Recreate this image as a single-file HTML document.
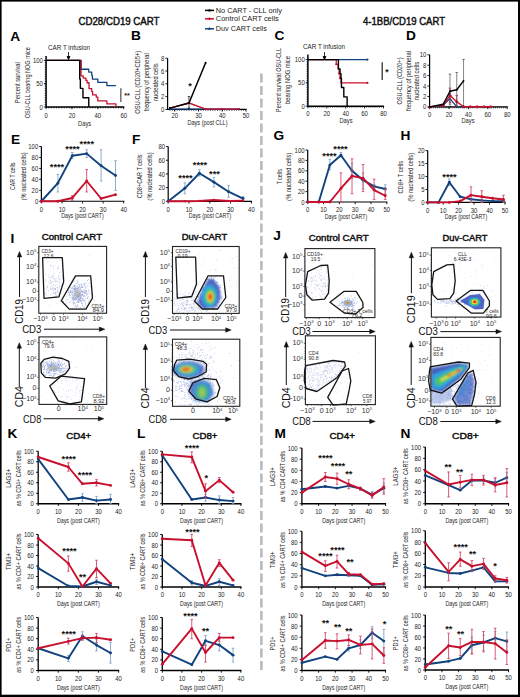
<!DOCTYPE html>
<html><head><meta charset="utf-8"><style>html,body{margin:0;padding:0;background:#fff;width:520px;height:697px;overflow:hidden}svg{display:block}</style></head>
<body><svg width="520" height="697" viewBox="0 0 520 697" font-family='"Liberation Sans", sans-serif'>
<rect width="520" height="697" fill="#fff"/>
<text x="119" y="25.4" font-size="10" text-anchor="middle" font-weight="normal" fill="#111" textLength="81" lengthAdjust="spacingAndGlyphs" stroke="#111" stroke-width="0.45">CD28/CD19 CART</text>
<text x="404" y="25.4" font-size="10" text-anchor="middle" font-weight="normal" fill="#111" textLength="82" lengthAdjust="spacingAndGlyphs" stroke="#111" stroke-width="0.45">4-1BB/CD19 CART</text>
<line x1="205.00" y1="10.40" x2="214.00" y2="10.40" stroke="#000" stroke-width="1.5"/>
<circle cx="209.5" cy="10.4" r="1.2" fill="#000"/>
<line x1="205.00" y1="18.80" x2="214.00" y2="18.80" stroke="#c8102e" stroke-width="1.5"/>
<circle cx="209.5" cy="18.8" r="1.2" fill="#c8102e"/>
<line x1="205.00" y1="28.80" x2="214.00" y2="28.80" stroke="#12427e" stroke-width="1.5"/>
<circle cx="209.5" cy="28.8" r="1.2" fill="#12427e"/>
<text x="215.8" y="13.0" font-size="8.0" text-anchor="start" font-weight="normal" fill="#222" textLength="66" lengthAdjust="spacingAndGlyphs">No CART - CLL only</text>
<text x="215.8" y="21.4" font-size="8.0" text-anchor="start" font-weight="normal" fill="#222" textLength="63" lengthAdjust="spacingAndGlyphs">Control CART cells</text>
<text x="215.8" y="31.4" font-size="8.0" text-anchor="start" font-weight="normal" fill="#222" textLength="51" lengthAdjust="spacingAndGlyphs">Duv CART cells</text>
<line x1="261.40" y1="73.50" x2="261.40" y2="671.00" stroke="#b9b9c1" stroke-width="2.6" stroke-dasharray="9,3.5"/>
<text x="10.2" y="40.8" font-size="13.7" text-anchor="start" font-weight="bold" fill="#000">A</text>
<text x="131" y="40.0" font-size="13.7" text-anchor="start" font-weight="bold" fill="#000">B</text>
<text x="274.6" y="40.0" font-size="13.7" text-anchor="start" font-weight="bold" fill="#000">C</text>
<text x="406" y="40.0" font-size="13.7" text-anchor="start" font-weight="bold" fill="#000">D</text>
<text x="11" y="143.75" font-size="13.7" text-anchor="start" font-weight="bold" fill="#000">E</text>
<text x="132" y="143.75" font-size="13.7" text-anchor="start" font-weight="bold" fill="#000">F</text>
<text x="273.6" y="139.5" font-size="13.7" text-anchor="start" font-weight="bold" fill="#000">G</text>
<text x="400.6" y="139.8" font-size="13.7" text-anchor="start" font-weight="bold" fill="#000">H</text>
<text x="10.6" y="243.2" font-size="13.7" text-anchor="start" font-weight="bold" fill="#000">I</text>
<text x="273.3" y="239.6" font-size="13.7" text-anchor="start" font-weight="bold" fill="#000">J</text>
<text x="7.5" y="438" font-size="13.7" text-anchor="start" font-weight="bold" fill="#000">K</text>
<text x="137" y="438" font-size="13.7" text-anchor="start" font-weight="bold" fill="#000">L</text>
<text x="274.5" y="438" font-size="13.7" text-anchor="start" font-weight="bold" fill="#000">M</text>
<text x="400.5" y="438" font-size="13.7" text-anchor="start" font-weight="bold" fill="#000">N</text>
<line x1="46.10" y1="107.00" x2="124.28" y2="107.00" stroke="#000" stroke-width="1.5"/>
<line x1="46.10" y1="107.60" x2="46.10" y2="55.90" stroke="#000" stroke-width="1.5"/>
<line x1="46.10" y1="107.00" x2="46.10" y2="109.20" stroke="#000" stroke-width="0.9"/>
<line x1="71.96" y1="107.00" x2="71.96" y2="109.20" stroke="#000" stroke-width="0.9"/>
<line x1="97.82" y1="107.00" x2="97.82" y2="109.20" stroke="#000" stroke-width="0.9"/>
<line x1="123.68" y1="107.00" x2="123.68" y2="109.20" stroke="#000" stroke-width="0.9"/>
<line x1="43.90" y1="107.00" x2="46.10" y2="107.00" stroke="#000" stroke-width="0.9"/>
<line x1="43.90" y1="83.70" x2="46.10" y2="83.70" stroke="#000" stroke-width="0.9"/>
<line x1="43.90" y1="60.40" x2="46.10" y2="60.40" stroke="#000" stroke-width="0.9"/>
<line x1="48.69" y1="107.00" x2="48.69" y2="108.40" stroke="#000" stroke-width="0.7"/>
<line x1="51.27" y1="107.00" x2="51.27" y2="108.40" stroke="#000" stroke-width="0.7"/>
<line x1="53.86" y1="107.00" x2="53.86" y2="108.40" stroke="#000" stroke-width="0.7"/>
<line x1="56.44" y1="107.00" x2="56.44" y2="108.40" stroke="#000" stroke-width="0.7"/>
<line x1="59.03" y1="107.00" x2="59.03" y2="108.40" stroke="#000" stroke-width="0.7"/>
<line x1="61.62" y1="107.00" x2="61.62" y2="108.40" stroke="#000" stroke-width="0.7"/>
<line x1="64.20" y1="107.00" x2="64.20" y2="108.40" stroke="#000" stroke-width="0.7"/>
<line x1="66.79" y1="107.00" x2="66.79" y2="108.40" stroke="#000" stroke-width="0.7"/>
<line x1="69.37" y1="107.00" x2="69.37" y2="108.40" stroke="#000" stroke-width="0.7"/>
<line x1="71.96" y1="107.00" x2="71.96" y2="108.40" stroke="#000" stroke-width="0.7"/>
<line x1="74.55" y1="107.00" x2="74.55" y2="108.40" stroke="#000" stroke-width="0.7"/>
<line x1="77.13" y1="107.00" x2="77.13" y2="108.40" stroke="#000" stroke-width="0.7"/>
<line x1="79.72" y1="107.00" x2="79.72" y2="108.40" stroke="#000" stroke-width="0.7"/>
<line x1="82.30" y1="107.00" x2="82.30" y2="108.40" stroke="#000" stroke-width="0.7"/>
<line x1="84.89" y1="107.00" x2="84.89" y2="108.40" stroke="#000" stroke-width="0.7"/>
<line x1="87.48" y1="107.00" x2="87.48" y2="108.40" stroke="#000" stroke-width="0.7"/>
<line x1="90.06" y1="107.00" x2="90.06" y2="108.40" stroke="#000" stroke-width="0.7"/>
<line x1="92.65" y1="107.00" x2="92.65" y2="108.40" stroke="#000" stroke-width="0.7"/>
<line x1="95.23" y1="107.00" x2="95.23" y2="108.40" stroke="#000" stroke-width="0.7"/>
<line x1="97.82" y1="107.00" x2="97.82" y2="108.40" stroke="#000" stroke-width="0.7"/>
<line x1="100.41" y1="107.00" x2="100.41" y2="108.40" stroke="#000" stroke-width="0.7"/>
<line x1="102.99" y1="107.00" x2="102.99" y2="108.40" stroke="#000" stroke-width="0.7"/>
<line x1="105.58" y1="107.00" x2="105.58" y2="108.40" stroke="#000" stroke-width="0.7"/>
<line x1="108.16" y1="107.00" x2="108.16" y2="108.40" stroke="#000" stroke-width="0.7"/>
<line x1="110.75" y1="107.00" x2="110.75" y2="108.40" stroke="#000" stroke-width="0.7"/>
<line x1="113.34" y1="107.00" x2="113.34" y2="108.40" stroke="#000" stroke-width="0.7"/>
<line x1="115.92" y1="107.00" x2="115.92" y2="108.40" stroke="#000" stroke-width="0.7"/>
<line x1="118.51" y1="107.00" x2="118.51" y2="108.40" stroke="#000" stroke-width="0.7"/>
<line x1="121.09" y1="107.00" x2="121.09" y2="108.40" stroke="#000" stroke-width="0.7"/>
<line x1="44.70" y1="104.67" x2="46.10" y2="104.67" stroke="#000" stroke-width="0.7"/>
<line x1="44.70" y1="102.34" x2="46.10" y2="102.34" stroke="#000" stroke-width="0.7"/>
<line x1="44.70" y1="100.01" x2="46.10" y2="100.01" stroke="#000" stroke-width="0.7"/>
<line x1="44.70" y1="97.68" x2="46.10" y2="97.68" stroke="#000" stroke-width="0.7"/>
<line x1="44.70" y1="95.35" x2="46.10" y2="95.35" stroke="#000" stroke-width="0.7"/>
<line x1="44.70" y1="93.02" x2="46.10" y2="93.02" stroke="#000" stroke-width="0.7"/>
<line x1="44.70" y1="90.69" x2="46.10" y2="90.69" stroke="#000" stroke-width="0.7"/>
<line x1="44.70" y1="88.36" x2="46.10" y2="88.36" stroke="#000" stroke-width="0.7"/>
<line x1="44.70" y1="86.03" x2="46.10" y2="86.03" stroke="#000" stroke-width="0.7"/>
<line x1="44.70" y1="83.70" x2="46.10" y2="83.70" stroke="#000" stroke-width="0.7"/>
<line x1="44.70" y1="81.37" x2="46.10" y2="81.37" stroke="#000" stroke-width="0.7"/>
<line x1="44.70" y1="79.04" x2="46.10" y2="79.04" stroke="#000" stroke-width="0.7"/>
<line x1="44.70" y1="76.71" x2="46.10" y2="76.71" stroke="#000" stroke-width="0.7"/>
<line x1="44.70" y1="74.38" x2="46.10" y2="74.38" stroke="#000" stroke-width="0.7"/>
<line x1="44.70" y1="72.05" x2="46.10" y2="72.05" stroke="#000" stroke-width="0.7"/>
<line x1="44.70" y1="69.72" x2="46.10" y2="69.72" stroke="#000" stroke-width="0.7"/>
<line x1="44.70" y1="67.39" x2="46.10" y2="67.39" stroke="#000" stroke-width="0.7"/>
<line x1="44.70" y1="65.06" x2="46.10" y2="65.06" stroke="#000" stroke-width="0.7"/>
<line x1="44.70" y1="62.73" x2="46.10" y2="62.73" stroke="#000" stroke-width="0.7"/>
<text x="46.10" y="117.80" font-size="7.1" text-anchor="middle" font-weight="normal" fill="#1e1e1e" textLength="3.3" lengthAdjust="spacingAndGlyphs">0</text>
<text x="71.96" y="117.80" font-size="7.1" text-anchor="middle" font-weight="normal" fill="#1e1e1e" textLength="6.6" lengthAdjust="spacingAndGlyphs">20</text>
<text x="97.82" y="117.80" font-size="7.1" text-anchor="middle" font-weight="normal" fill="#1e1e1e" textLength="6.6" lengthAdjust="spacingAndGlyphs">40</text>
<text x="123.68" y="117.80" font-size="7.1" text-anchor="middle" font-weight="normal" fill="#1e1e1e" textLength="6.6" lengthAdjust="spacingAndGlyphs">60</text>
<text x="42.90" y="109.56" font-size="7.1" text-anchor="end" font-weight="normal" fill="#1e1e1e" textLength="3.3" lengthAdjust="spacingAndGlyphs">0</text>
<text x="42.90" y="86.26" font-size="7.1" text-anchor="end" font-weight="normal" fill="#1e1e1e" textLength="6.6" lengthAdjust="spacingAndGlyphs">50</text>
<text x="42.90" y="62.96" font-size="7.1" text-anchor="end" font-weight="normal" fill="#1e1e1e" textLength="9.9" lengthAdjust="spacingAndGlyphs">100</text>
<text x="84.6" y="126" font-size="7.8" text-anchor="middle" font-weight="normal" fill="#1e1e1e" textLength="13" lengthAdjust="spacingAndGlyphs">Days</text>
<text x="17.80" y="82.70" font-size="8.0" text-anchor="middle" font-weight="normal" fill="#1e1e1e" textLength="41" lengthAdjust="spacingAndGlyphs" transform="rotate(-90 17.80 82.70)" dominant-baseline="central">Percent survival</text>
<text x="27.60" y="82.70" font-size="8.0" text-anchor="middle" font-weight="normal" fill="#1e1e1e" textLength="71" lengthAdjust="spacingAndGlyphs" transform="rotate(-90 27.60 82.70)" dominant-baseline="central">OSU-CLL bearing NOG mice</text>
<text x="69" y="49.6" font-size="6.6" text-anchor="middle" font-weight="normal" fill="#222" textLength="42" lengthAdjust="spacingAndGlyphs">CAR T infusion</text>
<line x1="68.50" y1="52.00" x2="68.50" y2="59.00" stroke="#000" stroke-width="0.8"/>
<polygon points="67.00,56.50 68.50,59.50 70.00,56.50" stroke="#000" stroke-width="0.8" fill="#000" stroke-linejoin="round"/>
<polyline points="46.10,60.40 81.01,60.40 81.01,69.25 88.77,69.25 88.77,72.05 91.74,72.05 91.74,75.31 92.39,75.31 92.39,79.04 97.82,79.04 97.82,82.30 106.87,82.30 106.87,85.56 115.92,85.56" stroke="#12427e" stroke-width="1.3" fill="none" stroke-linejoin="round"/>
<polyline points="46.10,60.40 81.01,60.40 81.01,75.78 83.21,75.78 83.21,78.11 85.92,78.11 85.92,80.44 87.09,80.44 87.09,82.77 89.03,82.77 89.03,88.59 91.74,88.59 91.74,91.62 92.65,91.62 92.65,94.88 96.27,94.88 96.27,97.21 97.82,97.21 97.82,100.94 106.87,100.94 106.87,103.92 115.92,103.92 115.92,107.00" stroke="#c8102e" stroke-width="1.3" fill="none" stroke-linejoin="round"/>
<polyline points="46.10,60.40 79.72,60.40 79.72,79.04 80.36,79.04 80.36,88.36 82.95,88.36 82.95,97.68 88.77,97.68 88.77,107.00" stroke="#000" stroke-width="1.4" fill="none" stroke-linejoin="round"/>
<line x1="120.80" y1="88.30" x2="120.80" y2="102.10" stroke="#777" stroke-width="1.6"/>
<text x="127" y="97.5" font-size="7" text-anchor="middle" font-weight="bold" fill="#222">**</text>
<line x1="167.60" y1="109.40" x2="246.60" y2="109.40" stroke="#000" stroke-width="1.2"/>
<line x1="167.60" y1="110.00" x2="167.60" y2="58.20" stroke="#000" stroke-width="1.2"/>
<line x1="174.73" y1="109.40" x2="174.73" y2="111.60" stroke="#000" stroke-width="0.9"/>
<line x1="198.50" y1="109.40" x2="198.50" y2="111.60" stroke="#000" stroke-width="0.9"/>
<line x1="222.27" y1="109.40" x2="222.27" y2="111.60" stroke="#000" stroke-width="0.9"/>
<line x1="246.04" y1="109.40" x2="246.04" y2="111.60" stroke="#000" stroke-width="0.9"/>
<line x1="165.40" y1="109.40" x2="167.60" y2="109.40" stroke="#000" stroke-width="0.9"/>
<line x1="165.40" y1="96.60" x2="167.60" y2="96.60" stroke="#000" stroke-width="0.9"/>
<line x1="165.40" y1="83.80" x2="167.60" y2="83.80" stroke="#000" stroke-width="0.9"/>
<line x1="165.40" y1="71.00" x2="167.60" y2="71.00" stroke="#000" stroke-width="0.9"/>
<line x1="165.40" y1="58.20" x2="167.60" y2="58.20" stroke="#000" stroke-width="0.9"/>
<line x1="169.98" y1="109.40" x2="169.98" y2="110.80" stroke="#000" stroke-width="0.7"/>
<line x1="172.35" y1="109.40" x2="172.35" y2="110.80" stroke="#000" stroke-width="0.7"/>
<line x1="174.73" y1="109.40" x2="174.73" y2="110.80" stroke="#000" stroke-width="0.7"/>
<line x1="177.11" y1="109.40" x2="177.11" y2="110.80" stroke="#000" stroke-width="0.7"/>
<line x1="179.48" y1="109.40" x2="179.48" y2="110.80" stroke="#000" stroke-width="0.7"/>
<line x1="181.86" y1="109.40" x2="181.86" y2="110.80" stroke="#000" stroke-width="0.7"/>
<line x1="184.24" y1="109.40" x2="184.24" y2="110.80" stroke="#000" stroke-width="0.7"/>
<line x1="186.62" y1="109.40" x2="186.62" y2="110.80" stroke="#000" stroke-width="0.7"/>
<line x1="188.99" y1="109.40" x2="188.99" y2="110.80" stroke="#000" stroke-width="0.7"/>
<line x1="191.37" y1="109.40" x2="191.37" y2="110.80" stroke="#000" stroke-width="0.7"/>
<line x1="193.75" y1="109.40" x2="193.75" y2="110.80" stroke="#000" stroke-width="0.7"/>
<line x1="196.12" y1="109.40" x2="196.12" y2="110.80" stroke="#000" stroke-width="0.7"/>
<line x1="198.50" y1="109.40" x2="198.50" y2="110.80" stroke="#000" stroke-width="0.7"/>
<line x1="200.88" y1="109.40" x2="200.88" y2="110.80" stroke="#000" stroke-width="0.7"/>
<line x1="203.25" y1="109.40" x2="203.25" y2="110.80" stroke="#000" stroke-width="0.7"/>
<line x1="205.63" y1="109.40" x2="205.63" y2="110.80" stroke="#000" stroke-width="0.7"/>
<line x1="208.01" y1="109.40" x2="208.01" y2="110.80" stroke="#000" stroke-width="0.7"/>
<line x1="210.39" y1="109.40" x2="210.39" y2="110.80" stroke="#000" stroke-width="0.7"/>
<line x1="212.76" y1="109.40" x2="212.76" y2="110.80" stroke="#000" stroke-width="0.7"/>
<line x1="215.14" y1="109.40" x2="215.14" y2="110.80" stroke="#000" stroke-width="0.7"/>
<line x1="217.52" y1="109.40" x2="217.52" y2="110.80" stroke="#000" stroke-width="0.7"/>
<line x1="219.89" y1="109.40" x2="219.89" y2="110.80" stroke="#000" stroke-width="0.7"/>
<line x1="222.27" y1="109.40" x2="222.27" y2="110.80" stroke="#000" stroke-width="0.7"/>
<line x1="224.65" y1="109.40" x2="224.65" y2="110.80" stroke="#000" stroke-width="0.7"/>
<line x1="227.02" y1="109.40" x2="227.02" y2="110.80" stroke="#000" stroke-width="0.7"/>
<line x1="229.40" y1="109.40" x2="229.40" y2="110.80" stroke="#000" stroke-width="0.7"/>
<line x1="231.78" y1="109.40" x2="231.78" y2="110.80" stroke="#000" stroke-width="0.7"/>
<line x1="234.16" y1="109.40" x2="234.16" y2="110.80" stroke="#000" stroke-width="0.7"/>
<line x1="236.53" y1="109.40" x2="236.53" y2="110.80" stroke="#000" stroke-width="0.7"/>
<line x1="238.91" y1="109.40" x2="238.91" y2="110.80" stroke="#000" stroke-width="0.7"/>
<line x1="241.29" y1="109.40" x2="241.29" y2="110.80" stroke="#000" stroke-width="0.7"/>
<line x1="243.66" y1="109.40" x2="243.66" y2="110.80" stroke="#000" stroke-width="0.7"/>
<text x="174.73" y="118.00" font-size="7.1" text-anchor="middle" font-weight="normal" fill="#1e1e1e" textLength="6.6" lengthAdjust="spacingAndGlyphs">20</text>
<text x="198.50" y="118.00" font-size="7.1" text-anchor="middle" font-weight="normal" fill="#1e1e1e" textLength="6.6" lengthAdjust="spacingAndGlyphs">30</text>
<text x="222.27" y="118.00" font-size="7.1" text-anchor="middle" font-weight="normal" fill="#1e1e1e" textLength="6.6" lengthAdjust="spacingAndGlyphs">40</text>
<text x="246.04" y="118.00" font-size="7.1" text-anchor="middle" font-weight="normal" fill="#1e1e1e" textLength="6.6" lengthAdjust="spacingAndGlyphs">50</text>
<text x="164.40" y="111.96" font-size="7.1" text-anchor="end" font-weight="normal" fill="#1e1e1e" textLength="3.3" lengthAdjust="spacingAndGlyphs">0</text>
<text x="164.40" y="99.16" font-size="7.1" text-anchor="end" font-weight="normal" fill="#1e1e1e" textLength="3.3" lengthAdjust="spacingAndGlyphs">2</text>
<text x="164.40" y="86.36" font-size="7.1" text-anchor="end" font-weight="normal" fill="#1e1e1e" textLength="3.3" lengthAdjust="spacingAndGlyphs">4</text>
<text x="164.40" y="73.56" font-size="7.1" text-anchor="end" font-weight="normal" fill="#1e1e1e" textLength="3.3" lengthAdjust="spacingAndGlyphs">6</text>
<text x="164.40" y="60.76" font-size="7.1" text-anchor="end" font-weight="normal" fill="#1e1e1e" textLength="3.3" lengthAdjust="spacingAndGlyphs">8</text>
<text x="207.5" y="124.5" font-size="7.8" text-anchor="middle" font-weight="normal" fill="#1e1e1e" textLength="40" lengthAdjust="spacingAndGlyphs">Days (post CLL)</text>
<text x="137.50" y="82.30" font-size="8.0" text-anchor="middle" font-weight="normal" fill="#1e1e1e" textLength="63" lengthAdjust="spacingAndGlyphs" transform="rotate(-90 137.50 82.30)" dominant-baseline="central">OSU-CLL (CD20+CD5+)</text>
<text x="146.40" y="82.30" font-size="8.0" text-anchor="middle" font-weight="normal" fill="#1e1e1e" textLength="58" lengthAdjust="spacingAndGlyphs" transform="rotate(-90 146.40 82.30)" dominant-baseline="central">frequency of peripheral</text>
<text x="155.30" y="82.30" font-size="8.0" text-anchor="middle" font-weight="normal" fill="#1e1e1e" textLength="37.7" lengthAdjust="spacingAndGlyphs" transform="rotate(-90 155.30 82.30)" dominant-baseline="central">nucleated cells</text>
<polyline points="169.98,109.08 188.99,109.08 205.63,109.08 222.27,109.08 238.91,109.08" stroke="#12427e" stroke-width="1.4" fill="none" stroke-linejoin="round"/>
<circle cx="169.98" cy="109.08" r="1.0" fill="#12427e"/>
<circle cx="188.99" cy="109.08" r="1.0" fill="#12427e"/>
<circle cx="205.63" cy="109.08" r="1.0" fill="#12427e"/>
<circle cx="222.27" cy="109.08" r="1.0" fill="#12427e"/>
<circle cx="238.91" cy="109.08" r="1.0" fill="#12427e"/>
<polyline points="169.98,108.12 188.99,103.00 205.63,109.08 222.27,109.08 238.91,109.08" stroke="#c8102e" stroke-width="1.4" fill="none" stroke-linejoin="round"/>
<circle cx="169.98" cy="108.12" r="1.0" fill="#c8102e"/>
<circle cx="188.99" cy="103.00" r="1.0" fill="#c8102e"/>
<circle cx="205.63" cy="109.08" r="1.0" fill="#c8102e"/>
<circle cx="222.27" cy="109.08" r="1.0" fill="#c8102e"/>
<circle cx="238.91" cy="109.08" r="1.0" fill="#c8102e"/>
<line x1="188.99" y1="108.12" x2="188.99" y2="96.60" stroke="#000" stroke-width="0.7"/>
<line x1="187.69" y1="108.12" x2="190.29" y2="108.12" stroke="#000" stroke-width="0.7"/>
<line x1="187.69" y1="96.60" x2="190.29" y2="96.60" stroke="#000" stroke-width="0.7"/>
<polyline points="169.98,108.12 188.99,103.00 205.63,62.68" stroke="#000" stroke-width="1.5" fill="none" stroke-linejoin="round"/>
<circle cx="169.98" cy="108.12" r="1.0" fill="#000"/>
<circle cx="188.99" cy="103.00" r="1.0" fill="#000"/>
<circle cx="205.63" cy="62.68" r="1.0" fill="#000"/>
<text x="190.00" y="88.50" font-size="9.0" text-anchor="middle" font-weight="bold" fill="#111" textLength="3.60" lengthAdjust="spacingAndGlyphs">*</text>
<line x1="307.90" y1="106.20" x2="384.10" y2="106.20" stroke="#000" stroke-width="1.5"/>
<line x1="307.90" y1="106.80" x2="307.90" y2="54.60" stroke="#000" stroke-width="1.5"/>
<line x1="307.90" y1="106.20" x2="307.90" y2="108.40" stroke="#000" stroke-width="0.9"/>
<line x1="326.80" y1="106.20" x2="326.80" y2="108.40" stroke="#000" stroke-width="0.9"/>
<line x1="345.70" y1="106.20" x2="345.70" y2="108.40" stroke="#000" stroke-width="0.9"/>
<line x1="364.60" y1="106.20" x2="364.60" y2="108.40" stroke="#000" stroke-width="0.9"/>
<line x1="383.50" y1="106.20" x2="383.50" y2="108.40" stroke="#000" stroke-width="0.9"/>
<line x1="305.70" y1="106.20" x2="307.90" y2="106.20" stroke="#000" stroke-width="0.9"/>
<line x1="305.70" y1="82.90" x2="307.90" y2="82.90" stroke="#000" stroke-width="0.9"/>
<line x1="305.70" y1="59.60" x2="307.90" y2="59.60" stroke="#000" stroke-width="0.9"/>
<line x1="309.79" y1="106.20" x2="309.79" y2="107.60" stroke="#000" stroke-width="0.7"/>
<line x1="311.68" y1="106.20" x2="311.68" y2="107.60" stroke="#000" stroke-width="0.7"/>
<line x1="313.57" y1="106.20" x2="313.57" y2="107.60" stroke="#000" stroke-width="0.7"/>
<line x1="315.46" y1="106.20" x2="315.46" y2="107.60" stroke="#000" stroke-width="0.7"/>
<line x1="317.35" y1="106.20" x2="317.35" y2="107.60" stroke="#000" stroke-width="0.7"/>
<line x1="319.24" y1="106.20" x2="319.24" y2="107.60" stroke="#000" stroke-width="0.7"/>
<line x1="321.13" y1="106.20" x2="321.13" y2="107.60" stroke="#000" stroke-width="0.7"/>
<line x1="323.02" y1="106.20" x2="323.02" y2="107.60" stroke="#000" stroke-width="0.7"/>
<line x1="324.91" y1="106.20" x2="324.91" y2="107.60" stroke="#000" stroke-width="0.7"/>
<line x1="326.80" y1="106.20" x2="326.80" y2="107.60" stroke="#000" stroke-width="0.7"/>
<line x1="328.69" y1="106.20" x2="328.69" y2="107.60" stroke="#000" stroke-width="0.7"/>
<line x1="330.58" y1="106.20" x2="330.58" y2="107.60" stroke="#000" stroke-width="0.7"/>
<line x1="332.47" y1="106.20" x2="332.47" y2="107.60" stroke="#000" stroke-width="0.7"/>
<line x1="334.36" y1="106.20" x2="334.36" y2="107.60" stroke="#000" stroke-width="0.7"/>
<line x1="336.25" y1="106.20" x2="336.25" y2="107.60" stroke="#000" stroke-width="0.7"/>
<line x1="338.14" y1="106.20" x2="338.14" y2="107.60" stroke="#000" stroke-width="0.7"/>
<line x1="340.03" y1="106.20" x2="340.03" y2="107.60" stroke="#000" stroke-width="0.7"/>
<line x1="341.92" y1="106.20" x2="341.92" y2="107.60" stroke="#000" stroke-width="0.7"/>
<line x1="343.81" y1="106.20" x2="343.81" y2="107.60" stroke="#000" stroke-width="0.7"/>
<line x1="345.70" y1="106.20" x2="345.70" y2="107.60" stroke="#000" stroke-width="0.7"/>
<line x1="347.59" y1="106.20" x2="347.59" y2="107.60" stroke="#000" stroke-width="0.7"/>
<line x1="349.48" y1="106.20" x2="349.48" y2="107.60" stroke="#000" stroke-width="0.7"/>
<line x1="351.37" y1="106.20" x2="351.37" y2="107.60" stroke="#000" stroke-width="0.7"/>
<line x1="353.26" y1="106.20" x2="353.26" y2="107.60" stroke="#000" stroke-width="0.7"/>
<line x1="355.15" y1="106.20" x2="355.15" y2="107.60" stroke="#000" stroke-width="0.7"/>
<line x1="357.04" y1="106.20" x2="357.04" y2="107.60" stroke="#000" stroke-width="0.7"/>
<line x1="358.93" y1="106.20" x2="358.93" y2="107.60" stroke="#000" stroke-width="0.7"/>
<line x1="360.82" y1="106.20" x2="360.82" y2="107.60" stroke="#000" stroke-width="0.7"/>
<line x1="362.71" y1="106.20" x2="362.71" y2="107.60" stroke="#000" stroke-width="0.7"/>
<line x1="364.60" y1="106.20" x2="364.60" y2="107.60" stroke="#000" stroke-width="0.7"/>
<line x1="366.49" y1="106.20" x2="366.49" y2="107.60" stroke="#000" stroke-width="0.7"/>
<line x1="368.38" y1="106.20" x2="368.38" y2="107.60" stroke="#000" stroke-width="0.7"/>
<line x1="370.27" y1="106.20" x2="370.27" y2="107.60" stroke="#000" stroke-width="0.7"/>
<line x1="372.16" y1="106.20" x2="372.16" y2="107.60" stroke="#000" stroke-width="0.7"/>
<line x1="374.05" y1="106.20" x2="374.05" y2="107.60" stroke="#000" stroke-width="0.7"/>
<line x1="375.94" y1="106.20" x2="375.94" y2="107.60" stroke="#000" stroke-width="0.7"/>
<line x1="377.83" y1="106.20" x2="377.83" y2="107.60" stroke="#000" stroke-width="0.7"/>
<line x1="379.72" y1="106.20" x2="379.72" y2="107.60" stroke="#000" stroke-width="0.7"/>
<line x1="381.61" y1="106.20" x2="381.61" y2="107.60" stroke="#000" stroke-width="0.7"/>
<line x1="306.50" y1="103.87" x2="307.90" y2="103.87" stroke="#000" stroke-width="0.7"/>
<line x1="306.50" y1="101.54" x2="307.90" y2="101.54" stroke="#000" stroke-width="0.7"/>
<line x1="306.50" y1="99.21" x2="307.90" y2="99.21" stroke="#000" stroke-width="0.7"/>
<line x1="306.50" y1="96.88" x2="307.90" y2="96.88" stroke="#000" stroke-width="0.7"/>
<line x1="306.50" y1="94.55" x2="307.90" y2="94.55" stroke="#000" stroke-width="0.7"/>
<line x1="306.50" y1="92.22" x2="307.90" y2="92.22" stroke="#000" stroke-width="0.7"/>
<line x1="306.50" y1="89.89" x2="307.90" y2="89.89" stroke="#000" stroke-width="0.7"/>
<line x1="306.50" y1="87.56" x2="307.90" y2="87.56" stroke="#000" stroke-width="0.7"/>
<line x1="306.50" y1="85.23" x2="307.90" y2="85.23" stroke="#000" stroke-width="0.7"/>
<line x1="306.50" y1="82.90" x2="307.90" y2="82.90" stroke="#000" stroke-width="0.7"/>
<line x1="306.50" y1="80.57" x2="307.90" y2="80.57" stroke="#000" stroke-width="0.7"/>
<line x1="306.50" y1="78.24" x2="307.90" y2="78.24" stroke="#000" stroke-width="0.7"/>
<line x1="306.50" y1="75.91" x2="307.90" y2="75.91" stroke="#000" stroke-width="0.7"/>
<line x1="306.50" y1="73.58" x2="307.90" y2="73.58" stroke="#000" stroke-width="0.7"/>
<line x1="306.50" y1="71.25" x2="307.90" y2="71.25" stroke="#000" stroke-width="0.7"/>
<line x1="306.50" y1="68.92" x2="307.90" y2="68.92" stroke="#000" stroke-width="0.7"/>
<line x1="306.50" y1="66.59" x2="307.90" y2="66.59" stroke="#000" stroke-width="0.7"/>
<line x1="306.50" y1="64.26" x2="307.90" y2="64.26" stroke="#000" stroke-width="0.7"/>
<line x1="306.50" y1="61.93" x2="307.90" y2="61.93" stroke="#000" stroke-width="0.7"/>
<text x="307.90" y="116.20" font-size="7.1" text-anchor="middle" font-weight="normal" fill="#1e1e1e" textLength="3.3" lengthAdjust="spacingAndGlyphs">0</text>
<text x="326.80" y="116.20" font-size="7.1" text-anchor="middle" font-weight="normal" fill="#1e1e1e" textLength="6.6" lengthAdjust="spacingAndGlyphs">20</text>
<text x="345.70" y="116.20" font-size="7.1" text-anchor="middle" font-weight="normal" fill="#1e1e1e" textLength="6.6" lengthAdjust="spacingAndGlyphs">40</text>
<text x="364.60" y="116.20" font-size="7.1" text-anchor="middle" font-weight="normal" fill="#1e1e1e" textLength="6.6" lengthAdjust="spacingAndGlyphs">60</text>
<text x="383.50" y="116.20" font-size="7.1" text-anchor="middle" font-weight="normal" fill="#1e1e1e" textLength="6.6" lengthAdjust="spacingAndGlyphs">80</text>
<text x="304.70" y="108.76" font-size="7.1" text-anchor="end" font-weight="normal" fill="#1e1e1e" textLength="3.3" lengthAdjust="spacingAndGlyphs">0</text>
<text x="304.70" y="85.46" font-size="7.1" text-anchor="end" font-weight="normal" fill="#1e1e1e" textLength="6.6" lengthAdjust="spacingAndGlyphs">50</text>
<text x="304.70" y="62.16" font-size="7.1" text-anchor="end" font-weight="normal" fill="#1e1e1e" textLength="9.9" lengthAdjust="spacingAndGlyphs">100</text>
<text x="346" y="123" font-size="7.8" text-anchor="middle" font-weight="normal" fill="#1e1e1e" textLength="13" lengthAdjust="spacingAndGlyphs">Days</text>
<text x="278.40" y="80.00" font-size="8.0" text-anchor="middle" font-weight="normal" fill="#1e1e1e" textLength="64" lengthAdjust="spacingAndGlyphs" transform="rotate(-90 278.40 80.00)" dominant-baseline="central">Percent survival OSU-CLL</text>
<text x="287.60" y="80.00" font-size="8.0" text-anchor="middle" font-weight="normal" fill="#1e1e1e" textLength="48" lengthAdjust="spacingAndGlyphs" transform="rotate(-90 287.60 80.00)" dominant-baseline="central">bearing NOG mice</text>
<text x="324" y="49.4" font-size="6.6" text-anchor="middle" font-weight="normal" fill="#222" textLength="42" lengthAdjust="spacingAndGlyphs">CAR T infusion</text>
<line x1="324.50" y1="52.00" x2="324.50" y2="59.00" stroke="#000" stroke-width="0.8"/>
<polygon points="323.00,56.50 324.50,59.50 326.00,56.50" stroke="#000" stroke-width="0.8" fill="#000" stroke-linejoin="round"/>
<polyline points="307.90,59.60 367.43,59.60" stroke="#12427e" stroke-width="1.2" fill="none" stroke-linejoin="round"/>
<circle cx="367.43" cy="59.60" r="1.1" fill="#12427e"/>
<polyline points="307.90,59.60 336.25,59.60 336.25,64.26 338.14,64.26 338.14,68.92 339.08,68.92 339.08,73.58 340.03,73.58 340.03,78.24 340.97,78.24 340.97,82.90 367.43,82.90" stroke="#c8102e" stroke-width="1.2" fill="none" stroke-linejoin="round"/>
<circle cx="336.25" cy="64.26" r="1.1" fill="#c8102e"/>
<circle cx="339.08" cy="73.58" r="1.1" fill="#c8102e"/>
<circle cx="340.03" cy="78.24" r="1.1" fill="#c8102e"/>
<circle cx="367.43" cy="82.90" r="1.1" fill="#c8102e"/>
<polyline points="307.90,59.60 338.42,59.60 338.42,68.92 340.03,68.92 340.03,73.58 340.97,73.58 340.97,78.24 341.45,78.24 341.45,87.56 343.81,87.56 343.81,96.88 347.12,96.88 347.12,106.20" stroke="#000" stroke-width="1.4" fill="none" stroke-linejoin="round"/>
<line x1="382.20" y1="62.30" x2="382.20" y2="80.00" stroke="#222" stroke-width="1.2"/>
<text x="387" y="74.8" font-size="8.6" text-anchor="middle" font-weight="bold" fill="#111">*</text>
<line x1="429.60" y1="106.90" x2="507.80" y2="106.90" stroke="#000" stroke-width="1.2"/>
<line x1="429.60" y1="107.50" x2="429.60" y2="54.80" stroke="#000" stroke-width="1.2"/>
<line x1="429.60" y1="106.90" x2="429.60" y2="109.10" stroke="#000" stroke-width="0.9"/>
<line x1="449.00" y1="106.90" x2="449.00" y2="109.10" stroke="#000" stroke-width="0.9"/>
<line x1="468.40" y1="106.90" x2="468.40" y2="109.10" stroke="#000" stroke-width="0.9"/>
<line x1="487.80" y1="106.90" x2="487.80" y2="109.10" stroke="#000" stroke-width="0.9"/>
<line x1="507.20" y1="106.90" x2="507.20" y2="109.10" stroke="#000" stroke-width="0.9"/>
<line x1="427.40" y1="106.90" x2="429.60" y2="106.90" stroke="#000" stroke-width="0.9"/>
<line x1="427.40" y1="96.48" x2="429.60" y2="96.48" stroke="#000" stroke-width="0.9"/>
<line x1="427.40" y1="86.06" x2="429.60" y2="86.06" stroke="#000" stroke-width="0.9"/>
<line x1="427.40" y1="75.64" x2="429.60" y2="75.64" stroke="#000" stroke-width="0.9"/>
<line x1="427.40" y1="65.22" x2="429.60" y2="65.22" stroke="#000" stroke-width="0.9"/>
<line x1="427.40" y1="54.80" x2="429.60" y2="54.80" stroke="#000" stroke-width="0.9"/>
<line x1="431.54" y1="106.90" x2="431.54" y2="108.30" stroke="#000" stroke-width="0.7"/>
<line x1="433.48" y1="106.90" x2="433.48" y2="108.30" stroke="#000" stroke-width="0.7"/>
<line x1="435.42" y1="106.90" x2="435.42" y2="108.30" stroke="#000" stroke-width="0.7"/>
<line x1="437.36" y1="106.90" x2="437.36" y2="108.30" stroke="#000" stroke-width="0.7"/>
<line x1="439.30" y1="106.90" x2="439.30" y2="108.30" stroke="#000" stroke-width="0.7"/>
<line x1="441.24" y1="106.90" x2="441.24" y2="108.30" stroke="#000" stroke-width="0.7"/>
<line x1="443.18" y1="106.90" x2="443.18" y2="108.30" stroke="#000" stroke-width="0.7"/>
<line x1="445.12" y1="106.90" x2="445.12" y2="108.30" stroke="#000" stroke-width="0.7"/>
<line x1="447.06" y1="106.90" x2="447.06" y2="108.30" stroke="#000" stroke-width="0.7"/>
<line x1="449.00" y1="106.90" x2="449.00" y2="108.30" stroke="#000" stroke-width="0.7"/>
<line x1="450.94" y1="106.90" x2="450.94" y2="108.30" stroke="#000" stroke-width="0.7"/>
<line x1="452.88" y1="106.90" x2="452.88" y2="108.30" stroke="#000" stroke-width="0.7"/>
<line x1="454.82" y1="106.90" x2="454.82" y2="108.30" stroke="#000" stroke-width="0.7"/>
<line x1="456.76" y1="106.90" x2="456.76" y2="108.30" stroke="#000" stroke-width="0.7"/>
<line x1="458.70" y1="106.90" x2="458.70" y2="108.30" stroke="#000" stroke-width="0.7"/>
<line x1="460.64" y1="106.90" x2="460.64" y2="108.30" stroke="#000" stroke-width="0.7"/>
<line x1="462.58" y1="106.90" x2="462.58" y2="108.30" stroke="#000" stroke-width="0.7"/>
<line x1="464.52" y1="106.90" x2="464.52" y2="108.30" stroke="#000" stroke-width="0.7"/>
<line x1="466.46" y1="106.90" x2="466.46" y2="108.30" stroke="#000" stroke-width="0.7"/>
<line x1="468.40" y1="106.90" x2="468.40" y2="108.30" stroke="#000" stroke-width="0.7"/>
<line x1="470.34" y1="106.90" x2="470.34" y2="108.30" stroke="#000" stroke-width="0.7"/>
<line x1="472.28" y1="106.90" x2="472.28" y2="108.30" stroke="#000" stroke-width="0.7"/>
<line x1="474.22" y1="106.90" x2="474.22" y2="108.30" stroke="#000" stroke-width="0.7"/>
<line x1="476.16" y1="106.90" x2="476.16" y2="108.30" stroke="#000" stroke-width="0.7"/>
<line x1="478.10" y1="106.90" x2="478.10" y2="108.30" stroke="#000" stroke-width="0.7"/>
<line x1="480.04" y1="106.90" x2="480.04" y2="108.30" stroke="#000" stroke-width="0.7"/>
<line x1="481.98" y1="106.90" x2="481.98" y2="108.30" stroke="#000" stroke-width="0.7"/>
<line x1="483.92" y1="106.90" x2="483.92" y2="108.30" stroke="#000" stroke-width="0.7"/>
<line x1="485.86" y1="106.90" x2="485.86" y2="108.30" stroke="#000" stroke-width="0.7"/>
<line x1="487.80" y1="106.90" x2="487.80" y2="108.30" stroke="#000" stroke-width="0.7"/>
<line x1="489.74" y1="106.90" x2="489.74" y2="108.30" stroke="#000" stroke-width="0.7"/>
<line x1="491.68" y1="106.90" x2="491.68" y2="108.30" stroke="#000" stroke-width="0.7"/>
<line x1="493.62" y1="106.90" x2="493.62" y2="108.30" stroke="#000" stroke-width="0.7"/>
<line x1="495.56" y1="106.90" x2="495.56" y2="108.30" stroke="#000" stroke-width="0.7"/>
<line x1="497.50" y1="106.90" x2="497.50" y2="108.30" stroke="#000" stroke-width="0.7"/>
<line x1="499.44" y1="106.90" x2="499.44" y2="108.30" stroke="#000" stroke-width="0.7"/>
<line x1="501.38" y1="106.90" x2="501.38" y2="108.30" stroke="#000" stroke-width="0.7"/>
<line x1="503.32" y1="106.90" x2="503.32" y2="108.30" stroke="#000" stroke-width="0.7"/>
<line x1="505.26" y1="106.90" x2="505.26" y2="108.30" stroke="#000" stroke-width="0.7"/>
<text x="429.60" y="117.30" font-size="7.1" text-anchor="middle" font-weight="normal" fill="#1e1e1e" textLength="3.3" lengthAdjust="spacingAndGlyphs">0</text>
<text x="449.00" y="117.30" font-size="7.1" text-anchor="middle" font-weight="normal" fill="#1e1e1e" textLength="6.6" lengthAdjust="spacingAndGlyphs">20</text>
<text x="468.40" y="117.30" font-size="7.1" text-anchor="middle" font-weight="normal" fill="#1e1e1e" textLength="6.6" lengthAdjust="spacingAndGlyphs">40</text>
<text x="487.80" y="117.30" font-size="7.1" text-anchor="middle" font-weight="normal" fill="#1e1e1e" textLength="6.6" lengthAdjust="spacingAndGlyphs">60</text>
<text x="507.20" y="117.30" font-size="7.1" text-anchor="middle" font-weight="normal" fill="#1e1e1e" textLength="6.6" lengthAdjust="spacingAndGlyphs">80</text>
<text x="426.40" y="109.46" font-size="7.1" text-anchor="end" font-weight="normal" fill="#1e1e1e" textLength="3.3" lengthAdjust="spacingAndGlyphs">0</text>
<text x="426.40" y="99.04" font-size="7.1" text-anchor="end" font-weight="normal" fill="#1e1e1e" textLength="3.3" lengthAdjust="spacingAndGlyphs">2</text>
<text x="426.40" y="88.62" font-size="7.1" text-anchor="end" font-weight="normal" fill="#1e1e1e" textLength="3.3" lengthAdjust="spacingAndGlyphs">4</text>
<text x="426.40" y="78.20" font-size="7.1" text-anchor="end" font-weight="normal" fill="#1e1e1e" textLength="3.3" lengthAdjust="spacingAndGlyphs">6</text>
<text x="426.40" y="67.78" font-size="7.1" text-anchor="end" font-weight="normal" fill="#1e1e1e" textLength="3.3" lengthAdjust="spacingAndGlyphs">8</text>
<text x="426.40" y="57.36" font-size="7.1" text-anchor="end" font-weight="normal" fill="#1e1e1e" textLength="6.6" lengthAdjust="spacingAndGlyphs">10</text>
<text x="468" y="122.5" font-size="7.8" text-anchor="middle" font-weight="normal" fill="#1e1e1e" textLength="13" lengthAdjust="spacingAndGlyphs">Days</text>
<text x="399.80" y="81.00" font-size="8.0" text-anchor="middle" font-weight="normal" fill="#1e1e1e" textLength="47" lengthAdjust="spacingAndGlyphs" transform="rotate(-90 399.80 81.00)" dominant-baseline="central">OSU-CLL (CD20+)</text>
<text x="408.00" y="81.00" font-size="8.0" text-anchor="middle" font-weight="normal" fill="#1e1e1e" textLength="60" lengthAdjust="spacingAndGlyphs" transform="rotate(-90 408.00 81.00)" dominant-baseline="central">frequency of peripheral</text>
<text x="416.20" y="81.00" font-size="8.0" text-anchor="middle" font-weight="normal" fill="#1e1e1e" textLength="38.5" lengthAdjust="spacingAndGlyphs" transform="rotate(-90 416.20 81.00)" dominant-baseline="central">nucleated cells</text>
<line x1="449.97" y1="104.30" x2="449.97" y2="93.35" stroke="#7fa6cc" stroke-width="0.9"/>
<line x1="448.67" y1="104.30" x2="451.27" y2="104.30" stroke="#7fa6cc" stroke-width="0.9"/>
<line x1="448.67" y1="93.35" x2="451.27" y2="93.35" stroke="#7fa6cc" stroke-width="0.9"/>
<polyline points="429.60,106.90 443.18,105.34 449.97,98.56 456.76,106.90 463.55,106.90" stroke="#12427e" stroke-width="1.3" fill="none" stroke-linejoin="round"/>
<circle cx="429.60" cy="106.90" r="0.9" fill="#12427e"/>
<circle cx="443.18" cy="105.34" r="0.9" fill="#12427e"/>
<circle cx="449.97" cy="98.56" r="0.9" fill="#12427e"/>
<circle cx="456.76" cy="106.90" r="0.9" fill="#12427e"/>
<circle cx="463.55" cy="106.90" r="0.9" fill="#12427e"/>
<line x1="449.97" y1="102.73" x2="449.97" y2="88.14" stroke="#d5486a" stroke-width="0.9"/>
<line x1="448.67" y1="102.73" x2="451.27" y2="102.73" stroke="#d5486a" stroke-width="0.9"/>
<line x1="448.67" y1="88.14" x2="451.27" y2="88.14" stroke="#d5486a" stroke-width="0.9"/>
<line x1="456.76" y1="105.86" x2="456.76" y2="95.44" stroke="#d5486a" stroke-width="0.9"/>
<line x1="455.46" y1="105.86" x2="458.06" y2="105.86" stroke="#d5486a" stroke-width="0.9"/>
<line x1="455.46" y1="95.44" x2="458.06" y2="95.44" stroke="#d5486a" stroke-width="0.9"/>
<polyline points="429.60,106.90 443.18,105.34 449.97,95.44 456.76,101.69 463.55,106.64 470.34,106.64 477.13,106.64 483.92,106.64 490.71,106.64" stroke="#c8102e" stroke-width="1.3" fill="none" stroke-linejoin="round"/>
<circle cx="429.60" cy="106.90" r="1.5" fill="#c8102e"/>
<circle cx="443.18" cy="105.34" r="1.5" fill="#c8102e"/>
<circle cx="449.97" cy="95.44" r="1.5" fill="#c8102e"/>
<circle cx="456.76" cy="101.69" r="1.5" fill="#c8102e"/>
<circle cx="463.55" cy="106.64" r="1.5" fill="#c8102e"/>
<circle cx="470.34" cy="106.64" r="1.5" fill="#c8102e"/>
<circle cx="477.13" cy="106.64" r="1.5" fill="#c8102e"/>
<circle cx="483.92" cy="106.64" r="1.5" fill="#c8102e"/>
<circle cx="490.71" cy="106.64" r="1.5" fill="#c8102e"/>
<line x1="449.97" y1="106.90" x2="449.97" y2="74.08" stroke="#333" stroke-width="0.6"/>
<line x1="448.67" y1="106.90" x2="451.27" y2="106.90" stroke="#333" stroke-width="0.6"/>
<line x1="448.67" y1="74.08" x2="451.27" y2="74.08" stroke="#333" stroke-width="0.6"/>
<line x1="456.76" y1="106.90" x2="456.76" y2="72.51" stroke="#333" stroke-width="0.6"/>
<line x1="455.46" y1="106.90" x2="458.06" y2="106.90" stroke="#333" stroke-width="0.6"/>
<line x1="455.46" y1="72.51" x2="458.06" y2="72.51" stroke="#333" stroke-width="0.6"/>
<line x1="463.55" y1="106.90" x2="463.55" y2="59.49" stroke="#333" stroke-width="0.6"/>
<line x1="462.25" y1="106.90" x2="464.85" y2="106.90" stroke="#333" stroke-width="0.6"/>
<line x1="462.25" y1="59.49" x2="464.85" y2="59.49" stroke="#333" stroke-width="0.6"/>
<polyline points="429.60,106.90 443.18,104.30 449.97,91.27 456.76,89.71 463.55,80.85" stroke="#000" stroke-width="1.4" fill="none" stroke-linejoin="round"/>
<circle cx="429.60" cy="106.90" r="0.9" fill="#000"/>
<circle cx="443.18" cy="104.30" r="0.9" fill="#000"/>
<circle cx="449.97" cy="91.27" r="0.9" fill="#000"/>
<circle cx="456.76" cy="89.71" r="0.9" fill="#000"/>
<circle cx="463.55" cy="80.85" r="0.9" fill="#000"/>
<line x1="41.40" y1="201.25" x2="124.32" y2="201.25" stroke="#000" stroke-width="1.2"/>
<line x1="41.40" y1="201.85" x2="41.40" y2="146.50" stroke="#000" stroke-width="1.2"/>
<line x1="41.40" y1="201.25" x2="41.40" y2="203.45" stroke="#000" stroke-width="0.9"/>
<line x1="61.98" y1="201.25" x2="61.98" y2="203.45" stroke="#000" stroke-width="0.9"/>
<line x1="82.56" y1="201.25" x2="82.56" y2="203.45" stroke="#000" stroke-width="0.9"/>
<line x1="103.14" y1="201.25" x2="103.14" y2="203.45" stroke="#000" stroke-width="0.9"/>
<line x1="123.72" y1="201.25" x2="123.72" y2="203.45" stroke="#000" stroke-width="0.9"/>
<line x1="39.20" y1="201.25" x2="41.40" y2="201.25" stroke="#000" stroke-width="0.9"/>
<line x1="39.20" y1="190.30" x2="41.40" y2="190.30" stroke="#000" stroke-width="0.9"/>
<line x1="39.20" y1="179.35" x2="41.40" y2="179.35" stroke="#000" stroke-width="0.9"/>
<line x1="39.20" y1="168.40" x2="41.40" y2="168.40" stroke="#000" stroke-width="0.9"/>
<line x1="39.20" y1="157.45" x2="41.40" y2="157.45" stroke="#000" stroke-width="0.9"/>
<line x1="39.20" y1="146.50" x2="41.40" y2="146.50" stroke="#000" stroke-width="0.9"/>
<text x="41.40" y="211.65" font-size="7.1" text-anchor="middle" font-weight="normal" fill="#1e1e1e" textLength="3.3" lengthAdjust="spacingAndGlyphs">0</text>
<text x="61.98" y="211.65" font-size="7.1" text-anchor="middle" font-weight="normal" fill="#1e1e1e" textLength="6.6" lengthAdjust="spacingAndGlyphs">10</text>
<text x="82.56" y="211.65" font-size="7.1" text-anchor="middle" font-weight="normal" fill="#1e1e1e" textLength="6.6" lengthAdjust="spacingAndGlyphs">20</text>
<text x="103.14" y="211.65" font-size="7.1" text-anchor="middle" font-weight="normal" fill="#1e1e1e" textLength="6.6" lengthAdjust="spacingAndGlyphs">30</text>
<text x="123.72" y="211.65" font-size="7.1" text-anchor="middle" font-weight="normal" fill="#1e1e1e" textLength="6.6" lengthAdjust="spacingAndGlyphs">40</text>
<text x="38.20" y="203.81" font-size="7.1" text-anchor="end" font-weight="normal" fill="#1e1e1e" textLength="3.3" lengthAdjust="spacingAndGlyphs">0</text>
<text x="38.20" y="192.86" font-size="7.1" text-anchor="end" font-weight="normal" fill="#1e1e1e" textLength="6.6" lengthAdjust="spacingAndGlyphs">20</text>
<text x="38.20" y="181.91" font-size="7.1" text-anchor="end" font-weight="normal" fill="#1e1e1e" textLength="6.6" lengthAdjust="spacingAndGlyphs">40</text>
<text x="38.20" y="170.96" font-size="7.1" text-anchor="end" font-weight="normal" fill="#1e1e1e" textLength="6.6" lengthAdjust="spacingAndGlyphs">60</text>
<text x="38.20" y="160.01" font-size="7.1" text-anchor="end" font-weight="normal" fill="#1e1e1e" textLength="6.6" lengthAdjust="spacingAndGlyphs">80</text>
<text x="38.20" y="149.06" font-size="7.1" text-anchor="end" font-weight="normal" fill="#1e1e1e" textLength="9.9" lengthAdjust="spacingAndGlyphs">100</text>
<text x="82.5" y="218" font-size="7.8" text-anchor="middle" font-weight="normal" fill="#1e1e1e" textLength="42.5" lengthAdjust="spacingAndGlyphs">Days (post CART)</text>
<text x="13.00" y="176.30" font-size="8.0" text-anchor="middle" font-weight="normal" fill="#1e1e1e" textLength="27.6" lengthAdjust="spacingAndGlyphs" transform="rotate(-90 13.00 176.30)" dominant-baseline="central">CAR T cells</text>
<text x="23.10" y="176.30" font-size="8.0" text-anchor="middle" font-weight="normal" fill="#1e1e1e" textLength="48" lengthAdjust="spacingAndGlyphs" transform="rotate(-90 23.10 176.30)" dominant-baseline="central">(% nucleated cells)</text>
<line x1="57.86" y1="191.94" x2="57.86" y2="174.42" stroke="#7fa6cc" stroke-width="0.9"/>
<line x1="56.56" y1="191.94" x2="59.16" y2="191.94" stroke="#7fa6cc" stroke-width="0.9"/>
<line x1="56.56" y1="174.42" x2="59.16" y2="174.42" stroke="#7fa6cc" stroke-width="0.9"/>
<line x1="72.27" y1="158.55" x2="72.27" y2="152.52" stroke="#7fa6cc" stroke-width="0.9"/>
<line x1="70.97" y1="158.55" x2="73.57" y2="158.55" stroke="#7fa6cc" stroke-width="0.9"/>
<line x1="70.97" y1="152.52" x2="73.57" y2="152.52" stroke="#7fa6cc" stroke-width="0.9"/>
<line x1="86.68" y1="157.45" x2="86.68" y2="149.78" stroke="#7fa6cc" stroke-width="0.9"/>
<line x1="85.38" y1="157.45" x2="87.98" y2="157.45" stroke="#7fa6cc" stroke-width="0.9"/>
<line x1="85.38" y1="149.78" x2="87.98" y2="149.78" stroke="#7fa6cc" stroke-width="0.9"/>
<line x1="101.08" y1="180.99" x2="101.08" y2="149.78" stroke="#7fa6cc" stroke-width="0.9"/>
<line x1="99.78" y1="180.99" x2="102.38" y2="180.99" stroke="#7fa6cc" stroke-width="0.9"/>
<line x1="99.78" y1="149.78" x2="102.38" y2="149.78" stroke="#7fa6cc" stroke-width="0.9"/>
<line x1="115.49" y1="190.30" x2="115.49" y2="160.74" stroke="#7fa6cc" stroke-width="0.9"/>
<line x1="114.19" y1="190.30" x2="116.79" y2="190.30" stroke="#7fa6cc" stroke-width="0.9"/>
<line x1="114.19" y1="160.74" x2="116.79" y2="160.74" stroke="#7fa6cc" stroke-width="0.9"/>
<polyline points="41.40,201.25 57.86,183.18 72.27,155.81 86.68,153.62 101.08,165.66 115.49,175.52" stroke="#12427e" stroke-width="1.9" fill="none" stroke-linejoin="round"/>
<circle cx="41.40" cy="201.25" r="1.45" fill="#12427e"/>
<circle cx="57.86" cy="183.18" r="1.45" fill="#12427e"/>
<circle cx="72.27" cy="155.81" r="1.45" fill="#12427e"/>
<circle cx="86.68" cy="153.62" r="1.45" fill="#12427e"/>
<circle cx="101.08" cy="165.66" r="1.45" fill="#12427e"/>
<circle cx="115.49" cy="175.52" r="1.45" fill="#12427e"/>
<line x1="72.27" y1="200.16" x2="72.27" y2="195.78" stroke="#d5486a" stroke-width="0.9"/>
<line x1="70.97" y1="200.16" x2="73.57" y2="200.16" stroke="#d5486a" stroke-width="0.9"/>
<line x1="70.97" y1="195.78" x2="73.57" y2="195.78" stroke="#d5486a" stroke-width="0.9"/>
<line x1="86.68" y1="191.94" x2="86.68" y2="169.50" stroke="#d5486a" stroke-width="0.9"/>
<line x1="85.38" y1="191.94" x2="87.98" y2="191.94" stroke="#d5486a" stroke-width="0.9"/>
<line x1="85.38" y1="169.50" x2="87.98" y2="169.50" stroke="#d5486a" stroke-width="0.9"/>
<polyline points="41.40,201.25 57.86,201.25 72.27,197.97 86.68,180.99 101.08,198.51 115.49,194.68" stroke="#c8102e" stroke-width="1.9" fill="none" stroke-linejoin="round"/>
<circle cx="41.40" cy="201.25" r="1.45" fill="#c8102e"/>
<circle cx="57.86" cy="201.25" r="1.45" fill="#c8102e"/>
<circle cx="72.27" cy="197.97" r="1.45" fill="#c8102e"/>
<circle cx="86.68" cy="180.99" r="1.45" fill="#c8102e"/>
<circle cx="101.08" cy="198.51" r="1.45" fill="#c8102e"/>
<circle cx="115.49" cy="194.68" r="1.45" fill="#c8102e"/>
<text x="57.00" y="170.00" font-size="9.0" text-anchor="middle" font-weight="bold" fill="#111" textLength="14.40" lengthAdjust="spacingAndGlyphs">****</text>
<text x="72.50" y="152.00" font-size="9.0" text-anchor="middle" font-weight="bold" fill="#111" textLength="14.40" lengthAdjust="spacingAndGlyphs">****</text>
<text x="86.80" y="146.60" font-size="9.0" text-anchor="middle" font-weight="bold" fill="#111" textLength="14.40" lengthAdjust="spacingAndGlyphs">****</text>
<line x1="168.20" y1="201.30" x2="252.00" y2="201.30" stroke="#000" stroke-width="1.2"/>
<line x1="168.20" y1="201.90" x2="168.20" y2="146.58" stroke="#000" stroke-width="1.2"/>
<line x1="168.20" y1="201.30" x2="168.20" y2="203.50" stroke="#000" stroke-width="0.9"/>
<line x1="189.00" y1="201.30" x2="189.00" y2="203.50" stroke="#000" stroke-width="0.9"/>
<line x1="209.80" y1="201.30" x2="209.80" y2="203.50" stroke="#000" stroke-width="0.9"/>
<line x1="230.60" y1="201.30" x2="230.60" y2="203.50" stroke="#000" stroke-width="0.9"/>
<line x1="251.40" y1="201.30" x2="251.40" y2="203.50" stroke="#000" stroke-width="0.9"/>
<line x1="166.00" y1="201.30" x2="168.20" y2="201.30" stroke="#000" stroke-width="0.9"/>
<line x1="166.00" y1="187.62" x2="168.20" y2="187.62" stroke="#000" stroke-width="0.9"/>
<line x1="166.00" y1="173.94" x2="168.20" y2="173.94" stroke="#000" stroke-width="0.9"/>
<line x1="166.00" y1="160.26" x2="168.20" y2="160.26" stroke="#000" stroke-width="0.9"/>
<line x1="166.00" y1="146.58" x2="168.20" y2="146.58" stroke="#000" stroke-width="0.9"/>
<text x="168.20" y="211.70" font-size="7.1" text-anchor="middle" font-weight="normal" fill="#1e1e1e" textLength="3.3" lengthAdjust="spacingAndGlyphs">0</text>
<text x="189.00" y="211.70" font-size="7.1" text-anchor="middle" font-weight="normal" fill="#1e1e1e" textLength="6.6" lengthAdjust="spacingAndGlyphs">10</text>
<text x="209.80" y="211.70" font-size="7.1" text-anchor="middle" font-weight="normal" fill="#1e1e1e" textLength="6.6" lengthAdjust="spacingAndGlyphs">20</text>
<text x="230.60" y="211.70" font-size="7.1" text-anchor="middle" font-weight="normal" fill="#1e1e1e" textLength="6.6" lengthAdjust="spacingAndGlyphs">30</text>
<text x="251.40" y="211.70" font-size="7.1" text-anchor="middle" font-weight="normal" fill="#1e1e1e" textLength="6.6" lengthAdjust="spacingAndGlyphs">40</text>
<text x="165.00" y="203.86" font-size="7.1" text-anchor="end" font-weight="normal" fill="#1e1e1e" textLength="3.3" lengthAdjust="spacingAndGlyphs">0</text>
<text x="165.00" y="190.18" font-size="7.1" text-anchor="end" font-weight="normal" fill="#1e1e1e" textLength="6.6" lengthAdjust="spacingAndGlyphs">20</text>
<text x="165.00" y="176.50" font-size="7.1" text-anchor="end" font-weight="normal" fill="#1e1e1e" textLength="6.6" lengthAdjust="spacingAndGlyphs">40</text>
<text x="165.00" y="162.82" font-size="7.1" text-anchor="end" font-weight="normal" fill="#1e1e1e" textLength="6.6" lengthAdjust="spacingAndGlyphs">60</text>
<text x="165.00" y="149.14" font-size="7.1" text-anchor="end" font-weight="normal" fill="#1e1e1e" textLength="6.6" lengthAdjust="spacingAndGlyphs">80</text>
<text x="210" y="218" font-size="7.8" text-anchor="middle" font-weight="normal" fill="#1e1e1e" textLength="42.5" lengthAdjust="spacingAndGlyphs">Days (post CART)</text>
<text x="140.00" y="176.40" font-size="8.0" text-anchor="middle" font-weight="normal" fill="#1e1e1e" textLength="43.7" lengthAdjust="spacingAndGlyphs" transform="rotate(-90 140.00 176.40)" dominant-baseline="central">CD8+CAR T cells</text>
<text x="149.60" y="176.40" font-size="8.0" text-anchor="middle" font-weight="normal" fill="#1e1e1e" textLength="48" lengthAdjust="spacingAndGlyphs" transform="rotate(-90 149.60 176.40)" dominant-baseline="central">(% nucleated cells)</text>
<line x1="184.84" y1="193.78" x2="184.84" y2="182.83" stroke="#7fa6cc" stroke-width="0.9"/>
<line x1="183.54" y1="193.78" x2="186.14" y2="193.78" stroke="#7fa6cc" stroke-width="0.9"/>
<line x1="183.54" y1="182.83" x2="186.14" y2="182.83" stroke="#7fa6cc" stroke-width="0.9"/>
<line x1="199.40" y1="175.99" x2="199.40" y2="169.84" stroke="#7fa6cc" stroke-width="0.9"/>
<line x1="198.10" y1="175.99" x2="200.70" y2="175.99" stroke="#7fa6cc" stroke-width="0.9"/>
<line x1="198.10" y1="169.84" x2="200.70" y2="169.84" stroke="#7fa6cc" stroke-width="0.9"/>
<line x1="213.96" y1="186.94" x2="213.96" y2="177.36" stroke="#7fa6cc" stroke-width="0.9"/>
<line x1="212.66" y1="186.94" x2="215.26" y2="186.94" stroke="#7fa6cc" stroke-width="0.9"/>
<line x1="212.66" y1="177.36" x2="215.26" y2="177.36" stroke="#7fa6cc" stroke-width="0.9"/>
<line x1="228.52" y1="197.20" x2="228.52" y2="185.57" stroke="#7fa6cc" stroke-width="0.9"/>
<line x1="227.22" y1="197.20" x2="229.82" y2="197.20" stroke="#7fa6cc" stroke-width="0.9"/>
<line x1="227.22" y1="185.57" x2="229.82" y2="185.57" stroke="#7fa6cc" stroke-width="0.9"/>
<line x1="243.08" y1="200.62" x2="243.08" y2="196.51" stroke="#7fa6cc" stroke-width="0.9"/>
<line x1="241.78" y1="200.62" x2="244.38" y2="200.62" stroke="#7fa6cc" stroke-width="0.9"/>
<line x1="241.78" y1="196.51" x2="244.38" y2="196.51" stroke="#7fa6cc" stroke-width="0.9"/>
<polyline points="168.20,201.30 184.84,188.30 199.40,173.26 213.96,182.15 228.52,191.72 243.08,198.56" stroke="#12427e" stroke-width="1.9" fill="none" stroke-linejoin="round"/>
<circle cx="168.20" cy="201.30" r="1.45" fill="#12427e"/>
<circle cx="184.84" cy="188.30" r="1.45" fill="#12427e"/>
<circle cx="199.40" cy="173.26" r="1.45" fill="#12427e"/>
<circle cx="213.96" cy="182.15" r="1.45" fill="#12427e"/>
<circle cx="228.52" cy="191.72" r="1.45" fill="#12427e"/>
<circle cx="243.08" cy="198.56" r="1.45" fill="#12427e"/>
<polyline points="168.20,201.30 184.84,201.30 199.40,200.96 213.96,199.93 228.52,200.96 243.08,200.62" stroke="#c8102e" stroke-width="1.9" fill="none" stroke-linejoin="round"/>
<circle cx="168.20" cy="201.30" r="1.1" fill="#c8102e"/>
<circle cx="184.84" cy="201.30" r="1.1" fill="#c8102e"/>
<circle cx="199.40" cy="200.96" r="1.1" fill="#c8102e"/>
<circle cx="213.96" cy="199.93" r="1.1" fill="#c8102e"/>
<circle cx="228.52" cy="200.96" r="1.1" fill="#c8102e"/>
<circle cx="243.08" cy="200.62" r="1.1" fill="#c8102e"/>
<text x="185.50" y="180.75" font-size="9.0" text-anchor="middle" font-weight="bold" fill="#111" textLength="14.40" lengthAdjust="spacingAndGlyphs">****</text>
<text x="200.00" y="168.25" font-size="9.0" text-anchor="middle" font-weight="bold" fill="#111" textLength="14.40" lengthAdjust="spacingAndGlyphs">****</text>
<text x="214.50" y="177.25" font-size="9.0" text-anchor="middle" font-weight="bold" fill="#111" textLength="10.80" lengthAdjust="spacingAndGlyphs">***</text>
<line x1="307.70" y1="202.00" x2="387.40" y2="202.00" stroke="#000" stroke-width="1.2"/>
<line x1="307.70" y1="202.60" x2="307.70" y2="150.00" stroke="#000" stroke-width="1.2"/>
<line x1="307.70" y1="202.00" x2="307.70" y2="204.20" stroke="#000" stroke-width="0.9"/>
<line x1="323.52" y1="202.00" x2="323.52" y2="204.20" stroke="#000" stroke-width="0.9"/>
<line x1="339.34" y1="202.00" x2="339.34" y2="204.20" stroke="#000" stroke-width="0.9"/>
<line x1="355.16" y1="202.00" x2="355.16" y2="204.20" stroke="#000" stroke-width="0.9"/>
<line x1="370.98" y1="202.00" x2="370.98" y2="204.20" stroke="#000" stroke-width="0.9"/>
<line x1="386.80" y1="202.00" x2="386.80" y2="204.20" stroke="#000" stroke-width="0.9"/>
<line x1="305.50" y1="202.00" x2="307.70" y2="202.00" stroke="#000" stroke-width="0.9"/>
<line x1="305.50" y1="191.60" x2="307.70" y2="191.60" stroke="#000" stroke-width="0.9"/>
<line x1="305.50" y1="181.20" x2="307.70" y2="181.20" stroke="#000" stroke-width="0.9"/>
<line x1="305.50" y1="170.80" x2="307.70" y2="170.80" stroke="#000" stroke-width="0.9"/>
<line x1="305.50" y1="160.40" x2="307.70" y2="160.40" stroke="#000" stroke-width="0.9"/>
<line x1="305.50" y1="150.00" x2="307.70" y2="150.00" stroke="#000" stroke-width="0.9"/>
<text x="307.70" y="212.40" font-size="7.1" text-anchor="middle" font-weight="normal" fill="#1e1e1e" textLength="3.3" lengthAdjust="spacingAndGlyphs">0</text>
<text x="323.52" y="212.40" font-size="7.1" text-anchor="middle" font-weight="normal" fill="#1e1e1e" textLength="6.6" lengthAdjust="spacingAndGlyphs">10</text>
<text x="339.34" y="212.40" font-size="7.1" text-anchor="middle" font-weight="normal" fill="#1e1e1e" textLength="6.6" lengthAdjust="spacingAndGlyphs">20</text>
<text x="355.16" y="212.40" font-size="7.1" text-anchor="middle" font-weight="normal" fill="#1e1e1e" textLength="6.6" lengthAdjust="spacingAndGlyphs">30</text>
<text x="370.98" y="212.40" font-size="7.1" text-anchor="middle" font-weight="normal" fill="#1e1e1e" textLength="6.6" lengthAdjust="spacingAndGlyphs">40</text>
<text x="386.80" y="212.40" font-size="7.1" text-anchor="middle" font-weight="normal" fill="#1e1e1e" textLength="6.6" lengthAdjust="spacingAndGlyphs">50</text>
<text x="304.50" y="204.56" font-size="7.1" text-anchor="end" font-weight="normal" fill="#1e1e1e" textLength="3.3" lengthAdjust="spacingAndGlyphs">0</text>
<text x="304.50" y="194.16" font-size="7.1" text-anchor="end" font-weight="normal" fill="#1e1e1e" textLength="6.6" lengthAdjust="spacingAndGlyphs">20</text>
<text x="304.50" y="183.76" font-size="7.1" text-anchor="end" font-weight="normal" fill="#1e1e1e" textLength="6.6" lengthAdjust="spacingAndGlyphs">40</text>
<text x="304.50" y="173.36" font-size="7.1" text-anchor="end" font-weight="normal" fill="#1e1e1e" textLength="6.6" lengthAdjust="spacingAndGlyphs">60</text>
<text x="304.50" y="162.96" font-size="7.1" text-anchor="end" font-weight="normal" fill="#1e1e1e" textLength="6.6" lengthAdjust="spacingAndGlyphs">80</text>
<text x="304.50" y="152.56" font-size="7.1" text-anchor="end" font-weight="normal" fill="#1e1e1e" textLength="9.9" lengthAdjust="spacingAndGlyphs">100</text>
<text x="346" y="219" font-size="7.8" text-anchor="middle" font-weight="normal" fill="#1e1e1e" textLength="42.5" lengthAdjust="spacingAndGlyphs">Days (post CART)</text>
<text x="279.50" y="176.80" font-size="8.0" text-anchor="middle" font-weight="normal" fill="#1e1e1e" textLength="15.6" lengthAdjust="spacingAndGlyphs" transform="rotate(-90 279.50 176.80)" dominant-baseline="central">T cells</text>
<text x="288.60" y="176.80" font-size="8.0" text-anchor="middle" font-weight="normal" fill="#1e1e1e" textLength="48" lengthAdjust="spacingAndGlyphs" transform="rotate(-90 288.60 176.80)" dominant-baseline="central">(% nucleated cells)</text>
<line x1="329.85" y1="169.76" x2="329.85" y2="159.36" stroke="#7fa6cc" stroke-width="0.9"/>
<line x1="328.55" y1="169.76" x2="331.15" y2="169.76" stroke="#7fa6cc" stroke-width="0.9"/>
<line x1="328.55" y1="159.36" x2="331.15" y2="159.36" stroke="#7fa6cc" stroke-width="0.9"/>
<line x1="340.92" y1="157.28" x2="340.92" y2="152.60" stroke="#7fa6cc" stroke-width="0.9"/>
<line x1="339.62" y1="157.28" x2="342.22" y2="157.28" stroke="#7fa6cc" stroke-width="0.9"/>
<line x1="339.62" y1="152.60" x2="342.22" y2="152.60" stroke="#7fa6cc" stroke-width="0.9"/>
<line x1="352.00" y1="178.60" x2="352.00" y2="163.00" stroke="#7fa6cc" stroke-width="0.9"/>
<line x1="350.70" y1="178.60" x2="353.30" y2="178.60" stroke="#7fa6cc" stroke-width="0.9"/>
<line x1="350.70" y1="163.00" x2="353.30" y2="163.00" stroke="#7fa6cc" stroke-width="0.9"/>
<line x1="363.07" y1="189.00" x2="363.07" y2="172.88" stroke="#7fa6cc" stroke-width="0.9"/>
<line x1="361.77" y1="189.00" x2="364.37" y2="189.00" stroke="#7fa6cc" stroke-width="0.9"/>
<line x1="361.77" y1="172.88" x2="364.37" y2="172.88" stroke="#7fa6cc" stroke-width="0.9"/>
<line x1="374.14" y1="189.00" x2="374.14" y2="184.84" stroke="#7fa6cc" stroke-width="0.9"/>
<line x1="372.84" y1="189.00" x2="375.44" y2="189.00" stroke="#7fa6cc" stroke-width="0.9"/>
<line x1="372.84" y1="184.84" x2="375.44" y2="184.84" stroke="#7fa6cc" stroke-width="0.9"/>
<line x1="385.22" y1="194.20" x2="385.22" y2="184.84" stroke="#7fa6cc" stroke-width="0.9"/>
<line x1="383.92" y1="194.20" x2="386.52" y2="194.20" stroke="#7fa6cc" stroke-width="0.9"/>
<line x1="383.92" y1="184.84" x2="386.52" y2="184.84" stroke="#7fa6cc" stroke-width="0.9"/>
<polyline points="307.70,202.00 318.77,202.00 329.85,165.08 340.92,155.20 352.00,170.80 363.07,180.16 374.14,186.40 385.22,189.00" stroke="#12427e" stroke-width="1.9" fill="none" stroke-linejoin="round"/>
<circle cx="307.70" cy="202.00" r="1.45" fill="#12427e"/>
<circle cx="318.77" cy="202.00" r="1.45" fill="#12427e"/>
<circle cx="329.85" cy="165.08" r="1.45" fill="#12427e"/>
<circle cx="340.92" cy="155.20" r="1.45" fill="#12427e"/>
<circle cx="352.00" cy="170.80" r="1.45" fill="#12427e"/>
<circle cx="363.07" cy="180.16" r="1.45" fill="#12427e"/>
<circle cx="374.14" cy="186.40" r="1.45" fill="#12427e"/>
<circle cx="385.22" cy="189.00" r="1.45" fill="#12427e"/>
<line x1="340.92" y1="202.00" x2="340.92" y2="172.88" stroke="#d5486a" stroke-width="0.9"/>
<line x1="339.62" y1="202.00" x2="342.22" y2="202.00" stroke="#d5486a" stroke-width="0.9"/>
<line x1="339.62" y1="172.88" x2="342.22" y2="172.88" stroke="#d5486a" stroke-width="0.9"/>
<line x1="352.00" y1="193.68" x2="352.00" y2="158.84" stroke="#d5486a" stroke-width="0.9"/>
<line x1="350.70" y1="193.68" x2="353.30" y2="193.68" stroke="#d5486a" stroke-width="0.9"/>
<line x1="350.70" y1="158.84" x2="353.30" y2="158.84" stroke="#d5486a" stroke-width="0.9"/>
<line x1="363.07" y1="191.60" x2="363.07" y2="164.56" stroke="#d5486a" stroke-width="0.9"/>
<line x1="361.77" y1="191.60" x2="364.37" y2="191.60" stroke="#d5486a" stroke-width="0.9"/>
<line x1="361.77" y1="164.56" x2="364.37" y2="164.56" stroke="#d5486a" stroke-width="0.9"/>
<line x1="374.14" y1="199.40" x2="374.14" y2="179.12" stroke="#d5486a" stroke-width="0.9"/>
<line x1="372.84" y1="199.40" x2="375.44" y2="199.40" stroke="#d5486a" stroke-width="0.9"/>
<line x1="372.84" y1="179.12" x2="375.44" y2="179.12" stroke="#d5486a" stroke-width="0.9"/>
<line x1="385.22" y1="199.40" x2="385.22" y2="189.00" stroke="#d5486a" stroke-width="0.9"/>
<line x1="383.92" y1="199.40" x2="386.52" y2="199.40" stroke="#d5486a" stroke-width="0.9"/>
<line x1="383.92" y1="189.00" x2="386.52" y2="189.00" stroke="#d5486a" stroke-width="0.9"/>
<polyline points="307.70,202.00 318.77,202.00 329.85,202.00 340.92,188.48 352.00,176.00 363.07,178.08 374.14,190.04 385.22,195.76" stroke="#c8102e" stroke-width="1.9" fill="none" stroke-linejoin="round"/>
<circle cx="307.70" cy="202.00" r="1.45" fill="#c8102e"/>
<circle cx="318.77" cy="202.00" r="1.45" fill="#c8102e"/>
<circle cx="329.85" cy="202.00" r="1.45" fill="#c8102e"/>
<circle cx="340.92" cy="188.48" r="1.45" fill="#c8102e"/>
<circle cx="352.00" cy="176.00" r="1.45" fill="#c8102e"/>
<circle cx="363.07" cy="178.08" r="1.45" fill="#c8102e"/>
<circle cx="374.14" cy="190.04" r="1.45" fill="#c8102e"/>
<circle cx="385.22" cy="195.76" r="1.45" fill="#c8102e"/>
<text x="329.50" y="159.00" font-size="9.0" text-anchor="middle" font-weight="bold" fill="#111" textLength="14.40" lengthAdjust="spacingAndGlyphs">****</text>
<text x="340.50" y="152.00" font-size="9.0" text-anchor="middle" font-weight="bold" fill="#111" textLength="14.40" lengthAdjust="spacingAndGlyphs">****</text>
<line x1="427.70" y1="202.40" x2="505.60" y2="202.40" stroke="#000" stroke-width="1.2"/>
<line x1="427.70" y1="203.00" x2="427.70" y2="150.60" stroke="#000" stroke-width="1.2"/>
<line x1="427.70" y1="202.40" x2="427.70" y2="204.60" stroke="#000" stroke-width="0.9"/>
<line x1="443.16" y1="202.40" x2="443.16" y2="204.60" stroke="#000" stroke-width="0.9"/>
<line x1="458.62" y1="202.40" x2="458.62" y2="204.60" stroke="#000" stroke-width="0.9"/>
<line x1="474.08" y1="202.40" x2="474.08" y2="204.60" stroke="#000" stroke-width="0.9"/>
<line x1="489.54" y1="202.40" x2="489.54" y2="204.60" stroke="#000" stroke-width="0.9"/>
<line x1="505.00" y1="202.40" x2="505.00" y2="204.60" stroke="#000" stroke-width="0.9"/>
<line x1="425.50" y1="202.40" x2="427.70" y2="202.40" stroke="#000" stroke-width="0.9"/>
<line x1="425.50" y1="189.45" x2="427.70" y2="189.45" stroke="#000" stroke-width="0.9"/>
<line x1="425.50" y1="176.50" x2="427.70" y2="176.50" stroke="#000" stroke-width="0.9"/>
<line x1="425.50" y1="163.55" x2="427.70" y2="163.55" stroke="#000" stroke-width="0.9"/>
<line x1="425.50" y1="150.60" x2="427.70" y2="150.60" stroke="#000" stroke-width="0.9"/>
<text x="427.70" y="212.80" font-size="7.1" text-anchor="middle" font-weight="normal" fill="#1e1e1e" textLength="3.3" lengthAdjust="spacingAndGlyphs">0</text>
<text x="443.16" y="212.80" font-size="7.1" text-anchor="middle" font-weight="normal" fill="#1e1e1e" textLength="6.6" lengthAdjust="spacingAndGlyphs">10</text>
<text x="458.62" y="212.80" font-size="7.1" text-anchor="middle" font-weight="normal" fill="#1e1e1e" textLength="6.6" lengthAdjust="spacingAndGlyphs">20</text>
<text x="474.08" y="212.80" font-size="7.1" text-anchor="middle" font-weight="normal" fill="#1e1e1e" textLength="6.6" lengthAdjust="spacingAndGlyphs">30</text>
<text x="489.54" y="212.80" font-size="7.1" text-anchor="middle" font-weight="normal" fill="#1e1e1e" textLength="6.6" lengthAdjust="spacingAndGlyphs">40</text>
<text x="505.00" y="212.80" font-size="7.1" text-anchor="middle" font-weight="normal" fill="#1e1e1e" textLength="6.6" lengthAdjust="spacingAndGlyphs">50</text>
<text x="424.50" y="204.96" font-size="7.1" text-anchor="end" font-weight="normal" fill="#1e1e1e" textLength="3.3" lengthAdjust="spacingAndGlyphs">0</text>
<text x="424.50" y="192.01" font-size="7.1" text-anchor="end" font-weight="normal" fill="#1e1e1e" textLength="3.3" lengthAdjust="spacingAndGlyphs">5</text>
<text x="424.50" y="179.06" font-size="7.1" text-anchor="end" font-weight="normal" fill="#1e1e1e" textLength="6.6" lengthAdjust="spacingAndGlyphs">10</text>
<text x="424.50" y="166.11" font-size="7.1" text-anchor="end" font-weight="normal" fill="#1e1e1e" textLength="6.6" lengthAdjust="spacingAndGlyphs">15</text>
<text x="424.50" y="153.16" font-size="7.1" text-anchor="end" font-weight="normal" fill="#1e1e1e" textLength="6.6" lengthAdjust="spacingAndGlyphs">20</text>
<text x="466" y="219" font-size="7.8" text-anchor="middle" font-weight="normal" fill="#1e1e1e" textLength="42.5" lengthAdjust="spacingAndGlyphs">Days (post CART)</text>
<text x="401.00" y="177.20" font-size="8.0" text-anchor="middle" font-weight="normal" fill="#1e1e1e" textLength="32.7" lengthAdjust="spacingAndGlyphs" transform="rotate(-90 401.00 177.20)" dominant-baseline="central">CD8+ T cells</text>
<text x="410.60" y="177.20" font-size="8.0" text-anchor="middle" font-weight="normal" fill="#1e1e1e" textLength="48.7" lengthAdjust="spacingAndGlyphs" transform="rotate(-90 410.60 177.20)" dominant-baseline="central">(% nucleated cells)</text>
<line x1="449.34" y1="185.56" x2="449.34" y2="179.09" stroke="#7fa6cc" stroke-width="0.9"/>
<line x1="448.04" y1="185.56" x2="450.64" y2="185.56" stroke="#7fa6cc" stroke-width="0.9"/>
<line x1="448.04" y1="179.09" x2="450.64" y2="179.09" stroke="#7fa6cc" stroke-width="0.9"/>
<polyline points="427.70,202.40 438.52,202.40 449.34,182.20 460.17,196.70 470.99,199.29 481.81,200.33 492.63,201.11 503.45,201.11" stroke="#12427e" stroke-width="1.9" fill="none" stroke-linejoin="round"/>
<circle cx="427.70" cy="202.40" r="1.45" fill="#12427e"/>
<circle cx="438.52" cy="202.40" r="1.45" fill="#12427e"/>
<circle cx="449.34" cy="182.20" r="1.45" fill="#12427e"/>
<circle cx="460.17" cy="196.70" r="1.45" fill="#12427e"/>
<circle cx="470.99" cy="199.29" r="1.45" fill="#12427e"/>
<circle cx="481.81" cy="200.33" r="1.45" fill="#12427e"/>
<circle cx="492.63" cy="201.11" r="1.45" fill="#12427e"/>
<circle cx="503.45" cy="201.11" r="1.45" fill="#12427e"/>
<line x1="470.99" y1="202.40" x2="470.99" y2="186.86" stroke="#d5486a" stroke-width="0.9"/>
<line x1="469.69" y1="202.40" x2="472.29" y2="202.40" stroke="#d5486a" stroke-width="0.9"/>
<line x1="469.69" y1="186.86" x2="472.29" y2="186.86" stroke="#d5486a" stroke-width="0.9"/>
<line x1="481.81" y1="202.40" x2="481.81" y2="190.75" stroke="#d5486a" stroke-width="0.9"/>
<line x1="480.51" y1="202.40" x2="483.11" y2="202.40" stroke="#d5486a" stroke-width="0.9"/>
<line x1="480.51" y1="190.75" x2="483.11" y2="190.75" stroke="#d5486a" stroke-width="0.9"/>
<line x1="503.45" y1="202.40" x2="503.45" y2="195.15" stroke="#d5486a" stroke-width="0.9"/>
<line x1="502.15" y1="202.40" x2="504.75" y2="202.40" stroke="#d5486a" stroke-width="0.9"/>
<line x1="502.15" y1="195.15" x2="504.75" y2="195.15" stroke="#d5486a" stroke-width="0.9"/>
<polyline points="427.70,202.40 438.52,202.40 449.34,202.40 460.17,201.11 470.99,195.15 481.81,196.70 492.63,198.26 503.45,199.55" stroke="#c8102e" stroke-width="1.9" fill="none" stroke-linejoin="round"/>
<circle cx="427.70" cy="202.40" r="1.45" fill="#c8102e"/>
<circle cx="438.52" cy="202.40" r="1.45" fill="#c8102e"/>
<circle cx="449.34" cy="202.40" r="1.45" fill="#c8102e"/>
<circle cx="460.17" cy="201.11" r="1.45" fill="#c8102e"/>
<circle cx="470.99" cy="195.15" r="1.45" fill="#c8102e"/>
<circle cx="481.81" cy="196.70" r="1.45" fill="#c8102e"/>
<circle cx="492.63" cy="198.26" r="1.45" fill="#c8102e"/>
<circle cx="503.45" cy="199.55" r="1.45" fill="#c8102e"/>
<text x="449.50" y="179.50" font-size="9.0" text-anchor="middle" font-weight="bold" fill="#111" textLength="14.40" lengthAdjust="spacingAndGlyphs">****</text>
<text x="78.75" y="438.75" font-size="9.5" text-anchor="middle" font-weight="normal" fill="#111" textLength="25" lengthAdjust="spacingAndGlyphs" stroke="#111" stroke-width="0.45">CD4+</text>
<text x="205" y="438.75" font-size="9.5" text-anchor="middle" font-weight="normal" fill="#111" textLength="25" lengthAdjust="spacingAndGlyphs" stroke="#111" stroke-width="0.45">CD8+</text>
<text x="342.25" y="438.75" font-size="9.5" text-anchor="middle" font-weight="normal" fill="#111" textLength="25.5" lengthAdjust="spacingAndGlyphs" stroke="#111" stroke-width="0.45">CD4+</text>
<text x="465.4" y="438.75" font-size="9.5" text-anchor="middle" font-weight="normal" fill="#111" textLength="26.7" lengthAdjust="spacingAndGlyphs" stroke="#111" stroke-width="0.45">CD8+</text>
<line x1="38.20" y1="503.75" x2="119.20" y2="503.75" stroke="#000" stroke-width="1.3"/>
<line x1="38.20" y1="504.35" x2="38.20" y2="451.25" stroke="#000" stroke-width="1.3"/>
<line x1="38.20" y1="503.75" x2="38.20" y2="505.95" stroke="#000" stroke-width="0.9"/>
<line x1="58.30" y1="503.75" x2="58.30" y2="505.95" stroke="#000" stroke-width="0.9"/>
<line x1="78.40" y1="503.75" x2="78.40" y2="505.95" stroke="#000" stroke-width="0.9"/>
<line x1="98.50" y1="503.75" x2="98.50" y2="505.95" stroke="#000" stroke-width="0.9"/>
<line x1="118.60" y1="503.75" x2="118.60" y2="505.95" stroke="#000" stroke-width="0.9"/>
<line x1="36.00" y1="503.75" x2="38.20" y2="503.75" stroke="#000" stroke-width="0.9"/>
<line x1="36.00" y1="493.25" x2="38.20" y2="493.25" stroke="#000" stroke-width="0.9"/>
<line x1="36.00" y1="482.75" x2="38.20" y2="482.75" stroke="#000" stroke-width="0.9"/>
<line x1="36.00" y1="472.25" x2="38.20" y2="472.25" stroke="#000" stroke-width="0.9"/>
<line x1="36.00" y1="461.75" x2="38.20" y2="461.75" stroke="#000" stroke-width="0.9"/>
<line x1="36.00" y1="451.25" x2="38.20" y2="451.25" stroke="#000" stroke-width="0.9"/>
<text x="38.20" y="514.15" font-size="7.1" text-anchor="middle" font-weight="normal" fill="#1e1e1e" textLength="3.3" lengthAdjust="spacingAndGlyphs">0</text>
<text x="58.30" y="514.15" font-size="7.1" text-anchor="middle" font-weight="normal" fill="#1e1e1e" textLength="6.6" lengthAdjust="spacingAndGlyphs">10</text>
<text x="78.40" y="514.15" font-size="7.1" text-anchor="middle" font-weight="normal" fill="#1e1e1e" textLength="6.6" lengthAdjust="spacingAndGlyphs">20</text>
<text x="98.50" y="514.15" font-size="7.1" text-anchor="middle" font-weight="normal" fill="#1e1e1e" textLength="6.6" lengthAdjust="spacingAndGlyphs">30</text>
<text x="118.60" y="514.15" font-size="7.1" text-anchor="middle" font-weight="normal" fill="#1e1e1e" textLength="6.6" lengthAdjust="spacingAndGlyphs">40</text>
<text x="33.90" y="506.31" font-size="7.1" text-anchor="end" font-weight="normal" fill="#1e1e1e" textLength="3.3" lengthAdjust="spacingAndGlyphs">0</text>
<text x="33.90" y="495.81" font-size="7.1" text-anchor="end" font-weight="normal" fill="#1e1e1e" textLength="6.6" lengthAdjust="spacingAndGlyphs">20</text>
<text x="33.90" y="485.31" font-size="7.1" text-anchor="end" font-weight="normal" fill="#1e1e1e" textLength="6.6" lengthAdjust="spacingAndGlyphs">40</text>
<text x="33.90" y="474.81" font-size="7.1" text-anchor="end" font-weight="normal" fill="#1e1e1e" textLength="6.6" lengthAdjust="spacingAndGlyphs">60</text>
<text x="33.90" y="464.31" font-size="7.1" text-anchor="end" font-weight="normal" fill="#1e1e1e" textLength="6.6" lengthAdjust="spacingAndGlyphs">80</text>
<text x="33.90" y="453.81" font-size="7.1" text-anchor="end" font-weight="normal" fill="#1e1e1e" textLength="9.9" lengthAdjust="spacingAndGlyphs">100</text>
<text x="78.40" y="522.75" font-size="8.0" text-anchor="middle" font-weight="normal" fill="#1e1e1e" textLength="43" lengthAdjust="spacingAndGlyphs">Days (post CART)</text>
<text x="8.75" y="478.30" font-size="8.0" text-anchor="middle" font-weight="normal" fill="#1e1e1e" textLength="19" lengthAdjust="spacingAndGlyphs" transform="rotate(-90 8.75 478.30)" dominant-baseline="central">LAG3+</text>
<text x="18.85" y="478.30" font-size="8.0" text-anchor="middle" font-weight="normal" fill="#1e1e1e" textLength="56" lengthAdjust="spacingAndGlyphs" transform="rotate(-90 18.85 478.30)" dominant-baseline="central">as % CD4+ CART cells</text>
<line x1="82.42" y1="501.12" x2="82.42" y2="493.77" stroke="#7fa6cc" stroke-width="0.9"/>
<line x1="81.12" y1="501.12" x2="83.72" y2="501.12" stroke="#7fa6cc" stroke-width="0.9"/>
<line x1="81.12" y1="493.77" x2="83.72" y2="493.77" stroke="#7fa6cc" stroke-width="0.9"/>
<line x1="96.49" y1="503.75" x2="96.49" y2="496.40" stroke="#7fa6cc" stroke-width="0.9"/>
<line x1="95.19" y1="503.75" x2="97.79" y2="503.75" stroke="#7fa6cc" stroke-width="0.9"/>
<line x1="95.19" y1="496.40" x2="97.79" y2="496.40" stroke="#7fa6cc" stroke-width="0.9"/>
<line x1="110.56" y1="503.75" x2="110.56" y2="494.30" stroke="#7fa6cc" stroke-width="0.9"/>
<line x1="109.26" y1="503.75" x2="111.86" y2="503.75" stroke="#7fa6cc" stroke-width="0.9"/>
<line x1="109.26" y1="494.30" x2="111.86" y2="494.30" stroke="#7fa6cc" stroke-width="0.9"/>
<polyline points="38.20,459.12 68.35,499.55 82.42,497.45 96.49,500.60 110.56,499.55" stroke="#12427e" stroke-width="1.9" fill="none" stroke-linejoin="round"/>
<circle cx="38.20" cy="459.12" r="1.45" fill="#12427e"/>
<circle cx="68.35" cy="499.55" r="1.45" fill="#12427e"/>
<circle cx="82.42" cy="497.45" r="1.45" fill="#12427e"/>
<circle cx="96.49" cy="500.60" r="1.45" fill="#12427e"/>
<circle cx="110.56" cy="499.55" r="1.45" fill="#12427e"/>
<line x1="68.35" y1="471.20" x2="68.35" y2="462.80" stroke="#d5486a" stroke-width="0.9"/>
<line x1="67.05" y1="471.20" x2="69.65" y2="471.20" stroke="#d5486a" stroke-width="0.9"/>
<line x1="67.05" y1="462.80" x2="69.65" y2="462.80" stroke="#d5486a" stroke-width="0.9"/>
<line x1="96.49" y1="485.90" x2="96.49" y2="479.60" stroke="#d5486a" stroke-width="0.9"/>
<line x1="95.19" y1="485.90" x2="97.79" y2="485.90" stroke="#d5486a" stroke-width="0.9"/>
<line x1="95.19" y1="479.60" x2="97.79" y2="479.60" stroke="#d5486a" stroke-width="0.9"/>
<polyline points="38.20,457.02 68.35,467.00 82.42,483.80 96.49,482.75 110.56,485.38" stroke="#c8102e" stroke-width="1.9" fill="none" stroke-linejoin="round"/>
<circle cx="38.20" cy="457.02" r="1.45" fill="#c8102e"/>
<circle cx="68.35" cy="467.00" r="1.45" fill="#c8102e"/>
<circle cx="82.42" cy="483.80" r="1.45" fill="#c8102e"/>
<circle cx="96.49" cy="482.75" r="1.45" fill="#c8102e"/>
<circle cx="110.56" cy="485.38" r="1.45" fill="#c8102e"/>
<text x="68.75" y="461.50" font-size="9.0" text-anchor="middle" font-weight="bold" fill="#111" textLength="14.40" lengthAdjust="spacingAndGlyphs">****</text>
<text x="85.00" y="477.75" font-size="9.0" text-anchor="middle" font-weight="bold" fill="#111" textLength="14.40" lengthAdjust="spacingAndGlyphs">****</text>
<line x1="38.20" y1="587.00" x2="119.20" y2="587.00" stroke="#000" stroke-width="1.3"/>
<line x1="38.20" y1="587.60" x2="38.20" y2="534.50" stroke="#000" stroke-width="1.3"/>
<line x1="38.20" y1="587.00" x2="38.20" y2="589.20" stroke="#000" stroke-width="0.9"/>
<line x1="58.30" y1="587.00" x2="58.30" y2="589.20" stroke="#000" stroke-width="0.9"/>
<line x1="78.40" y1="587.00" x2="78.40" y2="589.20" stroke="#000" stroke-width="0.9"/>
<line x1="98.50" y1="587.00" x2="98.50" y2="589.20" stroke="#000" stroke-width="0.9"/>
<line x1="118.60" y1="587.00" x2="118.60" y2="589.20" stroke="#000" stroke-width="0.9"/>
<line x1="36.00" y1="587.00" x2="38.20" y2="587.00" stroke="#000" stroke-width="0.9"/>
<line x1="36.00" y1="576.50" x2="38.20" y2="576.50" stroke="#000" stroke-width="0.9"/>
<line x1="36.00" y1="566.00" x2="38.20" y2="566.00" stroke="#000" stroke-width="0.9"/>
<line x1="36.00" y1="555.50" x2="38.20" y2="555.50" stroke="#000" stroke-width="0.9"/>
<line x1="36.00" y1="545.00" x2="38.20" y2="545.00" stroke="#000" stroke-width="0.9"/>
<line x1="36.00" y1="534.50" x2="38.20" y2="534.50" stroke="#000" stroke-width="0.9"/>
<text x="38.20" y="597.40" font-size="7.1" text-anchor="middle" font-weight="normal" fill="#1e1e1e" textLength="3.3" lengthAdjust="spacingAndGlyphs">0</text>
<text x="58.30" y="597.40" font-size="7.1" text-anchor="middle" font-weight="normal" fill="#1e1e1e" textLength="6.6" lengthAdjust="spacingAndGlyphs">10</text>
<text x="78.40" y="597.40" font-size="7.1" text-anchor="middle" font-weight="normal" fill="#1e1e1e" textLength="6.6" lengthAdjust="spacingAndGlyphs">20</text>
<text x="98.50" y="597.40" font-size="7.1" text-anchor="middle" font-weight="normal" fill="#1e1e1e" textLength="6.6" lengthAdjust="spacingAndGlyphs">30</text>
<text x="118.60" y="597.40" font-size="7.1" text-anchor="middle" font-weight="normal" fill="#1e1e1e" textLength="6.6" lengthAdjust="spacingAndGlyphs">40</text>
<text x="33.90" y="589.56" font-size="7.1" text-anchor="end" font-weight="normal" fill="#1e1e1e" textLength="3.3" lengthAdjust="spacingAndGlyphs">0</text>
<text x="33.90" y="579.06" font-size="7.1" text-anchor="end" font-weight="normal" fill="#1e1e1e" textLength="6.6" lengthAdjust="spacingAndGlyphs">20</text>
<text x="33.90" y="568.56" font-size="7.1" text-anchor="end" font-weight="normal" fill="#1e1e1e" textLength="6.6" lengthAdjust="spacingAndGlyphs">40</text>
<text x="33.90" y="558.06" font-size="7.1" text-anchor="end" font-weight="normal" fill="#1e1e1e" textLength="6.6" lengthAdjust="spacingAndGlyphs">60</text>
<text x="33.90" y="547.56" font-size="7.1" text-anchor="end" font-weight="normal" fill="#1e1e1e" textLength="6.6" lengthAdjust="spacingAndGlyphs">80</text>
<text x="33.90" y="537.06" font-size="7.1" text-anchor="end" font-weight="normal" fill="#1e1e1e" textLength="9.9" lengthAdjust="spacingAndGlyphs">100</text>
<text x="78.40" y="606.00" font-size="8.0" text-anchor="middle" font-weight="normal" fill="#1e1e1e" textLength="43" lengthAdjust="spacingAndGlyphs">Days (post CART)</text>
<text x="8.75" y="561.55" font-size="8.0" text-anchor="middle" font-weight="normal" fill="#1e1e1e" textLength="17" lengthAdjust="spacingAndGlyphs" transform="rotate(-90 8.75 561.55)" dominant-baseline="central">TIM3+</text>
<text x="18.85" y="561.55" font-size="8.0" text-anchor="middle" font-weight="normal" fill="#1e1e1e" textLength="56" lengthAdjust="spacingAndGlyphs" transform="rotate(-90 18.85 561.55)" dominant-baseline="central">as % CD4+ CART cells</text>
<line x1="96.49" y1="584.38" x2="96.49" y2="579.12" stroke="#7fa6cc" stroke-width="0.9"/>
<line x1="95.19" y1="584.38" x2="97.79" y2="584.38" stroke="#7fa6cc" stroke-width="0.9"/>
<line x1="95.19" y1="579.12" x2="97.79" y2="579.12" stroke="#7fa6cc" stroke-width="0.9"/>
<polyline points="38.20,568.10 68.35,585.95 82.42,586.48 96.49,581.75 110.56,585.42" stroke="#12427e" stroke-width="1.9" fill="none" stroke-linejoin="round"/>
<circle cx="38.20" cy="568.10" r="1.45" fill="#12427e"/>
<circle cx="68.35" cy="585.95" r="1.45" fill="#12427e"/>
<circle cx="82.42" cy="586.48" r="1.45" fill="#12427e"/>
<circle cx="96.49" cy="581.75" r="1.45" fill="#12427e"/>
<circle cx="110.56" cy="585.42" r="1.45" fill="#12427e"/>
<line x1="68.35" y1="571.25" x2="68.35" y2="556.02" stroke="#d5486a" stroke-width="0.9"/>
<line x1="67.05" y1="571.25" x2="69.65" y2="571.25" stroke="#d5486a" stroke-width="0.9"/>
<line x1="67.05" y1="556.02" x2="69.65" y2="556.02" stroke="#d5486a" stroke-width="0.9"/>
<line x1="96.49" y1="577.55" x2="96.49" y2="560.23" stroke="#d5486a" stroke-width="0.9"/>
<line x1="95.19" y1="577.55" x2="97.79" y2="577.55" stroke="#d5486a" stroke-width="0.9"/>
<line x1="95.19" y1="560.23" x2="97.79" y2="560.23" stroke="#d5486a" stroke-width="0.9"/>
<polyline points="38.20,538.17 68.35,563.38 82.42,586.48 96.49,568.62 110.56,583.33" stroke="#c8102e" stroke-width="1.9" fill="none" stroke-linejoin="round"/>
<circle cx="38.20" cy="538.17" r="1.45" fill="#c8102e"/>
<circle cx="68.35" cy="563.38" r="1.45" fill="#c8102e"/>
<circle cx="82.42" cy="586.48" r="1.45" fill="#c8102e"/>
<circle cx="96.49" cy="568.62" r="1.45" fill="#c8102e"/>
<circle cx="110.56" cy="583.33" r="1.45" fill="#c8102e"/>
<text x="69.50" y="554.00" font-size="9.0" text-anchor="middle" font-weight="bold" fill="#111" textLength="14.40" lengthAdjust="spacingAndGlyphs">****</text>
<text x="82.50" y="579.50" font-size="9.0" text-anchor="middle" font-weight="bold" fill="#111" textLength="7.20" lengthAdjust="spacingAndGlyphs">**</text>
<line x1="38.20" y1="670.50" x2="119.20" y2="670.50" stroke="#000" stroke-width="1.3"/>
<line x1="38.20" y1="671.10" x2="38.20" y2="617.50" stroke="#000" stroke-width="1.3"/>
<line x1="38.20" y1="670.50" x2="38.20" y2="672.70" stroke="#000" stroke-width="0.9"/>
<line x1="58.30" y1="670.50" x2="58.30" y2="672.70" stroke="#000" stroke-width="0.9"/>
<line x1="78.40" y1="670.50" x2="78.40" y2="672.70" stroke="#000" stroke-width="0.9"/>
<line x1="98.50" y1="670.50" x2="98.50" y2="672.70" stroke="#000" stroke-width="0.9"/>
<line x1="118.60" y1="670.50" x2="118.60" y2="672.70" stroke="#000" stroke-width="0.9"/>
<line x1="36.00" y1="670.50" x2="38.20" y2="670.50" stroke="#000" stroke-width="0.9"/>
<line x1="36.00" y1="659.90" x2="38.20" y2="659.90" stroke="#000" stroke-width="0.9"/>
<line x1="36.00" y1="649.30" x2="38.20" y2="649.30" stroke="#000" stroke-width="0.9"/>
<line x1="36.00" y1="638.70" x2="38.20" y2="638.70" stroke="#000" stroke-width="0.9"/>
<line x1="36.00" y1="628.10" x2="38.20" y2="628.10" stroke="#000" stroke-width="0.9"/>
<line x1="36.00" y1="617.50" x2="38.20" y2="617.50" stroke="#000" stroke-width="0.9"/>
<text x="38.20" y="680.90" font-size="7.1" text-anchor="middle" font-weight="normal" fill="#1e1e1e" textLength="3.3" lengthAdjust="spacingAndGlyphs">0</text>
<text x="58.30" y="680.90" font-size="7.1" text-anchor="middle" font-weight="normal" fill="#1e1e1e" textLength="6.6" lengthAdjust="spacingAndGlyphs">10</text>
<text x="78.40" y="680.90" font-size="7.1" text-anchor="middle" font-weight="normal" fill="#1e1e1e" textLength="6.6" lengthAdjust="spacingAndGlyphs">20</text>
<text x="98.50" y="680.90" font-size="7.1" text-anchor="middle" font-weight="normal" fill="#1e1e1e" textLength="6.6" lengthAdjust="spacingAndGlyphs">30</text>
<text x="118.60" y="680.90" font-size="7.1" text-anchor="middle" font-weight="normal" fill="#1e1e1e" textLength="6.6" lengthAdjust="spacingAndGlyphs">40</text>
<text x="33.90" y="673.06" font-size="7.1" text-anchor="end" font-weight="normal" fill="#1e1e1e" textLength="3.3" lengthAdjust="spacingAndGlyphs">0</text>
<text x="33.90" y="662.46" font-size="7.1" text-anchor="end" font-weight="normal" fill="#1e1e1e" textLength="6.6" lengthAdjust="spacingAndGlyphs">20</text>
<text x="33.90" y="651.86" font-size="7.1" text-anchor="end" font-weight="normal" fill="#1e1e1e" textLength="6.6" lengthAdjust="spacingAndGlyphs">40</text>
<text x="33.90" y="641.26" font-size="7.1" text-anchor="end" font-weight="normal" fill="#1e1e1e" textLength="6.6" lengthAdjust="spacingAndGlyphs">60</text>
<text x="33.90" y="630.66" font-size="7.1" text-anchor="end" font-weight="normal" fill="#1e1e1e" textLength="6.6" lengthAdjust="spacingAndGlyphs">80</text>
<text x="33.90" y="620.06" font-size="7.1" text-anchor="end" font-weight="normal" fill="#1e1e1e" textLength="9.9" lengthAdjust="spacingAndGlyphs">100</text>
<text x="78.40" y="689.50" font-size="8.0" text-anchor="middle" font-weight="normal" fill="#1e1e1e" textLength="43" lengthAdjust="spacingAndGlyphs">Days (post CART)</text>
<text x="8.75" y="644.80" font-size="8.0" text-anchor="middle" font-weight="normal" fill="#1e1e1e" textLength="14" lengthAdjust="spacingAndGlyphs" transform="rotate(-90 8.75 644.80)" dominant-baseline="central">PD1+</text>
<text x="18.85" y="644.80" font-size="8.0" text-anchor="middle" font-weight="normal" fill="#1e1e1e" textLength="56" lengthAdjust="spacingAndGlyphs" transform="rotate(-90 18.85 644.80)" dominant-baseline="central">as % CD4+ CART cells</text>
<line x1="68.35" y1="661.49" x2="68.35" y2="655.66" stroke="#7fa6cc" stroke-width="0.9"/>
<line x1="67.05" y1="661.49" x2="69.65" y2="661.49" stroke="#7fa6cc" stroke-width="0.9"/>
<line x1="67.05" y1="655.66" x2="69.65" y2="655.66" stroke="#7fa6cc" stroke-width="0.9"/>
<line x1="82.42" y1="639.76" x2="82.42" y2="631.81" stroke="#7fa6cc" stroke-width="0.9"/>
<line x1="81.12" y1="639.76" x2="83.72" y2="639.76" stroke="#7fa6cc" stroke-width="0.9"/>
<line x1="81.12" y1="631.81" x2="83.72" y2="631.81" stroke="#7fa6cc" stroke-width="0.9"/>
<line x1="96.49" y1="650.89" x2="96.49" y2="639.76" stroke="#7fa6cc" stroke-width="0.9"/>
<line x1="95.19" y1="650.89" x2="97.79" y2="650.89" stroke="#7fa6cc" stroke-width="0.9"/>
<line x1="95.19" y1="639.76" x2="97.79" y2="639.76" stroke="#7fa6cc" stroke-width="0.9"/>
<line x1="110.56" y1="663.08" x2="110.56" y2="642.41" stroke="#7fa6cc" stroke-width="0.9"/>
<line x1="109.26" y1="663.08" x2="111.86" y2="663.08" stroke="#7fa6cc" stroke-width="0.9"/>
<line x1="109.26" y1="642.41" x2="111.86" y2="642.41" stroke="#7fa6cc" stroke-width="0.9"/>
<polyline points="38.20,648.24 68.35,658.31 82.42,636.05 96.49,645.06 110.56,653.01" stroke="#12427e" stroke-width="1.9" fill="none" stroke-linejoin="round"/>
<circle cx="38.20" cy="648.24" r="1.45" fill="#12427e"/>
<circle cx="68.35" cy="658.31" r="1.45" fill="#12427e"/>
<circle cx="82.42" cy="636.05" r="1.45" fill="#12427e"/>
<circle cx="96.49" cy="645.06" r="1.45" fill="#12427e"/>
<circle cx="110.56" cy="653.01" r="1.45" fill="#12427e"/>
<line x1="68.35" y1="644.00" x2="68.35" y2="638.17" stroke="#d5486a" stroke-width="0.9"/>
<line x1="67.05" y1="644.00" x2="69.65" y2="644.00" stroke="#d5486a" stroke-width="0.9"/>
<line x1="67.05" y1="638.17" x2="69.65" y2="638.17" stroke="#d5486a" stroke-width="0.9"/>
<line x1="82.42" y1="640.29" x2="82.42" y2="635.52" stroke="#d5486a" stroke-width="0.9"/>
<line x1="81.12" y1="640.29" x2="83.72" y2="640.29" stroke="#d5486a" stroke-width="0.9"/>
<line x1="81.12" y1="635.52" x2="83.72" y2="635.52" stroke="#d5486a" stroke-width="0.9"/>
<line x1="96.49" y1="642.41" x2="96.49" y2="633.40" stroke="#d5486a" stroke-width="0.9"/>
<line x1="95.19" y1="642.41" x2="97.79" y2="642.41" stroke="#d5486a" stroke-width="0.9"/>
<line x1="95.19" y1="633.40" x2="97.79" y2="633.40" stroke="#d5486a" stroke-width="0.9"/>
<polyline points="38.20,648.24 68.35,641.35 82.42,638.17 96.49,637.64 110.56,639.76" stroke="#c8102e" stroke-width="1.9" fill="none" stroke-linejoin="round"/>
<circle cx="38.20" cy="648.24" r="1.45" fill="#c8102e"/>
<circle cx="68.35" cy="641.35" r="1.45" fill="#c8102e"/>
<circle cx="82.42" cy="638.17" r="1.45" fill="#c8102e"/>
<circle cx="96.49" cy="637.64" r="1.45" fill="#c8102e"/>
<circle cx="110.56" cy="639.76" r="1.45" fill="#c8102e"/>
<text x="68.75" y="637.00" font-size="9.0" text-anchor="middle" font-weight="bold" fill="#111" textLength="14.40" lengthAdjust="spacingAndGlyphs">****</text>
<line x1="162.30" y1="503.75" x2="241.50" y2="503.75" stroke="#000" stroke-width="1.3"/>
<line x1="162.30" y1="504.35" x2="162.30" y2="451.25" stroke="#000" stroke-width="1.3"/>
<line x1="162.30" y1="503.75" x2="162.30" y2="505.95" stroke="#000" stroke-width="0.9"/>
<line x1="181.95" y1="503.75" x2="181.95" y2="505.95" stroke="#000" stroke-width="0.9"/>
<line x1="201.60" y1="503.75" x2="201.60" y2="505.95" stroke="#000" stroke-width="0.9"/>
<line x1="221.25" y1="503.75" x2="221.25" y2="505.95" stroke="#000" stroke-width="0.9"/>
<line x1="240.90" y1="503.75" x2="240.90" y2="505.95" stroke="#000" stroke-width="0.9"/>
<line x1="160.10" y1="503.75" x2="162.30" y2="503.75" stroke="#000" stroke-width="0.9"/>
<line x1="160.10" y1="493.25" x2="162.30" y2="493.25" stroke="#000" stroke-width="0.9"/>
<line x1="160.10" y1="482.75" x2="162.30" y2="482.75" stroke="#000" stroke-width="0.9"/>
<line x1="160.10" y1="472.25" x2="162.30" y2="472.25" stroke="#000" stroke-width="0.9"/>
<line x1="160.10" y1="461.75" x2="162.30" y2="461.75" stroke="#000" stroke-width="0.9"/>
<line x1="160.10" y1="451.25" x2="162.30" y2="451.25" stroke="#000" stroke-width="0.9"/>
<text x="162.30" y="514.15" font-size="7.1" text-anchor="middle" font-weight="normal" fill="#1e1e1e" textLength="3.3" lengthAdjust="spacingAndGlyphs">0</text>
<text x="181.95" y="514.15" font-size="7.1" text-anchor="middle" font-weight="normal" fill="#1e1e1e" textLength="6.6" lengthAdjust="spacingAndGlyphs">10</text>
<text x="201.60" y="514.15" font-size="7.1" text-anchor="middle" font-weight="normal" fill="#1e1e1e" textLength="6.6" lengthAdjust="spacingAndGlyphs">20</text>
<text x="221.25" y="514.15" font-size="7.1" text-anchor="middle" font-weight="normal" fill="#1e1e1e" textLength="6.6" lengthAdjust="spacingAndGlyphs">30</text>
<text x="240.90" y="514.15" font-size="7.1" text-anchor="middle" font-weight="normal" fill="#1e1e1e" textLength="6.6" lengthAdjust="spacingAndGlyphs">40</text>
<text x="158.00" y="506.31" font-size="7.1" text-anchor="end" font-weight="normal" fill="#1e1e1e" textLength="3.3" lengthAdjust="spacingAndGlyphs">0</text>
<text x="158.00" y="495.81" font-size="7.1" text-anchor="end" font-weight="normal" fill="#1e1e1e" textLength="6.6" lengthAdjust="spacingAndGlyphs">20</text>
<text x="158.00" y="485.31" font-size="7.1" text-anchor="end" font-weight="normal" fill="#1e1e1e" textLength="6.6" lengthAdjust="spacingAndGlyphs">40</text>
<text x="158.00" y="474.81" font-size="7.1" text-anchor="end" font-weight="normal" fill="#1e1e1e" textLength="6.6" lengthAdjust="spacingAndGlyphs">60</text>
<text x="158.00" y="464.31" font-size="7.1" text-anchor="end" font-weight="normal" fill="#1e1e1e" textLength="6.6" lengthAdjust="spacingAndGlyphs">80</text>
<text x="158.00" y="453.81" font-size="7.1" text-anchor="end" font-weight="normal" fill="#1e1e1e" textLength="9.9" lengthAdjust="spacingAndGlyphs">100</text>
<text x="201.60" y="522.75" font-size="8.0" text-anchor="middle" font-weight="normal" fill="#1e1e1e" textLength="43" lengthAdjust="spacingAndGlyphs">Days (post CART)</text>
<text x="132.85" y="478.30" font-size="8.0" text-anchor="middle" font-weight="normal" fill="#1e1e1e" textLength="19" lengthAdjust="spacingAndGlyphs" transform="rotate(-90 132.85 478.30)" dominant-baseline="central">LAG3+</text>
<text x="142.95" y="478.30" font-size="8.0" text-anchor="middle" font-weight="normal" fill="#1e1e1e" textLength="56" lengthAdjust="spacingAndGlyphs" transform="rotate(-90 142.95 478.30)" dominant-baseline="central">as % CD8+ CART cells</text>
<line x1="205.53" y1="501.12" x2="205.53" y2="494.30" stroke="#7fa6cc" stroke-width="0.9"/>
<line x1="204.23" y1="501.12" x2="206.83" y2="501.12" stroke="#7fa6cc" stroke-width="0.9"/>
<line x1="204.23" y1="494.30" x2="206.83" y2="494.30" stroke="#7fa6cc" stroke-width="0.9"/>
<line x1="219.29" y1="503.75" x2="219.29" y2="495.88" stroke="#7fa6cc" stroke-width="0.9"/>
<line x1="217.99" y1="503.75" x2="220.59" y2="503.75" stroke="#7fa6cc" stroke-width="0.9"/>
<line x1="217.99" y1="495.88" x2="220.59" y2="495.88" stroke="#7fa6cc" stroke-width="0.9"/>
<line x1="233.04" y1="503.75" x2="233.04" y2="497.45" stroke="#7fa6cc" stroke-width="0.9"/>
<line x1="231.74" y1="503.75" x2="234.34" y2="503.75" stroke="#7fa6cc" stroke-width="0.9"/>
<line x1="231.74" y1="497.45" x2="234.34" y2="497.45" stroke="#7fa6cc" stroke-width="0.9"/>
<polyline points="162.30,455.45 191.78,499.55 205.53,497.45 219.29,500.07 233.04,501.12" stroke="#12427e" stroke-width="1.9" fill="none" stroke-linejoin="round"/>
<circle cx="162.30" cy="455.45" r="1.45" fill="#12427e"/>
<circle cx="191.78" cy="499.55" r="1.45" fill="#12427e"/>
<circle cx="205.53" cy="497.45" r="1.45" fill="#12427e"/>
<circle cx="219.29" cy="500.07" r="1.45" fill="#12427e"/>
<circle cx="233.04" cy="501.12" r="1.45" fill="#12427e"/>
<line x1="191.78" y1="462.80" x2="191.78" y2="451.77" stroke="#d5486a" stroke-width="0.9"/>
<line x1="190.47" y1="462.80" x2="193.08" y2="462.80" stroke="#d5486a" stroke-width="0.9"/>
<line x1="190.47" y1="451.77" x2="193.08" y2="451.77" stroke="#d5486a" stroke-width="0.9"/>
<line x1="205.53" y1="498.50" x2="205.53" y2="483.80" stroke="#d5486a" stroke-width="0.9"/>
<line x1="204.23" y1="498.50" x2="206.83" y2="498.50" stroke="#d5486a" stroke-width="0.9"/>
<line x1="204.23" y1="483.80" x2="206.83" y2="483.80" stroke="#d5486a" stroke-width="0.9"/>
<line x1="219.29" y1="482.75" x2="219.29" y2="477.50" stroke="#d5486a" stroke-width="0.9"/>
<line x1="217.99" y1="482.75" x2="220.59" y2="482.75" stroke="#d5486a" stroke-width="0.9"/>
<line x1="217.99" y1="477.50" x2="220.59" y2="477.50" stroke="#d5486a" stroke-width="0.9"/>
<polyline points="162.30,454.40 191.78,457.02 205.53,491.15 219.29,480.12 233.04,492.20" stroke="#c8102e" stroke-width="1.9" fill="none" stroke-linejoin="round"/>
<circle cx="162.30" cy="454.40" r="1.45" fill="#c8102e"/>
<circle cx="191.78" cy="457.02" r="1.45" fill="#c8102e"/>
<circle cx="205.53" cy="491.15" r="1.45" fill="#c8102e"/>
<circle cx="219.29" cy="480.12" r="1.45" fill="#c8102e"/>
<circle cx="233.04" cy="492.20" r="1.45" fill="#c8102e"/>
<text x="192.00" y="451.00" font-size="9.0" text-anchor="middle" font-weight="bold" fill="#111" textLength="14.40" lengthAdjust="spacingAndGlyphs">****</text>
<text x="206.25" y="481.00" font-size="9.0" text-anchor="middle" font-weight="bold" fill="#111" textLength="3.60" lengthAdjust="spacingAndGlyphs">*</text>
<line x1="162.30" y1="587.00" x2="241.50" y2="587.00" stroke="#000" stroke-width="1.3"/>
<line x1="162.30" y1="587.60" x2="162.30" y2="534.50" stroke="#000" stroke-width="1.3"/>
<line x1="162.30" y1="587.00" x2="162.30" y2="589.20" stroke="#000" stroke-width="0.9"/>
<line x1="181.95" y1="587.00" x2="181.95" y2="589.20" stroke="#000" stroke-width="0.9"/>
<line x1="201.60" y1="587.00" x2="201.60" y2="589.20" stroke="#000" stroke-width="0.9"/>
<line x1="221.25" y1="587.00" x2="221.25" y2="589.20" stroke="#000" stroke-width="0.9"/>
<line x1="240.90" y1="587.00" x2="240.90" y2="589.20" stroke="#000" stroke-width="0.9"/>
<line x1="160.10" y1="587.00" x2="162.30" y2="587.00" stroke="#000" stroke-width="0.9"/>
<line x1="160.10" y1="576.50" x2="162.30" y2="576.50" stroke="#000" stroke-width="0.9"/>
<line x1="160.10" y1="566.00" x2="162.30" y2="566.00" stroke="#000" stroke-width="0.9"/>
<line x1="160.10" y1="555.50" x2="162.30" y2="555.50" stroke="#000" stroke-width="0.9"/>
<line x1="160.10" y1="545.00" x2="162.30" y2="545.00" stroke="#000" stroke-width="0.9"/>
<line x1="160.10" y1="534.50" x2="162.30" y2="534.50" stroke="#000" stroke-width="0.9"/>
<text x="162.30" y="597.40" font-size="7.1" text-anchor="middle" font-weight="normal" fill="#1e1e1e" textLength="3.3" lengthAdjust="spacingAndGlyphs">0</text>
<text x="181.95" y="597.40" font-size="7.1" text-anchor="middle" font-weight="normal" fill="#1e1e1e" textLength="6.6" lengthAdjust="spacingAndGlyphs">10</text>
<text x="201.60" y="597.40" font-size="7.1" text-anchor="middle" font-weight="normal" fill="#1e1e1e" textLength="6.6" lengthAdjust="spacingAndGlyphs">20</text>
<text x="221.25" y="597.40" font-size="7.1" text-anchor="middle" font-weight="normal" fill="#1e1e1e" textLength="6.6" lengthAdjust="spacingAndGlyphs">30</text>
<text x="240.90" y="597.40" font-size="7.1" text-anchor="middle" font-weight="normal" fill="#1e1e1e" textLength="6.6" lengthAdjust="spacingAndGlyphs">40</text>
<text x="158.00" y="589.56" font-size="7.1" text-anchor="end" font-weight="normal" fill="#1e1e1e" textLength="3.3" lengthAdjust="spacingAndGlyphs">0</text>
<text x="158.00" y="579.06" font-size="7.1" text-anchor="end" font-weight="normal" fill="#1e1e1e" textLength="6.6" lengthAdjust="spacingAndGlyphs">20</text>
<text x="158.00" y="568.56" font-size="7.1" text-anchor="end" font-weight="normal" fill="#1e1e1e" textLength="6.6" lengthAdjust="spacingAndGlyphs">40</text>
<text x="158.00" y="558.06" font-size="7.1" text-anchor="end" font-weight="normal" fill="#1e1e1e" textLength="6.6" lengthAdjust="spacingAndGlyphs">60</text>
<text x="158.00" y="547.56" font-size="7.1" text-anchor="end" font-weight="normal" fill="#1e1e1e" textLength="6.6" lengthAdjust="spacingAndGlyphs">80</text>
<text x="158.00" y="537.06" font-size="7.1" text-anchor="end" font-weight="normal" fill="#1e1e1e" textLength="9.9" lengthAdjust="spacingAndGlyphs">100</text>
<text x="201.60" y="606.00" font-size="8.0" text-anchor="middle" font-weight="normal" fill="#1e1e1e" textLength="43" lengthAdjust="spacingAndGlyphs">Days (post CART)</text>
<text x="132.85" y="561.55" font-size="8.0" text-anchor="middle" font-weight="normal" fill="#1e1e1e" textLength="17" lengthAdjust="spacingAndGlyphs" transform="rotate(-90 132.85 561.55)" dominant-baseline="central">TIM3+</text>
<text x="142.95" y="561.55" font-size="8.0" text-anchor="middle" font-weight="normal" fill="#1e1e1e" textLength="56" lengthAdjust="spacingAndGlyphs" transform="rotate(-90 142.95 561.55)" dominant-baseline="central">as % CD8+ CART cells</text>
<line x1="191.78" y1="584.90" x2="191.78" y2="580.70" stroke="#7fa6cc" stroke-width="0.9"/>
<line x1="190.47" y1="584.90" x2="193.08" y2="584.90" stroke="#7fa6cc" stroke-width="0.9"/>
<line x1="190.47" y1="580.70" x2="193.08" y2="580.70" stroke="#7fa6cc" stroke-width="0.9"/>
<line x1="219.29" y1="585.42" x2="219.29" y2="578.60" stroke="#7fa6cc" stroke-width="0.9"/>
<line x1="217.99" y1="585.42" x2="220.59" y2="585.42" stroke="#7fa6cc" stroke-width="0.9"/>
<line x1="217.99" y1="578.60" x2="220.59" y2="578.60" stroke="#7fa6cc" stroke-width="0.9"/>
<polyline points="162.30,559.17 191.78,582.80 205.53,585.95 219.29,581.75 233.04,585.42" stroke="#12427e" stroke-width="1.9" fill="none" stroke-linejoin="round"/>
<circle cx="162.30" cy="559.17" r="1.45" fill="#12427e"/>
<circle cx="191.78" cy="582.80" r="1.45" fill="#12427e"/>
<circle cx="205.53" cy="585.95" r="1.45" fill="#12427e"/>
<circle cx="219.29" cy="581.75" r="1.45" fill="#12427e"/>
<circle cx="233.04" cy="585.42" r="1.45" fill="#12427e"/>
<line x1="191.78" y1="546.58" x2="191.78" y2="534.50" stroke="#d5486a" stroke-width="0.9"/>
<line x1="190.47" y1="546.58" x2="193.08" y2="546.58" stroke="#d5486a" stroke-width="0.9"/>
<line x1="190.47" y1="534.50" x2="193.08" y2="534.50" stroke="#d5486a" stroke-width="0.9"/>
<line x1="219.29" y1="566.52" x2="219.29" y2="559.70" stroke="#d5486a" stroke-width="0.9"/>
<line x1="217.99" y1="566.52" x2="220.59" y2="566.52" stroke="#d5486a" stroke-width="0.9"/>
<line x1="217.99" y1="559.70" x2="220.59" y2="559.70" stroke="#d5486a" stroke-width="0.9"/>
<polyline points="162.30,538.70 191.78,540.27 205.53,585.42 219.29,562.85 233.04,580.17" stroke="#c8102e" stroke-width="1.9" fill="none" stroke-linejoin="round"/>
<circle cx="162.30" cy="538.70" r="1.45" fill="#c8102e"/>
<circle cx="191.78" cy="540.27" r="1.45" fill="#c8102e"/>
<circle cx="205.53" cy="585.42" r="1.45" fill="#c8102e"/>
<circle cx="219.29" cy="562.85" r="1.45" fill="#c8102e"/>
<circle cx="233.04" cy="580.17" r="1.45" fill="#c8102e"/>
<text x="192.50" y="534.75" font-size="9.0" text-anchor="middle" font-weight="bold" fill="#111" textLength="14.40" lengthAdjust="spacingAndGlyphs">****</text>
<line x1="162.30" y1="670.50" x2="241.50" y2="670.50" stroke="#000" stroke-width="1.3"/>
<line x1="162.30" y1="671.10" x2="162.30" y2="617.50" stroke="#000" stroke-width="1.3"/>
<line x1="162.30" y1="670.50" x2="162.30" y2="672.70" stroke="#000" stroke-width="0.9"/>
<line x1="181.95" y1="670.50" x2="181.95" y2="672.70" stroke="#000" stroke-width="0.9"/>
<line x1="201.60" y1="670.50" x2="201.60" y2="672.70" stroke="#000" stroke-width="0.9"/>
<line x1="221.25" y1="670.50" x2="221.25" y2="672.70" stroke="#000" stroke-width="0.9"/>
<line x1="240.90" y1="670.50" x2="240.90" y2="672.70" stroke="#000" stroke-width="0.9"/>
<line x1="160.10" y1="670.50" x2="162.30" y2="670.50" stroke="#000" stroke-width="0.9"/>
<line x1="160.10" y1="659.90" x2="162.30" y2="659.90" stroke="#000" stroke-width="0.9"/>
<line x1="160.10" y1="649.30" x2="162.30" y2="649.30" stroke="#000" stroke-width="0.9"/>
<line x1="160.10" y1="638.70" x2="162.30" y2="638.70" stroke="#000" stroke-width="0.9"/>
<line x1="160.10" y1="628.10" x2="162.30" y2="628.10" stroke="#000" stroke-width="0.9"/>
<line x1="160.10" y1="617.50" x2="162.30" y2="617.50" stroke="#000" stroke-width="0.9"/>
<text x="162.30" y="680.90" font-size="7.1" text-anchor="middle" font-weight="normal" fill="#1e1e1e" textLength="3.3" lengthAdjust="spacingAndGlyphs">0</text>
<text x="181.95" y="680.90" font-size="7.1" text-anchor="middle" font-weight="normal" fill="#1e1e1e" textLength="6.6" lengthAdjust="spacingAndGlyphs">10</text>
<text x="201.60" y="680.90" font-size="7.1" text-anchor="middle" font-weight="normal" fill="#1e1e1e" textLength="6.6" lengthAdjust="spacingAndGlyphs">20</text>
<text x="221.25" y="680.90" font-size="7.1" text-anchor="middle" font-weight="normal" fill="#1e1e1e" textLength="6.6" lengthAdjust="spacingAndGlyphs">30</text>
<text x="240.90" y="680.90" font-size="7.1" text-anchor="middle" font-weight="normal" fill="#1e1e1e" textLength="6.6" lengthAdjust="spacingAndGlyphs">40</text>
<text x="158.00" y="673.06" font-size="7.1" text-anchor="end" font-weight="normal" fill="#1e1e1e" textLength="3.3" lengthAdjust="spacingAndGlyphs">0</text>
<text x="158.00" y="662.46" font-size="7.1" text-anchor="end" font-weight="normal" fill="#1e1e1e" textLength="6.6" lengthAdjust="spacingAndGlyphs">20</text>
<text x="158.00" y="651.86" font-size="7.1" text-anchor="end" font-weight="normal" fill="#1e1e1e" textLength="6.6" lengthAdjust="spacingAndGlyphs">40</text>
<text x="158.00" y="641.26" font-size="7.1" text-anchor="end" font-weight="normal" fill="#1e1e1e" textLength="6.6" lengthAdjust="spacingAndGlyphs">60</text>
<text x="158.00" y="630.66" font-size="7.1" text-anchor="end" font-weight="normal" fill="#1e1e1e" textLength="6.6" lengthAdjust="spacingAndGlyphs">80</text>
<text x="158.00" y="620.06" font-size="7.1" text-anchor="end" font-weight="normal" fill="#1e1e1e" textLength="9.9" lengthAdjust="spacingAndGlyphs">100</text>
<text x="201.60" y="689.50" font-size="8.0" text-anchor="middle" font-weight="normal" fill="#1e1e1e" textLength="43" lengthAdjust="spacingAndGlyphs">Days (post CART)</text>
<text x="132.85" y="644.80" font-size="8.0" text-anchor="middle" font-weight="normal" fill="#1e1e1e" textLength="14" lengthAdjust="spacingAndGlyphs" transform="rotate(-90 132.85 644.80)" dominant-baseline="central">PD1+</text>
<text x="142.95" y="644.80" font-size="8.0" text-anchor="middle" font-weight="normal" fill="#1e1e1e" textLength="56" lengthAdjust="spacingAndGlyphs" transform="rotate(-90 142.95 644.80)" dominant-baseline="central">as % CD8+ CART cells</text>
<line x1="205.53" y1="645.59" x2="205.53" y2="635.52" stroke="#7fa6cc" stroke-width="0.9"/>
<line x1="204.23" y1="645.59" x2="206.83" y2="645.59" stroke="#7fa6cc" stroke-width="0.9"/>
<line x1="204.23" y1="635.52" x2="206.83" y2="635.52" stroke="#7fa6cc" stroke-width="0.9"/>
<line x1="219.29" y1="650.89" x2="219.29" y2="639.76" stroke="#7fa6cc" stroke-width="0.9"/>
<line x1="217.99" y1="650.89" x2="220.59" y2="650.89" stroke="#7fa6cc" stroke-width="0.9"/>
<line x1="217.99" y1="639.76" x2="220.59" y2="639.76" stroke="#7fa6cc" stroke-width="0.9"/>
<line x1="233.04" y1="662.02" x2="233.04" y2="648.24" stroke="#7fa6cc" stroke-width="0.9"/>
<line x1="231.74" y1="662.02" x2="234.34" y2="662.02" stroke="#7fa6cc" stroke-width="0.9"/>
<line x1="231.74" y1="648.24" x2="234.34" y2="648.24" stroke="#7fa6cc" stroke-width="0.9"/>
<polyline points="162.30,651.42 191.78,664.67 205.53,640.82 219.29,645.06 233.04,655.13" stroke="#12427e" stroke-width="1.9" fill="none" stroke-linejoin="round"/>
<circle cx="162.30" cy="651.42" r="1.45" fill="#12427e"/>
<circle cx="191.78" cy="664.67" r="1.45" fill="#12427e"/>
<circle cx="205.53" cy="640.82" r="1.45" fill="#12427e"/>
<circle cx="219.29" cy="645.06" r="1.45" fill="#12427e"/>
<circle cx="233.04" cy="655.13" r="1.45" fill="#12427e"/>
<line x1="191.78" y1="638.70" x2="191.78" y2="619.62" stroke="#d5486a" stroke-width="0.9"/>
<line x1="190.47" y1="638.70" x2="193.08" y2="638.70" stroke="#d5486a" stroke-width="0.9"/>
<line x1="190.47" y1="619.62" x2="193.08" y2="619.62" stroke="#d5486a" stroke-width="0.9"/>
<line x1="205.53" y1="662.02" x2="205.53" y2="645.06" stroke="#d5486a" stroke-width="0.9"/>
<line x1="204.23" y1="662.02" x2="206.83" y2="662.02" stroke="#d5486a" stroke-width="0.9"/>
<line x1="204.23" y1="645.06" x2="206.83" y2="645.06" stroke="#d5486a" stroke-width="0.9"/>
<line x1="219.29" y1="641.35" x2="219.29" y2="633.40" stroke="#d5486a" stroke-width="0.9"/>
<line x1="217.99" y1="641.35" x2="220.59" y2="641.35" stroke="#d5486a" stroke-width="0.9"/>
<line x1="217.99" y1="633.40" x2="220.59" y2="633.40" stroke="#d5486a" stroke-width="0.9"/>
<polyline points="162.30,664.14 191.78,628.63 205.53,652.48 219.29,637.64 233.04,637.64" stroke="#c8102e" stroke-width="1.9" fill="none" stroke-linejoin="round"/>
<circle cx="162.30" cy="664.14" r="1.45" fill="#c8102e"/>
<circle cx="191.78" cy="628.63" r="1.45" fill="#c8102e"/>
<circle cx="205.53" cy="652.48" r="1.45" fill="#c8102e"/>
<circle cx="219.29" cy="637.64" r="1.45" fill="#c8102e"/>
<circle cx="233.04" cy="637.64" r="1.45" fill="#c8102e"/>
<text x="190.50" y="619.00" font-size="9.0" text-anchor="middle" font-weight="bold" fill="#111" textLength="14.40" lengthAdjust="spacingAndGlyphs">****</text>
<text x="205.50" y="634.00" font-size="9.0" text-anchor="middle" font-weight="bold" fill="#111" textLength="7.20" lengthAdjust="spacingAndGlyphs">**</text>
<line x1="301.90" y1="503.75" x2="386.10" y2="503.75" stroke="#000" stroke-width="1.3"/>
<line x1="301.90" y1="504.35" x2="301.90" y2="448.00" stroke="#000" stroke-width="1.3"/>
<line x1="301.90" y1="503.75" x2="301.90" y2="505.95" stroke="#000" stroke-width="0.9"/>
<line x1="318.62" y1="503.75" x2="318.62" y2="505.95" stroke="#000" stroke-width="0.9"/>
<line x1="335.34" y1="503.75" x2="335.34" y2="505.95" stroke="#000" stroke-width="0.9"/>
<line x1="352.06" y1="503.75" x2="352.06" y2="505.95" stroke="#000" stroke-width="0.9"/>
<line x1="368.78" y1="503.75" x2="368.78" y2="505.95" stroke="#000" stroke-width="0.9"/>
<line x1="385.50" y1="503.75" x2="385.50" y2="505.95" stroke="#000" stroke-width="0.9"/>
<line x1="299.70" y1="503.75" x2="301.90" y2="503.75" stroke="#000" stroke-width="0.9"/>
<line x1="299.70" y1="492.60" x2="301.90" y2="492.60" stroke="#000" stroke-width="0.9"/>
<line x1="299.70" y1="481.45" x2="301.90" y2="481.45" stroke="#000" stroke-width="0.9"/>
<line x1="299.70" y1="470.30" x2="301.90" y2="470.30" stroke="#000" stroke-width="0.9"/>
<line x1="299.70" y1="459.15" x2="301.90" y2="459.15" stroke="#000" stroke-width="0.9"/>
<line x1="299.70" y1="448.00" x2="301.90" y2="448.00" stroke="#000" stroke-width="0.9"/>
<text x="301.90" y="514.15" font-size="7.1" text-anchor="middle" font-weight="normal" fill="#1e1e1e" textLength="3.3" lengthAdjust="spacingAndGlyphs">0</text>
<text x="318.62" y="514.15" font-size="7.1" text-anchor="middle" font-weight="normal" fill="#1e1e1e" textLength="6.6" lengthAdjust="spacingAndGlyphs">10</text>
<text x="335.34" y="514.15" font-size="7.1" text-anchor="middle" font-weight="normal" fill="#1e1e1e" textLength="6.6" lengthAdjust="spacingAndGlyphs">20</text>
<text x="352.06" y="514.15" font-size="7.1" text-anchor="middle" font-weight="normal" fill="#1e1e1e" textLength="6.6" lengthAdjust="spacingAndGlyphs">30</text>
<text x="368.78" y="514.15" font-size="7.1" text-anchor="middle" font-weight="normal" fill="#1e1e1e" textLength="6.6" lengthAdjust="spacingAndGlyphs">40</text>
<text x="385.50" y="514.15" font-size="7.1" text-anchor="middle" font-weight="normal" fill="#1e1e1e" textLength="6.6" lengthAdjust="spacingAndGlyphs">50</text>
<text x="297.60" y="506.31" font-size="7.1" text-anchor="end" font-weight="normal" fill="#1e1e1e" textLength="3.3" lengthAdjust="spacingAndGlyphs">0</text>
<text x="297.60" y="495.16" font-size="7.1" text-anchor="end" font-weight="normal" fill="#1e1e1e" textLength="6.6" lengthAdjust="spacingAndGlyphs">20</text>
<text x="297.60" y="484.01" font-size="7.1" text-anchor="end" font-weight="normal" fill="#1e1e1e" textLength="6.6" lengthAdjust="spacingAndGlyphs">40</text>
<text x="297.60" y="472.86" font-size="7.1" text-anchor="end" font-weight="normal" fill="#1e1e1e" textLength="6.6" lengthAdjust="spacingAndGlyphs">60</text>
<text x="297.60" y="461.71" font-size="7.1" text-anchor="end" font-weight="normal" fill="#1e1e1e" textLength="6.6" lengthAdjust="spacingAndGlyphs">80</text>
<text x="297.60" y="450.56" font-size="7.1" text-anchor="end" font-weight="normal" fill="#1e1e1e" textLength="9.9" lengthAdjust="spacingAndGlyphs">100</text>
<text x="343.70" y="522.75" font-size="8.0" text-anchor="middle" font-weight="normal" fill="#1e1e1e" textLength="43" lengthAdjust="spacingAndGlyphs">Days (post CART)</text>
<text x="272.45" y="476.68" font-size="8.0" text-anchor="middle" font-weight="normal" fill="#1e1e1e" textLength="19" lengthAdjust="spacingAndGlyphs" transform="rotate(-90 272.45 476.68)" dominant-baseline="central">LAG3+</text>
<text x="282.55" y="476.68" font-size="8.0" text-anchor="middle" font-weight="normal" fill="#1e1e1e" textLength="51" lengthAdjust="spacingAndGlyphs" transform="rotate(-90 282.55 476.68)" dominant-baseline="central">as % CD4 CART cells</text>
<line x1="372.12" y1="497.06" x2="372.12" y2="491.49" stroke="#7fa6cc" stroke-width="0.9"/>
<line x1="370.82" y1="497.06" x2="373.42" y2="497.06" stroke="#7fa6cc" stroke-width="0.9"/>
<line x1="370.82" y1="491.49" x2="373.42" y2="491.49" stroke="#7fa6cc" stroke-width="0.9"/>
<line x1="383.83" y1="492.60" x2="383.83" y2="483.12" stroke="#7fa6cc" stroke-width="0.9"/>
<line x1="382.53" y1="492.60" x2="385.13" y2="492.60" stroke="#7fa6cc" stroke-width="0.9"/>
<line x1="382.53" y1="483.12" x2="385.13" y2="483.12" stroke="#7fa6cc" stroke-width="0.9"/>
<polyline points="301.90,489.25 325.31,486.47 337.01,488.14 348.72,485.91 360.42,488.70 372.12,494.83 383.83,488.14" stroke="#12427e" stroke-width="1.9" fill="none" stroke-linejoin="round"/>
<circle cx="301.90" cy="489.25" r="1.45" fill="#12427e"/>
<circle cx="325.31" cy="486.47" r="1.45" fill="#12427e"/>
<circle cx="337.01" cy="488.14" r="1.45" fill="#12427e"/>
<circle cx="348.72" cy="485.91" r="1.45" fill="#12427e"/>
<circle cx="360.42" cy="488.70" r="1.45" fill="#12427e"/>
<circle cx="372.12" cy="494.83" r="1.45" fill="#12427e"/>
<circle cx="383.83" cy="488.14" r="1.45" fill="#12427e"/>
<line x1="325.31" y1="481.45" x2="325.31" y2="472.53" stroke="#d5486a" stroke-width="0.9"/>
<line x1="324.01" y1="481.45" x2="326.61" y2="481.45" stroke="#d5486a" stroke-width="0.9"/>
<line x1="324.01" y1="472.53" x2="326.61" y2="472.53" stroke="#d5486a" stroke-width="0.9"/>
<line x1="337.01" y1="484.24" x2="337.01" y2="473.09" stroke="#d5486a" stroke-width="0.9"/>
<line x1="335.71" y1="484.24" x2="338.31" y2="484.24" stroke="#d5486a" stroke-width="0.9"/>
<line x1="335.71" y1="473.09" x2="338.31" y2="473.09" stroke="#d5486a" stroke-width="0.9"/>
<line x1="348.72" y1="488.70" x2="348.72" y2="479.78" stroke="#d5486a" stroke-width="0.9"/>
<line x1="347.42" y1="488.70" x2="350.02" y2="488.70" stroke="#d5486a" stroke-width="0.9"/>
<line x1="347.42" y1="479.78" x2="350.02" y2="479.78" stroke="#d5486a" stroke-width="0.9"/>
<line x1="360.42" y1="490.37" x2="360.42" y2="487.02" stroke="#d5486a" stroke-width="0.9"/>
<line x1="359.12" y1="490.37" x2="361.72" y2="490.37" stroke="#d5486a" stroke-width="0.9"/>
<line x1="359.12" y1="487.02" x2="361.72" y2="487.02" stroke="#d5486a" stroke-width="0.9"/>
<line x1="372.12" y1="498.18" x2="372.12" y2="492.60" stroke="#d5486a" stroke-width="0.9"/>
<line x1="370.82" y1="498.18" x2="373.42" y2="498.18" stroke="#d5486a" stroke-width="0.9"/>
<line x1="370.82" y1="492.60" x2="373.42" y2="492.60" stroke="#d5486a" stroke-width="0.9"/>
<line x1="383.83" y1="494.27" x2="383.83" y2="478.66" stroke="#d5486a" stroke-width="0.9"/>
<line x1="382.53" y1="494.27" x2="385.13" y2="494.27" stroke="#d5486a" stroke-width="0.9"/>
<line x1="382.53" y1="478.66" x2="385.13" y2="478.66" stroke="#d5486a" stroke-width="0.9"/>
<polyline points="301.90,492.60 325.31,476.99 337.01,478.66 348.72,484.24 360.42,488.70 372.12,495.39 383.83,487.02" stroke="#c8102e" stroke-width="1.9" fill="none" stroke-linejoin="round"/>
<circle cx="301.90" cy="492.60" r="1.45" fill="#c8102e"/>
<circle cx="325.31" cy="476.99" r="1.45" fill="#c8102e"/>
<circle cx="337.01" cy="478.66" r="1.45" fill="#c8102e"/>
<circle cx="348.72" cy="484.24" r="1.45" fill="#c8102e"/>
<circle cx="360.42" cy="488.70" r="1.45" fill="#c8102e"/>
<circle cx="372.12" cy="495.39" r="1.45" fill="#c8102e"/>
<circle cx="383.83" cy="487.02" r="1.45" fill="#c8102e"/>
<text x="325.50" y="461.00" font-size="9.0" text-anchor="middle" font-weight="bold" fill="#111" textLength="14.40" lengthAdjust="spacingAndGlyphs">****</text>
<text x="338.00" y="469.00" font-size="9.0" text-anchor="middle" font-weight="bold" fill="#111" textLength="14.40" lengthAdjust="spacingAndGlyphs">****</text>
<text x="348.75" y="477.00" font-size="9.0" text-anchor="middle" font-weight="bold" fill="#111" textLength="7.20" lengthAdjust="spacingAndGlyphs">**</text>
<line x1="301.90" y1="587.00" x2="386.10" y2="587.00" stroke="#000" stroke-width="1.3"/>
<line x1="301.90" y1="587.60" x2="301.90" y2="531.25" stroke="#000" stroke-width="1.3"/>
<line x1="301.90" y1="587.00" x2="301.90" y2="589.20" stroke="#000" stroke-width="0.9"/>
<line x1="318.62" y1="587.00" x2="318.62" y2="589.20" stroke="#000" stroke-width="0.9"/>
<line x1="335.34" y1="587.00" x2="335.34" y2="589.20" stroke="#000" stroke-width="0.9"/>
<line x1="352.06" y1="587.00" x2="352.06" y2="589.20" stroke="#000" stroke-width="0.9"/>
<line x1="368.78" y1="587.00" x2="368.78" y2="589.20" stroke="#000" stroke-width="0.9"/>
<line x1="385.50" y1="587.00" x2="385.50" y2="589.20" stroke="#000" stroke-width="0.9"/>
<line x1="299.70" y1="587.00" x2="301.90" y2="587.00" stroke="#000" stroke-width="0.9"/>
<line x1="299.70" y1="575.85" x2="301.90" y2="575.85" stroke="#000" stroke-width="0.9"/>
<line x1="299.70" y1="564.70" x2="301.90" y2="564.70" stroke="#000" stroke-width="0.9"/>
<line x1="299.70" y1="553.55" x2="301.90" y2="553.55" stroke="#000" stroke-width="0.9"/>
<line x1="299.70" y1="542.40" x2="301.90" y2="542.40" stroke="#000" stroke-width="0.9"/>
<line x1="299.70" y1="531.25" x2="301.90" y2="531.25" stroke="#000" stroke-width="0.9"/>
<text x="301.90" y="597.40" font-size="7.1" text-anchor="middle" font-weight="normal" fill="#1e1e1e" textLength="3.3" lengthAdjust="spacingAndGlyphs">0</text>
<text x="318.62" y="597.40" font-size="7.1" text-anchor="middle" font-weight="normal" fill="#1e1e1e" textLength="6.6" lengthAdjust="spacingAndGlyphs">10</text>
<text x="335.34" y="597.40" font-size="7.1" text-anchor="middle" font-weight="normal" fill="#1e1e1e" textLength="6.6" lengthAdjust="spacingAndGlyphs">20</text>
<text x="352.06" y="597.40" font-size="7.1" text-anchor="middle" font-weight="normal" fill="#1e1e1e" textLength="6.6" lengthAdjust="spacingAndGlyphs">30</text>
<text x="368.78" y="597.40" font-size="7.1" text-anchor="middle" font-weight="normal" fill="#1e1e1e" textLength="6.6" lengthAdjust="spacingAndGlyphs">40</text>
<text x="385.50" y="597.40" font-size="7.1" text-anchor="middle" font-weight="normal" fill="#1e1e1e" textLength="6.6" lengthAdjust="spacingAndGlyphs">50</text>
<text x="297.60" y="589.56" font-size="7.1" text-anchor="end" font-weight="normal" fill="#1e1e1e" textLength="3.3" lengthAdjust="spacingAndGlyphs">0</text>
<text x="297.60" y="578.41" font-size="7.1" text-anchor="end" font-weight="normal" fill="#1e1e1e" textLength="6.6" lengthAdjust="spacingAndGlyphs">20</text>
<text x="297.60" y="567.26" font-size="7.1" text-anchor="end" font-weight="normal" fill="#1e1e1e" textLength="6.6" lengthAdjust="spacingAndGlyphs">40</text>
<text x="297.60" y="556.11" font-size="7.1" text-anchor="end" font-weight="normal" fill="#1e1e1e" textLength="6.6" lengthAdjust="spacingAndGlyphs">60</text>
<text x="297.60" y="544.96" font-size="7.1" text-anchor="end" font-weight="normal" fill="#1e1e1e" textLength="6.6" lengthAdjust="spacingAndGlyphs">80</text>
<text x="297.60" y="533.81" font-size="7.1" text-anchor="end" font-weight="normal" fill="#1e1e1e" textLength="9.9" lengthAdjust="spacingAndGlyphs">100</text>
<text x="343.70" y="606.00" font-size="8.0" text-anchor="middle" font-weight="normal" fill="#1e1e1e" textLength="43" lengthAdjust="spacingAndGlyphs">Days (post CART)</text>
<text x="272.45" y="559.92" font-size="8.0" text-anchor="middle" font-weight="normal" fill="#1e1e1e" textLength="17" lengthAdjust="spacingAndGlyphs" transform="rotate(-90 272.45 559.92)" dominant-baseline="central">TIM3+</text>
<text x="282.55" y="559.92" font-size="8.0" text-anchor="middle" font-weight="normal" fill="#1e1e1e" textLength="56" lengthAdjust="spacingAndGlyphs" transform="rotate(-90 282.55 559.92)" dominant-baseline="central">as % CD4+ CART cells</text>
<polyline points="301.90,568.04 325.31,575.85 337.01,574.74 348.72,575.29 360.42,575.85 372.12,584.77 383.83,584.21" stroke="#12427e" stroke-width="1.9" fill="none" stroke-linejoin="round"/>
<circle cx="301.90" cy="568.04" r="1.45" fill="#12427e"/>
<circle cx="325.31" cy="575.85" r="1.45" fill="#12427e"/>
<circle cx="337.01" cy="574.74" r="1.45" fill="#12427e"/>
<circle cx="348.72" cy="575.29" r="1.45" fill="#12427e"/>
<circle cx="360.42" cy="575.85" r="1.45" fill="#12427e"/>
<circle cx="372.12" cy="584.77" r="1.45" fill="#12427e"/>
<circle cx="383.83" cy="584.21" r="1.45" fill="#12427e"/>
<line x1="325.31" y1="571.39" x2="325.31" y2="560.80" stroke="#d5486a" stroke-width="0.9"/>
<line x1="324.01" y1="571.39" x2="326.61" y2="571.39" stroke="#d5486a" stroke-width="0.9"/>
<line x1="324.01" y1="560.80" x2="326.61" y2="560.80" stroke="#d5486a" stroke-width="0.9"/>
<line x1="337.01" y1="568.04" x2="337.01" y2="555.22" stroke="#d5486a" stroke-width="0.9"/>
<line x1="335.71" y1="568.04" x2="338.31" y2="568.04" stroke="#d5486a" stroke-width="0.9"/>
<line x1="335.71" y1="555.22" x2="338.31" y2="555.22" stroke="#d5486a" stroke-width="0.9"/>
<line x1="348.72" y1="575.29" x2="348.72" y2="572.50" stroke="#d5486a" stroke-width="0.9"/>
<line x1="347.42" y1="575.29" x2="350.02" y2="575.29" stroke="#d5486a" stroke-width="0.9"/>
<line x1="347.42" y1="572.50" x2="350.02" y2="572.50" stroke="#d5486a" stroke-width="0.9"/>
<polyline points="301.90,551.88 325.31,565.82 337.01,561.36 348.72,574.18 360.42,574.74 372.12,584.21 383.83,583.65" stroke="#c8102e" stroke-width="1.9" fill="none" stroke-linejoin="round"/>
<circle cx="301.90" cy="551.88" r="1.45" fill="#c8102e"/>
<circle cx="325.31" cy="565.82" r="1.45" fill="#c8102e"/>
<circle cx="337.01" cy="561.36" r="1.45" fill="#c8102e"/>
<circle cx="348.72" cy="574.18" r="1.45" fill="#c8102e"/>
<circle cx="360.42" cy="574.74" r="1.45" fill="#c8102e"/>
<circle cx="372.12" cy="584.21" r="1.45" fill="#c8102e"/>
<circle cx="383.83" cy="583.65" r="1.45" fill="#c8102e"/>
<text x="325.50" y="559.00" font-size="9.0" text-anchor="middle" font-weight="bold" fill="#111" textLength="14.40" lengthAdjust="spacingAndGlyphs">****</text>
<text x="337.50" y="552.75" font-size="9.0" text-anchor="middle" font-weight="bold" fill="#111" textLength="14.40" lengthAdjust="spacingAndGlyphs">****</text>
<text x="350.00" y="564.75" font-size="9.0" text-anchor="middle" font-weight="bold" fill="#111" textLength="7.20" lengthAdjust="spacingAndGlyphs">**</text>
<line x1="301.90" y1="670.50" x2="386.10" y2="670.50" stroke="#000" stroke-width="1.3"/>
<line x1="301.90" y1="671.10" x2="301.90" y2="615.00" stroke="#000" stroke-width="1.3"/>
<line x1="301.90" y1="670.50" x2="301.90" y2="672.70" stroke="#000" stroke-width="0.9"/>
<line x1="318.62" y1="670.50" x2="318.62" y2="672.70" stroke="#000" stroke-width="0.9"/>
<line x1="335.34" y1="670.50" x2="335.34" y2="672.70" stroke="#000" stroke-width="0.9"/>
<line x1="352.06" y1="670.50" x2="352.06" y2="672.70" stroke="#000" stroke-width="0.9"/>
<line x1="368.78" y1="670.50" x2="368.78" y2="672.70" stroke="#000" stroke-width="0.9"/>
<line x1="385.50" y1="670.50" x2="385.50" y2="672.70" stroke="#000" stroke-width="0.9"/>
<line x1="299.70" y1="670.50" x2="301.90" y2="670.50" stroke="#000" stroke-width="0.9"/>
<line x1="299.70" y1="659.40" x2="301.90" y2="659.40" stroke="#000" stroke-width="0.9"/>
<line x1="299.70" y1="648.30" x2="301.90" y2="648.30" stroke="#000" stroke-width="0.9"/>
<line x1="299.70" y1="637.20" x2="301.90" y2="637.20" stroke="#000" stroke-width="0.9"/>
<line x1="299.70" y1="626.10" x2="301.90" y2="626.10" stroke="#000" stroke-width="0.9"/>
<line x1="299.70" y1="615.00" x2="301.90" y2="615.00" stroke="#000" stroke-width="0.9"/>
<text x="301.90" y="680.90" font-size="7.1" text-anchor="middle" font-weight="normal" fill="#1e1e1e" textLength="3.3" lengthAdjust="spacingAndGlyphs">0</text>
<text x="318.62" y="680.90" font-size="7.1" text-anchor="middle" font-weight="normal" fill="#1e1e1e" textLength="6.6" lengthAdjust="spacingAndGlyphs">10</text>
<text x="335.34" y="680.90" font-size="7.1" text-anchor="middle" font-weight="normal" fill="#1e1e1e" textLength="6.6" lengthAdjust="spacingAndGlyphs">20</text>
<text x="352.06" y="680.90" font-size="7.1" text-anchor="middle" font-weight="normal" fill="#1e1e1e" textLength="6.6" lengthAdjust="spacingAndGlyphs">30</text>
<text x="368.78" y="680.90" font-size="7.1" text-anchor="middle" font-weight="normal" fill="#1e1e1e" textLength="6.6" lengthAdjust="spacingAndGlyphs">40</text>
<text x="385.50" y="680.90" font-size="7.1" text-anchor="middle" font-weight="normal" fill="#1e1e1e" textLength="6.6" lengthAdjust="spacingAndGlyphs">50</text>
<text x="297.60" y="673.06" font-size="7.1" text-anchor="end" font-weight="normal" fill="#1e1e1e" textLength="3.3" lengthAdjust="spacingAndGlyphs">0</text>
<text x="297.60" y="661.96" font-size="7.1" text-anchor="end" font-weight="normal" fill="#1e1e1e" textLength="6.6" lengthAdjust="spacingAndGlyphs">20</text>
<text x="297.60" y="650.86" font-size="7.1" text-anchor="end" font-weight="normal" fill="#1e1e1e" textLength="6.6" lengthAdjust="spacingAndGlyphs">40</text>
<text x="297.60" y="639.76" font-size="7.1" text-anchor="end" font-weight="normal" fill="#1e1e1e" textLength="6.6" lengthAdjust="spacingAndGlyphs">60</text>
<text x="297.60" y="628.66" font-size="7.1" text-anchor="end" font-weight="normal" fill="#1e1e1e" textLength="6.6" lengthAdjust="spacingAndGlyphs">80</text>
<text x="297.60" y="617.56" font-size="7.1" text-anchor="end" font-weight="normal" fill="#1e1e1e" textLength="9.9" lengthAdjust="spacingAndGlyphs">100</text>
<text x="343.70" y="689.50" font-size="8.0" text-anchor="middle" font-weight="normal" fill="#1e1e1e" textLength="43" lengthAdjust="spacingAndGlyphs">Days (post CART)</text>
<text x="272.45" y="643.55" font-size="8.0" text-anchor="middle" font-weight="normal" fill="#1e1e1e" textLength="14" lengthAdjust="spacingAndGlyphs" transform="rotate(-90 272.45 643.55)" dominant-baseline="central">PD1+</text>
<text x="282.55" y="643.55" font-size="8.0" text-anchor="middle" font-weight="normal" fill="#1e1e1e" textLength="56" lengthAdjust="spacingAndGlyphs" transform="rotate(-90 282.55 643.55)" dominant-baseline="central">as % CD4+ CART cells</text>
<line x1="348.72" y1="651.08" x2="348.72" y2="645.52" stroke="#7fa6cc" stroke-width="0.9"/>
<line x1="347.42" y1="651.08" x2="350.02" y2="651.08" stroke="#7fa6cc" stroke-width="0.9"/>
<line x1="347.42" y1="645.52" x2="350.02" y2="645.52" stroke="#7fa6cc" stroke-width="0.9"/>
<line x1="360.42" y1="648.30" x2="360.42" y2="639.98" stroke="#7fa6cc" stroke-width="0.9"/>
<line x1="359.12" y1="648.30" x2="361.72" y2="648.30" stroke="#7fa6cc" stroke-width="0.9"/>
<line x1="359.12" y1="639.98" x2="361.72" y2="639.98" stroke="#7fa6cc" stroke-width="0.9"/>
<line x1="372.12" y1="638.87" x2="372.12" y2="626.65" stroke="#7fa6cc" stroke-width="0.9"/>
<line x1="370.82" y1="638.87" x2="373.42" y2="638.87" stroke="#7fa6cc" stroke-width="0.9"/>
<line x1="370.82" y1="626.65" x2="373.42" y2="626.65" stroke="#7fa6cc" stroke-width="0.9"/>
<line x1="383.83" y1="652.74" x2="383.83" y2="629.43" stroke="#7fa6cc" stroke-width="0.9"/>
<line x1="382.53" y1="652.74" x2="385.13" y2="652.74" stroke="#7fa6cc" stroke-width="0.9"/>
<line x1="382.53" y1="629.43" x2="385.13" y2="629.43" stroke="#7fa6cc" stroke-width="0.9"/>
<polyline points="301.90,662.73 325.31,656.62 337.01,659.40 348.72,648.30 360.42,644.97 372.12,632.76 383.83,641.09" stroke="#12427e" stroke-width="1.9" fill="none" stroke-linejoin="round"/>
<circle cx="301.90" cy="662.73" r="1.45" fill="#12427e"/>
<circle cx="325.31" cy="656.62" r="1.45" fill="#12427e"/>
<circle cx="337.01" cy="659.40" r="1.45" fill="#12427e"/>
<circle cx="348.72" cy="648.30" r="1.45" fill="#12427e"/>
<circle cx="360.42" cy="644.97" r="1.45" fill="#12427e"/>
<circle cx="372.12" cy="632.76" r="1.45" fill="#12427e"/>
<circle cx="383.83" cy="641.09" r="1.45" fill="#12427e"/>
<line x1="325.31" y1="648.30" x2="325.31" y2="632.76" stroke="#d5486a" stroke-width="0.9"/>
<line x1="324.01" y1="648.30" x2="326.61" y2="648.30" stroke="#d5486a" stroke-width="0.9"/>
<line x1="324.01" y1="632.76" x2="326.61" y2="632.76" stroke="#d5486a" stroke-width="0.9"/>
<line x1="337.01" y1="648.86" x2="337.01" y2="633.87" stroke="#d5486a" stroke-width="0.9"/>
<line x1="335.71" y1="648.86" x2="338.31" y2="648.86" stroke="#d5486a" stroke-width="0.9"/>
<line x1="335.71" y1="633.87" x2="338.31" y2="633.87" stroke="#d5486a" stroke-width="0.9"/>
<line x1="348.72" y1="645.52" x2="348.72" y2="634.98" stroke="#d5486a" stroke-width="0.9"/>
<line x1="347.42" y1="645.52" x2="350.02" y2="645.52" stroke="#d5486a" stroke-width="0.9"/>
<line x1="347.42" y1="634.98" x2="350.02" y2="634.98" stroke="#d5486a" stroke-width="0.9"/>
<line x1="360.42" y1="653.85" x2="360.42" y2="636.09" stroke="#d5486a" stroke-width="0.9"/>
<line x1="359.12" y1="653.85" x2="361.72" y2="653.85" stroke="#d5486a" stroke-width="0.9"/>
<line x1="359.12" y1="636.09" x2="361.72" y2="636.09" stroke="#d5486a" stroke-width="0.9"/>
<line x1="372.12" y1="658.85" x2="372.12" y2="628.88" stroke="#d5486a" stroke-width="0.9"/>
<line x1="370.82" y1="658.85" x2="373.42" y2="658.85" stroke="#d5486a" stroke-width="0.9"/>
<line x1="370.82" y1="628.88" x2="373.42" y2="628.88" stroke="#d5486a" stroke-width="0.9"/>
<line x1="383.83" y1="663.28" x2="383.83" y2="647.75" stroke="#d5486a" stroke-width="0.9"/>
<line x1="382.53" y1="663.28" x2="385.13" y2="663.28" stroke="#d5486a" stroke-width="0.9"/>
<line x1="382.53" y1="647.75" x2="385.13" y2="647.75" stroke="#d5486a" stroke-width="0.9"/>
<polyline points="301.90,659.96 325.31,640.53 337.01,641.09 348.72,639.98 360.42,644.97 372.12,643.86 383.83,655.51" stroke="#c8102e" stroke-width="1.9" fill="none" stroke-linejoin="round"/>
<circle cx="301.90" cy="659.96" r="1.45" fill="#c8102e"/>
<circle cx="325.31" cy="640.53" r="1.45" fill="#c8102e"/>
<circle cx="337.01" cy="641.09" r="1.45" fill="#c8102e"/>
<circle cx="348.72" cy="639.98" r="1.45" fill="#c8102e"/>
<circle cx="360.42" cy="644.97" r="1.45" fill="#c8102e"/>
<circle cx="372.12" cy="643.86" r="1.45" fill="#c8102e"/>
<circle cx="383.83" cy="655.51" r="1.45" fill="#c8102e"/>
<text x="325.50" y="626.00" font-size="9.0" text-anchor="middle" font-weight="bold" fill="#111" textLength="7.20" lengthAdjust="spacingAndGlyphs">**</text>
<text x="337.50" y="629.75" font-size="9.0" text-anchor="middle" font-weight="bold" fill="#111" textLength="7.20" lengthAdjust="spacingAndGlyphs">**</text>
<text x="348.75" y="634.00" font-size="9.0" text-anchor="middle" font-weight="bold" fill="#111" textLength="7.20" lengthAdjust="spacingAndGlyphs">**</text>
<text x="384.50" y="627.25" font-size="9.0" text-anchor="middle" font-weight="bold" fill="#111" textLength="3.60" lengthAdjust="spacingAndGlyphs">*</text>
<line x1="425.30" y1="503.75" x2="509.10" y2="503.75" stroke="#000" stroke-width="1.3"/>
<line x1="425.30" y1="504.35" x2="425.30" y2="447.00" stroke="#000" stroke-width="1.3"/>
<line x1="425.30" y1="503.75" x2="425.30" y2="505.95" stroke="#000" stroke-width="0.9"/>
<line x1="441.94" y1="503.75" x2="441.94" y2="505.95" stroke="#000" stroke-width="0.9"/>
<line x1="458.58" y1="503.75" x2="458.58" y2="505.95" stroke="#000" stroke-width="0.9"/>
<line x1="475.22" y1="503.75" x2="475.22" y2="505.95" stroke="#000" stroke-width="0.9"/>
<line x1="491.86" y1="503.75" x2="491.86" y2="505.95" stroke="#000" stroke-width="0.9"/>
<line x1="508.50" y1="503.75" x2="508.50" y2="505.95" stroke="#000" stroke-width="0.9"/>
<line x1="423.10" y1="503.75" x2="425.30" y2="503.75" stroke="#000" stroke-width="0.9"/>
<line x1="423.10" y1="492.40" x2="425.30" y2="492.40" stroke="#000" stroke-width="0.9"/>
<line x1="423.10" y1="481.05" x2="425.30" y2="481.05" stroke="#000" stroke-width="0.9"/>
<line x1="423.10" y1="469.70" x2="425.30" y2="469.70" stroke="#000" stroke-width="0.9"/>
<line x1="423.10" y1="458.35" x2="425.30" y2="458.35" stroke="#000" stroke-width="0.9"/>
<line x1="423.10" y1="447.00" x2="425.30" y2="447.00" stroke="#000" stroke-width="0.9"/>
<text x="425.30" y="514.15" font-size="7.1" text-anchor="middle" font-weight="normal" fill="#1e1e1e" textLength="3.3" lengthAdjust="spacingAndGlyphs">0</text>
<text x="441.94" y="514.15" font-size="7.1" text-anchor="middle" font-weight="normal" fill="#1e1e1e" textLength="6.6" lengthAdjust="spacingAndGlyphs">10</text>
<text x="458.58" y="514.15" font-size="7.1" text-anchor="middle" font-weight="normal" fill="#1e1e1e" textLength="6.6" lengthAdjust="spacingAndGlyphs">20</text>
<text x="475.22" y="514.15" font-size="7.1" text-anchor="middle" font-weight="normal" fill="#1e1e1e" textLength="6.6" lengthAdjust="spacingAndGlyphs">30</text>
<text x="491.86" y="514.15" font-size="7.1" text-anchor="middle" font-weight="normal" fill="#1e1e1e" textLength="6.6" lengthAdjust="spacingAndGlyphs">40</text>
<text x="508.50" y="514.15" font-size="7.1" text-anchor="middle" font-weight="normal" fill="#1e1e1e" textLength="6.6" lengthAdjust="spacingAndGlyphs">50</text>
<text x="421.00" y="506.31" font-size="7.1" text-anchor="end" font-weight="normal" fill="#1e1e1e" textLength="3.3" lengthAdjust="spacingAndGlyphs">0</text>
<text x="421.00" y="494.96" font-size="7.1" text-anchor="end" font-weight="normal" fill="#1e1e1e" textLength="6.6" lengthAdjust="spacingAndGlyphs">20</text>
<text x="421.00" y="483.61" font-size="7.1" text-anchor="end" font-weight="normal" fill="#1e1e1e" textLength="6.6" lengthAdjust="spacingAndGlyphs">40</text>
<text x="421.00" y="472.26" font-size="7.1" text-anchor="end" font-weight="normal" fill="#1e1e1e" textLength="6.6" lengthAdjust="spacingAndGlyphs">60</text>
<text x="421.00" y="460.91" font-size="7.1" text-anchor="end" font-weight="normal" fill="#1e1e1e" textLength="6.6" lengthAdjust="spacingAndGlyphs">80</text>
<text x="421.00" y="449.56" font-size="7.1" text-anchor="end" font-weight="normal" fill="#1e1e1e" textLength="9.9" lengthAdjust="spacingAndGlyphs">100</text>
<text x="466.90" y="522.75" font-size="8.0" text-anchor="middle" font-weight="normal" fill="#1e1e1e" textLength="43" lengthAdjust="spacingAndGlyphs">Days (post CART)</text>
<text x="395.85" y="476.18" font-size="8.0" text-anchor="middle" font-weight="normal" fill="#1e1e1e" textLength="19" lengthAdjust="spacingAndGlyphs" transform="rotate(-90 395.85 476.18)" dominant-baseline="central">LAG3+</text>
<text x="405.95" y="476.18" font-size="8.0" text-anchor="middle" font-weight="normal" fill="#1e1e1e" textLength="56" lengthAdjust="spacingAndGlyphs" transform="rotate(-90 405.95 476.18)" dominant-baseline="central">as % CD8+ CART cells</text>
<line x1="483.54" y1="483.32" x2="483.54" y2="477.08" stroke="#7fa6cc" stroke-width="0.9"/>
<line x1="482.24" y1="483.32" x2="484.84" y2="483.32" stroke="#7fa6cc" stroke-width="0.9"/>
<line x1="482.24" y1="477.08" x2="484.84" y2="477.08" stroke="#7fa6cc" stroke-width="0.9"/>
<line x1="495.19" y1="486.73" x2="495.19" y2="478.78" stroke="#7fa6cc" stroke-width="0.9"/>
<line x1="493.89" y1="486.73" x2="496.49" y2="486.73" stroke="#7fa6cc" stroke-width="0.9"/>
<line x1="493.89" y1="478.78" x2="496.49" y2="478.78" stroke="#7fa6cc" stroke-width="0.9"/>
<line x1="506.84" y1="482.19" x2="506.84" y2="472.54" stroke="#7fa6cc" stroke-width="0.9"/>
<line x1="505.54" y1="482.19" x2="508.14" y2="482.19" stroke="#7fa6cc" stroke-width="0.9"/>
<line x1="505.54" y1="472.54" x2="508.14" y2="472.54" stroke="#7fa6cc" stroke-width="0.9"/>
<polyline points="425.30,475.38 448.60,485.02 460.24,490.13 471.89,480.48 483.54,480.48 495.19,482.75 506.84,477.64" stroke="#12427e" stroke-width="1.9" fill="none" stroke-linejoin="round"/>
<circle cx="425.30" cy="475.38" r="1.45" fill="#12427e"/>
<circle cx="448.60" cy="485.02" r="1.45" fill="#12427e"/>
<circle cx="460.24" cy="490.13" r="1.45" fill="#12427e"/>
<circle cx="471.89" cy="480.48" r="1.45" fill="#12427e"/>
<circle cx="483.54" cy="480.48" r="1.45" fill="#12427e"/>
<circle cx="495.19" cy="482.75" r="1.45" fill="#12427e"/>
<circle cx="506.84" cy="477.64" r="1.45" fill="#12427e"/>
<line x1="448.60" y1="496.94" x2="448.60" y2="471.97" stroke="#d5486a" stroke-width="0.9"/>
<line x1="447.30" y1="496.94" x2="449.90" y2="496.94" stroke="#d5486a" stroke-width="0.9"/>
<line x1="447.30" y1="471.97" x2="449.90" y2="471.97" stroke="#d5486a" stroke-width="0.9"/>
<line x1="460.24" y1="487.86" x2="460.24" y2="475.38" stroke="#d5486a" stroke-width="0.9"/>
<line x1="458.94" y1="487.86" x2="461.54" y2="487.86" stroke="#d5486a" stroke-width="0.9"/>
<line x1="458.94" y1="475.38" x2="461.54" y2="475.38" stroke="#d5486a" stroke-width="0.9"/>
<line x1="471.89" y1="485.59" x2="471.89" y2="474.24" stroke="#d5486a" stroke-width="0.9"/>
<line x1="470.59" y1="485.59" x2="473.19" y2="485.59" stroke="#d5486a" stroke-width="0.9"/>
<line x1="470.59" y1="474.24" x2="473.19" y2="474.24" stroke="#d5486a" stroke-width="0.9"/>
<line x1="483.54" y1="485.02" x2="483.54" y2="475.38" stroke="#d5486a" stroke-width="0.9"/>
<line x1="482.24" y1="485.02" x2="484.84" y2="485.02" stroke="#d5486a" stroke-width="0.9"/>
<line x1="482.24" y1="475.38" x2="484.84" y2="475.38" stroke="#d5486a" stroke-width="0.9"/>
<line x1="495.19" y1="491.83" x2="495.19" y2="477.64" stroke="#d5486a" stroke-width="0.9"/>
<line x1="493.89" y1="491.83" x2="496.49" y2="491.83" stroke="#d5486a" stroke-width="0.9"/>
<line x1="493.89" y1="477.64" x2="496.49" y2="477.64" stroke="#d5486a" stroke-width="0.9"/>
<line x1="506.84" y1="496.94" x2="506.84" y2="468.56" stroke="#d5486a" stroke-width="0.9"/>
<line x1="505.54" y1="496.94" x2="508.14" y2="496.94" stroke="#d5486a" stroke-width="0.9"/>
<line x1="505.54" y1="468.56" x2="508.14" y2="468.56" stroke="#d5486a" stroke-width="0.9"/>
<polyline points="425.30,470.83 448.60,484.45 460.24,482.19 471.89,479.92 483.54,479.92 495.19,485.02 506.84,482.75" stroke="#c8102e" stroke-width="1.9" fill="none" stroke-linejoin="round"/>
<circle cx="425.30" cy="470.83" r="1.45" fill="#c8102e"/>
<circle cx="448.60" cy="484.45" r="1.45" fill="#c8102e"/>
<circle cx="460.24" cy="482.19" r="1.45" fill="#c8102e"/>
<circle cx="471.89" cy="479.92" r="1.45" fill="#c8102e"/>
<circle cx="483.54" cy="479.92" r="1.45" fill="#c8102e"/>
<circle cx="495.19" cy="485.02" r="1.45" fill="#c8102e"/>
<circle cx="506.84" cy="482.75" r="1.45" fill="#c8102e"/>
<text x="448.00" y="469.75" font-size="9.0" text-anchor="middle" font-weight="bold" fill="#111" textLength="7.20" lengthAdjust="spacingAndGlyphs">**</text>
<text x="459.50" y="475.25" font-size="9.0" text-anchor="middle" font-weight="bold" fill="#111" textLength="7.20" lengthAdjust="spacingAndGlyphs">**</text>
<line x1="425.30" y1="587.00" x2="509.10" y2="587.00" stroke="#000" stroke-width="1.3"/>
<line x1="425.30" y1="587.60" x2="425.30" y2="530.75" stroke="#000" stroke-width="1.3"/>
<line x1="425.30" y1="587.00" x2="425.30" y2="589.20" stroke="#000" stroke-width="0.9"/>
<line x1="441.94" y1="587.00" x2="441.94" y2="589.20" stroke="#000" stroke-width="0.9"/>
<line x1="458.58" y1="587.00" x2="458.58" y2="589.20" stroke="#000" stroke-width="0.9"/>
<line x1="475.22" y1="587.00" x2="475.22" y2="589.20" stroke="#000" stroke-width="0.9"/>
<line x1="491.86" y1="587.00" x2="491.86" y2="589.20" stroke="#000" stroke-width="0.9"/>
<line x1="508.50" y1="587.00" x2="508.50" y2="589.20" stroke="#000" stroke-width="0.9"/>
<line x1="423.10" y1="587.00" x2="425.30" y2="587.00" stroke="#000" stroke-width="0.9"/>
<line x1="423.10" y1="575.75" x2="425.30" y2="575.75" stroke="#000" stroke-width="0.9"/>
<line x1="423.10" y1="564.50" x2="425.30" y2="564.50" stroke="#000" stroke-width="0.9"/>
<line x1="423.10" y1="553.25" x2="425.30" y2="553.25" stroke="#000" stroke-width="0.9"/>
<line x1="423.10" y1="542.00" x2="425.30" y2="542.00" stroke="#000" stroke-width="0.9"/>
<line x1="423.10" y1="530.75" x2="425.30" y2="530.75" stroke="#000" stroke-width="0.9"/>
<text x="425.30" y="597.40" font-size="7.1" text-anchor="middle" font-weight="normal" fill="#1e1e1e" textLength="3.3" lengthAdjust="spacingAndGlyphs">0</text>
<text x="441.94" y="597.40" font-size="7.1" text-anchor="middle" font-weight="normal" fill="#1e1e1e" textLength="6.6" lengthAdjust="spacingAndGlyphs">10</text>
<text x="458.58" y="597.40" font-size="7.1" text-anchor="middle" font-weight="normal" fill="#1e1e1e" textLength="6.6" lengthAdjust="spacingAndGlyphs">20</text>
<text x="475.22" y="597.40" font-size="7.1" text-anchor="middle" font-weight="normal" fill="#1e1e1e" textLength="6.6" lengthAdjust="spacingAndGlyphs">30</text>
<text x="491.86" y="597.40" font-size="7.1" text-anchor="middle" font-weight="normal" fill="#1e1e1e" textLength="6.6" lengthAdjust="spacingAndGlyphs">40</text>
<text x="508.50" y="597.40" font-size="7.1" text-anchor="middle" font-weight="normal" fill="#1e1e1e" textLength="6.6" lengthAdjust="spacingAndGlyphs">50</text>
<text x="421.00" y="589.56" font-size="7.1" text-anchor="end" font-weight="normal" fill="#1e1e1e" textLength="3.3" lengthAdjust="spacingAndGlyphs">0</text>
<text x="421.00" y="578.31" font-size="7.1" text-anchor="end" font-weight="normal" fill="#1e1e1e" textLength="6.6" lengthAdjust="spacingAndGlyphs">20</text>
<text x="421.00" y="567.06" font-size="7.1" text-anchor="end" font-weight="normal" fill="#1e1e1e" textLength="6.6" lengthAdjust="spacingAndGlyphs">40</text>
<text x="421.00" y="555.81" font-size="7.1" text-anchor="end" font-weight="normal" fill="#1e1e1e" textLength="6.6" lengthAdjust="spacingAndGlyphs">60</text>
<text x="421.00" y="544.56" font-size="7.1" text-anchor="end" font-weight="normal" fill="#1e1e1e" textLength="6.6" lengthAdjust="spacingAndGlyphs">80</text>
<text x="421.00" y="533.31" font-size="7.1" text-anchor="end" font-weight="normal" fill="#1e1e1e" textLength="9.9" lengthAdjust="spacingAndGlyphs">100</text>
<text x="466.90" y="606.00" font-size="8.0" text-anchor="middle" font-weight="normal" fill="#1e1e1e" textLength="43" lengthAdjust="spacingAndGlyphs">Days (post CART)</text>
<text x="395.85" y="559.67" font-size="8.0" text-anchor="middle" font-weight="normal" fill="#1e1e1e" textLength="17" lengthAdjust="spacingAndGlyphs" transform="rotate(-90 395.85 559.67)" dominant-baseline="central">TIM3+</text>
<text x="405.95" y="559.67" font-size="8.0" text-anchor="middle" font-weight="normal" fill="#1e1e1e" textLength="56" lengthAdjust="spacingAndGlyphs" transform="rotate(-90 405.95 559.67)" dominant-baseline="central">as % CD8+ CART cells</text>
<polyline points="425.30,567.31 448.60,572.94 460.24,573.50 471.89,570.69 483.54,567.31 495.19,581.38 506.84,581.38" stroke="#12427e" stroke-width="1.9" fill="none" stroke-linejoin="round"/>
<circle cx="425.30" cy="567.31" r="1.45" fill="#12427e"/>
<circle cx="448.60" cy="572.94" r="1.45" fill="#12427e"/>
<circle cx="460.24" cy="573.50" r="1.45" fill="#12427e"/>
<circle cx="471.89" cy="570.69" r="1.45" fill="#12427e"/>
<circle cx="483.54" cy="567.31" r="1.45" fill="#12427e"/>
<circle cx="495.19" cy="581.38" r="1.45" fill="#12427e"/>
<circle cx="506.84" cy="581.38" r="1.45" fill="#12427e"/>
<line x1="448.60" y1="580.81" x2="448.60" y2="562.81" stroke="#d5486a" stroke-width="0.9"/>
<line x1="447.30" y1="580.81" x2="449.90" y2="580.81" stroke="#d5486a" stroke-width="0.9"/>
<line x1="447.30" y1="562.81" x2="449.90" y2="562.81" stroke="#d5486a" stroke-width="0.9"/>
<line x1="460.24" y1="566.19" x2="460.24" y2="552.12" stroke="#d5486a" stroke-width="0.9"/>
<line x1="458.94" y1="566.19" x2="461.54" y2="566.19" stroke="#d5486a" stroke-width="0.9"/>
<line x1="458.94" y1="552.12" x2="461.54" y2="552.12" stroke="#d5486a" stroke-width="0.9"/>
<line x1="471.89" y1="571.25" x2="471.89" y2="560.56" stroke="#d5486a" stroke-width="0.9"/>
<line x1="470.59" y1="571.25" x2="473.19" y2="571.25" stroke="#d5486a" stroke-width="0.9"/>
<line x1="470.59" y1="560.56" x2="473.19" y2="560.56" stroke="#d5486a" stroke-width="0.9"/>
<line x1="483.54" y1="569.56" x2="483.54" y2="558.31" stroke="#d5486a" stroke-width="0.9"/>
<line x1="482.24" y1="569.56" x2="484.84" y2="569.56" stroke="#d5486a" stroke-width="0.9"/>
<line x1="482.24" y1="558.31" x2="484.84" y2="558.31" stroke="#d5486a" stroke-width="0.9"/>
<line x1="495.19" y1="581.38" x2="495.19" y2="575.75" stroke="#d5486a" stroke-width="0.9"/>
<line x1="493.89" y1="581.38" x2="496.49" y2="581.38" stroke="#d5486a" stroke-width="0.9"/>
<line x1="493.89" y1="575.75" x2="496.49" y2="575.75" stroke="#d5486a" stroke-width="0.9"/>
<line x1="506.84" y1="583.06" x2="506.84" y2="577.44" stroke="#d5486a" stroke-width="0.9"/>
<line x1="505.54" y1="583.06" x2="508.14" y2="583.06" stroke="#d5486a" stroke-width="0.9"/>
<line x1="505.54" y1="577.44" x2="508.14" y2="577.44" stroke="#d5486a" stroke-width="0.9"/>
<polyline points="425.30,543.12 448.60,571.81 460.24,559.44 471.89,566.19 483.54,563.94 495.19,578.56 506.84,580.25" stroke="#c8102e" stroke-width="1.9" fill="none" stroke-linejoin="round"/>
<circle cx="425.30" cy="543.12" r="1.45" fill="#c8102e"/>
<circle cx="448.60" cy="571.81" r="1.45" fill="#c8102e"/>
<circle cx="460.24" cy="559.44" r="1.45" fill="#c8102e"/>
<circle cx="471.89" cy="566.19" r="1.45" fill="#c8102e"/>
<circle cx="483.54" cy="563.94" r="1.45" fill="#c8102e"/>
<circle cx="495.19" cy="578.56" r="1.45" fill="#c8102e"/>
<circle cx="506.84" cy="580.25" r="1.45" fill="#c8102e"/>
<text x="460.75" y="549.75" font-size="9.0" text-anchor="middle" font-weight="bold" fill="#111" textLength="14.40" lengthAdjust="spacingAndGlyphs">****</text>
<text x="472.50" y="556.50" font-size="9.0" text-anchor="middle" font-weight="bold" fill="#111" textLength="7.20" lengthAdjust="spacingAndGlyphs">**</text>
<text x="495.00" y="569.00" font-size="9.0" text-anchor="middle" font-weight="bold" fill="#111" textLength="3.60" lengthAdjust="spacingAndGlyphs">*</text>
<line x1="425.30" y1="670.00" x2="509.10" y2="670.00" stroke="#000" stroke-width="1.3"/>
<line x1="425.30" y1="670.60" x2="425.30" y2="615.00" stroke="#000" stroke-width="1.3"/>
<line x1="425.30" y1="670.00" x2="425.30" y2="672.20" stroke="#000" stroke-width="0.9"/>
<line x1="441.94" y1="670.00" x2="441.94" y2="672.20" stroke="#000" stroke-width="0.9"/>
<line x1="458.58" y1="670.00" x2="458.58" y2="672.20" stroke="#000" stroke-width="0.9"/>
<line x1="475.22" y1="670.00" x2="475.22" y2="672.20" stroke="#000" stroke-width="0.9"/>
<line x1="491.86" y1="670.00" x2="491.86" y2="672.20" stroke="#000" stroke-width="0.9"/>
<line x1="508.50" y1="670.00" x2="508.50" y2="672.20" stroke="#000" stroke-width="0.9"/>
<line x1="423.10" y1="670.00" x2="425.30" y2="670.00" stroke="#000" stroke-width="0.9"/>
<line x1="423.10" y1="659.00" x2="425.30" y2="659.00" stroke="#000" stroke-width="0.9"/>
<line x1="423.10" y1="648.00" x2="425.30" y2="648.00" stroke="#000" stroke-width="0.9"/>
<line x1="423.10" y1="637.00" x2="425.30" y2="637.00" stroke="#000" stroke-width="0.9"/>
<line x1="423.10" y1="626.00" x2="425.30" y2="626.00" stroke="#000" stroke-width="0.9"/>
<line x1="423.10" y1="615.00" x2="425.30" y2="615.00" stroke="#000" stroke-width="0.9"/>
<text x="425.30" y="680.40" font-size="7.1" text-anchor="middle" font-weight="normal" fill="#1e1e1e" textLength="3.3" lengthAdjust="spacingAndGlyphs">0</text>
<text x="441.94" y="680.40" font-size="7.1" text-anchor="middle" font-weight="normal" fill="#1e1e1e" textLength="6.6" lengthAdjust="spacingAndGlyphs">10</text>
<text x="458.58" y="680.40" font-size="7.1" text-anchor="middle" font-weight="normal" fill="#1e1e1e" textLength="6.6" lengthAdjust="spacingAndGlyphs">20</text>
<text x="475.22" y="680.40" font-size="7.1" text-anchor="middle" font-weight="normal" fill="#1e1e1e" textLength="6.6" lengthAdjust="spacingAndGlyphs">30</text>
<text x="491.86" y="680.40" font-size="7.1" text-anchor="middle" font-weight="normal" fill="#1e1e1e" textLength="6.6" lengthAdjust="spacingAndGlyphs">40</text>
<text x="508.50" y="680.40" font-size="7.1" text-anchor="middle" font-weight="normal" fill="#1e1e1e" textLength="6.6" lengthAdjust="spacingAndGlyphs">50</text>
<text x="421.00" y="672.56" font-size="7.1" text-anchor="end" font-weight="normal" fill="#1e1e1e" textLength="3.3" lengthAdjust="spacingAndGlyphs">0</text>
<text x="421.00" y="661.56" font-size="7.1" text-anchor="end" font-weight="normal" fill="#1e1e1e" textLength="6.6" lengthAdjust="spacingAndGlyphs">20</text>
<text x="421.00" y="650.56" font-size="7.1" text-anchor="end" font-weight="normal" fill="#1e1e1e" textLength="6.6" lengthAdjust="spacingAndGlyphs">40</text>
<text x="421.00" y="639.56" font-size="7.1" text-anchor="end" font-weight="normal" fill="#1e1e1e" textLength="6.6" lengthAdjust="spacingAndGlyphs">60</text>
<text x="421.00" y="628.56" font-size="7.1" text-anchor="end" font-weight="normal" fill="#1e1e1e" textLength="6.6" lengthAdjust="spacingAndGlyphs">80</text>
<text x="421.00" y="617.56" font-size="7.1" text-anchor="end" font-weight="normal" fill="#1e1e1e" textLength="9.9" lengthAdjust="spacingAndGlyphs">100</text>
<text x="466.90" y="689.00" font-size="8.0" text-anchor="middle" font-weight="normal" fill="#1e1e1e" textLength="43" lengthAdjust="spacingAndGlyphs">Days (post CART)</text>
<text x="395.85" y="643.30" font-size="8.0" text-anchor="middle" font-weight="normal" fill="#1e1e1e" textLength="14" lengthAdjust="spacingAndGlyphs" transform="rotate(-90 395.85 643.30)" dominant-baseline="central">PD1+</text>
<text x="405.95" y="643.30" font-size="8.0" text-anchor="middle" font-weight="normal" fill="#1e1e1e" textLength="56" lengthAdjust="spacingAndGlyphs" transform="rotate(-90 405.95 643.30)" dominant-baseline="central">as % CD8+ CART cells</text>
<line x1="471.89" y1="653.50" x2="471.89" y2="637.00" stroke="#7fa6cc" stroke-width="0.9"/>
<line x1="470.59" y1="653.50" x2="473.19" y2="653.50" stroke="#7fa6cc" stroke-width="0.9"/>
<line x1="470.59" y1="637.00" x2="473.19" y2="637.00" stroke="#7fa6cc" stroke-width="0.9"/>
<line x1="483.54" y1="650.20" x2="483.54" y2="635.35" stroke="#7fa6cc" stroke-width="0.9"/>
<line x1="482.24" y1="650.20" x2="484.84" y2="650.20" stroke="#7fa6cc" stroke-width="0.9"/>
<line x1="482.24" y1="635.35" x2="484.84" y2="635.35" stroke="#7fa6cc" stroke-width="0.9"/>
<line x1="495.19" y1="644.70" x2="495.19" y2="631.50" stroke="#7fa6cc" stroke-width="0.9"/>
<line x1="493.89" y1="644.70" x2="496.49" y2="644.70" stroke="#7fa6cc" stroke-width="0.9"/>
<line x1="493.89" y1="631.50" x2="496.49" y2="631.50" stroke="#7fa6cc" stroke-width="0.9"/>
<line x1="506.84" y1="650.75" x2="506.84" y2="632.05" stroke="#7fa6cc" stroke-width="0.9"/>
<line x1="505.54" y1="650.75" x2="508.14" y2="650.75" stroke="#7fa6cc" stroke-width="0.9"/>
<line x1="505.54" y1="632.05" x2="508.14" y2="632.05" stroke="#7fa6cc" stroke-width="0.9"/>
<polyline points="425.30,664.50 448.60,661.20 460.24,658.45 471.89,645.25 483.54,642.50 495.19,638.10 506.84,641.40" stroke="#12427e" stroke-width="1.9" fill="none" stroke-linejoin="round"/>
<circle cx="425.30" cy="664.50" r="1.45" fill="#12427e"/>
<circle cx="448.60" cy="661.20" r="1.45" fill="#12427e"/>
<circle cx="460.24" cy="658.45" r="1.45" fill="#12427e"/>
<circle cx="471.89" cy="645.25" r="1.45" fill="#12427e"/>
<circle cx="483.54" cy="642.50" r="1.45" fill="#12427e"/>
<circle cx="495.19" cy="638.10" r="1.45" fill="#12427e"/>
<circle cx="506.84" cy="641.40" r="1.45" fill="#12427e"/>
<line x1="448.60" y1="658.45" x2="448.60" y2="633.15" stroke="#d5486a" stroke-width="0.9"/>
<line x1="447.30" y1="658.45" x2="449.90" y2="658.45" stroke="#d5486a" stroke-width="0.9"/>
<line x1="447.30" y1="633.15" x2="449.90" y2="633.15" stroke="#d5486a" stroke-width="0.9"/>
<line x1="460.24" y1="655.70" x2="460.24" y2="638.65" stroke="#d5486a" stroke-width="0.9"/>
<line x1="458.94" y1="655.70" x2="461.54" y2="655.70" stroke="#d5486a" stroke-width="0.9"/>
<line x1="458.94" y1="638.65" x2="461.54" y2="638.65" stroke="#d5486a" stroke-width="0.9"/>
<line x1="471.89" y1="654.05" x2="471.89" y2="629.30" stroke="#d5486a" stroke-width="0.9"/>
<line x1="470.59" y1="654.05" x2="473.19" y2="654.05" stroke="#d5486a" stroke-width="0.9"/>
<line x1="470.59" y1="629.30" x2="473.19" y2="629.30" stroke="#d5486a" stroke-width="0.9"/>
<line x1="483.54" y1="651.85" x2="483.54" y2="631.50" stroke="#d5486a" stroke-width="0.9"/>
<line x1="482.24" y1="651.85" x2="484.84" y2="651.85" stroke="#d5486a" stroke-width="0.9"/>
<line x1="482.24" y1="631.50" x2="484.84" y2="631.50" stroke="#d5486a" stroke-width="0.9"/>
<line x1="495.19" y1="659.00" x2="495.19" y2="628.20" stroke="#d5486a" stroke-width="0.9"/>
<line x1="493.89" y1="659.00" x2="496.49" y2="659.00" stroke="#d5486a" stroke-width="0.9"/>
<line x1="493.89" y1="628.20" x2="496.49" y2="628.20" stroke="#d5486a" stroke-width="0.9"/>
<line x1="506.84" y1="664.50" x2="506.84" y2="639.75" stroke="#d5486a" stroke-width="0.9"/>
<line x1="505.54" y1="664.50" x2="508.14" y2="664.50" stroke="#d5486a" stroke-width="0.9"/>
<line x1="505.54" y1="639.75" x2="508.14" y2="639.75" stroke="#d5486a" stroke-width="0.9"/>
<polyline points="425.30,667.25 448.60,645.80 460.24,647.45 471.89,641.95 483.54,641.95 495.19,643.60 506.84,652.40" stroke="#c8102e" stroke-width="1.9" fill="none" stroke-linejoin="round"/>
<circle cx="425.30" cy="667.25" r="1.45" fill="#c8102e"/>
<circle cx="448.60" cy="645.80" r="1.45" fill="#c8102e"/>
<circle cx="460.24" cy="647.45" r="1.45" fill="#c8102e"/>
<circle cx="471.89" cy="641.95" r="1.45" fill="#c8102e"/>
<circle cx="483.54" cy="641.95" r="1.45" fill="#c8102e"/>
<circle cx="495.19" cy="643.60" r="1.45" fill="#c8102e"/>
<circle cx="506.84" cy="652.40" r="1.45" fill="#c8102e"/>
<text x="448.75" y="632.00" font-size="9.0" text-anchor="middle" font-weight="bold" fill="#111" textLength="7.20" lengthAdjust="spacingAndGlyphs">**</text>
<text x="460.50" y="636.50" font-size="9.0" text-anchor="middle" font-weight="bold" fill="#111" textLength="7.20" lengthAdjust="spacingAndGlyphs">**</text>
<defs><filter id="bl1_0" x="-50%" y="-50%" width="200%" height="200%"><feGaussianBlur stdDeviation="1.0"/></filter><filter id="bl1_5" x="-50%" y="-50%" width="200%" height="200%"><feGaussianBlur stdDeviation="1.5"/></filter><filter id="bl2_0" x="-50%" y="-50%" width="200%" height="200%"><feGaussianBlur stdDeviation="2.0"/></filter><filter id="bl0_7" x="-50%" y="-50%" width="200%" height="200%"><feGaussianBlur stdDeviation="0.7"/></filter></defs>
<text x="71.9" y="240.3" font-size="9.6" text-anchor="middle" font-weight="normal" fill="#111" textLength="60.5" lengthAdjust="spacingAndGlyphs" stroke="#111" stroke-width="0.45">Control CART</text>
<text x="204.5" y="240.3" font-size="9.6" text-anchor="middle" font-weight="normal" fill="#111" textLength="45.5" lengthAdjust="spacingAndGlyphs" stroke="#111" stroke-width="0.45">Duv-CART</text>
<text x="338.75" y="241.0" font-size="9.6" text-anchor="middle" font-weight="normal" fill="#111" textLength="60" lengthAdjust="spacingAndGlyphs" stroke="#111" stroke-width="0.45">Control CART</text>
<text x="465" y="241.0" font-size="9.6" text-anchor="middle" font-weight="normal" fill="#111" textLength="45" lengthAdjust="spacingAndGlyphs" stroke="#111" stroke-width="0.45">Duv-CART</text>
<path fill="#7d8fd0" fill-opacity="0.7" d="M47.9 290.4h0.76v0.76h-0.76zM59.0 282.4h0.76v0.76h-0.76zM47.4 286.4h0.76v0.76h-0.76zM56.4 296.9h0.76v0.76h-0.76zM47.9 275.4h0.76v0.76h-0.76zM57.5 291.3h0.76v0.76h-0.76zM53.5 284.5h0.76v0.76h-0.76zM50.1 276.8h0.76v0.76h-0.76zM54.5 288.3h0.76v0.76h-0.76zM52.3 286.4h0.76v0.76h-0.76zM55.4 293.2h0.76v0.76h-0.76zM59.5 288.9h0.76v0.76h-0.76zM45.1 293.3h0.76v0.76h-0.76zM46.9 285.5h0.76v0.76h-0.76zM46.6 287.0h0.76v0.76h-0.76zM50.1 288.9h0.76v0.76h-0.76zM58.2 275.1h0.76v0.76h-0.76zM52.6 293.0h0.76v0.76h-0.76zM53.5 290.3h0.76v0.76h-0.76zM54.5 277.9h0.76v0.76h-0.76zM56.8 279.7h0.76v0.76h-0.76zM63.4 282.5h0.76v0.76h-0.76zM57.4 287.0h0.76v0.76h-0.76zM58.8 281.6h0.76v0.76h-0.76zM59.0 285.9h0.76v0.76h-0.76zM54.7 280.0h0.76v0.76h-0.76zM57.8 291.2h0.76v0.76h-0.76zM62.2 283.6h0.76v0.76h-0.76zM56.8 291.6h0.76v0.76h-0.76zM55.4 288.9h0.76v0.76h-0.76zM54.9 281.6h0.76v0.76h-0.76zM48.9 283.4h0.76v0.76h-0.76zM58.9 296.5h0.76v0.76h-0.76zM57.9 293.3h0.76v0.76h-0.76zM54.9 293.9h0.76v0.76h-0.76zM62.9 284.1h0.76v0.76h-0.76zM55.2 295.7h0.76v0.76h-0.76zM58.4 276.8h0.76v0.76h-0.76zM54.9 293.8h0.76v0.76h-0.76zM54.6 279.0h0.76v0.76h-0.76zM53.4 290.4h0.76v0.76h-0.76zM59.6 293.4h0.76v0.76h-0.76zM50.2 294.1h0.76v0.76h-0.76zM59.6 284.4h0.76v0.76h-0.76zM45.0 278.8h0.76v0.76h-0.76zM55.2 291.8h0.76v0.76h-0.76zM61.7 278.0h0.76v0.76h-0.76zM54.0 292.8h0.76v0.76h-0.76zM53.2 265.7h0.76v0.76h-0.76zM59.0 278.7h0.76v0.76h-0.76zM51.9 289.0h0.76v0.76h-0.76zM50.6 282.7h0.76v0.76h-0.76zM57.3 289.7h0.76v0.76h-0.76zM44.9 280.6h0.76v0.76h-0.76zM50.9 282.2h0.76v0.76h-0.76zM56.9 284.0h0.76v0.76h-0.76zM57.9 287.7h0.76v0.76h-0.76zM52.3 288.1h0.76v0.76h-0.76zM56.1 294.7h0.76v0.76h-0.76zM51.6 284.9h0.76v0.76h-0.76zM61.3 285.4h0.76v0.76h-0.76zM51.6 275.9h0.76v0.76h-0.76zM54.8 288.9h0.76v0.76h-0.76zM50.1 265.0h0.76v0.76h-0.76zM61.0 288.7h0.76v0.76h-0.76zM46.0 288.6h0.76v0.76h-0.76zM59.6 292.2h0.76v0.76h-0.76zM53.1 267.7h0.76v0.76h-0.76zM53.4 273.0h0.76v0.76h-0.76zM57.0 267.8h0.76v0.76h-0.76zM62.2 276.4h0.76v0.76h-0.76zM46.3 294.9h0.76v0.76h-0.76zM58.3 278.1h0.76v0.76h-0.76zM50.5 280.8h0.76v0.76h-0.76zM48.1 280.9h0.76v0.76h-0.76zM53.3 278.2h0.76v0.76h-0.76zM53.4 275.2h0.76v0.76h-0.76zM45.1 293.3h0.76v0.76h-0.76zM60.7 289.3h0.76v0.76h-0.76zM50.4 287.8h0.76v0.76h-0.76zM52.1 277.0h0.76v0.76h-0.76zM45.5 273.7h0.76v0.76h-0.76zM54.0 288.4h0.76v0.76h-0.76zM54.9 292.2h0.76v0.76h-0.76zM60.1 279.6h0.76v0.76h-0.76zM44.2 293.8h0.76v0.76h-0.76zM55.7 296.1h0.76v0.76h-0.76zM57.8 268.3h0.76v0.76h-0.76zM57.6 280.9h0.76v0.76h-0.76zM50.2 283.1h0.76v0.76h-0.76zM57.8 295.0h0.76v0.76h-0.76zM59.1 272.1h0.76v0.76h-0.76zM51.0 265.6h0.76v0.76h-0.76zM53.5 292.4h0.76v0.76h-0.76zM50.2 289.2h0.76v0.76h-0.76zM55.2 296.1h0.76v0.76h-0.76zM49.9 279.5h0.76v0.76h-0.76zM59.5 285.9h0.76v0.76h-0.76zM55.1 288.0h0.76v0.76h-0.76zM55.0 285.1h0.76v0.76h-0.76zM52.3 275.7h0.76v0.76h-0.76zM56.7 287.6h0.76v0.76h-0.76zM52.9 287.6h0.76v0.76h-0.76zM55.8 281.2h0.76v0.76h-0.76zM55.0 289.2h0.76v0.76h-0.76zM50.3 279.9h0.76v0.76h-0.76zM49.0 277.4h0.76v0.76h-0.76zM58.4 265.8h0.76v0.76h-0.76zM52.7 281.5h0.76v0.76h-0.76zM50.9 287.9h0.76v0.76h-0.76z"/>
<path fill="#7d8fd0" fill-opacity="0.8" d="M69.6 295.5h0.76v0.76h-0.76zM76.0 290.9h0.76v0.76h-0.76zM82.8 294.4h0.76v0.76h-0.76zM76.0 305.7h0.76v0.76h-0.76zM74.8 285.8h0.76v0.76h-0.76zM69.9 290.6h0.76v0.76h-0.76zM81.1 299.5h0.76v0.76h-0.76zM83.8 306.0h0.76v0.76h-0.76zM87.0 298.3h0.76v0.76h-0.76zM85.0 298.5h0.76v0.76h-0.76zM74.6 299.7h0.76v0.76h-0.76zM78.1 292.9h0.76v0.76h-0.76zM88.8 299.4h0.76v0.76h-0.76zM75.1 293.8h0.76v0.76h-0.76zM90.8 292.7h0.76v0.76h-0.76zM81.9 298.4h0.76v0.76h-0.76zM80.6 298.2h0.76v0.76h-0.76zM75.1 291.3h0.76v0.76h-0.76zM76.9 292.0h0.76v0.76h-0.76zM82.3 304.5h0.76v0.76h-0.76zM72.9 298.0h0.76v0.76h-0.76zM72.3 289.8h0.76v0.76h-0.76zM76.5 295.1h0.76v0.76h-0.76zM75.4 277.2h0.76v0.76h-0.76zM85.5 292.6h0.76v0.76h-0.76zM74.3 298.8h0.76v0.76h-0.76zM74.5 285.0h0.76v0.76h-0.76zM80.5 297.1h0.76v0.76h-0.76zM73.2 299.9h0.76v0.76h-0.76zM79.9 286.9h0.76v0.76h-0.76zM87.6 296.1h0.76v0.76h-0.76zM71.5 297.3h0.76v0.76h-0.76zM78.5 300.8h0.76v0.76h-0.76zM70.3 301.2h0.76v0.76h-0.76zM83.1 298.9h0.76v0.76h-0.76zM81.2 303.0h0.76v0.76h-0.76zM81.8 295.2h0.76v0.76h-0.76zM73.1 301.7h0.76v0.76h-0.76zM83.3 296.3h0.76v0.76h-0.76zM78.6 299.1h0.76v0.76h-0.76zM83.7 306.8h0.76v0.76h-0.76zM75.2 297.2h0.76v0.76h-0.76zM77.4 279.7h0.76v0.76h-0.76zM81.8 294.2h0.76v0.76h-0.76zM78.2 288.1h0.76v0.76h-0.76zM77.5 294.9h0.76v0.76h-0.76zM84.9 296.2h0.76v0.76h-0.76zM76.3 294.0h0.76v0.76h-0.76zM73.2 304.3h0.76v0.76h-0.76zM81.4 285.9h0.76v0.76h-0.76zM78.4 301.9h0.76v0.76h-0.76zM69.9 295.3h0.76v0.76h-0.76zM80.1 291.6h0.76v0.76h-0.76zM74.6 306.8h0.76v0.76h-0.76zM69.1 293.0h0.76v0.76h-0.76zM76.4 289.7h0.76v0.76h-0.76zM76.6 298.9h0.76v0.76h-0.76zM74.1 284.9h0.76v0.76h-0.76zM85.3 304.0h0.76v0.76h-0.76zM73.9 296.3h0.76v0.76h-0.76zM63.4 301.2h0.76v0.76h-0.76zM70.3 290.7h0.76v0.76h-0.76zM89.8 286.0h0.76v0.76h-0.76zM77.9 287.3h0.76v0.76h-0.76zM79.3 285.7h0.76v0.76h-0.76zM74.5 299.1h0.76v0.76h-0.76zM76.9 285.7h0.76v0.76h-0.76zM86.1 295.1h0.76v0.76h-0.76zM85.6 287.4h0.76v0.76h-0.76zM87.2 285.4h0.76v0.76h-0.76zM68.0 291.5h0.76v0.76h-0.76zM75.7 296.0h0.76v0.76h-0.76zM74.6 298.5h0.76v0.76h-0.76zM85.2 290.0h0.76v0.76h-0.76zM70.1 291.7h0.76v0.76h-0.76zM82.3 299.7h0.76v0.76h-0.76zM75.8 287.8h0.76v0.76h-0.76zM77.6 300.6h0.76v0.76h-0.76zM73.8 302.8h0.76v0.76h-0.76zM79.0 296.2h0.76v0.76h-0.76zM74.3 303.3h0.76v0.76h-0.76zM78.0 284.5h0.76v0.76h-0.76zM82.3 291.5h0.76v0.76h-0.76zM83.8 295.4h0.76v0.76h-0.76zM74.3 295.4h0.76v0.76h-0.76zM75.0 288.8h0.76v0.76h-0.76zM77.9 299.8h0.76v0.76h-0.76zM78.1 293.7h0.76v0.76h-0.76zM74.7 298.1h0.76v0.76h-0.76zM79.3 300.6h0.76v0.76h-0.76zM79.8 308.3h0.76v0.76h-0.76zM69.0 293.9h0.76v0.76h-0.76zM80.7 300.2h0.76v0.76h-0.76zM77.5 301.2h0.76v0.76h-0.76zM83.9 284.3h0.76v0.76h-0.76zM78.5 302.0h0.76v0.76h-0.76zM77.9 287.5h0.76v0.76h-0.76zM73.7 285.5h0.76v0.76h-0.76zM84.4 292.6h0.76v0.76h-0.76zM75.3 288.5h0.76v0.76h-0.76zM77.0 288.3h0.76v0.76h-0.76zM72.3 294.0h0.76v0.76h-0.76zM76.5 297.3h0.76v0.76h-0.76zM78.5 302.1h0.76v0.76h-0.76zM77.5 296.0h0.76v0.76h-0.76zM79.0 289.0h0.76v0.76h-0.76zM84.3 290.6h0.76v0.76h-0.76zM68.9 302.5h0.76v0.76h-0.76zM81.4 290.6h0.76v0.76h-0.76zM83.0 300.6h0.76v0.76h-0.76zM81.6 286.6h0.76v0.76h-0.76zM78.7 287.5h0.76v0.76h-0.76zM74.3 290.6h0.76v0.76h-0.76zM73.0 297.5h0.76v0.76h-0.76zM73.3 298.4h0.76v0.76h-0.76zM78.7 290.3h0.76v0.76h-0.76zM78.7 298.8h0.76v0.76h-0.76zM84.1 292.6h0.76v0.76h-0.76zM87.4 298.0h0.76v0.76h-0.76zM84.6 285.4h0.76v0.76h-0.76zM71.8 302.2h0.76v0.76h-0.76zM76.5 297.3h0.76v0.76h-0.76zM84.4 284.8h0.76v0.76h-0.76zM80.2 307.0h0.76v0.76h-0.76zM82.2 294.9h0.76v0.76h-0.76zM80.9 294.3h0.76v0.76h-0.76zM82.0 302.8h0.76v0.76h-0.76zM76.5 298.0h0.76v0.76h-0.76zM79.4 299.1h0.76v0.76h-0.76zM82.4 287.2h0.76v0.76h-0.76zM84.2 299.9h0.76v0.76h-0.76zM71.7 292.4h0.76v0.76h-0.76zM69.6 292.4h0.76v0.76h-0.76zM79.5 286.7h0.76v0.76h-0.76zM73.4 288.5h0.76v0.76h-0.76zM73.9 289.2h0.76v0.76h-0.76zM71.8 298.0h0.76v0.76h-0.76zM76.5 288.9h0.76v0.76h-0.76zM83.2 290.6h0.76v0.76h-0.76zM82.7 286.2h0.76v0.76h-0.76zM85.5 291.3h0.76v0.76h-0.76zM72.5 296.9h0.76v0.76h-0.76zM70.3 287.2h0.76v0.76h-0.76zM79.0 291.1h0.76v0.76h-0.76zM79.9 295.2h0.76v0.76h-0.76zM79.1 295.1h0.76v0.76h-0.76zM81.7 294.3h0.76v0.76h-0.76zM83.8 300.5h0.76v0.76h-0.76zM86.3 291.4h0.76v0.76h-0.76zM78.7 293.5h0.76v0.76h-0.76zM79.2 308.7h0.76v0.76h-0.76zM73.8 294.7h0.76v0.76h-0.76zM77.7 287.2h0.76v0.76h-0.76zM72.9 292.5h0.76v0.76h-0.76zM77.6 296.8h0.76v0.76h-0.76zM86.8 293.1h0.76v0.76h-0.76zM82.3 291.5h0.76v0.76h-0.76zM73.8 308.1h0.76v0.76h-0.76zM70.9 288.3h0.76v0.76h-0.76zM81.4 294.4h0.76v0.76h-0.76zM68.6 295.2h0.76v0.76h-0.76zM81.7 284.3h0.76v0.76h-0.76zM74.6 299.4h0.76v0.76h-0.76zM88.3 279.1h0.76v0.76h-0.76zM73.9 294.4h0.76v0.76h-0.76zM72.7 288.3h0.76v0.76h-0.76zM74.9 297.6h0.76v0.76h-0.76zM71.8 299.9h0.76v0.76h-0.76zM82.3 299.8h0.76v0.76h-0.76zM86.2 290.8h0.76v0.76h-0.76zM77.4 300.8h0.76v0.76h-0.76zM84.7 300.4h0.76v0.76h-0.76zM75.2 291.0h0.76v0.76h-0.76zM70.4 291.4h0.76v0.76h-0.76zM72.8 291.0h0.76v0.76h-0.76zM75.6 299.7h0.76v0.76h-0.76zM82.4 293.9h0.76v0.76h-0.76zM71.4 293.9h0.76v0.76h-0.76zM80.1 299.8h0.76v0.76h-0.76zM78.9 299.5h0.76v0.76h-0.76zM74.1 298.5h0.76v0.76h-0.76zM81.8 291.9h0.76v0.76h-0.76zM73.5 302.3h0.76v0.76h-0.76zM72.2 298.7h0.76v0.76h-0.76zM76.2 292.0h0.76v0.76h-0.76zM76.3 291.4h0.76v0.76h-0.76zM77.5 305.8h0.76v0.76h-0.76zM85.7 293.4h0.76v0.76h-0.76zM80.3 300.2h0.76v0.76h-0.76zM75.4 306.2h0.76v0.76h-0.76zM77.9 298.3h0.76v0.76h-0.76zM72.4 286.9h0.76v0.76h-0.76zM72.2 290.0h0.76v0.76h-0.76zM83.4 292.2h0.76v0.76h-0.76zM82.6 291.5h0.76v0.76h-0.76zM72.4 295.3h0.76v0.76h-0.76zM75.5 283.4h0.76v0.76h-0.76zM78.0 301.9h0.76v0.76h-0.76zM76.5 286.4h0.76v0.76h-0.76zM73.5 286.3h0.76v0.76h-0.76zM76.4 288.1h0.76v0.76h-0.76zM77.1 295.4h0.76v0.76h-0.76zM85.0 286.7h0.76v0.76h-0.76zM66.4 304.8h0.76v0.76h-0.76zM80.1 291.9h0.76v0.76h-0.76zM80.5 288.2h0.76v0.76h-0.76zM75.8 298.6h0.76v0.76h-0.76zM76.0 295.1h0.76v0.76h-0.76zM80.1 295.0h0.76v0.76h-0.76zM76.4 297.6h0.76v0.76h-0.76zM85.0 302.5h0.76v0.76h-0.76zM72.9 299.2h0.76v0.76h-0.76zM79.9 297.7h0.76v0.76h-0.76zM85.2 283.0h0.76v0.76h-0.76zM83.6 290.7h0.76v0.76h-0.76zM75.1 297.1h0.76v0.76h-0.76zM85.4 288.1h0.76v0.76h-0.76zM68.3 290.3h0.76v0.76h-0.76zM77.0 302.0h0.76v0.76h-0.76zM79.7 292.3h0.76v0.76h-0.76zM74.9 291.2h0.76v0.76h-0.76zM83.0 283.4h0.76v0.76h-0.76zM73.9 288.5h0.76v0.76h-0.76zM83.9 295.0h0.76v0.76h-0.76zM74.0 299.1h0.76v0.76h-0.76zM88.4 300.9h0.76v0.76h-0.76zM70.5 292.8h0.76v0.76h-0.76zM83.9 282.4h0.76v0.76h-0.76zM70.9 291.5h0.76v0.76h-0.76zM80.5 288.9h0.76v0.76h-0.76zM78.5 293.2h0.76v0.76h-0.76zM79.4 286.4h0.76v0.76h-0.76zM78.6 300.5h0.76v0.76h-0.76zM80.3 283.7h0.76v0.76h-0.76zM68.1 292.3h0.76v0.76h-0.76zM72.6 282.2h0.76v0.76h-0.76zM74.4 289.0h0.76v0.76h-0.76zM77.0 296.6h0.76v0.76h-0.76zM78.7 295.3h0.76v0.76h-0.76zM80.5 293.5h0.76v0.76h-0.76zM75.1 291.9h0.76v0.76h-0.76zM84.1 292.3h0.76v0.76h-0.76zM82.1 304.9h0.76v0.76h-0.76zM87.2 280.2h0.76v0.76h-0.76zM78.4 300.5h0.76v0.76h-0.76zM75.1 289.5h0.76v0.76h-0.76zM69.8 289.7h0.76v0.76h-0.76zM77.6 281.9h0.76v0.76h-0.76zM77.5 288.7h0.76v0.76h-0.76zM77.7 287.1h0.76v0.76h-0.76zM78.0 295.2h0.76v0.76h-0.76zM73.8 289.7h0.76v0.76h-0.76zM82.8 298.2h0.76v0.76h-0.76zM73.3 296.9h0.76v0.76h-0.76zM71.2 290.7h0.76v0.76h-0.76zM81.3 290.9h0.76v0.76h-0.76zM80.8 289.9h0.76v0.76h-0.76zM79.2 293.1h0.76v0.76h-0.76zM72.2 307.7h0.76v0.76h-0.76zM73.0 285.4h0.76v0.76h-0.76zM78.3 297.2h0.76v0.76h-0.76zM79.5 293.4h0.76v0.76h-0.76zM80.1 300.2h0.76v0.76h-0.76zM81.0 285.1h0.76v0.76h-0.76zM87.1 293.9h0.76v0.76h-0.76zM66.3 299.5h0.76v0.76h-0.76zM76.8 295.9h0.76v0.76h-0.76zM88.5 290.6h0.76v0.76h-0.76zM74.1 287.7h0.76v0.76h-0.76zM78.6 298.4h0.76v0.76h-0.76zM79.7 295.2h0.76v0.76h-0.76zM65.9 295.8h0.76v0.76h-0.76zM83.5 290.8h0.76v0.76h-0.76zM74.6 287.5h0.76v0.76h-0.76zM78.9 284.0h0.76v0.76h-0.76zM88.1 292.8h0.76v0.76h-0.76zM74.3 286.2h0.76v0.76h-0.76zM80.5 300.4h0.76v0.76h-0.76zM74.5 295.2h0.76v0.76h-0.76zM79.2 300.4h0.76v0.76h-0.76zM81.0 302.1h0.76v0.76h-0.76zM74.8 286.8h0.76v0.76h-0.76zM72.5 296.6h0.76v0.76h-0.76zM84.3 289.1h0.76v0.76h-0.76zM75.7 291.1h0.76v0.76h-0.76zM74.3 293.0h0.76v0.76h-0.76zM74.2 301.7h0.76v0.76h-0.76zM79.4 298.2h0.76v0.76h-0.76zM76.7 286.6h0.76v0.76h-0.76zM80.0 291.6h0.76v0.76h-0.76zM88.5 302.1h0.76v0.76h-0.76zM70.9 287.7h0.76v0.76h-0.76zM74.6 292.7h0.76v0.76h-0.76zM83.9 292.9h0.76v0.76h-0.76zM80.1 292.0h0.76v0.76h-0.76zM76.4 302.1h0.76v0.76h-0.76zM77.7 306.9h0.76v0.76h-0.76zM77.3 296.6h0.76v0.76h-0.76zM79.8 298.4h0.76v0.76h-0.76zM88.2 289.7h0.76v0.76h-0.76zM74.7 288.0h0.76v0.76h-0.76zM87.5 297.2h0.76v0.76h-0.76zM80.1 297.1h0.76v0.76h-0.76zM67.4 299.1h0.76v0.76h-0.76zM78.3 296.1h0.76v0.76h-0.76zM78.1 293.5h0.76v0.76h-0.76zM77.2 290.4h0.76v0.76h-0.76zM76.4 298.2h0.76v0.76h-0.76zM66.0 299.5h0.76v0.76h-0.76zM81.2 287.2h0.76v0.76h-0.76zM80.4 296.1h0.76v0.76h-0.76zM74.8 305.1h0.76v0.76h-0.76zM78.6 293.3h0.76v0.76h-0.76zM70.4 308.2h0.76v0.76h-0.76zM78.8 296.2h0.76v0.76h-0.76zM76.4 307.6h0.76v0.76h-0.76zM76.8 304.4h0.76v0.76h-0.76zM83.4 300.5h0.76v0.76h-0.76zM81.1 301.6h0.76v0.76h-0.76zM77.0 280.7h0.76v0.76h-0.76zM62.8 301.4h0.76v0.76h-0.76zM66.3 302.8h0.76v0.76h-0.76zM81.0 297.2h0.76v0.76h-0.76zM73.7 281.2h0.76v0.76h-0.76zM77.1 305.1h0.76v0.76h-0.76zM77.0 294.1h0.76v0.76h-0.76zM78.1 294.4h0.76v0.76h-0.76zM79.2 309.0h0.76v0.76h-0.76zM72.8 282.3h0.76v0.76h-0.76zM82.3 290.7h0.76v0.76h-0.76zM74.8 285.1h0.76v0.76h-0.76zM76.6 291.3h0.76v0.76h-0.76zM80.0 291.6h0.76v0.76h-0.76zM69.6 297.3h0.76v0.76h-0.76zM77.2 281.8h0.76v0.76h-0.76zM75.7 299.1h0.76v0.76h-0.76zM77.3 292.0h0.76v0.76h-0.76zM80.9 290.0h0.76v0.76h-0.76zM73.8 297.5h0.76v0.76h-0.76zM76.7 290.1h0.76v0.76h-0.76zM78.8 295.8h0.76v0.76h-0.76zM82.7 300.7h0.76v0.76h-0.76zM78.1 294.0h0.76v0.76h-0.76zM72.5 295.4h0.76v0.76h-0.76zM75.6 299.5h0.76v0.76h-0.76zM82.0 298.3h0.76v0.76h-0.76zM77.3 296.3h0.76v0.76h-0.76zM85.9 305.2h0.76v0.76h-0.76zM81.0 284.2h0.76v0.76h-0.76zM77.9 297.1h0.76v0.76h-0.76zM85.8 293.0h0.76v0.76h-0.76zM77.0 290.4h0.76v0.76h-0.76zM79.3 286.2h0.76v0.76h-0.76zM80.7 296.3h0.76v0.76h-0.76zM85.0 292.2h0.76v0.76h-0.76zM79.4 295.4h0.76v0.76h-0.76zM77.5 287.9h0.76v0.76h-0.76zM74.5 294.5h0.76v0.76h-0.76zM80.3 300.9h0.76v0.76h-0.76zM74.3 295.8h0.76v0.76h-0.76zM81.0 299.7h0.76v0.76h-0.76zM79.0 295.5h0.76v0.76h-0.76zM75.7 294.3h0.76v0.76h-0.76zM76.6 282.9h0.76v0.76h-0.76zM80.4 299.9h0.76v0.76h-0.76zM75.7 295.3h0.76v0.76h-0.76zM78.5 292.6h0.76v0.76h-0.76zM85.7 293.0h0.76v0.76h-0.76zM79.4 293.8h0.76v0.76h-0.76zM88.6 283.6h0.76v0.76h-0.76zM78.8 285.6h0.76v0.76h-0.76zM73.7 288.0h0.76v0.76h-0.76zM81.9 287.2h0.76v0.76h-0.76zM72.1 292.1h0.76v0.76h-0.76zM72.4 287.8h0.76v0.76h-0.76zM86.3 289.9h0.76v0.76h-0.76zM73.3 303.1h0.76v0.76h-0.76zM78.1 301.4h0.76v0.76h-0.76zM68.8 292.3h0.76v0.76h-0.76zM80.3 295.6h0.76v0.76h-0.76z"/>
<g filter="url(#bl1_5)" transform="rotate(0 77.5 294)"><ellipse cx="77.50" cy="294.00" rx="4.00" ry="5.00" fill="#98a8c8" fill-opacity="0.5"/><ellipse cx="77.50" cy="294.00" rx="2.00" ry="2.50" fill="#c8b050" fill-opacity="0.5"/></g>
<path fill="#7d8fd0" fill-opacity="0.4" d="M56.4 292.2h0.76v0.76h-0.76zM85.2 303.1h0.76v0.76h-0.76zM51.4 261.8h0.76v0.76h-0.76zM48.8 261.4h0.76v0.76h-0.76zM88.6 255.1h0.76v0.76h-0.76zM74.8 260.7h0.76v0.76h-0.76zM58.8 275.2h0.76v0.76h-0.76zM95.6 287.0h0.76v0.76h-0.76zM39.8 264.8h0.76v0.76h-0.76zM48.7 304.6h0.76v0.76h-0.76zM93.7 300.2h0.76v0.76h-0.76zM94.8 296.1h0.76v0.76h-0.76zM103.2 299.4h0.76v0.76h-0.76zM56.2 303.2h0.76v0.76h-0.76zM71.8 296.8h0.76v0.76h-0.76zM77.0 275.1h0.76v0.76h-0.76zM63.5 275.1h0.76v0.76h-0.76zM60.1 254.2h0.76v0.76h-0.76zM94.4 299.7h0.76v0.76h-0.76zM105.6 292.6h0.76v0.76h-0.76zM76.4 296.4h0.76v0.76h-0.76zM47.9 291.6h0.76v0.76h-0.76zM68.9 258.2h0.76v0.76h-0.76zM52.5 281.3h0.76v0.76h-0.76zM56.0 277.1h0.76v0.76h-0.76z"/>
<rect x="38.8" y="246.4" width="67.8" height="66.79999999999998" fill="none" stroke="#222" stroke-width="1.1"/>
<line x1="37.20" y1="252.70" x2="38.80" y2="252.70" stroke="#333" stroke-width="0.8"/>
<text x="36.30" y="254.70" font-size="7.1" text-anchor="end" font-weight="normal" fill="#333">10<tspan font-size="4.3" dy="-2.4">5</tspan></text>
<line x1="37.20" y1="266.70" x2="38.80" y2="266.70" stroke="#333" stroke-width="0.8"/>
<text x="36.30" y="268.70" font-size="7.1" text-anchor="end" font-weight="normal" fill="#333">10<tspan font-size="4.3" dy="-2.4">4</tspan></text>
<line x1="37.20" y1="282.10" x2="38.80" y2="282.10" stroke="#333" stroke-width="0.8"/>
<text x="36.30" y="284.10" font-size="7.1" text-anchor="end" font-weight="normal" fill="#333">10<tspan font-size="4.3" dy="-2.4">3</tspan></text>
<line x1="37.20" y1="291.30" x2="38.80" y2="291.30" stroke="#333" stroke-width="0.8"/>
<text x="36.30" y="293.30" font-size="7.1" text-anchor="end" font-weight="normal" fill="#333">0</text>
<line x1="37.20" y1="300.40" x2="38.80" y2="300.40" stroke="#333" stroke-width="0.8"/>
<text x="36.30" y="302.40" font-size="7.1" text-anchor="end" font-weight="normal" fill="#333">−10<tspan font-size="4.3" dy="-2.4">3</tspan></text>
<line x1="40.40" y1="313.20" x2="40.40" y2="314.80" stroke="#333" stroke-width="0.8"/>
<text x="40.40" y="321.40" font-size="7.1" text-anchor="middle" font-weight="normal" fill="#333">−10<tspan font-size="4.3" dy="-2.4">3</tspan></text>
<line x1="53.80" y1="313.20" x2="53.80" y2="314.80" stroke="#333" stroke-width="0.8"/>
<text x="53.80" y="321.40" font-size="7.1" text-anchor="middle" font-weight="normal" fill="#333">0</text>
<line x1="63.50" y1="313.20" x2="63.50" y2="314.80" stroke="#333" stroke-width="0.8"/>
<text x="63.50" y="321.40" font-size="7.1" text-anchor="middle" font-weight="normal" fill="#333">10<tspan font-size="4.3" dy="-2.4">3</tspan></text>
<line x1="82.30" y1="313.20" x2="82.30" y2="314.80" stroke="#333" stroke-width="0.8"/>
<text x="82.30" y="321.40" font-size="7.1" text-anchor="middle" font-weight="normal" fill="#333">10<tspan font-size="4.3" dy="-2.4">4</tspan></text>
<line x1="97.70" y1="313.20" x2="97.70" y2="314.80" stroke="#333" stroke-width="0.8"/>
<text x="97.70" y="321.40" font-size="7.1" text-anchor="middle" font-weight="normal" fill="#333">10<tspan font-size="4.3" dy="-2.4">5</tspan></text>
<line x1="37.80" y1="256.90" x2="38.80" y2="256.90" stroke="#555" stroke-width="0.6"/>
<line x1="37.80" y1="259.70" x2="38.80" y2="259.70" stroke="#555" stroke-width="0.6"/>
<line x1="37.80" y1="261.80" x2="38.80" y2="261.80" stroke="#555" stroke-width="0.6"/>
<line x1="37.80" y1="263.62" x2="38.80" y2="263.62" stroke="#555" stroke-width="0.6"/>
<line x1="37.80" y1="265.30" x2="38.80" y2="265.30" stroke="#555" stroke-width="0.6"/>
<line x1="37.80" y1="271.32" x2="38.80" y2="271.32" stroke="#555" stroke-width="0.6"/>
<line x1="37.80" y1="274.40" x2="38.80" y2="274.40" stroke="#555" stroke-width="0.6"/>
<line x1="37.80" y1="276.71" x2="38.80" y2="276.71" stroke="#555" stroke-width="0.6"/>
<line x1="37.80" y1="278.71" x2="38.80" y2="278.71" stroke="#555" stroke-width="0.6"/>
<line x1="37.80" y1="280.56" x2="38.80" y2="280.56" stroke="#555" stroke-width="0.6"/>
<line x1="44.42" y1="313.20" x2="44.42" y2="314.20" stroke="#555" stroke-width="0.6"/>
<line x1="47.10" y1="313.20" x2="47.10" y2="314.20" stroke="#555" stroke-width="0.6"/>
<line x1="49.11" y1="313.20" x2="49.11" y2="314.20" stroke="#555" stroke-width="0.6"/>
<line x1="50.85" y1="313.20" x2="50.85" y2="314.20" stroke="#555" stroke-width="0.6"/>
<line x1="52.46" y1="313.20" x2="52.46" y2="314.20" stroke="#555" stroke-width="0.6"/>
<line x1="69.14" y1="313.20" x2="69.14" y2="314.20" stroke="#555" stroke-width="0.6"/>
<line x1="72.90" y1="313.20" x2="72.90" y2="314.20" stroke="#555" stroke-width="0.6"/>
<line x1="75.72" y1="313.20" x2="75.72" y2="314.20" stroke="#555" stroke-width="0.6"/>
<line x1="78.16" y1="313.20" x2="78.16" y2="314.20" stroke="#555" stroke-width="0.6"/>
<line x1="80.42" y1="313.20" x2="80.42" y2="314.20" stroke="#555" stroke-width="0.6"/>
<line x1="86.92" y1="313.20" x2="86.92" y2="314.20" stroke="#555" stroke-width="0.6"/>
<line x1="90.00" y1="313.20" x2="90.00" y2="314.20" stroke="#555" stroke-width="0.6"/>
<line x1="92.31" y1="313.20" x2="92.31" y2="314.20" stroke="#555" stroke-width="0.6"/>
<line x1="94.31" y1="313.20" x2="94.31" y2="314.20" stroke="#555" stroke-width="0.6"/>
<line x1="96.16" y1="313.20" x2="96.16" y2="314.20" stroke="#555" stroke-width="0.6"/>
<polygon points="42.60,257.60 62.30,257.60 63.70,281.40 58.90,296.90 44.00,298.30" stroke="#151515" stroke-width="1.3" fill="none" stroke-linejoin="round"/>
<polygon points="75.50,275.90 90.70,275.90 92.50,298.00 85.90,309.10 69.20,309.10 61.30,300.80" stroke="#151515" stroke-width="1.3" fill="none" stroke-linejoin="round"/>
<text x="41.50" y="253.20" font-size="6.2" text-anchor="start" font-weight="normal" fill="#2a2a2a" textLength="12" lengthAdjust="spacingAndGlyphs">CD3+</text>
<text x="43.60" y="257.60" font-size="6.2" text-anchor="start" font-weight="normal" fill="#2a2a2a" textLength="10" lengthAdjust="spacingAndGlyphs">12.6</text>
<text x="91.40" y="308.00" font-size="6.2" text-anchor="start" font-weight="normal" fill="#2a2a2a" textLength="13" lengthAdjust="spacingAndGlyphs">CD3+</text>
<text x="92.80" y="312.20" font-size="6.2" text-anchor="start" font-weight="normal" fill="#2a2a2a" textLength="11" lengthAdjust="spacingAndGlyphs">84.9</text>
<text x="0" y="0" font-size="10.5" text-anchor="start" fill="#111" textLength="24.6" lengthAdjust="spacingAndGlyphs" transform="translate(23.28 323.80) rotate(-90)">CD19</text>
<line x1="19.50" y1="297.00" x2="19.50" y2="256.00" stroke="#111" stroke-width="1.0"/>
<polygon points="17.30,257.00 19.50,251.50 21.70,257.00" stroke="#111" stroke-width="0.5" fill="#111" stroke-linejoin="round"/>
<text x="22.20" y="332.98" font-size="10.5" text-anchor="start" font-weight="normal" fill="#111" textLength="19.2" lengthAdjust="spacingAndGlyphs">CD3</text>
<line x1="44.00" y1="329.20" x2="100.30" y2="329.20" stroke="#111" stroke-width="1.0"/>
<polygon points="99.30,327.00 104.80,329.20 99.30,331.40" stroke="#111" stroke-width="0.5" fill="#111" stroke-linejoin="round"/>
<path fill="#7d8fd0" fill-opacity="0.55" d="M182.4 299.0h0.76v0.76h-0.76zM194.3 297.2h0.76v0.76h-0.76zM182.7 304.8h0.76v0.76h-0.76zM199.6 305.1h0.76v0.76h-0.76zM186.7 303.6h0.76v0.76h-0.76zM192.0 300.1h0.76v0.76h-0.76zM190.3 307.0h0.76v0.76h-0.76zM206.4 304.8h0.76v0.76h-0.76zM199.8 298.2h0.76v0.76h-0.76zM198.7 306.3h0.76v0.76h-0.76zM185.0 305.1h0.76v0.76h-0.76zM199.2 303.0h0.76v0.76h-0.76zM177.9 307.6h0.76v0.76h-0.76zM183.7 311.7h0.76v0.76h-0.76zM191.1 306.8h0.76v0.76h-0.76zM194.9 301.2h0.76v0.76h-0.76zM191.3 300.3h0.76v0.76h-0.76zM190.5 293.1h0.76v0.76h-0.76zM175.9 299.5h0.76v0.76h-0.76zM198.2 310.5h0.76v0.76h-0.76zM193.1 300.8h0.76v0.76h-0.76zM182.0 308.6h0.76v0.76h-0.76zM180.6 307.1h0.76v0.76h-0.76zM199.9 304.8h0.76v0.76h-0.76zM194.4 305.5h0.76v0.76h-0.76zM178.4 305.2h0.76v0.76h-0.76zM174.2 301.4h0.76v0.76h-0.76zM176.9 301.6h0.76v0.76h-0.76zM192.6 308.9h0.76v0.76h-0.76zM182.3 312.8h0.76v0.76h-0.76zM188.4 308.1h0.76v0.76h-0.76zM206.8 310.1h0.76v0.76h-0.76zM191.6 298.3h0.76v0.76h-0.76zM183.9 295.4h0.76v0.76h-0.76zM203.0 302.8h0.76v0.76h-0.76zM198.6 299.6h0.76v0.76h-0.76zM184.7 308.7h0.76v0.76h-0.76zM194.2 302.1h0.76v0.76h-0.76zM206.4 310.3h0.76v0.76h-0.76zM191.7 297.0h0.76v0.76h-0.76zM191.7 303.0h0.76v0.76h-0.76zM189.6 310.8h0.76v0.76h-0.76zM184.6 307.1h0.76v0.76h-0.76zM198.2 307.7h0.76v0.76h-0.76zM189.7 297.0h0.76v0.76h-0.76zM174.1 303.2h0.76v0.76h-0.76zM196.8 305.9h0.76v0.76h-0.76zM199.4 294.4h0.76v0.76h-0.76zM200.0 298.6h0.76v0.76h-0.76zM178.2 309.1h0.76v0.76h-0.76zM195.0 300.1h0.76v0.76h-0.76zM182.1 303.8h0.76v0.76h-0.76zM190.2 304.0h0.76v0.76h-0.76zM203.3 306.4h0.76v0.76h-0.76zM177.9 294.3h0.76v0.76h-0.76zM183.3 302.3h0.76v0.76h-0.76zM194.4 302.9h0.76v0.76h-0.76zM193.7 306.7h0.76v0.76h-0.76zM200.7 306.2h0.76v0.76h-0.76zM187.1 302.0h0.76v0.76h-0.76zM181.4 303.5h0.76v0.76h-0.76zM183.0 305.2h0.76v0.76h-0.76zM193.2 308.9h0.76v0.76h-0.76zM178.7 312.6h0.76v0.76h-0.76zM187.1 304.3h0.76v0.76h-0.76zM185.0 291.2h0.76v0.76h-0.76zM192.7 292.8h0.76v0.76h-0.76zM201.2 305.4h0.76v0.76h-0.76zM205.7 309.6h0.76v0.76h-0.76zM188.9 306.9h0.76v0.76h-0.76zM183.4 308.9h0.76v0.76h-0.76zM196.8 301.6h0.76v0.76h-0.76zM177.4 304.8h0.76v0.76h-0.76zM194.3 304.0h0.76v0.76h-0.76zM180.4 300.0h0.76v0.76h-0.76zM177.3 303.6h0.76v0.76h-0.76zM206.9 310.0h0.76v0.76h-0.76zM199.3 304.0h0.76v0.76h-0.76zM193.1 306.7h0.76v0.76h-0.76zM206.4 310.7h0.76v0.76h-0.76zM190.7 297.4h0.76v0.76h-0.76zM188.6 304.0h0.76v0.76h-0.76zM183.4 299.0h0.76v0.76h-0.76zM180.1 304.2h0.76v0.76h-0.76zM184.2 307.9h0.76v0.76h-0.76zM200.2 307.3h0.76v0.76h-0.76zM196.6 294.8h0.76v0.76h-0.76zM182.9 306.4h0.76v0.76h-0.76zM181.3 310.3h0.76v0.76h-0.76zM172.6 291.8h0.76v0.76h-0.76zM199.8 309.1h0.76v0.76h-0.76zM174.1 305.6h0.76v0.76h-0.76zM203.4 297.3h0.76v0.76h-0.76zM178.2 296.6h0.76v0.76h-0.76zM180.3 292.9h0.76v0.76h-0.76zM185.2 294.9h0.76v0.76h-0.76zM179.6 311.3h0.76v0.76h-0.76zM191.1 304.9h0.76v0.76h-0.76zM186.7 310.6h0.76v0.76h-0.76zM185.7 307.5h0.76v0.76h-0.76zM186.2 304.1h0.76v0.76h-0.76zM189.5 297.2h0.76v0.76h-0.76zM188.1 300.4h0.76v0.76h-0.76zM186.8 300.1h0.76v0.76h-0.76zM198.4 303.1h0.76v0.76h-0.76zM188.3 311.7h0.76v0.76h-0.76zM200.4 302.1h0.76v0.76h-0.76zM177.2 308.7h0.76v0.76h-0.76zM188.8 309.3h0.76v0.76h-0.76zM184.0 308.7h0.76v0.76h-0.76zM207.8 307.7h0.76v0.76h-0.76zM204.3 300.6h0.76v0.76h-0.76zM201.7 306.0h0.76v0.76h-0.76zM203.3 307.3h0.76v0.76h-0.76zM187.7 300.1h0.76v0.76h-0.76zM202.5 305.4h0.76v0.76h-0.76zM197.1 308.4h0.76v0.76h-0.76zM186.3 307.7h0.76v0.76h-0.76zM194.8 292.4h0.76v0.76h-0.76zM186.9 304.6h0.76v0.76h-0.76zM193.9 311.6h0.76v0.76h-0.76zM183.2 303.4h0.76v0.76h-0.76zM196.2 292.2h0.76v0.76h-0.76zM203.1 306.0h0.76v0.76h-0.76zM208.8 312.3h0.76v0.76h-0.76zM189.7 293.2h0.76v0.76h-0.76zM191.3 307.3h0.76v0.76h-0.76zM195.4 296.2h0.76v0.76h-0.76zM181.8 299.6h0.76v0.76h-0.76zM192.8 299.0h0.76v0.76h-0.76zM188.8 311.5h0.76v0.76h-0.76zM193.0 303.3h0.76v0.76h-0.76zM200.9 308.5h0.76v0.76h-0.76zM187.2 300.9h0.76v0.76h-0.76zM189.6 307.4h0.76v0.76h-0.76zM201.4 306.9h0.76v0.76h-0.76zM183.9 295.8h0.76v0.76h-0.76zM192.6 307.8h0.76v0.76h-0.76zM201.3 301.3h0.76v0.76h-0.76zM177.1 310.8h0.76v0.76h-0.76zM188.3 296.5h0.76v0.76h-0.76zM206.5 311.2h0.76v0.76h-0.76zM190.6 307.0h0.76v0.76h-0.76zM182.6 311.9h0.76v0.76h-0.76zM185.7 301.9h0.76v0.76h-0.76zM187.1 297.1h0.76v0.76h-0.76zM197.6 290.7h0.76v0.76h-0.76zM187.0 300.6h0.76v0.76h-0.76zM193.7 290.1h0.76v0.76h-0.76zM199.8 303.7h0.76v0.76h-0.76zM190.4 304.0h0.76v0.76h-0.76zM181.8 312.7h0.76v0.76h-0.76zM176.9 297.7h0.76v0.76h-0.76zM186.4 301.7h0.76v0.76h-0.76zM201.2 301.3h0.76v0.76h-0.76zM195.0 301.8h0.76v0.76h-0.76zM202.7 304.9h0.76v0.76h-0.76zM192.6 293.7h0.76v0.76h-0.76zM197.0 300.5h0.76v0.76h-0.76zM198.8 308.5h0.76v0.76h-0.76zM195.4 312.9h0.76v0.76h-0.76zM193.8 298.9h0.76v0.76h-0.76zM191.6 306.2h0.76v0.76h-0.76zM178.3 309.3h0.76v0.76h-0.76zM204.6 306.7h0.76v0.76h-0.76zM191.2 308.2h0.76v0.76h-0.76zM200.9 301.3h0.76v0.76h-0.76zM199.5 299.8h0.76v0.76h-0.76zM195.3 308.6h0.76v0.76h-0.76zM177.3 309.6h0.76v0.76h-0.76zM192.2 293.4h0.76v0.76h-0.76zM185.5 300.7h0.76v0.76h-0.76zM181.2 307.9h0.76v0.76h-0.76zM182.2 305.4h0.76v0.76h-0.76zM179.2 303.2h0.76v0.76h-0.76zM208.1 307.9h0.76v0.76h-0.76zM174.6 298.5h0.76v0.76h-0.76zM188.6 293.7h0.76v0.76h-0.76zM199.7 304.7h0.76v0.76h-0.76zM189.3 305.4h0.76v0.76h-0.76zM183.2 297.1h0.76v0.76h-0.76zM192.4 309.7h0.76v0.76h-0.76zM188.2 292.3h0.76v0.76h-0.76zM186.7 305.3h0.76v0.76h-0.76zM178.9 305.0h0.76v0.76h-0.76zM179.2 311.3h0.76v0.76h-0.76zM177.5 298.8h0.76v0.76h-0.76zM201.1 296.3h0.76v0.76h-0.76zM184.6 308.8h0.76v0.76h-0.76zM193.5 292.8h0.76v0.76h-0.76zM196.0 303.0h0.76v0.76h-0.76zM197.6 307.8h0.76v0.76h-0.76zM186.2 302.1h0.76v0.76h-0.76zM193.8 300.2h0.76v0.76h-0.76zM186.5 299.7h0.76v0.76h-0.76zM191.4 309.7h0.76v0.76h-0.76zM174.2 305.2h0.76v0.76h-0.76zM185.6 308.4h0.76v0.76h-0.76zM192.2 306.9h0.76v0.76h-0.76zM186.6 298.2h0.76v0.76h-0.76zM188.8 303.8h0.76v0.76h-0.76zM187.9 295.7h0.76v0.76h-0.76zM178.9 307.9h0.76v0.76h-0.76zM199.4 303.4h0.76v0.76h-0.76zM180.7 297.5h0.76v0.76h-0.76zM183.9 309.8h0.76v0.76h-0.76zM190.4 295.1h0.76v0.76h-0.76zM178.4 307.2h0.76v0.76h-0.76zM204.2 306.3h0.76v0.76h-0.76zM183.2 306.4h0.76v0.76h-0.76zM178.7 300.2h0.76v0.76h-0.76zM199.9 309.2h0.76v0.76h-0.76zM185.9 310.5h0.76v0.76h-0.76zM190.7 307.1h0.76v0.76h-0.76zM192.2 308.7h0.76v0.76h-0.76zM176.2 295.5h0.76v0.76h-0.76zM190.9 308.4h0.76v0.76h-0.76zM185.2 304.3h0.76v0.76h-0.76zM176.0 311.6h0.76v0.76h-0.76zM185.9 304.3h0.76v0.76h-0.76zM195.6 307.7h0.76v0.76h-0.76zM173.6 299.0h0.76v0.76h-0.76zM175.4 303.7h0.76v0.76h-0.76zM198.5 305.3h0.76v0.76h-0.76zM201.5 306.8h0.76v0.76h-0.76zM203.3 297.4h0.76v0.76h-0.76zM184.4 302.9h0.76v0.76h-0.76zM193.6 303.7h0.76v0.76h-0.76zM206.9 302.3h0.76v0.76h-0.76zM187.7 296.5h0.76v0.76h-0.76zM194.7 310.5h0.76v0.76h-0.76zM182.5 296.2h0.76v0.76h-0.76zM197.8 306.9h0.76v0.76h-0.76zM197.5 308.3h0.76v0.76h-0.76zM194.5 293.7h0.76v0.76h-0.76zM195.1 309.8h0.76v0.76h-0.76zM201.2 311.7h0.76v0.76h-0.76zM183.2 306.8h0.76v0.76h-0.76zM176.3 309.9h0.76v0.76h-0.76zM182.1 299.3h0.76v0.76h-0.76zM181.1 302.7h0.76v0.76h-0.76zM193.7 312.7h0.76v0.76h-0.76zM187.0 310.9h0.76v0.76h-0.76zM184.0 307.1h0.76v0.76h-0.76zM196.8 306.0h0.76v0.76h-0.76zM196.1 300.3h0.76v0.76h-0.76zM186.4 300.6h0.76v0.76h-0.76zM183.6 298.8h0.76v0.76h-0.76zM189.0 296.4h0.76v0.76h-0.76zM184.3 309.0h0.76v0.76h-0.76zM174.3 297.6h0.76v0.76h-0.76zM185.9 297.5h0.76v0.76h-0.76zM193.2 301.8h0.76v0.76h-0.76zM182.6 294.1h0.76v0.76h-0.76zM195.4 301.4h0.76v0.76h-0.76zM198.9 304.9h0.76v0.76h-0.76zM195.0 311.1h0.76v0.76h-0.76zM184.4 301.0h0.76v0.76h-0.76zM177.5 297.5h0.76v0.76h-0.76zM195.0 291.2h0.76v0.76h-0.76z"/>
<path fill="#7d8fd0" fill-opacity="0.4" d="M236.4 255.9h0.76v0.76h-0.76zM174.1 313.3h0.76v0.76h-0.76zM184.8 254.6h0.76v0.76h-0.76zM215.9 269.6h0.76v0.76h-0.76zM231.8 262.0h0.76v0.76h-0.76zM236.5 267.9h0.76v0.76h-0.76zM212.6 308.9h0.76v0.76h-0.76zM218.2 308.3h0.76v0.76h-0.76zM219.7 249.7h0.76v0.76h-0.76zM231.3 285.9h0.76v0.76h-0.76zM193.2 259.2h0.76v0.76h-0.76zM229.2 285.5h0.76v0.76h-0.76zM235.1 298.3h0.76v0.76h-0.76zM236.6 284.4h0.76v0.76h-0.76zM219.1 287.5h0.76v0.76h-0.76zM189.7 310.5h0.76v0.76h-0.76zM193.3 298.8h0.76v0.76h-0.76zM236.2 290.0h0.76v0.76h-0.76zM182.0 301.7h0.76v0.76h-0.76zM217.0 258.9h0.76v0.76h-0.76zM175.8 282.1h0.76v0.76h-0.76zM174.7 308.4h0.76v0.76h-0.76zM206.3 281.1h0.76v0.76h-0.76zM199.8 290.7h0.76v0.76h-0.76zM233.6 267.1h0.76v0.76h-0.76zM197.4 285.5h0.76v0.76h-0.76zM192.3 286.3h0.76v0.76h-0.76zM208.7 275.5h0.76v0.76h-0.76zM217.4 281.8h0.76v0.76h-0.76zM178.4 313.2h0.76v0.76h-0.76zM196.2 275.4h0.76v0.76h-0.76zM199.4 308.7h0.76v0.76h-0.76zM236.0 280.8h0.76v0.76h-0.76zM199.2 253.0h0.76v0.76h-0.76zM232.2 258.0h0.76v0.76h-0.76zM209.0 269.9h0.76v0.76h-0.76zM194.4 270.4h0.76v0.76h-0.76zM185.3 249.0h0.76v0.76h-0.76zM208.2 299.7h0.76v0.76h-0.76zM215.7 260.0h0.76v0.76h-0.76zM218.8 250.0h0.76v0.76h-0.76zM199.9 301.9h0.76v0.76h-0.76zM233.9 277.3h0.76v0.76h-0.76zM229.0 279.9h0.76v0.76h-0.76zM207.4 285.6h0.76v0.76h-0.76zM238.6 296.3h0.76v0.76h-0.76zM204.1 295.2h0.76v0.76h-0.76zM215.4 270.2h0.76v0.76h-0.76zM224.8 301.3h0.76v0.76h-0.76zM213.1 309.6h0.76v0.76h-0.76zM173.7 280.0h0.76v0.76h-0.76zM214.8 269.3h0.76v0.76h-0.76zM183.9 292.8h0.76v0.76h-0.76zM201.5 264.5h0.76v0.76h-0.76zM175.3 311.2h0.76v0.76h-0.76zM196.0 254.4h0.76v0.76h-0.76zM186.9 263.6h0.76v0.76h-0.76zM230.3 258.6h0.76v0.76h-0.76zM190.9 253.0h0.76v0.76h-0.76zM203.8 260.4h0.76v0.76h-0.76z"/>
<path fill="#3d5cc0" fill-opacity="0.7" d="M224.2 284.0h0.76v0.76h-0.76zM211.3 291.6h0.76v0.76h-0.76zM202.8 288.8h0.76v0.76h-0.76zM205.4 293.1h0.76v0.76h-0.76zM211.7 303.1h0.76v0.76h-0.76zM210.4 303.8h0.76v0.76h-0.76zM211.9 294.6h0.76v0.76h-0.76zM207.2 284.9h0.76v0.76h-0.76zM207.5 296.4h0.76v0.76h-0.76zM210.9 282.3h0.76v0.76h-0.76zM215.5 292.4h0.76v0.76h-0.76zM209.4 285.4h0.76v0.76h-0.76zM207.8 297.5h0.76v0.76h-0.76zM198.0 296.3h0.76v0.76h-0.76zM202.6 288.7h0.76v0.76h-0.76zM206.2 289.6h0.76v0.76h-0.76zM211.7 301.2h0.76v0.76h-0.76zM210.9 288.6h0.76v0.76h-0.76zM211.4 296.7h0.76v0.76h-0.76zM214.5 295.8h0.76v0.76h-0.76zM205.7 301.6h0.76v0.76h-0.76zM207.6 301.5h0.76v0.76h-0.76zM210.5 282.8h0.76v0.76h-0.76zM208.8 298.3h0.76v0.76h-0.76zM211.3 280.2h0.76v0.76h-0.76zM211.4 288.2h0.76v0.76h-0.76zM215.8 297.2h0.76v0.76h-0.76zM221.6 296.4h0.76v0.76h-0.76zM209.0 285.7h0.76v0.76h-0.76zM215.7 292.6h0.76v0.76h-0.76zM210.0 297.4h0.76v0.76h-0.76zM204.5 295.3h0.76v0.76h-0.76zM209.7 298.1h0.76v0.76h-0.76zM204.8 293.0h0.76v0.76h-0.76zM208.9 303.4h0.76v0.76h-0.76zM215.2 288.3h0.76v0.76h-0.76zM214.8 276.4h0.76v0.76h-0.76zM206.2 285.4h0.76v0.76h-0.76zM205.7 288.9h0.76v0.76h-0.76zM207.0 302.9h0.76v0.76h-0.76zM210.2 282.6h0.76v0.76h-0.76zM216.7 302.0h0.76v0.76h-0.76zM204.6 304.0h0.76v0.76h-0.76zM211.7 288.2h0.76v0.76h-0.76zM211.7 292.9h0.76v0.76h-0.76zM200.9 289.7h0.76v0.76h-0.76zM209.8 305.5h0.76v0.76h-0.76zM201.5 295.8h0.76v0.76h-0.76zM208.9 293.2h0.76v0.76h-0.76zM200.2 305.0h0.76v0.76h-0.76zM217.8 308.1h0.76v0.76h-0.76zM212.0 307.0h0.76v0.76h-0.76zM212.5 302.7h0.76v0.76h-0.76zM206.4 295.7h0.76v0.76h-0.76zM206.5 284.2h0.76v0.76h-0.76zM205.7 283.6h0.76v0.76h-0.76zM201.0 290.2h0.76v0.76h-0.76zM221.3 303.5h0.76v0.76h-0.76zM214.4 286.0h0.76v0.76h-0.76zM210.8 280.7h0.76v0.76h-0.76zM204.4 289.4h0.76v0.76h-0.76zM206.2 301.6h0.76v0.76h-0.76zM205.2 301.5h0.76v0.76h-0.76zM197.7 302.0h0.76v0.76h-0.76zM200.2 295.6h0.76v0.76h-0.76zM208.8 301.3h0.76v0.76h-0.76zM213.2 297.3h0.76v0.76h-0.76zM205.6 293.9h0.76v0.76h-0.76zM205.5 295.1h0.76v0.76h-0.76zM202.1 290.1h0.76v0.76h-0.76zM212.4 288.6h0.76v0.76h-0.76zM212.1 288.5h0.76v0.76h-0.76zM218.9 292.6h0.76v0.76h-0.76zM221.2 298.3h0.76v0.76h-0.76zM207.9 302.4h0.76v0.76h-0.76zM217.1 307.7h0.76v0.76h-0.76zM218.7 301.9h0.76v0.76h-0.76zM200.6 302.3h0.76v0.76h-0.76zM208.2 297.5h0.76v0.76h-0.76zM217.8 287.3h0.76v0.76h-0.76zM212.8 291.0h0.76v0.76h-0.76zM218.6 295.5h0.76v0.76h-0.76zM216.3 305.2h0.76v0.76h-0.76zM198.2 296.7h0.76v0.76h-0.76zM213.1 283.0h0.76v0.76h-0.76zM203.8 289.7h0.76v0.76h-0.76zM211.1 297.0h0.76v0.76h-0.76zM212.0 289.2h0.76v0.76h-0.76zM203.5 297.5h0.76v0.76h-0.76zM202.7 286.4h0.76v0.76h-0.76zM213.7 286.5h0.76v0.76h-0.76zM202.4 304.0h0.76v0.76h-0.76zM213.7 300.4h0.76v0.76h-0.76zM211.0 277.2h0.76v0.76h-0.76zM215.8 296.2h0.76v0.76h-0.76zM207.1 279.0h0.76v0.76h-0.76zM204.3 292.6h0.76v0.76h-0.76zM207.0 295.7h0.76v0.76h-0.76zM206.0 302.7h0.76v0.76h-0.76zM213.1 283.2h0.76v0.76h-0.76zM204.5 297.5h0.76v0.76h-0.76zM204.8 306.3h0.76v0.76h-0.76zM204.9 295.9h0.76v0.76h-0.76zM213.0 283.4h0.76v0.76h-0.76zM217.5 291.7h0.76v0.76h-0.76zM203.7 287.4h0.76v0.76h-0.76zM219.2 292.4h0.76v0.76h-0.76zM206.7 295.4h0.76v0.76h-0.76zM212.7 286.4h0.76v0.76h-0.76zM207.2 296.1h0.76v0.76h-0.76zM215.8 295.9h0.76v0.76h-0.76zM220.4 291.7h0.76v0.76h-0.76zM206.3 281.1h0.76v0.76h-0.76zM208.4 299.4h0.76v0.76h-0.76zM207.0 292.0h0.76v0.76h-0.76zM201.8 288.3h0.76v0.76h-0.76zM205.6 292.8h0.76v0.76h-0.76zM216.2 298.2h0.76v0.76h-0.76zM215.1 304.2h0.76v0.76h-0.76zM205.4 305.7h0.76v0.76h-0.76zM209.0 281.7h0.76v0.76h-0.76zM204.4 292.8h0.76v0.76h-0.76zM208.3 301.3h0.76v0.76h-0.76zM200.2 294.5h0.76v0.76h-0.76zM210.5 286.7h0.76v0.76h-0.76zM210.4 293.6h0.76v0.76h-0.76zM211.3 282.7h0.76v0.76h-0.76zM212.3 291.0h0.76v0.76h-0.76zM207.3 290.2h0.76v0.76h-0.76zM219.1 304.8h0.76v0.76h-0.76zM211.5 295.8h0.76v0.76h-0.76zM212.1 280.2h0.76v0.76h-0.76zM218.5 290.6h0.76v0.76h-0.76zM203.4 293.5h0.76v0.76h-0.76zM212.7 307.9h0.76v0.76h-0.76zM208.7 290.6h0.76v0.76h-0.76zM210.9 288.9h0.76v0.76h-0.76zM209.5 297.1h0.76v0.76h-0.76zM207.0 289.7h0.76v0.76h-0.76zM209.1 294.0h0.76v0.76h-0.76zM213.3 279.9h0.76v0.76h-0.76zM212.0 281.8h0.76v0.76h-0.76zM217.0 306.3h0.76v0.76h-0.76zM203.4 303.5h0.76v0.76h-0.76zM197.2 303.0h0.76v0.76h-0.76zM214.4 297.9h0.76v0.76h-0.76zM204.4 283.1h0.76v0.76h-0.76zM211.4 288.7h0.76v0.76h-0.76zM213.2 278.9h0.76v0.76h-0.76zM211.4 297.9h0.76v0.76h-0.76zM203.4 287.8h0.76v0.76h-0.76zM200.4 292.4h0.76v0.76h-0.76zM213.2 277.7h0.76v0.76h-0.76zM208.0 306.1h0.76v0.76h-0.76zM213.9 281.2h0.76v0.76h-0.76zM223.8 288.0h0.76v0.76h-0.76zM214.8 301.7h0.76v0.76h-0.76zM206.0 298.8h0.76v0.76h-0.76zM209.4 289.9h0.76v0.76h-0.76zM209.1 302.6h0.76v0.76h-0.76zM214.8 287.4h0.76v0.76h-0.76zM213.8 303.6h0.76v0.76h-0.76zM209.0 296.5h0.76v0.76h-0.76zM210.9 279.5h0.76v0.76h-0.76zM214.2 303.5h0.76v0.76h-0.76zM206.8 295.0h0.76v0.76h-0.76zM213.9 290.9h0.76v0.76h-0.76zM208.4 284.0h0.76v0.76h-0.76zM210.2 286.0h0.76v0.76h-0.76zM215.2 299.2h0.76v0.76h-0.76zM200.5 301.6h0.76v0.76h-0.76zM200.9 304.3h0.76v0.76h-0.76zM210.4 293.3h0.76v0.76h-0.76zM216.6 281.9h0.76v0.76h-0.76zM207.8 290.0h0.76v0.76h-0.76zM207.7 278.6h0.76v0.76h-0.76zM218.4 289.8h0.76v0.76h-0.76zM212.5 291.7h0.76v0.76h-0.76zM206.4 304.6h0.76v0.76h-0.76zM199.7 302.6h0.76v0.76h-0.76zM203.3 288.6h0.76v0.76h-0.76zM206.9 298.4h0.76v0.76h-0.76zM215.3 294.6h0.76v0.76h-0.76zM208.1 297.5h0.76v0.76h-0.76zM202.5 294.8h0.76v0.76h-0.76zM219.9 287.0h0.76v0.76h-0.76zM208.5 298.4h0.76v0.76h-0.76zM205.1 289.9h0.76v0.76h-0.76zM216.3 293.1h0.76v0.76h-0.76zM213.0 289.6h0.76v0.76h-0.76zM217.2 301.0h0.76v0.76h-0.76zM207.1 287.5h0.76v0.76h-0.76zM212.9 293.5h0.76v0.76h-0.76zM207.6 279.2h0.76v0.76h-0.76zM208.3 285.9h0.76v0.76h-0.76zM210.3 291.6h0.76v0.76h-0.76zM204.7 299.5h0.76v0.76h-0.76zM209.9 289.7h0.76v0.76h-0.76zM212.2 295.7h0.76v0.76h-0.76zM214.6 300.4h0.76v0.76h-0.76zM213.4 287.7h0.76v0.76h-0.76zM217.4 302.0h0.76v0.76h-0.76zM204.5 304.2h0.76v0.76h-0.76zM208.9 284.1h0.76v0.76h-0.76zM208.0 281.6h0.76v0.76h-0.76zM216.1 281.8h0.76v0.76h-0.76zM218.4 285.3h0.76v0.76h-0.76zM207.3 304.4h0.76v0.76h-0.76zM210.7 278.4h0.76v0.76h-0.76zM212.9 284.0h0.76v0.76h-0.76zM207.7 291.9h0.76v0.76h-0.76zM197.8 296.0h0.76v0.76h-0.76zM220.6 285.0h0.76v0.76h-0.76zM204.3 296.4h0.76v0.76h-0.76zM216.7 285.3h0.76v0.76h-0.76zM209.7 296.3h0.76v0.76h-0.76zM215.6 285.8h0.76v0.76h-0.76zM210.9 287.5h0.76v0.76h-0.76zM204.7 293.2h0.76v0.76h-0.76zM203.3 287.8h0.76v0.76h-0.76z"/>
<g filter="url(#bl1_0)"><polygon points="208.5,278.5 214.0,279.5 219.5,287.0 221.0,298.0 216.0,307.5 203.0,309.0 197.5,302.0 203.0,288.0" fill="#3553bd" fill-opacity="0.85"/><ellipse cx="209.5" cy="296" rx="7.5" ry="11" fill="#2fa8e0" fill-opacity="1" transform="rotate(0 209.5 296)"/><ellipse cx="210" cy="296.5" rx="5.2" ry="8" fill="#48c46a" fill-opacity="1" transform="rotate(0 210 296.5)"/><ellipse cx="210.2" cy="296.8" rx="3.4" ry="5.5" fill="#e6e23a" fill-opacity="1" transform="rotate(0 210.2 296.8)"/><ellipse cx="210.2" cy="296.8" rx="2.4" ry="4" fill="#f3922a" fill-opacity="1" transform="rotate(0 210.2 296.8)"/><ellipse cx="210.2" cy="296.9" rx="1.5" ry="2.8" fill="#ec2c1c" fill-opacity="1" transform="rotate(0 210.2 296.9)"/></g>
<rect x="172.5" y="246.5" width="66.69999999999999" height="66.89999999999998" fill="none" stroke="#222" stroke-width="1.1"/>
<line x1="170.90" y1="252.70" x2="172.50" y2="252.70" stroke="#333" stroke-width="0.8"/>
<text x="170.00" y="254.70" font-size="7.1" text-anchor="end" font-weight="normal" fill="#333">10<tspan font-size="4.3" dy="-2.4">5</tspan></text>
<line x1="170.90" y1="266.70" x2="172.50" y2="266.70" stroke="#333" stroke-width="0.8"/>
<text x="170.00" y="268.70" font-size="7.1" text-anchor="end" font-weight="normal" fill="#333">10<tspan font-size="4.3" dy="-2.4">4</tspan></text>
<line x1="170.90" y1="282.10" x2="172.50" y2="282.10" stroke="#333" stroke-width="0.8"/>
<text x="170.00" y="284.10" font-size="7.1" text-anchor="end" font-weight="normal" fill="#333">10<tspan font-size="4.3" dy="-2.4">3</tspan></text>
<line x1="170.90" y1="291.30" x2="172.50" y2="291.30" stroke="#333" stroke-width="0.8"/>
<text x="170.00" y="293.30" font-size="7.1" text-anchor="end" font-weight="normal" fill="#333">0</text>
<line x1="170.90" y1="300.40" x2="172.50" y2="300.40" stroke="#333" stroke-width="0.8"/>
<text x="170.00" y="302.40" font-size="7.1" text-anchor="end" font-weight="normal" fill="#333">−10<tspan font-size="4.3" dy="-2.4">3</tspan></text>
<line x1="174.20" y1="313.40" x2="174.20" y2="315.00" stroke="#333" stroke-width="0.8"/>
<text x="174.20" y="321.40" font-size="7.1" text-anchor="middle" font-weight="normal" fill="#333">−10<tspan font-size="4.3" dy="-2.4">3</tspan></text>
<line x1="187.60" y1="313.40" x2="187.60" y2="315.00" stroke="#333" stroke-width="0.8"/>
<text x="187.60" y="321.40" font-size="7.1" text-anchor="middle" font-weight="normal" fill="#333">0</text>
<line x1="197.30" y1="313.40" x2="197.30" y2="315.00" stroke="#333" stroke-width="0.8"/>
<text x="197.30" y="321.40" font-size="7.1" text-anchor="middle" font-weight="normal" fill="#333">10<tspan font-size="4.3" dy="-2.4">3</tspan></text>
<line x1="216.10" y1="313.40" x2="216.10" y2="315.00" stroke="#333" stroke-width="0.8"/>
<text x="216.10" y="321.40" font-size="7.1" text-anchor="middle" font-weight="normal" fill="#333">10<tspan font-size="4.3" dy="-2.4">4</tspan></text>
<line x1="231.50" y1="313.40" x2="231.50" y2="315.00" stroke="#333" stroke-width="0.8"/>
<text x="231.50" y="321.40" font-size="7.1" text-anchor="middle" font-weight="normal" fill="#333">10<tspan font-size="4.3" dy="-2.4">5</tspan></text>
<line x1="171.50" y1="256.90" x2="172.50" y2="256.90" stroke="#555" stroke-width="0.6"/>
<line x1="171.50" y1="259.70" x2="172.50" y2="259.70" stroke="#555" stroke-width="0.6"/>
<line x1="171.50" y1="261.80" x2="172.50" y2="261.80" stroke="#555" stroke-width="0.6"/>
<line x1="171.50" y1="263.62" x2="172.50" y2="263.62" stroke="#555" stroke-width="0.6"/>
<line x1="171.50" y1="265.30" x2="172.50" y2="265.30" stroke="#555" stroke-width="0.6"/>
<line x1="171.50" y1="271.32" x2="172.50" y2="271.32" stroke="#555" stroke-width="0.6"/>
<line x1="171.50" y1="274.40" x2="172.50" y2="274.40" stroke="#555" stroke-width="0.6"/>
<line x1="171.50" y1="276.71" x2="172.50" y2="276.71" stroke="#555" stroke-width="0.6"/>
<line x1="171.50" y1="278.71" x2="172.50" y2="278.71" stroke="#555" stroke-width="0.6"/>
<line x1="171.50" y1="280.56" x2="172.50" y2="280.56" stroke="#555" stroke-width="0.6"/>
<line x1="178.22" y1="313.40" x2="178.22" y2="314.40" stroke="#555" stroke-width="0.6"/>
<line x1="180.90" y1="313.40" x2="180.90" y2="314.40" stroke="#555" stroke-width="0.6"/>
<line x1="182.91" y1="313.40" x2="182.91" y2="314.40" stroke="#555" stroke-width="0.6"/>
<line x1="184.65" y1="313.40" x2="184.65" y2="314.40" stroke="#555" stroke-width="0.6"/>
<line x1="186.26" y1="313.40" x2="186.26" y2="314.40" stroke="#555" stroke-width="0.6"/>
<line x1="202.94" y1="313.40" x2="202.94" y2="314.40" stroke="#555" stroke-width="0.6"/>
<line x1="206.70" y1="313.40" x2="206.70" y2="314.40" stroke="#555" stroke-width="0.6"/>
<line x1="209.52" y1="313.40" x2="209.52" y2="314.40" stroke="#555" stroke-width="0.6"/>
<line x1="211.96" y1="313.40" x2="211.96" y2="314.40" stroke="#555" stroke-width="0.6"/>
<line x1="214.22" y1="313.40" x2="214.22" y2="314.40" stroke="#555" stroke-width="0.6"/>
<line x1="220.72" y1="313.40" x2="220.72" y2="314.40" stroke="#555" stroke-width="0.6"/>
<line x1="223.80" y1="313.40" x2="223.80" y2="314.40" stroke="#555" stroke-width="0.6"/>
<line x1="226.11" y1="313.40" x2="226.11" y2="314.40" stroke="#555" stroke-width="0.6"/>
<line x1="228.11" y1="313.40" x2="228.11" y2="314.40" stroke="#555" stroke-width="0.6"/>
<line x1="229.96" y1="313.40" x2="229.96" y2="314.40" stroke="#555" stroke-width="0.6"/>
<polygon points="175.80,257.10 195.60,257.10 196.50,284.00 191.70,296.50 177.30,298.10" stroke="#151515" stroke-width="1.3" fill="none" stroke-linejoin="round"/>
<polygon points="208.10,275.80 223.50,275.80 225.80,297.50 217.70,309.00 202.30,309.00 194.60,301.30" stroke="#151515" stroke-width="1.3" fill="none" stroke-linejoin="round"/>
<text x="175.50" y="253.20" font-size="6.2" text-anchor="start" font-weight="normal" fill="#2a2a2a" textLength="15" lengthAdjust="spacingAndGlyphs">CD19+</text>
<text x="177.50" y="257.60" font-size="6.2" text-anchor="start" font-weight="normal" fill="#2a2a2a" textLength="10" lengthAdjust="spacingAndGlyphs">0.19</text>
<text x="224.50" y="308.00" font-size="6.2" text-anchor="start" font-weight="normal" fill="#2a2a2a" textLength="13" lengthAdjust="spacingAndGlyphs">CD3+</text>
<text x="226.00" y="312.20" font-size="6.2" text-anchor="start" font-weight="normal" fill="#2a2a2a" textLength="11" lengthAdjust="spacingAndGlyphs">97.9</text>
<text x="0" y="0" font-size="10.5" text-anchor="start" fill="#111" textLength="24.6" lengthAdjust="spacingAndGlyphs" transform="translate(149.18 323.80) rotate(-90)">CD19</text>
<line x1="145.40" y1="297.00" x2="145.40" y2="256.00" stroke="#111" stroke-width="1.0"/>
<polygon points="143.20,257.00 145.40,251.50 147.60,257.00" stroke="#111" stroke-width="0.5" fill="#111" stroke-linejoin="round"/>
<text x="148.50" y="333.78" font-size="10.5" text-anchor="start" font-weight="normal" fill="#111" textLength="18.7" lengthAdjust="spacingAndGlyphs">CD3</text>
<line x1="170.00" y1="330.00" x2="226.70" y2="330.00" stroke="#111" stroke-width="1.0"/>
<polygon points="225.70,327.80 231.20,330.00 225.70,332.20" stroke="#111" stroke-width="0.5" fill="#111" stroke-linejoin="round"/>
<path fill="#7d8fd0" fill-opacity="0.8" d="M57.2 367.1h0.76v0.76h-0.76zM46.3 370.6h0.76v0.76h-0.76zM56.0 368.4h0.76v0.76h-0.76zM55.2 373.4h0.76v0.76h-0.76zM60.4 372.0h0.76v0.76h-0.76zM52.2 365.2h0.76v0.76h-0.76zM47.1 366.1h0.76v0.76h-0.76zM55.1 367.4h0.76v0.76h-0.76zM60.1 365.6h0.76v0.76h-0.76zM55.9 370.2h0.76v0.76h-0.76zM43.3 374.1h0.76v0.76h-0.76zM55.1 369.6h0.76v0.76h-0.76zM47.0 364.6h0.76v0.76h-0.76zM65.9 364.9h0.76v0.76h-0.76zM51.3 369.0h0.76v0.76h-0.76zM64.4 368.2h0.76v0.76h-0.76zM60.4 362.9h0.76v0.76h-0.76zM56.3 373.6h0.76v0.76h-0.76zM53.5 364.5h0.76v0.76h-0.76zM51.1 364.9h0.76v0.76h-0.76zM59.7 367.9h0.76v0.76h-0.76zM50.7 370.3h0.76v0.76h-0.76zM46.5 361.2h0.76v0.76h-0.76zM65.5 366.7h0.76v0.76h-0.76zM52.6 369.2h0.76v0.76h-0.76zM48.2 363.7h0.76v0.76h-0.76zM52.7 365.5h0.76v0.76h-0.76zM59.2 375.0h0.76v0.76h-0.76zM45.9 363.5h0.76v0.76h-0.76zM59.4 369.2h0.76v0.76h-0.76zM61.9 364.1h0.76v0.76h-0.76zM58.3 366.9h0.76v0.76h-0.76zM42.8 368.9h0.76v0.76h-0.76zM43.2 369.3h0.76v0.76h-0.76zM51.0 366.3h0.76v0.76h-0.76zM57.1 368.7h0.76v0.76h-0.76zM48.8 372.2h0.76v0.76h-0.76zM58.5 363.6h0.76v0.76h-0.76zM42.5 367.1h0.76v0.76h-0.76zM52.9 370.6h0.76v0.76h-0.76zM47.0 363.5h0.76v0.76h-0.76zM57.1 367.4h0.76v0.76h-0.76zM60.8 371.7h0.76v0.76h-0.76zM54.5 364.1h0.76v0.76h-0.76zM53.4 367.5h0.76v0.76h-0.76zM50.3 369.2h0.76v0.76h-0.76zM54.9 368.0h0.76v0.76h-0.76zM63.2 372.4h0.76v0.76h-0.76zM62.5 368.6h0.76v0.76h-0.76zM55.1 369.4h0.76v0.76h-0.76zM56.4 364.1h0.76v0.76h-0.76zM56.9 370.8h0.76v0.76h-0.76zM51.3 362.6h0.76v0.76h-0.76zM58.2 364.0h0.76v0.76h-0.76zM43.8 366.1h0.76v0.76h-0.76zM44.0 368.4h0.76v0.76h-0.76zM50.6 367.4h0.76v0.76h-0.76zM62.1 371.7h0.76v0.76h-0.76zM53.5 357.9h0.76v0.76h-0.76zM50.9 362.3h0.76v0.76h-0.76zM60.4 373.4h0.76v0.76h-0.76zM59.0 369.7h0.76v0.76h-0.76zM58.0 369.9h0.76v0.76h-0.76zM51.6 370.7h0.76v0.76h-0.76zM52.0 362.4h0.76v0.76h-0.76zM54.5 373.6h0.76v0.76h-0.76zM52.9 359.9h0.76v0.76h-0.76zM62.8 368.1h0.76v0.76h-0.76zM58.0 365.2h0.76v0.76h-0.76zM57.5 373.7h0.76v0.76h-0.76zM49.7 369.9h0.76v0.76h-0.76zM56.6 363.6h0.76v0.76h-0.76zM55.4 369.5h0.76v0.76h-0.76zM48.3 371.8h0.76v0.76h-0.76zM46.4 371.8h0.76v0.76h-0.76zM58.5 368.2h0.76v0.76h-0.76zM48.7 363.9h0.76v0.76h-0.76zM53.3 369.4h0.76v0.76h-0.76zM61.3 367.9h0.76v0.76h-0.76zM51.8 371.1h0.76v0.76h-0.76zM54.1 367.0h0.76v0.76h-0.76zM46.0 371.4h0.76v0.76h-0.76zM49.5 375.0h0.76v0.76h-0.76zM48.2 365.2h0.76v0.76h-0.76zM54.8 364.3h0.76v0.76h-0.76zM44.1 362.5h0.76v0.76h-0.76zM48.5 366.2h0.76v0.76h-0.76zM61.0 369.8h0.76v0.76h-0.76zM56.4 370.4h0.76v0.76h-0.76zM50.4 362.9h0.76v0.76h-0.76zM57.5 364.5h0.76v0.76h-0.76zM46.6 370.7h0.76v0.76h-0.76zM49.7 366.1h0.76v0.76h-0.76zM43.8 370.8h0.76v0.76h-0.76zM54.5 372.9h0.76v0.76h-0.76zM51.7 363.9h0.76v0.76h-0.76zM65.5 366.3h0.76v0.76h-0.76zM58.5 368.1h0.76v0.76h-0.76zM55.3 367.9h0.76v0.76h-0.76zM53.2 368.1h0.76v0.76h-0.76zM47.2 369.6h0.76v0.76h-0.76zM50.7 367.8h0.76v0.76h-0.76zM65.6 368.0h0.76v0.76h-0.76zM47.1 368.6h0.76v0.76h-0.76zM44.2 367.8h0.76v0.76h-0.76zM63.9 362.8h0.76v0.76h-0.76zM53.2 363.6h0.76v0.76h-0.76zM55.4 368.4h0.76v0.76h-0.76zM55.4 366.0h0.76v0.76h-0.76zM41.1 363.5h0.76v0.76h-0.76zM51.2 370.4h0.76v0.76h-0.76zM49.0 360.4h0.76v0.76h-0.76zM64.2 368.5h0.76v0.76h-0.76zM47.7 368.2h0.76v0.76h-0.76zM58.3 361.3h0.76v0.76h-0.76zM63.0 363.7h0.76v0.76h-0.76zM59.8 364.8h0.76v0.76h-0.76zM43.3 364.7h0.76v0.76h-0.76zM50.6 367.6h0.76v0.76h-0.76zM42.7 363.1h0.76v0.76h-0.76zM56.3 365.6h0.76v0.76h-0.76zM50.6 368.9h0.76v0.76h-0.76zM45.1 375.1h0.76v0.76h-0.76zM49.0 368.6h0.76v0.76h-0.76zM53.0 371.1h0.76v0.76h-0.76zM51.1 364.0h0.76v0.76h-0.76zM55.8 369.5h0.76v0.76h-0.76zM53.1 375.3h0.76v0.76h-0.76zM59.3 372.6h0.76v0.76h-0.76zM62.9 371.2h0.76v0.76h-0.76zM52.9 373.6h0.76v0.76h-0.76zM51.6 367.6h0.76v0.76h-0.76zM63.7 370.8h0.76v0.76h-0.76zM46.8 365.9h0.76v0.76h-0.76zM48.0 371.7h0.76v0.76h-0.76zM51.7 367.2h0.76v0.76h-0.76zM49.5 365.0h0.76v0.76h-0.76zM58.7 363.1h0.76v0.76h-0.76zM54.5 365.1h0.76v0.76h-0.76zM51.6 362.0h0.76v0.76h-0.76zM62.0 360.6h0.76v0.76h-0.76zM45.7 365.4h0.76v0.76h-0.76zM54.5 364.0h0.76v0.76h-0.76zM43.0 365.1h0.76v0.76h-0.76zM47.3 364.3h0.76v0.76h-0.76zM53.9 368.5h0.76v0.76h-0.76zM51.2 365.6h0.76v0.76h-0.76zM61.2 366.2h0.76v0.76h-0.76zM42.3 365.5h0.76v0.76h-0.76zM56.5 365.5h0.76v0.76h-0.76zM50.1 367.7h0.76v0.76h-0.76zM50.6 367.5h0.76v0.76h-0.76zM58.4 364.5h0.76v0.76h-0.76zM43.4 372.2h0.76v0.76h-0.76zM56.6 363.9h0.76v0.76h-0.76zM44.4 367.0h0.76v0.76h-0.76zM55.3 368.9h0.76v0.76h-0.76zM56.4 365.2h0.76v0.76h-0.76zM51.2 361.0h0.76v0.76h-0.76zM49.0 365.1h0.76v0.76h-0.76zM61.2 361.8h0.76v0.76h-0.76zM66.5 370.5h0.76v0.76h-0.76zM50.5 364.6h0.76v0.76h-0.76zM55.4 368.5h0.76v0.76h-0.76zM58.7 360.2h0.76v0.76h-0.76zM51.6 369.0h0.76v0.76h-0.76zM60.0 368.7h0.76v0.76h-0.76zM53.4 368.2h0.76v0.76h-0.76zM50.4 373.7h0.76v0.76h-0.76zM60.1 368.5h0.76v0.76h-0.76zM50.2 366.8h0.76v0.76h-0.76zM56.5 367.3h0.76v0.76h-0.76zM60.6 362.5h0.76v0.76h-0.76zM58.7 365.0h0.76v0.76h-0.76zM54.0 374.7h0.76v0.76h-0.76zM42.4 361.7h0.76v0.76h-0.76zM49.8 370.0h0.76v0.76h-0.76zM51.3 359.3h0.76v0.76h-0.76zM56.6 369.6h0.76v0.76h-0.76zM62.3 367.4h0.76v0.76h-0.76zM61.5 364.7h0.76v0.76h-0.76zM59.9 371.7h0.76v0.76h-0.76zM52.2 365.6h0.76v0.76h-0.76zM62.2 364.1h0.76v0.76h-0.76zM48.0 367.2h0.76v0.76h-0.76zM57.9 370.6h0.76v0.76h-0.76zM50.9 369.1h0.76v0.76h-0.76zM48.2 362.5h0.76v0.76h-0.76zM43.9 368.3h0.76v0.76h-0.76zM49.1 369.9h0.76v0.76h-0.76zM61.0 368.1h0.76v0.76h-0.76zM47.9 372.9h0.76v0.76h-0.76zM61.0 365.7h0.76v0.76h-0.76zM61.7 369.5h0.76v0.76h-0.76zM45.6 364.0h0.76v0.76h-0.76zM55.2 362.8h0.76v0.76h-0.76zM43.4 365.0h0.76v0.76h-0.76zM58.7 367.5h0.76v0.76h-0.76zM59.0 365.9h0.76v0.76h-0.76zM59.2 366.5h0.76v0.76h-0.76zM50.3 367.7h0.76v0.76h-0.76zM48.8 364.7h0.76v0.76h-0.76zM60.6 371.0h0.76v0.76h-0.76zM49.8 365.2h0.76v0.76h-0.76zM50.9 362.0h0.76v0.76h-0.76zM65.2 371.9h0.76v0.76h-0.76zM48.1 369.5h0.76v0.76h-0.76zM47.4 365.6h0.76v0.76h-0.76zM61.0 365.8h0.76v0.76h-0.76zM49.1 361.1h0.76v0.76h-0.76zM57.6 366.0h0.76v0.76h-0.76zM45.5 374.9h0.76v0.76h-0.76zM49.1 364.7h0.76v0.76h-0.76zM56.4 365.7h0.76v0.76h-0.76zM53.9 368.4h0.76v0.76h-0.76zM50.4 363.1h0.76v0.76h-0.76zM51.7 370.9h0.76v0.76h-0.76zM53.8 373.0h0.76v0.76h-0.76zM54.4 363.3h0.76v0.76h-0.76zM55.3 366.2h0.76v0.76h-0.76zM50.6 366.1h0.76v0.76h-0.76zM60.1 370.3h0.76v0.76h-0.76zM56.2 367.8h0.76v0.76h-0.76zM58.2 369.8h0.76v0.76h-0.76zM56.6 364.3h0.76v0.76h-0.76zM62.0 371.5h0.76v0.76h-0.76zM57.7 367.7h0.76v0.76h-0.76zM40.9 365.1h0.76v0.76h-0.76zM55.2 371.2h0.76v0.76h-0.76zM52.2 364.5h0.76v0.76h-0.76zM42.0 366.0h0.76v0.76h-0.76zM58.0 361.6h0.76v0.76h-0.76zM50.1 365.2h0.76v0.76h-0.76zM54.4 368.3h0.76v0.76h-0.76zM61.4 364.6h0.76v0.76h-0.76zM43.5 362.4h0.76v0.76h-0.76zM51.6 363.5h0.76v0.76h-0.76zM51.7 366.2h0.76v0.76h-0.76zM53.9 370.5h0.76v0.76h-0.76zM56.6 361.6h0.76v0.76h-0.76zM48.8 364.7h0.76v0.76h-0.76zM50.2 370.0h0.76v0.76h-0.76zM59.8 368.1h0.76v0.76h-0.76zM64.1 363.2h0.76v0.76h-0.76zM54.0 371.5h0.76v0.76h-0.76zM53.9 364.5h0.76v0.76h-0.76zM48.7 371.0h0.76v0.76h-0.76zM59.4 374.7h0.76v0.76h-0.76zM67.3 367.9h0.76v0.76h-0.76zM50.8 363.7h0.76v0.76h-0.76zM50.9 374.4h0.76v0.76h-0.76zM52.9 364.5h0.76v0.76h-0.76zM52.8 368.5h0.76v0.76h-0.76zM49.3 364.1h0.76v0.76h-0.76zM49.8 372.4h0.76v0.76h-0.76zM53.9 369.1h0.76v0.76h-0.76zM57.9 359.4h0.76v0.76h-0.76zM56.9 362.5h0.76v0.76h-0.76zM51.3 359.6h0.76v0.76h-0.76zM59.3 367.8h0.76v0.76h-0.76zM47.5 371.9h0.76v0.76h-0.76zM48.3 372.5h0.76v0.76h-0.76zM53.3 376.2h0.76v0.76h-0.76zM46.0 369.0h0.76v0.76h-0.76zM45.7 361.9h0.76v0.76h-0.76zM49.9 366.0h0.76v0.76h-0.76zM46.2 368.8h0.76v0.76h-0.76zM65.0 370.1h0.76v0.76h-0.76zM48.8 375.0h0.76v0.76h-0.76zM42.9 373.7h0.76v0.76h-0.76zM52.9 363.3h0.76v0.76h-0.76zM54.0 366.9h0.76v0.76h-0.76zM61.4 369.6h0.76v0.76h-0.76zM51.6 370.6h0.76v0.76h-0.76zM52.0 362.9h0.76v0.76h-0.76zM45.9 362.9h0.76v0.76h-0.76zM55.6 365.5h0.76v0.76h-0.76zM59.1 361.5h0.76v0.76h-0.76zM54.4 368.6h0.76v0.76h-0.76zM55.0 368.5h0.76v0.76h-0.76zM48.8 367.3h0.76v0.76h-0.76zM49.4 366.2h0.76v0.76h-0.76zM59.7 364.9h0.76v0.76h-0.76zM61.7 366.6h0.76v0.76h-0.76zM53.9 369.4h0.76v0.76h-0.76zM65.9 367.7h0.76v0.76h-0.76zM49.1 372.4h0.76v0.76h-0.76zM57.6 363.8h0.76v0.76h-0.76zM43.6 366.6h0.76v0.76h-0.76zM50.1 364.2h0.76v0.76h-0.76zM55.7 370.0h0.76v0.76h-0.76zM63.2 367.7h0.76v0.76h-0.76zM46.9 361.9h0.76v0.76h-0.76zM44.2 369.3h0.76v0.76h-0.76zM42.2 364.3h0.76v0.76h-0.76zM44.8 365.2h0.76v0.76h-0.76zM50.5 365.5h0.76v0.76h-0.76zM64.6 370.3h0.76v0.76h-0.76zM51.2 362.8h0.76v0.76h-0.76zM57.5 365.8h0.76v0.76h-0.76zM53.2 362.5h0.76v0.76h-0.76zM56.7 368.2h0.76v0.76h-0.76zM58.2 367.4h0.76v0.76h-0.76zM55.2 362.7h0.76v0.76h-0.76zM61.3 368.3h0.76v0.76h-0.76zM65.3 365.9h0.76v0.76h-0.76zM51.6 371.1h0.76v0.76h-0.76zM50.8 369.0h0.76v0.76h-0.76zM53.2 366.3h0.76v0.76h-0.76zM54.4 361.5h0.76v0.76h-0.76zM61.9 358.8h0.76v0.76h-0.76zM52.0 376.1h0.76v0.76h-0.76zM60.0 364.3h0.76v0.76h-0.76zM59.3 370.5h0.76v0.76h-0.76zM54.3 373.0h0.76v0.76h-0.76zM54.5 361.9h0.76v0.76h-0.76zM51.0 375.1h0.76v0.76h-0.76zM53.6 374.5h0.76v0.76h-0.76zM60.1 364.0h0.76v0.76h-0.76zM58.9 368.0h0.76v0.76h-0.76zM57.8 368.0h0.76v0.76h-0.76zM48.8 370.9h0.76v0.76h-0.76zM54.7 365.9h0.76v0.76h-0.76zM53.9 365.2h0.76v0.76h-0.76zM53.8 366.5h0.76v0.76h-0.76zM44.8 373.8h0.76v0.76h-0.76zM55.5 366.1h0.76v0.76h-0.76zM43.0 372.4h0.76v0.76h-0.76zM57.2 370.8h0.76v0.76h-0.76zM53.6 370.2h0.76v0.76h-0.76zM50.5 367.1h0.76v0.76h-0.76zM54.7 361.9h0.76v0.76h-0.76zM56.3 368.5h0.76v0.76h-0.76zM47.5 363.4h0.76v0.76h-0.76zM50.3 369.1h0.76v0.76h-0.76zM44.5 360.7h0.76v0.76h-0.76zM49.4 370.7h0.76v0.76h-0.76zM60.9 368.3h0.76v0.76h-0.76zM66.3 361.6h0.76v0.76h-0.76zM46.4 373.1h0.76v0.76h-0.76z"/>
<g filter="url(#bl1_2)" transform="rotate(0 53 368)"><ellipse cx="53.00" cy="368.00" rx="6.00" ry="3.00" fill="#98a8c8" fill-opacity="0.45"/><ellipse cx="53.00" cy="368.00" rx="3.00" ry="1.50" fill="#c8b050" fill-opacity="0.45"/></g>
<path fill="#7d8fd0" fill-opacity="0.5" d="M60.3 401.2h0.76v0.76h-0.76zM67.0 396.2h0.76v0.76h-0.76zM53.2 390.3h0.76v0.76h-0.76zM79.1 390.7h0.76v0.76h-0.76zM76.1 379.6h0.76v0.76h-0.76zM79.1 399.4h0.76v0.76h-0.76zM83.0 381.7h0.76v0.76h-0.76zM83.8 379.2h0.76v0.76h-0.76zM62.0 380.7h0.76v0.76h-0.76zM75.5 392.0h0.76v0.76h-0.76zM69.8 397.6h0.76v0.76h-0.76zM70.2 382.5h0.76v0.76h-0.76zM61.2 382.9h0.76v0.76h-0.76zM64.6 378.0h0.76v0.76h-0.76zM66.3 398.8h0.76v0.76h-0.76zM65.2 395.7h0.76v0.76h-0.76zM72.8 377.4h0.76v0.76h-0.76zM60.2 386.8h0.76v0.76h-0.76zM73.7 402.7h0.76v0.76h-0.76zM66.9 402.7h0.76v0.76h-0.76zM79.8 393.3h0.76v0.76h-0.76zM68.0 390.3h0.76v0.76h-0.76zM57.6 386.6h0.76v0.76h-0.76zM74.9 381.5h0.76v0.76h-0.76zM79.4 390.3h0.76v0.76h-0.76zM70.8 399.0h0.76v0.76h-0.76zM72.3 379.9h0.76v0.76h-0.76zM70.4 403.1h0.76v0.76h-0.76zM76.9 384.9h0.76v0.76h-0.76zM65.6 378.4h0.76v0.76h-0.76zM60.8 380.7h0.76v0.76h-0.76zM62.5 378.4h0.76v0.76h-0.76zM57.1 397.9h0.76v0.76h-0.76zM70.1 389.6h0.76v0.76h-0.76zM81.4 386.6h0.76v0.76h-0.76zM83.4 381.2h0.76v0.76h-0.76zM74.9 394.9h0.76v0.76h-0.76zM76.4 386.6h0.76v0.76h-0.76zM53.7 385.0h0.76v0.76h-0.76zM57.7 388.4h0.76v0.76h-0.76zM65.4 401.3h0.76v0.76h-0.76zM58.5 391.4h0.76v0.76h-0.76zM80.5 390.1h0.76v0.76h-0.76zM76.0 378.2h0.76v0.76h-0.76zM70.3 403.8h0.76v0.76h-0.76zM67.3 377.9h0.76v0.76h-0.76zM83.8 383.0h0.76v0.76h-0.76zM60.8 396.0h0.76v0.76h-0.76zM67.4 381.3h0.76v0.76h-0.76zM62.4 376.7h0.76v0.76h-0.76zM67.5 397.1h0.76v0.76h-0.76zM75.0 401.8h0.76v0.76h-0.76zM62.9 389.3h0.76v0.76h-0.76zM71.9 390.6h0.76v0.76h-0.76zM54.2 383.8h0.76v0.76h-0.76zM56.9 381.6h0.76v0.76h-0.76zM52.8 387.0h0.76v0.76h-0.76zM78.0 383.6h0.76v0.76h-0.76zM55.1 392.1h0.76v0.76h-0.76zM66.2 391.0h0.76v0.76h-0.76zM54.0 390.9h0.76v0.76h-0.76zM76.2 388.5h0.76v0.76h-0.76zM65.3 380.3h0.76v0.76h-0.76zM77.1 387.8h0.76v0.76h-0.76zM77.6 393.1h0.76v0.76h-0.76zM69.5 378.2h0.76v0.76h-0.76zM68.0 389.8h0.76v0.76h-0.76zM80.9 389.8h0.76v0.76h-0.76zM63.4 400.1h0.76v0.76h-0.76zM79.7 396.2h0.76v0.76h-0.76z"/>
<path fill="#7d8fd0" fill-opacity="0.35" d="M77.6 379.6h0.76v0.76h-0.76zM94.3 355.6h0.76v0.76h-0.76zM83.1 397.0h0.76v0.76h-0.76zM100.5 349.5h0.76v0.76h-0.76zM83.1 378.6h0.76v0.76h-0.76zM73.1 402.1h0.76v0.76h-0.76zM74.8 367.0h0.76v0.76h-0.76zM102.9 379.8h0.76v0.76h-0.76zM59.4 357.8h0.76v0.76h-0.76zM72.6 340.5h0.76v0.76h-0.76zM80.1 386.6h0.76v0.76h-0.76zM67.8 394.0h0.76v0.76h-0.76zM101.8 374.4h0.76v0.76h-0.76zM85.1 344.8h0.76v0.76h-0.76zM42.8 403.1h0.76v0.76h-0.76zM58.3 351.3h0.76v0.76h-0.76zM99.7 387.5h0.76v0.76h-0.76zM47.3 358.6h0.76v0.76h-0.76zM55.4 355.3h0.76v0.76h-0.76zM39.4 372.3h0.76v0.76h-0.76zM59.6 363.5h0.76v0.76h-0.76zM51.6 344.3h0.76v0.76h-0.76zM41.2 395.8h0.76v0.76h-0.76zM89.6 374.7h0.76v0.76h-0.76zM47.4 347.0h0.76v0.76h-0.76zM47.1 358.3h0.76v0.76h-0.76zM42.9 355.5h0.76v0.76h-0.76zM52.7 349.9h0.76v0.76h-0.76zM83.3 367.8h0.76v0.76h-0.76zM71.1 361.1h0.76v0.76h-0.76zM75.5 389.9h0.76v0.76h-0.76zM59.9 341.6h0.76v0.76h-0.76zM71.6 362.5h0.76v0.76h-0.76zM91.8 344.4h0.76v0.76h-0.76zM98.1 337.9h0.76v0.76h-0.76zM75.7 366.8h0.76v0.76h-0.76zM60.3 396.9h0.76v0.76h-0.76zM86.5 347.9h0.76v0.76h-0.76zM72.5 378.2h0.76v0.76h-0.76zM41.3 342.8h0.76v0.76h-0.76z"/>
<rect x="39" y="336.9" width="67.7" height="67.5" fill="none" stroke="#222" stroke-width="1.1"/>
<line x1="37.40" y1="342.70" x2="39.00" y2="342.70" stroke="#333" stroke-width="0.8"/>
<text x="36.50" y="344.70" font-size="7.1" text-anchor="end" font-weight="normal" fill="#333">10<tspan font-size="4.3" dy="-2.4">5</tspan></text>
<line x1="37.40" y1="359.40" x2="39.00" y2="359.40" stroke="#333" stroke-width="0.8"/>
<text x="36.50" y="361.40" font-size="7.1" text-anchor="end" font-weight="normal" fill="#333">10<tspan font-size="4.3" dy="-2.4">4</tspan></text>
<line x1="37.40" y1="377.30" x2="39.00" y2="377.30" stroke="#333" stroke-width="0.8"/>
<text x="36.50" y="379.30" font-size="7.1" text-anchor="end" font-weight="normal" fill="#333">10<tspan font-size="4.3" dy="-2.4">3</tspan></text>
<line x1="37.40" y1="388.30" x2="39.00" y2="388.30" stroke="#333" stroke-width="0.8"/>
<text x="36.50" y="390.30" font-size="7.1" text-anchor="end" font-weight="normal" fill="#333">0</text>
<line x1="37.40" y1="399.20" x2="39.00" y2="399.20" stroke="#333" stroke-width="0.8"/>
<text x="36.50" y="401.20" font-size="7.1" text-anchor="end" font-weight="normal" fill="#333">−10<tspan font-size="4.3" dy="-2.4">3</tspan></text>
<line x1="58.70" y1="404.40" x2="58.70" y2="406.00" stroke="#333" stroke-width="0.8"/>
<text x="58.70" y="411.40" font-size="7.1" text-anchor="middle" font-weight="normal" fill="#333">0</text>
<line x1="82.70" y1="404.40" x2="82.70" y2="406.00" stroke="#333" stroke-width="0.8"/>
<text x="82.70" y="411.40" font-size="7.1" text-anchor="middle" font-weight="normal" fill="#333">10<tspan font-size="4.3" dy="-2.4">4</tspan></text>
<line x1="99.00" y1="404.40" x2="99.00" y2="406.00" stroke="#333" stroke-width="0.8"/>
<text x="99.00" y="411.40" font-size="7.1" text-anchor="middle" font-weight="normal" fill="#333">10<tspan font-size="4.3" dy="-2.4">5</tspan></text>
<line x1="38.00" y1="347.71" x2="39.00" y2="347.71" stroke="#555" stroke-width="0.6"/>
<line x1="38.00" y1="351.05" x2="39.00" y2="351.05" stroke="#555" stroke-width="0.6"/>
<line x1="38.00" y1="353.56" x2="39.00" y2="353.56" stroke="#555" stroke-width="0.6"/>
<line x1="38.00" y1="355.73" x2="39.00" y2="355.73" stroke="#555" stroke-width="0.6"/>
<line x1="38.00" y1="357.73" x2="39.00" y2="357.73" stroke="#555" stroke-width="0.6"/>
<line x1="38.00" y1="364.77" x2="39.00" y2="364.77" stroke="#555" stroke-width="0.6"/>
<line x1="38.00" y1="368.35" x2="39.00" y2="368.35" stroke="#555" stroke-width="0.6"/>
<line x1="38.00" y1="371.04" x2="39.00" y2="371.04" stroke="#555" stroke-width="0.6"/>
<line x1="38.00" y1="373.36" x2="39.00" y2="373.36" stroke="#555" stroke-width="0.6"/>
<line x1="38.00" y1="375.51" x2="39.00" y2="375.51" stroke="#555" stroke-width="0.6"/>
<line x1="65.90" y1="404.40" x2="65.90" y2="405.40" stroke="#555" stroke-width="0.6"/>
<line x1="70.70" y1="404.40" x2="70.70" y2="405.40" stroke="#555" stroke-width="0.6"/>
<line x1="74.30" y1="404.40" x2="74.30" y2="405.40" stroke="#555" stroke-width="0.6"/>
<line x1="77.42" y1="404.40" x2="77.42" y2="405.40" stroke="#555" stroke-width="0.6"/>
<line x1="80.30" y1="404.40" x2="80.30" y2="405.40" stroke="#555" stroke-width="0.6"/>
<line x1="87.59" y1="404.40" x2="87.59" y2="405.40" stroke="#555" stroke-width="0.6"/>
<line x1="90.85" y1="404.40" x2="90.85" y2="405.40" stroke="#555" stroke-width="0.6"/>
<line x1="93.30" y1="404.40" x2="93.30" y2="405.40" stroke="#555" stroke-width="0.6"/>
<line x1="95.41" y1="404.40" x2="95.41" y2="405.40" stroke="#555" stroke-width="0.6"/>
<line x1="97.37" y1="404.40" x2="97.37" y2="405.40" stroke="#555" stroke-width="0.6"/>
<polygon points="40.80,363.30 44.20,359.40 52.90,357.10 62.50,358.50 68.80,361.30 69.60,368.10 65.40,373.80 55.80,378.10 45.20,377.30 41.30,372.90" stroke="#151515" stroke-width="1.3" fill="none" stroke-linejoin="round"/>
<polygon points="49.70,386.00 61.40,376.10 84.60,378.70 81.40,401.90 69.80,404.00 58.20,400.90" stroke="#151515" stroke-width="1.3" fill="none" stroke-linejoin="round"/>
<text x="42.00" y="343.60" font-size="6.2" text-anchor="start" font-weight="normal" fill="#2a2a2a" textLength="12" lengthAdjust="spacingAndGlyphs">CD4+</text>
<text x="44.00" y="348.00" font-size="6.2" text-anchor="start" font-weight="normal" fill="#2a2a2a" textLength="10" lengthAdjust="spacingAndGlyphs">79.6</text>
<text x="92.50" y="398.20" font-size="6.2" text-anchor="start" font-weight="normal" fill="#2a2a2a" textLength="12.5" lengthAdjust="spacingAndGlyphs">CD8+</text>
<text x="93.50" y="402.60" font-size="6.2" text-anchor="start" font-weight="normal" fill="#2a2a2a" textLength="11" lengthAdjust="spacingAndGlyphs">8.92</text>
<text x="0" y="0" font-size="10.5" text-anchor="start" fill="#111" textLength="21" lengthAdjust="spacingAndGlyphs" transform="translate(23.08 407.20) rotate(-90)">CD4</text>
<line x1="19.30" y1="387.00" x2="19.30" y2="347.20" stroke="#111" stroke-width="1.0"/>
<polygon points="17.10,348.20 19.30,342.70 21.50,348.20" stroke="#111" stroke-width="0.5" fill="#111" stroke-linejoin="round"/>
<text x="23.00" y="422.53" font-size="10.5" text-anchor="start" font-weight="normal" fill="#111" textLength="18.2" lengthAdjust="spacingAndGlyphs">CD8</text>
<line x1="43.50" y1="418.75" x2="99.30" y2="418.75" stroke="#111" stroke-width="1.0"/>
<polygon points="98.30,416.55 103.80,418.75 98.30,420.95" stroke="#111" stroke-width="0.5" fill="#111" stroke-linejoin="round"/>
<path fill="#7d8fd0" fill-opacity="0.5" d="M186.2 386.4h0.76v0.76h-0.76zM177.1 365.8h0.76v0.76h-0.76zM181.8 372.5h0.76v0.76h-0.76zM190.3 355.9h0.76v0.76h-0.76zM195.2 353.5h0.76v0.76h-0.76zM198.3 362.5h0.76v0.76h-0.76zM195.5 386.0h0.76v0.76h-0.76zM190.9 367.9h0.76v0.76h-0.76zM183.4 358.4h0.76v0.76h-0.76zM209.9 388.9h0.76v0.76h-0.76zM213.6 385.0h0.76v0.76h-0.76zM196.2 368.0h0.76v0.76h-0.76zM189.3 350.7h0.76v0.76h-0.76zM203.6 395.9h0.76v0.76h-0.76zM209.3 404.4h0.76v0.76h-0.76zM201.1 382.9h0.76v0.76h-0.76zM181.0 362.1h0.76v0.76h-0.76zM197.3 366.2h0.76v0.76h-0.76zM201.9 398.0h0.76v0.76h-0.76zM178.5 391.8h0.76v0.76h-0.76zM181.0 378.7h0.76v0.76h-0.76zM197.9 379.2h0.76v0.76h-0.76zM174.8 385.1h0.76v0.76h-0.76zM175.8 390.6h0.76v0.76h-0.76zM186.6 365.6h0.76v0.76h-0.76zM194.6 382.8h0.76v0.76h-0.76zM213.2 386.3h0.76v0.76h-0.76zM204.9 357.9h0.76v0.76h-0.76zM204.5 393.8h0.76v0.76h-0.76zM208.0 403.6h0.76v0.76h-0.76zM181.8 354.6h0.76v0.76h-0.76zM183.1 366.8h0.76v0.76h-0.76zM208.3 342.6h0.76v0.76h-0.76zM192.6 396.2h0.76v0.76h-0.76zM190.3 352.5h0.76v0.76h-0.76zM181.8 387.9h0.76v0.76h-0.76zM200.7 375.2h0.76v0.76h-0.76zM196.0 403.1h0.76v0.76h-0.76zM175.3 402.2h0.76v0.76h-0.76zM192.1 350.4h0.76v0.76h-0.76zM193.5 387.9h0.76v0.76h-0.76zM198.8 380.1h0.76v0.76h-0.76zM190.0 372.6h0.76v0.76h-0.76zM193.1 399.9h0.76v0.76h-0.76zM197.5 390.6h0.76v0.76h-0.76zM194.2 403.3h0.76v0.76h-0.76zM177.9 362.4h0.76v0.76h-0.76zM179.8 371.5h0.76v0.76h-0.76zM214.9 371.4h0.76v0.76h-0.76zM193.2 374.2h0.76v0.76h-0.76zM183.5 362.4h0.76v0.76h-0.76zM188.0 369.4h0.76v0.76h-0.76zM189.3 348.5h0.76v0.76h-0.76zM203.8 386.8h0.76v0.76h-0.76zM183.5 369.1h0.76v0.76h-0.76zM181.7 343.1h0.76v0.76h-0.76zM199.8 369.9h0.76v0.76h-0.76zM204.5 405.2h0.76v0.76h-0.76zM176.2 357.3h0.76v0.76h-0.76zM198.1 367.9h0.76v0.76h-0.76zM184.0 370.5h0.76v0.76h-0.76zM197.0 353.1h0.76v0.76h-0.76zM192.9 398.0h0.76v0.76h-0.76zM185.3 371.1h0.76v0.76h-0.76zM197.1 395.6h0.76v0.76h-0.76zM203.6 386.7h0.76v0.76h-0.76zM211.1 366.3h0.76v0.76h-0.76zM211.4 388.6h0.76v0.76h-0.76zM188.4 351.9h0.76v0.76h-0.76zM210.3 382.8h0.76v0.76h-0.76zM187.4 392.6h0.76v0.76h-0.76zM185.8 377.2h0.76v0.76h-0.76zM184.4 360.7h0.76v0.76h-0.76zM212.2 383.4h0.76v0.76h-0.76zM191.7 381.7h0.76v0.76h-0.76zM193.8 350.7h0.76v0.76h-0.76zM186.7 385.2h0.76v0.76h-0.76zM177.6 374.2h0.76v0.76h-0.76zM187.3 359.7h0.76v0.76h-0.76zM176.0 366.8h0.76v0.76h-0.76zM194.6 388.0h0.76v0.76h-0.76zM173.7 380.8h0.76v0.76h-0.76zM199.0 346.5h0.76v0.76h-0.76zM175.9 388.1h0.76v0.76h-0.76zM200.6 388.4h0.76v0.76h-0.76zM211.1 391.2h0.76v0.76h-0.76zM208.4 378.0h0.76v0.76h-0.76zM192.2 361.6h0.76v0.76h-0.76zM193.3 371.1h0.76v0.76h-0.76zM185.0 389.5h0.76v0.76h-0.76zM196.4 370.1h0.76v0.76h-0.76zM194.6 384.2h0.76v0.76h-0.76zM197.3 365.6h0.76v0.76h-0.76zM199.8 369.6h0.76v0.76h-0.76zM195.8 368.4h0.76v0.76h-0.76zM204.2 360.0h0.76v0.76h-0.76zM211.4 355.2h0.76v0.76h-0.76zM200.6 374.9h0.76v0.76h-0.76zM203.2 354.1h0.76v0.76h-0.76zM188.2 386.5h0.76v0.76h-0.76zM202.0 366.7h0.76v0.76h-0.76zM183.7 379.3h0.76v0.76h-0.76zM186.7 358.7h0.76v0.76h-0.76zM189.6 403.8h0.76v0.76h-0.76zM198.8 370.8h0.76v0.76h-0.76zM199.1 351.7h0.76v0.76h-0.76zM184.9 376.4h0.76v0.76h-0.76zM187.4 366.1h0.76v0.76h-0.76zM191.4 385.4h0.76v0.76h-0.76zM188.2 394.3h0.76v0.76h-0.76zM174.3 370.2h0.76v0.76h-0.76zM207.8 379.9h0.76v0.76h-0.76zM176.7 385.6h0.76v0.76h-0.76zM199.2 380.7h0.76v0.76h-0.76zM189.0 393.6h0.76v0.76h-0.76zM197.3 393.7h0.76v0.76h-0.76zM204.1 389.6h0.76v0.76h-0.76zM213.1 370.3h0.76v0.76h-0.76zM189.9 354.1h0.76v0.76h-0.76zM187.6 379.9h0.76v0.76h-0.76zM210.3 355.5h0.76v0.76h-0.76zM197.7 353.5h0.76v0.76h-0.76zM210.6 372.9h0.76v0.76h-0.76zM181.0 370.3h0.76v0.76h-0.76zM184.1 383.7h0.76v0.76h-0.76zM206.9 383.0h0.76v0.76h-0.76zM188.5 373.1h0.76v0.76h-0.76zM213.0 360.9h0.76v0.76h-0.76zM201.0 362.1h0.76v0.76h-0.76zM182.7 390.7h0.76v0.76h-0.76zM212.6 360.3h0.76v0.76h-0.76zM178.9 375.5h0.76v0.76h-0.76zM188.5 365.0h0.76v0.76h-0.76zM190.9 391.4h0.76v0.76h-0.76zM187.3 378.4h0.76v0.76h-0.76zM185.6 376.5h0.76v0.76h-0.76zM194.2 371.8h0.76v0.76h-0.76zM194.8 365.3h0.76v0.76h-0.76zM196.7 348.3h0.76v0.76h-0.76zM198.5 375.1h0.76v0.76h-0.76zM198.2 377.1h0.76v0.76h-0.76zM191.2 379.7h0.76v0.76h-0.76zM187.5 378.3h0.76v0.76h-0.76zM195.1 353.9h0.76v0.76h-0.76zM197.6 389.4h0.76v0.76h-0.76zM209.3 368.9h0.76v0.76h-0.76zM196.7 395.3h0.76v0.76h-0.76zM183.9 374.6h0.76v0.76h-0.76zM192.9 385.0h0.76v0.76h-0.76zM180.6 377.0h0.76v0.76h-0.76zM184.6 393.7h0.76v0.76h-0.76zM185.8 391.8h0.76v0.76h-0.76zM192.5 368.4h0.76v0.76h-0.76zM201.9 388.4h0.76v0.76h-0.76zM188.9 396.7h0.76v0.76h-0.76zM208.9 346.3h0.76v0.76h-0.76zM202.1 343.0h0.76v0.76h-0.76zM193.2 393.6h0.76v0.76h-0.76zM198.9 387.1h0.76v0.76h-0.76zM191.5 390.6h0.76v0.76h-0.76zM174.0 373.2h0.76v0.76h-0.76zM184.9 358.0h0.76v0.76h-0.76zM205.1 367.6h0.76v0.76h-0.76zM184.1 377.7h0.76v0.76h-0.76zM201.5 388.5h0.76v0.76h-0.76zM187.2 383.0h0.76v0.76h-0.76zM194.0 377.1h0.76v0.76h-0.76zM184.3 382.6h0.76v0.76h-0.76zM174.4 395.6h0.76v0.76h-0.76zM202.8 374.1h0.76v0.76h-0.76zM186.5 343.1h0.76v0.76h-0.76zM189.2 394.5h0.76v0.76h-0.76zM172.9 391.2h0.76v0.76h-0.76zM198.6 401.6h0.76v0.76h-0.76zM190.0 374.7h0.76v0.76h-0.76zM188.9 381.4h0.76v0.76h-0.76zM178.5 382.0h0.76v0.76h-0.76zM180.7 381.4h0.76v0.76h-0.76zM207.2 368.4h0.76v0.76h-0.76zM180.8 384.4h0.76v0.76h-0.76zM193.0 365.6h0.76v0.76h-0.76zM173.5 381.2h0.76v0.76h-0.76zM197.2 383.2h0.76v0.76h-0.76zM207.5 385.9h0.76v0.76h-0.76zM197.0 354.2h0.76v0.76h-0.76zM190.0 375.0h0.76v0.76h-0.76zM184.0 392.3h0.76v0.76h-0.76zM187.7 389.0h0.76v0.76h-0.76zM186.5 386.8h0.76v0.76h-0.76zM205.0 387.4h0.76v0.76h-0.76zM203.6 380.8h0.76v0.76h-0.76zM175.7 396.0h0.76v0.76h-0.76zM188.7 359.9h0.76v0.76h-0.76zM209.3 379.0h0.76v0.76h-0.76zM189.4 354.1h0.76v0.76h-0.76zM204.8 376.8h0.76v0.76h-0.76zM181.2 390.8h0.76v0.76h-0.76zM204.2 392.6h0.76v0.76h-0.76zM203.1 396.7h0.76v0.76h-0.76zM179.2 361.3h0.76v0.76h-0.76zM198.9 402.6h0.76v0.76h-0.76zM192.6 368.1h0.76v0.76h-0.76zM193.0 367.5h0.76v0.76h-0.76zM194.8 377.4h0.76v0.76h-0.76zM203.1 379.8h0.76v0.76h-0.76zM199.7 372.4h0.76v0.76h-0.76zM199.0 366.5h0.76v0.76h-0.76zM194.4 370.0h0.76v0.76h-0.76zM203.1 371.3h0.76v0.76h-0.76zM193.1 396.4h0.76v0.76h-0.76zM195.0 378.0h0.76v0.76h-0.76zM177.4 381.6h0.76v0.76h-0.76zM205.3 377.6h0.76v0.76h-0.76zM187.6 389.4h0.76v0.76h-0.76zM189.3 365.3h0.76v0.76h-0.76zM192.7 352.0h0.76v0.76h-0.76zM184.3 363.7h0.76v0.76h-0.76zM209.2 349.8h0.76v0.76h-0.76zM192.4 367.1h0.76v0.76h-0.76zM177.0 385.9h0.76v0.76h-0.76zM204.5 372.0h0.76v0.76h-0.76zM187.9 378.7h0.76v0.76h-0.76zM200.0 383.3h0.76v0.76h-0.76zM188.6 367.4h0.76v0.76h-0.76zM192.5 353.6h0.76v0.76h-0.76zM188.9 398.1h0.76v0.76h-0.76zM193.4 374.3h0.76v0.76h-0.76zM179.1 357.7h0.76v0.76h-0.76zM201.7 374.8h0.76v0.76h-0.76zM179.0 354.6h0.76v0.76h-0.76zM185.8 405.8h0.76v0.76h-0.76zM187.5 382.2h0.76v0.76h-0.76zM175.5 375.3h0.76v0.76h-0.76zM207.8 363.3h0.76v0.76h-0.76zM200.9 359.1h0.76v0.76h-0.76zM191.8 380.4h0.76v0.76h-0.76zM190.5 376.6h0.76v0.76h-0.76zM191.1 403.9h0.76v0.76h-0.76zM191.1 363.0h0.76v0.76h-0.76zM173.6 356.9h0.76v0.76h-0.76zM190.4 362.8h0.76v0.76h-0.76zM208.4 377.1h0.76v0.76h-0.76zM196.7 343.9h0.76v0.76h-0.76zM202.2 352.0h0.76v0.76h-0.76zM177.7 396.1h0.76v0.76h-0.76zM193.9 346.5h0.76v0.76h-0.76zM173.0 374.8h0.76v0.76h-0.76zM184.8 369.4h0.76v0.76h-0.76zM189.8 348.3h0.76v0.76h-0.76zM175.0 373.4h0.76v0.76h-0.76zM184.5 364.8h0.76v0.76h-0.76zM206.1 378.3h0.76v0.76h-0.76zM186.9 357.9h0.76v0.76h-0.76zM180.8 390.5h0.76v0.76h-0.76zM204.5 392.9h0.76v0.76h-0.76zM197.4 381.6h0.76v0.76h-0.76zM205.0 365.0h0.76v0.76h-0.76zM199.0 373.5h0.76v0.76h-0.76zM185.5 361.6h0.76v0.76h-0.76zM203.3 392.0h0.76v0.76h-0.76zM198.9 386.8h0.76v0.76h-0.76zM197.2 388.0h0.76v0.76h-0.76zM202.2 366.0h0.76v0.76h-0.76zM186.2 375.1h0.76v0.76h-0.76zM195.0 384.6h0.76v0.76h-0.76zM187.6 356.7h0.76v0.76h-0.76zM191.2 355.4h0.76v0.76h-0.76zM191.9 395.1h0.76v0.76h-0.76zM185.9 347.3h0.76v0.76h-0.76zM176.6 341.6h0.76v0.76h-0.76zM192.0 377.6h0.76v0.76h-0.76zM194.7 380.3h0.76v0.76h-0.76zM197.9 370.8h0.76v0.76h-0.76zM177.8 383.2h0.76v0.76h-0.76zM193.4 391.5h0.76v0.76h-0.76zM197.2 370.8h0.76v0.76h-0.76zM198.1 361.3h0.76v0.76h-0.76zM187.9 362.3h0.76v0.76h-0.76zM184.5 354.1h0.76v0.76h-0.76zM183.8 384.7h0.76v0.76h-0.76zM175.6 390.0h0.76v0.76h-0.76zM199.5 378.8h0.76v0.76h-0.76zM181.9 399.2h0.76v0.76h-0.76zM184.2 377.3h0.76v0.76h-0.76zM202.4 362.6h0.76v0.76h-0.76zM200.3 367.4h0.76v0.76h-0.76zM205.8 371.1h0.76v0.76h-0.76zM188.4 386.1h0.76v0.76h-0.76zM194.1 368.0h0.76v0.76h-0.76zM200.8 350.0h0.76v0.76h-0.76zM204.0 398.3h0.76v0.76h-0.76zM190.5 370.8h0.76v0.76h-0.76zM185.1 395.9h0.76v0.76h-0.76zM185.1 384.7h0.76v0.76h-0.76zM200.6 399.3h0.76v0.76h-0.76zM197.6 376.2h0.76v0.76h-0.76zM205.6 380.9h0.76v0.76h-0.76zM191.4 381.5h0.76v0.76h-0.76zM187.8 394.2h0.76v0.76h-0.76zM181.7 385.2h0.76v0.76h-0.76z"/>
<path fill="#4a66c8" fill-opacity="0.55" d="M191.3 375.4h0.76v0.76h-0.76zM191.7 388.5h0.76v0.76h-0.76zM191.5 355.5h0.76v0.76h-0.76zM197.0 374.0h0.76v0.76h-0.76zM190.4 379.7h0.76v0.76h-0.76zM195.8 395.5h0.76v0.76h-0.76zM200.9 379.7h0.76v0.76h-0.76zM184.1 362.8h0.76v0.76h-0.76zM196.0 397.7h0.76v0.76h-0.76zM193.5 376.4h0.76v0.76h-0.76zM199.4 356.2h0.76v0.76h-0.76zM189.3 385.4h0.76v0.76h-0.76zM203.5 374.4h0.76v0.76h-0.76zM197.5 381.7h0.76v0.76h-0.76zM202.4 361.3h0.76v0.76h-0.76zM199.8 355.3h0.76v0.76h-0.76zM182.0 391.1h0.76v0.76h-0.76zM201.0 359.7h0.76v0.76h-0.76zM203.2 363.0h0.76v0.76h-0.76zM192.0 373.6h0.76v0.76h-0.76zM194.4 390.3h0.76v0.76h-0.76zM200.7 383.2h0.76v0.76h-0.76zM200.8 385.2h0.76v0.76h-0.76zM185.5 367.2h0.76v0.76h-0.76zM187.4 385.5h0.76v0.76h-0.76zM183.2 361.5h0.76v0.76h-0.76zM202.2 399.3h0.76v0.76h-0.76zM199.1 390.5h0.76v0.76h-0.76zM210.1 376.6h0.76v0.76h-0.76zM175.9 370.0h0.76v0.76h-0.76zM204.4 356.3h0.76v0.76h-0.76zM193.4 381.8h0.76v0.76h-0.76zM189.2 388.9h0.76v0.76h-0.76zM200.4 368.9h0.76v0.76h-0.76zM186.3 365.5h0.76v0.76h-0.76zM204.4 369.5h0.76v0.76h-0.76zM192.2 389.2h0.76v0.76h-0.76zM184.3 373.6h0.76v0.76h-0.76zM186.2 384.2h0.76v0.76h-0.76zM207.3 377.7h0.76v0.76h-0.76zM196.1 380.5h0.76v0.76h-0.76zM206.0 391.4h0.76v0.76h-0.76zM196.3 362.8h0.76v0.76h-0.76zM203.8 383.7h0.76v0.76h-0.76zM207.7 377.6h0.76v0.76h-0.76zM216.4 372.6h0.76v0.76h-0.76zM212.1 379.7h0.76v0.76h-0.76zM186.8 361.1h0.76v0.76h-0.76zM191.2 399.3h0.76v0.76h-0.76zM202.8 388.3h0.76v0.76h-0.76zM199.7 369.8h0.76v0.76h-0.76zM185.5 378.0h0.76v0.76h-0.76zM213.7 362.2h0.76v0.76h-0.76zM187.9 398.4h0.76v0.76h-0.76zM187.6 372.5h0.76v0.76h-0.76zM194.2 359.4h0.76v0.76h-0.76zM195.6 359.9h0.76v0.76h-0.76zM203.6 378.0h0.76v0.76h-0.76zM220.4 382.2h0.76v0.76h-0.76zM209.4 358.5h0.76v0.76h-0.76zM191.5 382.8h0.76v0.76h-0.76zM213.9 352.8h0.76v0.76h-0.76zM204.9 386.9h0.76v0.76h-0.76zM211.4 388.7h0.76v0.76h-0.76zM193.6 370.2h0.76v0.76h-0.76zM178.0 380.9h0.76v0.76h-0.76zM185.7 382.8h0.76v0.76h-0.76zM174.2 372.1h0.76v0.76h-0.76zM196.1 390.4h0.76v0.76h-0.76zM210.4 377.3h0.76v0.76h-0.76zM179.6 384.9h0.76v0.76h-0.76zM199.2 385.4h0.76v0.76h-0.76zM184.6 395.0h0.76v0.76h-0.76zM194.1 388.5h0.76v0.76h-0.76zM208.3 387.1h0.76v0.76h-0.76zM195.9 373.6h0.76v0.76h-0.76zM194.3 400.2h0.76v0.76h-0.76zM194.4 385.8h0.76v0.76h-0.76zM207.3 370.3h0.76v0.76h-0.76zM195.8 368.9h0.76v0.76h-0.76zM203.5 387.1h0.76v0.76h-0.76zM181.1 385.8h0.76v0.76h-0.76zM190.6 355.8h0.76v0.76h-0.76zM198.4 377.3h0.76v0.76h-0.76zM184.1 385.8h0.76v0.76h-0.76zM198.9 369.3h0.76v0.76h-0.76zM197.8 393.2h0.76v0.76h-0.76zM184.4 383.7h0.76v0.76h-0.76zM189.3 376.5h0.76v0.76h-0.76zM215.8 377.9h0.76v0.76h-0.76zM219.9 371.4h0.76v0.76h-0.76zM197.2 370.6h0.76v0.76h-0.76zM184.7 378.9h0.76v0.76h-0.76zM189.6 381.0h0.76v0.76h-0.76zM191.0 404.1h0.76v0.76h-0.76zM180.9 382.4h0.76v0.76h-0.76zM231.0 365.0h0.76v0.76h-0.76zM175.1 369.8h0.76v0.76h-0.76zM198.7 388.4h0.76v0.76h-0.76zM208.5 374.1h0.76v0.76h-0.76zM173.8 371.5h0.76v0.76h-0.76zM207.9 385.0h0.76v0.76h-0.76zM199.7 382.6h0.76v0.76h-0.76zM178.1 365.4h0.76v0.76h-0.76zM193.6 385.5h0.76v0.76h-0.76zM200.0 370.8h0.76v0.76h-0.76zM179.2 366.3h0.76v0.76h-0.76zM179.1 387.7h0.76v0.76h-0.76zM198.4 400.8h0.76v0.76h-0.76zM193.9 393.0h0.76v0.76h-0.76zM188.2 366.8h0.76v0.76h-0.76zM184.9 400.9h0.76v0.76h-0.76zM204.9 385.3h0.76v0.76h-0.76zM233.0 377.5h0.76v0.76h-0.76zM200.4 382.6h0.76v0.76h-0.76zM211.1 357.0h0.76v0.76h-0.76zM188.2 384.4h0.76v0.76h-0.76zM202.4 357.8h0.76v0.76h-0.76zM192.1 376.5h0.76v0.76h-0.76zM197.1 366.5h0.76v0.76h-0.76zM178.3 347.7h0.76v0.76h-0.76zM197.0 383.6h0.76v0.76h-0.76zM204.9 389.9h0.76v0.76h-0.76zM190.7 398.2h0.76v0.76h-0.76zM191.4 368.1h0.76v0.76h-0.76zM186.8 369.2h0.76v0.76h-0.76zM196.0 372.6h0.76v0.76h-0.76zM184.4 383.6h0.76v0.76h-0.76zM213.6 378.6h0.76v0.76h-0.76zM186.9 369.1h0.76v0.76h-0.76zM192.2 359.0h0.76v0.76h-0.76zM191.5 378.9h0.76v0.76h-0.76zM215.1 392.2h0.76v0.76h-0.76zM205.4 367.3h0.76v0.76h-0.76zM201.0 360.9h0.76v0.76h-0.76zM196.7 384.3h0.76v0.76h-0.76zM199.8 349.5h0.76v0.76h-0.76zM199.6 371.9h0.76v0.76h-0.76zM193.0 385.0h0.76v0.76h-0.76zM197.7 347.4h0.76v0.76h-0.76zM179.1 389.6h0.76v0.76h-0.76zM214.6 347.2h0.76v0.76h-0.76zM202.2 349.3h0.76v0.76h-0.76zM212.4 381.8h0.76v0.76h-0.76zM200.7 349.6h0.76v0.76h-0.76zM196.5 367.0h0.76v0.76h-0.76zM194.3 371.0h0.76v0.76h-0.76zM209.5 356.7h0.76v0.76h-0.76zM196.8 405.2h0.76v0.76h-0.76zM183.1 381.2h0.76v0.76h-0.76zM195.4 367.7h0.76v0.76h-0.76zM200.8 379.5h0.76v0.76h-0.76zM181.7 404.4h0.76v0.76h-0.76zM202.5 375.5h0.76v0.76h-0.76zM185.4 366.2h0.76v0.76h-0.76zM207.8 375.8h0.76v0.76h-0.76zM198.5 375.2h0.76v0.76h-0.76zM200.4 376.3h0.76v0.76h-0.76zM202.2 375.3h0.76v0.76h-0.76zM203.0 388.1h0.76v0.76h-0.76zM191.6 365.1h0.76v0.76h-0.76zM181.7 366.9h0.76v0.76h-0.76zM181.2 391.0h0.76v0.76h-0.76zM192.4 401.6h0.76v0.76h-0.76zM220.4 378.4h0.76v0.76h-0.76zM174.4 372.3h0.76v0.76h-0.76zM192.1 355.7h0.76v0.76h-0.76zM190.0 382.3h0.76v0.76h-0.76zM187.5 366.5h0.76v0.76h-0.76zM183.9 404.8h0.76v0.76h-0.76zM191.1 365.6h0.76v0.76h-0.76zM188.5 392.3h0.76v0.76h-0.76zM184.8 385.2h0.76v0.76h-0.76zM201.7 389.2h0.76v0.76h-0.76zM209.8 369.7h0.76v0.76h-0.76zM206.6 366.1h0.76v0.76h-0.76zM188.2 395.9h0.76v0.76h-0.76zM202.9 378.0h0.76v0.76h-0.76zM178.7 386.4h0.76v0.76h-0.76zM185.4 364.1h0.76v0.76h-0.76zM185.2 381.7h0.76v0.76h-0.76zM195.1 369.2h0.76v0.76h-0.76zM205.4 387.2h0.76v0.76h-0.76zM185.7 367.9h0.76v0.76h-0.76zM201.3 355.3h0.76v0.76h-0.76zM189.0 368.5h0.76v0.76h-0.76zM193.8 381.2h0.76v0.76h-0.76zM193.4 395.0h0.76v0.76h-0.76zM195.7 373.3h0.76v0.76h-0.76zM178.5 388.8h0.76v0.76h-0.76zM199.3 399.8h0.76v0.76h-0.76zM184.0 378.4h0.76v0.76h-0.76zM192.3 376.7h0.76v0.76h-0.76zM193.1 352.3h0.76v0.76h-0.76zM202.9 387.8h0.76v0.76h-0.76zM189.2 377.5h0.76v0.76h-0.76zM175.4 339.3h0.76v0.76h-0.76zM205.8 365.0h0.76v0.76h-0.76zM190.3 360.5h0.76v0.76h-0.76zM200.3 361.5h0.76v0.76h-0.76zM208.8 363.1h0.76v0.76h-0.76zM183.8 379.8h0.76v0.76h-0.76zM193.3 399.4h0.76v0.76h-0.76zM194.4 359.9h0.76v0.76h-0.76zM186.3 369.4h0.76v0.76h-0.76zM201.7 383.8h0.76v0.76h-0.76zM191.6 391.0h0.76v0.76h-0.76zM186.7 376.0h0.76v0.76h-0.76zM195.2 400.9h0.76v0.76h-0.76zM191.8 372.7h0.76v0.76h-0.76zM180.4 388.3h0.76v0.76h-0.76zM185.9 383.2h0.76v0.76h-0.76zM177.0 366.3h0.76v0.76h-0.76zM205.7 358.0h0.76v0.76h-0.76zM192.0 379.1h0.76v0.76h-0.76zM181.0 398.1h0.76v0.76h-0.76zM211.0 348.4h0.76v0.76h-0.76zM175.6 390.1h0.76v0.76h-0.76zM177.4 372.2h0.76v0.76h-0.76zM194.6 388.4h0.76v0.76h-0.76zM190.3 379.4h0.76v0.76h-0.76zM183.7 397.4h0.76v0.76h-0.76zM187.1 383.1h0.76v0.76h-0.76zM186.9 379.6h0.76v0.76h-0.76zM191.0 375.6h0.76v0.76h-0.76zM180.8 389.9h0.76v0.76h-0.76zM210.0 381.6h0.76v0.76h-0.76zM201.8 390.6h0.76v0.76h-0.76zM204.1 382.6h0.76v0.76h-0.76zM195.5 391.0h0.76v0.76h-0.76zM193.8 363.4h0.76v0.76h-0.76zM193.3 349.7h0.76v0.76h-0.76zM192.9 384.2h0.76v0.76h-0.76zM207.8 380.3h0.76v0.76h-0.76zM204.1 378.0h0.76v0.76h-0.76zM180.7 356.8h0.76v0.76h-0.76zM181.4 357.5h0.76v0.76h-0.76zM200.6 374.9h0.76v0.76h-0.76zM199.8 379.1h0.76v0.76h-0.76zM205.5 393.9h0.76v0.76h-0.76zM185.3 373.9h0.76v0.76h-0.76zM186.6 353.7h0.76v0.76h-0.76zM201.1 395.8h0.76v0.76h-0.76zM192.9 370.6h0.76v0.76h-0.76zM206.1 342.8h0.76v0.76h-0.76zM195.1 380.1h0.76v0.76h-0.76zM186.1 398.9h0.76v0.76h-0.76zM204.6 374.1h0.76v0.76h-0.76zM192.0 372.2h0.76v0.76h-0.76zM186.9 358.4h0.76v0.76h-0.76zM209.6 393.4h0.76v0.76h-0.76zM202.6 361.6h0.76v0.76h-0.76zM195.3 364.4h0.76v0.76h-0.76zM182.6 384.3h0.76v0.76h-0.76zM182.0 377.5h0.76v0.76h-0.76zM206.1 355.4h0.76v0.76h-0.76zM217.1 401.5h0.76v0.76h-0.76zM178.2 356.8h0.76v0.76h-0.76zM189.6 362.5h0.76v0.76h-0.76zM189.8 339.3h0.76v0.76h-0.76zM190.3 405.0h0.76v0.76h-0.76zM179.6 373.9h0.76v0.76h-0.76zM175.1 387.6h0.76v0.76h-0.76zM195.5 372.4h0.76v0.76h-0.76zM199.6 370.4h0.76v0.76h-0.76zM176.9 382.5h0.76v0.76h-0.76zM190.9 380.5h0.76v0.76h-0.76zM197.5 370.3h0.76v0.76h-0.76zM198.1 404.1h0.76v0.76h-0.76zM179.7 404.1h0.76v0.76h-0.76zM190.1 366.5h0.76v0.76h-0.76zM222.1 380.3h0.76v0.76h-0.76zM209.4 390.3h0.76v0.76h-0.76zM172.8 379.8h0.76v0.76h-0.76zM186.7 357.9h0.76v0.76h-0.76zM200.1 383.9h0.76v0.76h-0.76zM189.3 366.0h0.76v0.76h-0.76zM181.2 369.7h0.76v0.76h-0.76zM180.6 375.0h0.76v0.76h-0.76zM192.7 364.6h0.76v0.76h-0.76zM190.2 366.6h0.76v0.76h-0.76zM192.9 385.6h0.76v0.76h-0.76zM195.1 385.1h0.76v0.76h-0.76zM173.2 372.3h0.76v0.76h-0.76zM196.3 387.6h0.76v0.76h-0.76zM173.8 380.4h0.76v0.76h-0.76zM207.5 375.3h0.76v0.76h-0.76zM191.9 384.8h0.76v0.76h-0.76zM196.0 388.1h0.76v0.76h-0.76zM193.9 380.3h0.76v0.76h-0.76zM183.6 375.4h0.76v0.76h-0.76zM208.0 374.9h0.76v0.76h-0.76zM191.0 370.6h0.76v0.76h-0.76zM202.4 365.2h0.76v0.76h-0.76zM203.9 363.9h0.76v0.76h-0.76zM180.3 381.1h0.76v0.76h-0.76zM194.6 382.5h0.76v0.76h-0.76zM205.8 371.8h0.76v0.76h-0.76zM198.3 364.4h0.76v0.76h-0.76zM208.1 387.5h0.76v0.76h-0.76zM199.4 380.8h0.76v0.76h-0.76zM183.6 373.1h0.76v0.76h-0.76zM199.0 377.7h0.76v0.76h-0.76zM194.5 357.6h0.76v0.76h-0.76zM195.2 367.6h0.76v0.76h-0.76zM180.0 375.7h0.76v0.76h-0.76zM203.2 377.2h0.76v0.76h-0.76zM181.1 363.8h0.76v0.76h-0.76zM191.2 341.6h0.76v0.76h-0.76zM195.2 388.0h0.76v0.76h-0.76zM189.3 370.6h0.76v0.76h-0.76zM195.2 383.3h0.76v0.76h-0.76zM206.1 378.3h0.76v0.76h-0.76zM184.7 371.1h0.76v0.76h-0.76zM195.2 401.3h0.76v0.76h-0.76zM189.2 362.2h0.76v0.76h-0.76zM182.6 346.6h0.76v0.76h-0.76zM197.0 357.6h0.76v0.76h-0.76zM178.2 348.4h0.76v0.76h-0.76zM179.6 386.5h0.76v0.76h-0.76zM177.3 351.8h0.76v0.76h-0.76zM195.1 372.9h0.76v0.76h-0.76zM198.2 389.1h0.76v0.76h-0.76zM192.9 358.5h0.76v0.76h-0.76zM191.5 385.5h0.76v0.76h-0.76zM186.0 356.4h0.76v0.76h-0.76zM206.2 371.8h0.76v0.76h-0.76zM188.1 378.2h0.76v0.76h-0.76zM205.4 382.0h0.76v0.76h-0.76zM189.0 388.2h0.76v0.76h-0.76zM218.8 398.8h0.76v0.76h-0.76zM201.1 361.2h0.76v0.76h-0.76zM238.0 360.0h0.76v0.76h-0.76zM188.5 367.5h0.76v0.76h-0.76zM212.5 384.3h0.76v0.76h-0.76zM175.9 382.0h0.76v0.76h-0.76zM199.6 373.2h0.76v0.76h-0.76zM178.4 367.1h0.76v0.76h-0.76zM187.8 378.3h0.76v0.76h-0.76zM186.8 389.0h0.76v0.76h-0.76zM181.6 352.0h0.76v0.76h-0.76zM184.1 398.2h0.76v0.76h-0.76zM198.9 360.5h0.76v0.76h-0.76zM183.0 381.7h0.76v0.76h-0.76zM181.1 388.2h0.76v0.76h-0.76zM210.5 376.4h0.76v0.76h-0.76zM181.0 373.9h0.76v0.76h-0.76zM197.3 391.1h0.76v0.76h-0.76zM193.7 357.0h0.76v0.76h-0.76zM193.5 367.9h0.76v0.76h-0.76zM175.8 386.8h0.76v0.76h-0.76zM216.3 405.9h0.76v0.76h-0.76zM186.1 371.0h0.76v0.76h-0.76zM201.3 393.9h0.76v0.76h-0.76zM188.0 375.9h0.76v0.76h-0.76zM219.5 376.4h0.76v0.76h-0.76zM187.2 379.8h0.76v0.76h-0.76zM200.0 362.7h0.76v0.76h-0.76zM190.0 360.5h0.76v0.76h-0.76zM189.7 406.2h0.76v0.76h-0.76zM201.9 376.6h0.76v0.76h-0.76zM181.8 373.3h0.76v0.76h-0.76zM205.6 369.6h0.76v0.76h-0.76zM210.4 357.4h0.76v0.76h-0.76zM189.5 404.1h0.76v0.76h-0.76zM190.9 390.4h0.76v0.76h-0.76zM186.2 378.6h0.76v0.76h-0.76zM182.3 374.7h0.76v0.76h-0.76zM178.8 372.0h0.76v0.76h-0.76zM182.8 381.7h0.76v0.76h-0.76zM200.0 399.5h0.76v0.76h-0.76zM185.1 373.2h0.76v0.76h-0.76zM193.6 373.6h0.76v0.76h-0.76zM192.4 354.6h0.76v0.76h-0.76zM197.5 364.3h0.76v0.76h-0.76zM181.5 354.2h0.76v0.76h-0.76zM206.9 375.9h0.76v0.76h-0.76zM206.8 382.1h0.76v0.76h-0.76zM172.6 361.7h0.76v0.76h-0.76zM202.1 366.5h0.76v0.76h-0.76zM179.9 375.3h0.76v0.76h-0.76zM190.9 362.8h0.76v0.76h-0.76zM189.1 370.8h0.76v0.76h-0.76zM183.3 397.6h0.76v0.76h-0.76zM179.2 354.3h0.76v0.76h-0.76zM207.3 354.2h0.76v0.76h-0.76zM185.4 387.0h0.76v0.76h-0.76zM189.0 353.2h0.76v0.76h-0.76zM195.3 375.1h0.76v0.76h-0.76zM208.4 386.8h0.76v0.76h-0.76zM229.4 353.3h0.76v0.76h-0.76zM192.7 362.0h0.76v0.76h-0.76zM206.9 390.3h0.76v0.76h-0.76zM202.0 366.3h0.76v0.76h-0.76zM184.1 347.6h0.76v0.76h-0.76zM213.5 385.6h0.76v0.76h-0.76zM189.9 392.0h0.76v0.76h-0.76zM202.0 392.6h0.76v0.76h-0.76zM173.5 367.3h0.76v0.76h-0.76zM195.3 383.3h0.76v0.76h-0.76zM204.5 362.9h0.76v0.76h-0.76zM201.3 391.1h0.76v0.76h-0.76zM192.8 389.5h0.76v0.76h-0.76zM214.6 379.6h0.76v0.76h-0.76zM207.7 364.9h0.76v0.76h-0.76zM200.1 391.6h0.76v0.76h-0.76zM184.0 394.5h0.76v0.76h-0.76zM184.9 365.9h0.76v0.76h-0.76zM196.7 392.0h0.76v0.76h-0.76zM184.2 379.2h0.76v0.76h-0.76zM178.9 369.4h0.76v0.76h-0.76zM203.0 377.4h0.76v0.76h-0.76zM210.4 375.0h0.76v0.76h-0.76zM190.6 397.2h0.76v0.76h-0.76zM185.2 355.2h0.76v0.76h-0.76zM208.6 384.2h0.76v0.76h-0.76zM188.2 404.2h0.76v0.76h-0.76zM184.3 369.3h0.76v0.76h-0.76zM182.1 362.2h0.76v0.76h-0.76zM184.6 356.5h0.76v0.76h-0.76z"/>
<g filter="url(#bl1_5)"><polygon points="191.0,382.0 203.0,379.5 211.0,383.0 214.0,394.0 208.0,402.0 196.0,401.0 189.0,392.0" fill="#3a5cc0" fill-opacity="0.8"/><ellipse cx="202.5" cy="391.5" rx="9" ry="9.5" fill="#2f9ad6" fill-opacity="0.85" transform="rotate(0 202.5 391.5)"/><ellipse cx="202" cy="392" rx="6" ry="7.5" fill="#4cb878" fill-opacity="0.9" transform="rotate(0 202 392)"/><ellipse cx="202" cy="392.5" rx="3" ry="5" fill="#a6d048" fill-opacity="0.85" transform="rotate(0 202 392.5)"/><ellipse cx="188.5" cy="369.8" rx="16" ry="8.5" fill="#3553bd" fill-opacity="0.8" transform="rotate(0 188.5 369.8)"/><ellipse cx="187.5" cy="369.5" rx="12" ry="6" fill="#2fa8e0" fill-opacity="0.95" transform="rotate(0 187.5 369.5)"/><ellipse cx="187" cy="369.4" rx="9" ry="4.4" fill="#48c46a" fill-opacity="1" transform="rotate(0 187 369.4)"/><ellipse cx="186.5" cy="369.3" rx="6.3" ry="2.9" fill="#e6e23a" fill-opacity="1" transform="rotate(0 186.5 369.3)"/><ellipse cx="186.2" cy="369.3" rx="4.8" ry="2.1" fill="#f3922a" fill-opacity="1" transform="rotate(0 186.2 369.3)"/><ellipse cx="185.8" cy="369.2" rx="3.5" ry="1.5" fill="#ec2c1c" fill-opacity="1" transform="rotate(0 185.8 369.2)"/></g>
<rect x="172.5" y="339.2" width="67.30000000000001" height="67.10000000000002" fill="none" stroke="#222" stroke-width="1.1"/>
<line x1="170.90" y1="345.00" x2="172.50" y2="345.00" stroke="#333" stroke-width="0.8"/>
<text x="170.00" y="347.00" font-size="7.1" text-anchor="end" font-weight="normal" fill="#333">10<tspan font-size="4.3" dy="-2.4">5</tspan></text>
<line x1="170.90" y1="361.30" x2="172.50" y2="361.30" stroke="#333" stroke-width="0.8"/>
<text x="170.00" y="363.30" font-size="7.1" text-anchor="end" font-weight="normal" fill="#333">10<tspan font-size="4.3" dy="-2.4">4</tspan></text>
<line x1="170.90" y1="379.20" x2="172.50" y2="379.20" stroke="#333" stroke-width="0.8"/>
<text x="170.00" y="381.20" font-size="7.1" text-anchor="end" font-weight="normal" fill="#333">10<tspan font-size="4.3" dy="-2.4">3</tspan></text>
<line x1="170.90" y1="390.20" x2="172.50" y2="390.20" stroke="#333" stroke-width="0.8"/>
<text x="170.00" y="392.20" font-size="7.1" text-anchor="end" font-weight="normal" fill="#333">0</text>
<line x1="170.90" y1="400.80" x2="172.50" y2="400.80" stroke="#333" stroke-width="0.8"/>
<text x="170.00" y="402.80" font-size="7.1" text-anchor="end" font-weight="normal" fill="#333">−10<tspan font-size="4.3" dy="-2.4">3</tspan></text>
<line x1="193.10" y1="406.30" x2="193.10" y2="407.90" stroke="#333" stroke-width="0.8"/>
<text x="193.10" y="413.30" font-size="7.1" text-anchor="middle" font-weight="normal" fill="#333">0</text>
<line x1="217.30" y1="406.30" x2="217.30" y2="407.90" stroke="#333" stroke-width="0.8"/>
<text x="217.30" y="413.30" font-size="7.1" text-anchor="middle" font-weight="normal" fill="#333">10<tspan font-size="4.3" dy="-2.4">4</tspan></text>
<line x1="233.10" y1="406.30" x2="233.10" y2="407.90" stroke="#333" stroke-width="0.8"/>
<text x="233.10" y="413.30" font-size="7.1" text-anchor="middle" font-weight="normal" fill="#333">10<tspan font-size="4.3" dy="-2.4">5</tspan></text>
<line x1="171.50" y1="349.89" x2="172.50" y2="349.89" stroke="#555" stroke-width="0.6"/>
<line x1="171.50" y1="353.15" x2="172.50" y2="353.15" stroke="#555" stroke-width="0.6"/>
<line x1="171.50" y1="355.60" x2="172.50" y2="355.60" stroke="#555" stroke-width="0.6"/>
<line x1="171.50" y1="357.71" x2="172.50" y2="357.71" stroke="#555" stroke-width="0.6"/>
<line x1="171.50" y1="359.67" x2="172.50" y2="359.67" stroke="#555" stroke-width="0.6"/>
<line x1="171.50" y1="366.67" x2="172.50" y2="366.67" stroke="#555" stroke-width="0.6"/>
<line x1="171.50" y1="370.25" x2="172.50" y2="370.25" stroke="#555" stroke-width="0.6"/>
<line x1="171.50" y1="372.94" x2="172.50" y2="372.94" stroke="#555" stroke-width="0.6"/>
<line x1="171.50" y1="375.26" x2="172.50" y2="375.26" stroke="#555" stroke-width="0.6"/>
<line x1="171.50" y1="377.41" x2="172.50" y2="377.41" stroke="#555" stroke-width="0.6"/>
<line x1="200.36" y1="406.30" x2="200.36" y2="407.30" stroke="#555" stroke-width="0.6"/>
<line x1="205.20" y1="406.30" x2="205.20" y2="407.30" stroke="#555" stroke-width="0.6"/>
<line x1="208.83" y1="406.30" x2="208.83" y2="407.30" stroke="#555" stroke-width="0.6"/>
<line x1="211.98" y1="406.30" x2="211.98" y2="407.30" stroke="#555" stroke-width="0.6"/>
<line x1="214.88" y1="406.30" x2="214.88" y2="407.30" stroke="#555" stroke-width="0.6"/>
<line x1="222.04" y1="406.30" x2="222.04" y2="407.30" stroke="#555" stroke-width="0.6"/>
<line x1="225.20" y1="406.30" x2="225.20" y2="407.30" stroke="#555" stroke-width="0.6"/>
<line x1="227.57" y1="406.30" x2="227.57" y2="407.30" stroke="#555" stroke-width="0.6"/>
<line x1="229.62" y1="406.30" x2="229.62" y2="407.30" stroke="#555" stroke-width="0.6"/>
<line x1="231.52" y1="406.30" x2="231.52" y2="407.30" stroke="#555" stroke-width="0.6"/>
<polygon points="176.70,360.20 190.20,359.20 203.00,361.30 206.60,364.20 206.10,372.00 198.30,376.30 188.80,379.00 178.70,376.60 173.40,370.30 174.70,364.20" stroke="#151515" stroke-width="1.3" fill="none" stroke-linejoin="round"/>
<polygon points="192.90,382.80 204.30,378.40 216.40,379.70 219.80,387.80 217.10,396.50 207.00,401.90 196.20,399.20 188.80,391.10" stroke="#151515" stroke-width="1.3" fill="none" stroke-linejoin="round"/>
<text x="174.70" y="345.60" font-size="6.2" text-anchor="start" font-weight="normal" fill="#2a2a2a" textLength="12.5" lengthAdjust="spacingAndGlyphs">CD4+</text>
<text x="176.50" y="350.00" font-size="6.2" text-anchor="start" font-weight="normal" fill="#2a2a2a" textLength="10.5" lengthAdjust="spacingAndGlyphs">48.3</text>
<text x="223.00" y="399.80" font-size="6.2" text-anchor="start" font-weight="normal" fill="#2a2a2a" textLength="13.5" lengthAdjust="spacingAndGlyphs">CD3+</text>
<text x="224.50" y="404.40" font-size="6.2" text-anchor="start" font-weight="normal" fill="#2a2a2a" textLength="11" lengthAdjust="spacingAndGlyphs">45.8</text>
<text x="0" y="0" font-size="10.5" text-anchor="start" fill="#111" textLength="21" lengthAdjust="spacingAndGlyphs" transform="translate(149.18 408.50) rotate(-90)">CD4</text>
<line x1="145.40" y1="388.00" x2="145.40" y2="348.50" stroke="#111" stroke-width="1.0"/>
<polygon points="143.20,349.50 145.40,344.00 147.60,349.50" stroke="#111" stroke-width="0.5" fill="#111" stroke-linejoin="round"/>
<text x="148.50" y="423.08" font-size="10.5" text-anchor="start" font-weight="normal" fill="#111" textLength="18.5" lengthAdjust="spacingAndGlyphs">CD8</text>
<line x1="170.00" y1="419.30" x2="226.70" y2="419.30" stroke="#111" stroke-width="1.0"/>
<polygon points="225.70,417.10 231.20,419.30 225.70,421.50" stroke="#111" stroke-width="0.5" fill="#111" stroke-linejoin="round"/>
<path fill="#7d8fd0" fill-opacity="0.55" d="M320.3 295.8h0.76v0.76h-0.76zM321.0 296.6h0.76v0.76h-0.76zM326.3 279.5h0.76v0.76h-0.76zM310.6 279.8h0.76v0.76h-0.76zM314.3 279.1h0.76v0.76h-0.76zM327.1 283.8h0.76v0.76h-0.76zM325.3 285.4h0.76v0.76h-0.76zM307.3 286.6h0.76v0.76h-0.76zM324.3 296.4h0.76v0.76h-0.76zM311.7 297.0h0.76v0.76h-0.76zM307.7 291.2h0.76v0.76h-0.76zM326.0 267.6h0.76v0.76h-0.76zM316.4 280.6h0.76v0.76h-0.76zM327.8 283.0h0.76v0.76h-0.76zM327.4 285.1h0.76v0.76h-0.76zM316.0 287.4h0.76v0.76h-0.76zM323.3 282.8h0.76v0.76h-0.76zM327.3 276.8h0.76v0.76h-0.76zM322.9 292.5h0.76v0.76h-0.76zM316.7 285.5h0.76v0.76h-0.76zM320.8 269.5h0.76v0.76h-0.76zM311.7 281.0h0.76v0.76h-0.76zM326.5 267.3h0.76v0.76h-0.76zM327.2 285.8h0.76v0.76h-0.76zM327.9 290.9h0.76v0.76h-0.76zM312.1 277.8h0.76v0.76h-0.76zM323.1 278.4h0.76v0.76h-0.76zM318.8 270.8h0.76v0.76h-0.76zM327.4 287.7h0.76v0.76h-0.76zM310.8 281.0h0.76v0.76h-0.76zM328.8 282.6h0.76v0.76h-0.76zM324.4 278.5h0.76v0.76h-0.76zM316.1 284.7h0.76v0.76h-0.76zM315.3 275.9h0.76v0.76h-0.76zM320.7 279.2h0.76v0.76h-0.76zM315.0 269.6h0.76v0.76h-0.76zM312.3 279.8h0.76v0.76h-0.76zM325.5 281.9h0.76v0.76h-0.76zM317.0 269.8h0.76v0.76h-0.76zM318.9 272.7h0.76v0.76h-0.76zM308.7 295.3h0.76v0.76h-0.76zM315.4 289.8h0.76v0.76h-0.76zM310.8 277.7h0.76v0.76h-0.76zM316.5 272.3h0.76v0.76h-0.76zM310.3 292.9h0.76v0.76h-0.76zM315.7 296.2h0.76v0.76h-0.76zM323.7 284.2h0.76v0.76h-0.76zM323.3 278.8h0.76v0.76h-0.76zM318.0 285.7h0.76v0.76h-0.76zM320.6 275.1h0.76v0.76h-0.76zM325.3 286.4h0.76v0.76h-0.76zM327.2 289.1h0.76v0.76h-0.76zM308.0 280.2h0.76v0.76h-0.76zM328.4 278.1h0.76v0.76h-0.76zM309.6 290.4h0.76v0.76h-0.76zM320.7 279.3h0.76v0.76h-0.76zM310.8 278.1h0.76v0.76h-0.76zM328.6 277.9h0.76v0.76h-0.76zM311.0 272.7h0.76v0.76h-0.76zM311.3 277.1h0.76v0.76h-0.76zM324.8 294.1h0.76v0.76h-0.76zM316.0 287.7h0.76v0.76h-0.76zM317.3 285.0h0.76v0.76h-0.76zM323.5 283.5h0.76v0.76h-0.76zM311.0 283.4h0.76v0.76h-0.76zM326.3 272.5h0.76v0.76h-0.76zM313.3 276.7h0.76v0.76h-0.76zM312.3 298.0h0.76v0.76h-0.76zM327.6 280.3h0.76v0.76h-0.76zM322.2 285.9h0.76v0.76h-0.76zM324.7 282.6h0.76v0.76h-0.76zM321.5 277.8h0.76v0.76h-0.76zM320.7 289.8h0.76v0.76h-0.76zM321.2 280.0h0.76v0.76h-0.76zM307.5 287.2h0.76v0.76h-0.76zM319.1 283.8h0.76v0.76h-0.76zM319.1 288.0h0.76v0.76h-0.76zM307.9 281.2h0.76v0.76h-0.76zM318.8 289.1h0.76v0.76h-0.76zM323.1 294.4h0.76v0.76h-0.76zM320.5 279.9h0.76v0.76h-0.76zM320.7 268.9h0.76v0.76h-0.76zM313.6 280.5h0.76v0.76h-0.76zM328.1 286.4h0.76v0.76h-0.76zM311.0 292.0h0.76v0.76h-0.76zM323.9 286.3h0.76v0.76h-0.76zM328.0 285.4h0.76v0.76h-0.76zM328.0 288.5h0.76v0.76h-0.76zM314.2 287.5h0.76v0.76h-0.76zM316.8 284.6h0.76v0.76h-0.76zM309.5 276.0h0.76v0.76h-0.76zM325.6 271.2h0.76v0.76h-0.76zM327.0 285.7h0.76v0.76h-0.76zM315.7 283.6h0.76v0.76h-0.76zM309.6 284.0h0.76v0.76h-0.76zM320.2 267.1h0.76v0.76h-0.76zM319.9 275.6h0.76v0.76h-0.76zM313.7 276.4h0.76v0.76h-0.76zM320.2 278.9h0.76v0.76h-0.76zM325.0 298.2h0.76v0.76h-0.76zM319.2 276.9h0.76v0.76h-0.76zM321.4 266.8h0.76v0.76h-0.76zM315.3 275.1h0.76v0.76h-0.76zM324.7 286.5h0.76v0.76h-0.76zM321.0 286.4h0.76v0.76h-0.76zM322.4 294.1h0.76v0.76h-0.76zM311.7 292.9h0.76v0.76h-0.76zM313.1 296.9h0.76v0.76h-0.76zM324.9 285.3h0.76v0.76h-0.76zM320.7 290.0h0.76v0.76h-0.76zM326.6 290.4h0.76v0.76h-0.76zM325.3 284.4h0.76v0.76h-0.76zM326.9 267.5h0.76v0.76h-0.76zM318.9 294.1h0.76v0.76h-0.76zM321.2 298.7h0.76v0.76h-0.76zM311.3 286.3h0.76v0.76h-0.76zM319.9 285.5h0.76v0.76h-0.76zM322.7 278.8h0.76v0.76h-0.76zM317.8 299.6h0.76v0.76h-0.76zM324.1 276.0h0.76v0.76h-0.76zM318.5 274.2h0.76v0.76h-0.76zM328.8 285.4h0.76v0.76h-0.76zM322.2 290.1h0.76v0.76h-0.76zM311.6 291.9h0.76v0.76h-0.76zM320.9 290.9h0.76v0.76h-0.76zM314.9 280.6h0.76v0.76h-0.76zM310.3 278.4h0.76v0.76h-0.76zM321.9 283.4h0.76v0.76h-0.76zM323.1 285.9h0.76v0.76h-0.76zM314.1 284.5h0.76v0.76h-0.76z"/>
<path fill="#7d8fd0" fill-opacity="0.75" d="M348.8 302.9h0.76v0.76h-0.76zM346.8 299.8h0.76v0.76h-0.76zM351.3 302.0h0.76v0.76h-0.76zM349.6 302.2h0.76v0.76h-0.76zM351.6 302.9h0.76v0.76h-0.76zM349.0 305.4h0.76v0.76h-0.76zM346.8 302.5h0.76v0.76h-0.76zM347.0 303.3h0.76v0.76h-0.76zM349.7 303.7h0.76v0.76h-0.76zM347.9 305.2h0.76v0.76h-0.76zM348.2 300.1h0.76v0.76h-0.76zM352.8 298.3h0.76v0.76h-0.76zM355.2 298.8h0.76v0.76h-0.76zM342.2 301.1h0.76v0.76h-0.76zM351.2 300.6h0.76v0.76h-0.76zM350.5 305.6h0.76v0.76h-0.76zM345.0 302.7h0.76v0.76h-0.76zM349.6 304.0h0.76v0.76h-0.76zM345.1 298.2h0.76v0.76h-0.76zM345.2 300.5h0.76v0.76h-0.76zM347.9 303.0h0.76v0.76h-0.76zM344.7 300.2h0.76v0.76h-0.76zM345.1 303.5h0.76v0.76h-0.76zM349.3 304.2h0.76v0.76h-0.76zM351.2 305.7h0.76v0.76h-0.76zM345.7 306.3h0.76v0.76h-0.76zM342.9 304.5h0.76v0.76h-0.76zM347.3 298.1h0.76v0.76h-0.76zM353.5 308.7h0.76v0.76h-0.76zM352.0 298.9h0.76v0.76h-0.76zM338.1 305.0h0.76v0.76h-0.76zM348.6 301.1h0.76v0.76h-0.76zM344.5 298.0h0.76v0.76h-0.76zM347.7 297.0h0.76v0.76h-0.76zM341.6 302.2h0.76v0.76h-0.76zM352.7 304.9h0.76v0.76h-0.76zM351.4 306.6h0.76v0.76h-0.76zM350.7 301.4h0.76v0.76h-0.76zM348.6 303.4h0.76v0.76h-0.76zM345.2 302.8h0.76v0.76h-0.76zM347.1 299.2h0.76v0.76h-0.76zM341.5 303.0h0.76v0.76h-0.76zM350.1 305.5h0.76v0.76h-0.76zM352.3 304.0h0.76v0.76h-0.76zM348.1 301.4h0.76v0.76h-0.76zM342.7 294.7h0.76v0.76h-0.76zM346.3 304.7h0.76v0.76h-0.76zM347.4 308.3h0.76v0.76h-0.76zM353.6 305.3h0.76v0.76h-0.76zM347.0 307.7h0.76v0.76h-0.76zM353.4 299.5h0.76v0.76h-0.76zM349.3 306.3h0.76v0.76h-0.76zM344.2 308.2h0.76v0.76h-0.76zM346.8 304.6h0.76v0.76h-0.76zM346.1 303.7h0.76v0.76h-0.76zM348.6 307.3h0.76v0.76h-0.76zM346.3 304.6h0.76v0.76h-0.76zM350.4 302.1h0.76v0.76h-0.76zM349.2 298.9h0.76v0.76h-0.76zM342.1 301.6h0.76v0.76h-0.76zM340.8 300.4h0.76v0.76h-0.76zM346.4 300.9h0.76v0.76h-0.76zM344.8 300.2h0.76v0.76h-0.76zM349.3 302.3h0.76v0.76h-0.76zM337.5 305.2h0.76v0.76h-0.76zM353.4 304.9h0.76v0.76h-0.76zM351.9 300.7h0.76v0.76h-0.76zM354.0 304.7h0.76v0.76h-0.76zM347.1 306.4h0.76v0.76h-0.76zM348.9 300.8h0.76v0.76h-0.76zM347.6 304.4h0.76v0.76h-0.76zM346.5 304.1h0.76v0.76h-0.76zM344.9 298.0h0.76v0.76h-0.76zM352.1 304.2h0.76v0.76h-0.76zM349.3 298.3h0.76v0.76h-0.76zM347.0 306.4h0.76v0.76h-0.76zM345.5 299.9h0.76v0.76h-0.76zM356.3 303.0h0.76v0.76h-0.76zM349.5 302.7h0.76v0.76h-0.76zM352.8 303.6h0.76v0.76h-0.76zM344.7 302.0h0.76v0.76h-0.76zM347.8 307.9h0.76v0.76h-0.76zM347.7 302.6h0.76v0.76h-0.76zM352.1 306.1h0.76v0.76h-0.76zM345.5 303.8h0.76v0.76h-0.76zM350.9 302.2h0.76v0.76h-0.76zM351.1 304.3h0.76v0.76h-0.76zM342.7 305.3h0.76v0.76h-0.76zM347.7 301.8h0.76v0.76h-0.76zM339.0 304.1h0.76v0.76h-0.76zM339.2 303.5h0.76v0.76h-0.76zM353.4 300.0h0.76v0.76h-0.76zM346.4 301.9h0.76v0.76h-0.76zM350.9 302.7h0.76v0.76h-0.76zM345.9 306.1h0.76v0.76h-0.76zM340.8 302.0h0.76v0.76h-0.76zM338.8 301.4h0.76v0.76h-0.76zM348.8 299.1h0.76v0.76h-0.76zM346.6 306.9h0.76v0.76h-0.76zM340.8 303.0h0.76v0.76h-0.76zM346.4 307.9h0.76v0.76h-0.76zM346.9 301.3h0.76v0.76h-0.76zM351.8 301.8h0.76v0.76h-0.76zM344.1 303.9h0.76v0.76h-0.76zM342.1 306.3h0.76v0.76h-0.76zM351.5 301.5h0.76v0.76h-0.76zM343.1 302.4h0.76v0.76h-0.76zM353.5 307.1h0.76v0.76h-0.76zM346.7 303.3h0.76v0.76h-0.76zM347.9 305.4h0.76v0.76h-0.76zM348.1 301.3h0.76v0.76h-0.76zM352.3 308.0h0.76v0.76h-0.76zM344.4 309.1h0.76v0.76h-0.76zM349.2 303.1h0.76v0.76h-0.76zM348.5 305.7h0.76v0.76h-0.76zM344.0 302.4h0.76v0.76h-0.76zM356.9 301.5h0.76v0.76h-0.76zM336.9 299.6h0.76v0.76h-0.76zM354.5 297.2h0.76v0.76h-0.76zM345.9 302.3h0.76v0.76h-0.76zM346.3 302.6h0.76v0.76h-0.76zM342.7 305.6h0.76v0.76h-0.76zM353.5 301.7h0.76v0.76h-0.76zM343.9 305.3h0.76v0.76h-0.76zM352.5 306.4h0.76v0.76h-0.76zM345.4 301.0h0.76v0.76h-0.76zM340.4 305.3h0.76v0.76h-0.76zM350.2 303.6h0.76v0.76h-0.76zM342.6 299.4h0.76v0.76h-0.76zM342.0 302.0h0.76v0.76h-0.76zM352.7 303.2h0.76v0.76h-0.76zM346.0 302.6h0.76v0.76h-0.76zM344.5 302.6h0.76v0.76h-0.76zM343.5 307.1h0.76v0.76h-0.76zM347.8 302.6h0.76v0.76h-0.76zM352.4 305.1h0.76v0.76h-0.76zM352.5 301.2h0.76v0.76h-0.76zM343.9 306.9h0.76v0.76h-0.76zM348.7 302.5h0.76v0.76h-0.76zM351.7 303.7h0.76v0.76h-0.76zM346.4 299.7h0.76v0.76h-0.76zM345.2 303.2h0.76v0.76h-0.76zM348.1 303.7h0.76v0.76h-0.76zM344.4 303.5h0.76v0.76h-0.76zM343.6 301.5h0.76v0.76h-0.76zM344.6 307.3h0.76v0.76h-0.76zM345.2 305.7h0.76v0.76h-0.76zM341.5 304.2h0.76v0.76h-0.76zM354.0 302.4h0.76v0.76h-0.76zM354.2 303.0h0.76v0.76h-0.76zM341.8 302.4h0.76v0.76h-0.76zM348.2 303.1h0.76v0.76h-0.76zM349.5 303.1h0.76v0.76h-0.76zM352.2 305.9h0.76v0.76h-0.76zM347.9 300.1h0.76v0.76h-0.76zM348.4 305.9h0.76v0.76h-0.76zM349.7 304.4h0.76v0.76h-0.76zM339.5 305.0h0.76v0.76h-0.76zM347.2 301.6h0.76v0.76h-0.76zM350.8 295.6h0.76v0.76h-0.76z"/>
<g filter="url(#bl0_8)" transform="rotate(0 347.7 302.9)"><ellipse cx="347.70" cy="302.90" rx="4.50" ry="3.00" fill="#8aa0d0" fill-opacity="0.7"/><ellipse cx="347.70" cy="302.90" rx="2.48" ry="1.65" fill="#d0b860" fill-opacity="0.8"/><ellipse cx="347.70" cy="302.90" rx="1.35" ry="0.90" fill="#d07840" fill-opacity="0.8"/></g>
<path fill="#7d8fd0" fill-opacity="0.35" d="M348.1 310.0h0.76v0.76h-0.76zM336.9 297.7h0.76v0.76h-0.76zM370.5 284.5h0.76v0.76h-0.76zM356.3 298.8h0.76v0.76h-0.76zM365.0 251.1h0.76v0.76h-0.76zM316.8 317.4h0.76v0.76h-0.76zM357.2 266.6h0.76v0.76h-0.76zM356.9 260.3h0.76v0.76h-0.76zM330.1 279.0h0.76v0.76h-0.76zM320.9 258.1h0.76v0.76h-0.76zM340.4 293.2h0.76v0.76h-0.76zM327.2 294.2h0.76v0.76h-0.76zM373.6 252.4h0.76v0.76h-0.76zM324.4 254.8h0.76v0.76h-0.76zM352.3 277.1h0.76v0.76h-0.76zM335.7 265.7h0.76v0.76h-0.76zM359.3 301.0h0.76v0.76h-0.76zM336.2 305.5h0.76v0.76h-0.76zM321.1 272.4h0.76v0.76h-0.76zM371.9 264.3h0.76v0.76h-0.76zM315.0 250.8h0.76v0.76h-0.76zM352.0 305.2h0.76v0.76h-0.76zM308.5 281.6h0.76v0.76h-0.76zM332.6 271.2h0.76v0.76h-0.76zM321.3 275.1h0.76v0.76h-0.76z"/>
<rect x="304.9" y="248.6" width="70.0" height="69.00000000000003" fill="none" stroke="#222" stroke-width="1.1"/>
<line x1="303.30" y1="256.50" x2="304.90" y2="256.50" stroke="#333" stroke-width="0.8"/>
<text x="302.40" y="258.50" font-size="7.1" text-anchor="end" font-weight="normal" fill="#333">10<tspan font-size="4.3" dy="-2.4">5</tspan></text>
<line x1="303.30" y1="271.20" x2="304.90" y2="271.20" stroke="#333" stroke-width="0.8"/>
<text x="302.40" y="273.20" font-size="7.1" text-anchor="end" font-weight="normal" fill="#333">10<tspan font-size="4.3" dy="-2.4">4</tspan></text>
<line x1="303.30" y1="286.50" x2="304.90" y2="286.50" stroke="#333" stroke-width="0.8"/>
<text x="302.40" y="288.50" font-size="7.1" text-anchor="end" font-weight="normal" fill="#333">10<tspan font-size="4.3" dy="-2.4">3</tspan></text>
<line x1="303.30" y1="296.20" x2="304.90" y2="296.20" stroke="#333" stroke-width="0.8"/>
<text x="302.40" y="298.20" font-size="7.1" text-anchor="end" font-weight="normal" fill="#333">0</text>
<line x1="303.30" y1="304.60" x2="304.90" y2="304.60" stroke="#333" stroke-width="0.8"/>
<text x="302.40" y="306.60" font-size="7.1" text-anchor="end" font-weight="normal" fill="#333">−10<tspan font-size="4.3" dy="-2.4">3</tspan></text>
<line x1="306.30" y1="317.60" x2="306.30" y2="319.20" stroke="#333" stroke-width="0.8"/>
<text x="306.30" y="325.80" font-size="7.1" text-anchor="middle" font-weight="normal" fill="#333">−10<tspan font-size="4.3" dy="-2.4">3</tspan></text>
<line x1="319.20" y1="317.60" x2="319.20" y2="319.20" stroke="#333" stroke-width="0.8"/>
<text x="319.20" y="325.80" font-size="7.1" text-anchor="middle" font-weight="normal" fill="#333">0</text>
<line x1="329.40" y1="317.60" x2="329.40" y2="319.20" stroke="#333" stroke-width="0.8"/>
<text x="329.40" y="325.80" font-size="7.1" text-anchor="middle" font-weight="normal" fill="#333">10<tspan font-size="4.3" dy="-2.4">3</tspan></text>
<line x1="347.30" y1="317.60" x2="347.30" y2="319.20" stroke="#333" stroke-width="0.8"/>
<text x="347.30" y="325.80" font-size="7.1" text-anchor="middle" font-weight="normal" fill="#333">10<tspan font-size="4.3" dy="-2.4">4</tspan></text>
<line x1="362.70" y1="317.60" x2="362.70" y2="319.20" stroke="#333" stroke-width="0.8"/>
<text x="362.70" y="325.80" font-size="7.1" text-anchor="middle" font-weight="normal" fill="#333">10<tspan font-size="4.3" dy="-2.4">5</tspan></text>
<line x1="303.90" y1="260.91" x2="304.90" y2="260.91" stroke="#555" stroke-width="0.6"/>
<line x1="303.90" y1="263.85" x2="304.90" y2="263.85" stroke="#555" stroke-width="0.6"/>
<line x1="303.90" y1="266.06" x2="304.90" y2="266.06" stroke="#555" stroke-width="0.6"/>
<line x1="303.90" y1="267.97" x2="304.90" y2="267.97" stroke="#555" stroke-width="0.6"/>
<line x1="303.90" y1="269.73" x2="304.90" y2="269.73" stroke="#555" stroke-width="0.6"/>
<line x1="303.90" y1="275.79" x2="304.90" y2="275.79" stroke="#555" stroke-width="0.6"/>
<line x1="303.90" y1="278.85" x2="304.90" y2="278.85" stroke="#555" stroke-width="0.6"/>
<line x1="303.90" y1="281.14" x2="304.90" y2="281.14" stroke="#555" stroke-width="0.6"/>
<line x1="303.90" y1="283.13" x2="304.90" y2="283.13" stroke="#555" stroke-width="0.6"/>
<line x1="303.90" y1="284.97" x2="304.90" y2="284.97" stroke="#555" stroke-width="0.6"/>
<line x1="310.17" y1="317.60" x2="310.17" y2="318.60" stroke="#555" stroke-width="0.6"/>
<line x1="312.75" y1="317.60" x2="312.75" y2="318.60" stroke="#555" stroke-width="0.6"/>
<line x1="314.69" y1="317.60" x2="314.69" y2="318.60" stroke="#555" stroke-width="0.6"/>
<line x1="316.36" y1="317.60" x2="316.36" y2="318.60" stroke="#555" stroke-width="0.6"/>
<line x1="317.91" y1="317.60" x2="317.91" y2="318.60" stroke="#555" stroke-width="0.6"/>
<line x1="334.77" y1="317.60" x2="334.77" y2="318.60" stroke="#555" stroke-width="0.6"/>
<line x1="338.35" y1="317.60" x2="338.35" y2="318.60" stroke="#555" stroke-width="0.6"/>
<line x1="341.04" y1="317.60" x2="341.04" y2="318.60" stroke="#555" stroke-width="0.6"/>
<line x1="343.36" y1="317.60" x2="343.36" y2="318.60" stroke="#555" stroke-width="0.6"/>
<line x1="345.51" y1="317.60" x2="345.51" y2="318.60" stroke="#555" stroke-width="0.6"/>
<line x1="351.92" y1="317.60" x2="351.92" y2="318.60" stroke="#555" stroke-width="0.6"/>
<line x1="355.00" y1="317.60" x2="355.00" y2="318.60" stroke="#555" stroke-width="0.6"/>
<line x1="357.31" y1="317.60" x2="357.31" y2="318.60" stroke="#555" stroke-width="0.6"/>
<line x1="359.31" y1="317.60" x2="359.31" y2="318.60" stroke="#555" stroke-width="0.6"/>
<line x1="361.16" y1="317.60" x2="361.16" y2="318.60" stroke="#555" stroke-width="0.6"/>
<polygon points="307.70,271.70 320.80,265.50 327.70,265.20 329.20,280.90 328.50,293.20 324.60,299.10 312.30,300.20 306.90,294.80 305.40,284.80" stroke="#151515" stroke-width="1.3" fill="none" stroke-linejoin="round"/>
<polygon points="330.00,302.20 343.80,291.40 356.20,291.40 362.80,302.50 363.10,307.40 355.40,314.00 344.60,313.20" stroke="#151515" stroke-width="1.3" fill="none" stroke-linejoin="round"/>
<text x="306.90" y="255.80" font-size="6.2" text-anchor="start" font-weight="normal" fill="#2a2a2a" textLength="16" lengthAdjust="spacingAndGlyphs">CD19+</text>
<text x="310.80" y="260.60" font-size="6.2" text-anchor="start" font-weight="normal" fill="#2a2a2a" textLength="9.5" lengthAdjust="spacingAndGlyphs">19.5</text>
<text x="343.00" y="312.70" font-size="6.2" text-anchor="start" font-weight="normal" fill="#2a2a2a" textLength="29.5" lengthAdjust="spacingAndGlyphs">CD3+ T cells</text>
<text x="351.50" y="317.40" font-size="6.2" text-anchor="start" font-weight="normal" fill="#2a2a2a" textLength="11" lengthAdjust="spacingAndGlyphs">76.2</text>
<text x="0" y="0" font-size="10.5" text-anchor="start" fill="#111" textLength="24.6" lengthAdjust="spacingAndGlyphs" transform="translate(289.48 322.70) rotate(-90)">CD19</text>
<line x1="285.70" y1="297.00" x2="285.70" y2="257.00" stroke="#111" stroke-width="1.0"/>
<polygon points="283.50,258.00 285.70,252.50 287.90,258.00" stroke="#111" stroke-width="0.5" fill="#111" stroke-linejoin="round"/>
<text x="292.20" y="335.28" font-size="10.5" text-anchor="start" font-weight="normal" fill="#111" textLength="18.6" lengthAdjust="spacingAndGlyphs">CD3</text>
<line x1="312.50" y1="331.50" x2="370.70" y2="331.50" stroke="#111" stroke-width="1.0"/>
<polygon points="369.70,329.30 375.20,331.50 369.70,333.70" stroke="#111" stroke-width="0.5" fill="#111" stroke-linejoin="round"/>
<path fill="#7d8fd0" fill-opacity="0.35" d="M465.8 286.4h0.76v0.76h-0.76zM487.7 270.0h0.76v0.76h-0.76zM453.7 295.8h0.76v0.76h-0.76zM465.2 272.7h0.76v0.76h-0.76zM459.6 270.7h0.76v0.76h-0.76zM443.0 291.6h0.76v0.76h-0.76zM493.5 295.5h0.76v0.76h-0.76zM475.5 271.2h0.76v0.76h-0.76zM461.5 257.8h0.76v0.76h-0.76zM482.0 268.3h0.76v0.76h-0.76zM451.7 315.8h0.76v0.76h-0.76zM455.1 315.6h0.76v0.76h-0.76zM474.3 300.5h0.76v0.76h-0.76zM475.0 260.2h0.76v0.76h-0.76zM480.9 265.7h0.76v0.76h-0.76zM459.7 256.8h0.76v0.76h-0.76zM435.5 273.3h0.76v0.76h-0.76zM432.4 274.5h0.76v0.76h-0.76zM490.5 317.0h0.76v0.76h-0.76zM460.8 255.3h0.76v0.76h-0.76zM455.5 252.2h0.76v0.76h-0.76zM446.5 290.9h0.76v0.76h-0.76zM474.3 250.0h0.76v0.76h-0.76zM465.3 277.1h0.76v0.76h-0.76zM459.1 257.2h0.76v0.76h-0.76zM458.7 254.9h0.76v0.76h-0.76zM479.1 292.8h0.76v0.76h-0.76zM475.1 276.0h0.76v0.76h-0.76zM497.9 273.4h0.76v0.76h-0.76zM445.6 273.7h0.76v0.76h-0.76zM494.8 258.7h0.76v0.76h-0.76zM484.5 312.8h0.76v0.76h-0.76zM490.6 280.1h0.76v0.76h-0.76zM462.7 308.2h0.76v0.76h-0.76zM480.8 303.7h0.76v0.76h-0.76zM443.8 289.9h0.76v0.76h-0.76zM482.7 264.3h0.76v0.76h-0.76zM445.8 306.1h0.76v0.76h-0.76zM470.9 276.2h0.76v0.76h-0.76zM465.2 265.6h0.76v0.76h-0.76zM448.6 255.2h0.76v0.76h-0.76zM459.3 258.0h0.76v0.76h-0.76zM493.7 314.0h0.76v0.76h-0.76zM472.5 254.1h0.76v0.76h-0.76zM473.0 258.6h0.76v0.76h-0.76zM457.2 256.7h0.76v0.76h-0.76zM466.0 253.0h0.76v0.76h-0.76zM450.8 264.0h0.76v0.76h-0.76zM463.8 312.3h0.76v0.76h-0.76zM471.6 302.0h0.76v0.76h-0.76z"/>
<path fill="#7d8fd0" fill-opacity="0.6" d="M461.7 301.1h0.76v0.76h-0.76zM463.7 301.3h0.76v0.76h-0.76zM446.2 303.0h0.76v0.76h-0.76zM462.3 301.4h0.76v0.76h-0.76zM464.7 302.8h0.76v0.76h-0.76zM434.4 301.2h0.76v0.76h-0.76zM446.2 303.3h0.76v0.76h-0.76zM459.4 302.4h0.76v0.76h-0.76zM468.3 302.5h0.76v0.76h-0.76zM439.7 300.6h0.76v0.76h-0.76zM464.4 301.0h0.76v0.76h-0.76zM447.6 303.0h0.76v0.76h-0.76zM464.7 301.0h0.76v0.76h-0.76zM451.8 303.1h0.76v0.76h-0.76zM451.4 300.3h0.76v0.76h-0.76zM464.1 303.8h0.76v0.76h-0.76zM440.9 300.5h0.76v0.76h-0.76zM464.1 301.6h0.76v0.76h-0.76zM464.2 302.4h0.76v0.76h-0.76zM461.6 300.2h0.76v0.76h-0.76zM431.6 300.1h0.76v0.76h-0.76zM448.3 302.8h0.76v0.76h-0.76zM452.5 300.1h0.76v0.76h-0.76zM443.8 301.7h0.76v0.76h-0.76zM461.4 299.8h0.76v0.76h-0.76zM456.8 301.7h0.76v0.76h-0.76zM451.3 300.9h0.76v0.76h-0.76zM450.9 300.5h0.76v0.76h-0.76zM444.2 301.2h0.76v0.76h-0.76zM451.4 300.8h0.76v0.76h-0.76zM440.2 302.8h0.76v0.76h-0.76zM434.3 300.2h0.76v0.76h-0.76zM451.3 301.8h0.76v0.76h-0.76zM454.4 303.1h0.76v0.76h-0.76zM456.9 304.0h0.76v0.76h-0.76zM465.7 304.1h0.76v0.76h-0.76zM466.9 301.9h0.76v0.76h-0.76zM457.8 299.7h0.76v0.76h-0.76zM456.9 301.8h0.76v0.76h-0.76zM453.0 300.9h0.76v0.76h-0.76zM451.8 303.6h0.76v0.76h-0.76zM453.8 301.9h0.76v0.76h-0.76zM460.3 299.0h0.76v0.76h-0.76zM450.8 301.0h0.76v0.76h-0.76zM445.8 301.4h0.76v0.76h-0.76zM465.2 300.9h0.76v0.76h-0.76zM447.9 301.4h0.76v0.76h-0.76zM466.8 299.7h0.76v0.76h-0.76zM441.3 301.1h0.76v0.76h-0.76zM447.9 303.0h0.76v0.76h-0.76zM452.6 301.5h0.76v0.76h-0.76zM450.3 298.9h0.76v0.76h-0.76zM461.4 301.7h0.76v0.76h-0.76zM452.4 300.1h0.76v0.76h-0.76zM466.7 303.4h0.76v0.76h-0.76zM466.1 301.3h0.76v0.76h-0.76zM442.3 300.4h0.76v0.76h-0.76zM439.8 300.8h0.76v0.76h-0.76zM469.0 299.9h0.76v0.76h-0.76zM456.5 298.8h0.76v0.76h-0.76zM454.1 299.1h0.76v0.76h-0.76zM455.2 300.9h0.76v0.76h-0.76zM463.5 303.5h0.76v0.76h-0.76zM447.3 302.0h0.76v0.76h-0.76zM450.1 300.6h0.76v0.76h-0.76zM455.4 300.1h0.76v0.76h-0.76zM464.0 300.8h0.76v0.76h-0.76zM465.4 301.2h0.76v0.76h-0.76zM456.3 300.7h0.76v0.76h-0.76zM443.7 301.5h0.76v0.76h-0.76zM467.2 299.6h0.76v0.76h-0.76zM449.7 301.2h0.76v0.76h-0.76zM446.2 301.3h0.76v0.76h-0.76zM457.0 301.1h0.76v0.76h-0.76zM468.8 300.8h0.76v0.76h-0.76zM465.3 301.4h0.76v0.76h-0.76zM436.9 302.0h0.76v0.76h-0.76zM454.6 303.1h0.76v0.76h-0.76zM449.4 302.7h0.76v0.76h-0.76zM441.3 301.0h0.76v0.76h-0.76zM461.7 300.7h0.76v0.76h-0.76zM455.5 302.8h0.76v0.76h-0.76zM465.7 301.5h0.76v0.76h-0.76zM451.9 302.1h0.76v0.76h-0.76zM449.9 301.4h0.76v0.76h-0.76zM462.9 297.8h0.76v0.76h-0.76zM448.8 300.8h0.76v0.76h-0.76zM457.5 302.0h0.76v0.76h-0.76zM464.4 304.3h0.76v0.76h-0.76zM457.3 298.3h0.76v0.76h-0.76zM444.8 303.0h0.76v0.76h-0.76zM451.1 299.2h0.76v0.76h-0.76zM453.2 301.2h0.76v0.76h-0.76zM452.9 302.9h0.76v0.76h-0.76zM457.0 297.9h0.76v0.76h-0.76zM463.1 301.8h0.76v0.76h-0.76zM441.8 300.1h0.76v0.76h-0.76zM459.6 303.0h0.76v0.76h-0.76zM462.7 300.5h0.76v0.76h-0.76zM457.5 302.6h0.76v0.76h-0.76zM457.7 300.4h0.76v0.76h-0.76zM450.6 299.4h0.76v0.76h-0.76zM456.8 301.0h0.76v0.76h-0.76zM445.6 305.3h0.76v0.76h-0.76zM449.9 301.5h0.76v0.76h-0.76zM460.9 302.2h0.76v0.76h-0.76zM449.3 300.3h0.76v0.76h-0.76zM462.7 302.2h0.76v0.76h-0.76zM460.9 299.1h0.76v0.76h-0.76zM445.6 301.7h0.76v0.76h-0.76zM459.8 301.9h0.76v0.76h-0.76zM467.2 300.0h0.76v0.76h-0.76zM466.3 300.9h0.76v0.76h-0.76zM463.4 300.6h0.76v0.76h-0.76zM448.0 302.9h0.76v0.76h-0.76zM443.3 301.4h0.76v0.76h-0.76zM455.4 302.2h0.76v0.76h-0.76zM450.5 303.5h0.76v0.76h-0.76zM467.4 299.6h0.76v0.76h-0.76zM442.8 301.4h0.76v0.76h-0.76zM465.0 303.6h0.76v0.76h-0.76zM458.1 300.1h0.76v0.76h-0.76zM455.0 298.4h0.76v0.76h-0.76zM454.2 301.6h0.76v0.76h-0.76zM462.3 299.8h0.76v0.76h-0.76zM469.6 302.5h0.76v0.76h-0.76zM443.5 299.9h0.76v0.76h-0.76zM446.2 299.9h0.76v0.76h-0.76zM442.2 298.8h0.76v0.76h-0.76zM437.0 301.2h0.76v0.76h-0.76zM435.4 301.9h0.76v0.76h-0.76zM464.0 302.3h0.76v0.76h-0.76zM456.6 300.0h0.76v0.76h-0.76zM444.0 301.3h0.76v0.76h-0.76zM455.8 300.7h0.76v0.76h-0.76zM453.8 302.1h0.76v0.76h-0.76zM465.9 302.2h0.76v0.76h-0.76zM461.8 301.2h0.76v0.76h-0.76zM440.3 299.7h0.76v0.76h-0.76zM454.1 301.1h0.76v0.76h-0.76zM458.3 304.2h0.76v0.76h-0.76zM436.5 298.0h0.76v0.76h-0.76zM438.1 303.3h0.76v0.76h-0.76zM460.3 302.5h0.76v0.76h-0.76zM446.7 302.6h0.76v0.76h-0.76zM445.6 301.2h0.76v0.76h-0.76zM464.8 302.8h0.76v0.76h-0.76zM432.9 301.6h0.76v0.76h-0.76zM443.0 300.7h0.76v0.76h-0.76zM458.4 304.0h0.76v0.76h-0.76zM458.2 301.1h0.76v0.76h-0.76zM451.0 304.1h0.76v0.76h-0.76zM455.1 302.1h0.76v0.76h-0.76zM458.5 305.9h0.76v0.76h-0.76zM458.4 302.1h0.76v0.76h-0.76zM452.1 300.7h0.76v0.76h-0.76zM459.1 300.3h0.76v0.76h-0.76zM441.0 301.8h0.76v0.76h-0.76zM457.0 302.8h0.76v0.76h-0.76zM460.7 302.0h0.76v0.76h-0.76z"/>
<path fill="#7d8fd0" fill-opacity="0.35" d="M471.7 293.7h0.76v0.76h-0.76zM485.8 288.3h0.76v0.76h-0.76zM489.4 297.2h0.76v0.76h-0.76zM482.8 293.8h0.76v0.76h-0.76zM488.1 295.8h0.76v0.76h-0.76zM484.0 285.1h0.76v0.76h-0.76zM482.9 288.1h0.76v0.76h-0.76zM487.1 285.3h0.76v0.76h-0.76zM467.7 295.7h0.76v0.76h-0.76zM472.6 292.3h0.76v0.76h-0.76zM479.7 291.0h0.76v0.76h-0.76zM474.1 296.5h0.76v0.76h-0.76zM481.9 291.4h0.76v0.76h-0.76zM461.1 285.3h0.76v0.76h-0.76zM464.0 283.1h0.76v0.76h-0.76zM471.2 296.0h0.76v0.76h-0.76zM472.7 296.2h0.76v0.76h-0.76zM476.2 293.9h0.76v0.76h-0.76zM491.0 291.1h0.76v0.76h-0.76zM473.7 285.3h0.76v0.76h-0.76zM479.8 296.1h0.76v0.76h-0.76zM492.6 289.7h0.76v0.76h-0.76zM465.3 294.7h0.76v0.76h-0.76zM480.3 291.5h0.76v0.76h-0.76zM472.6 296.5h0.76v0.76h-0.76zM472.6 298.3h0.76v0.76h-0.76zM476.9 294.9h0.76v0.76h-0.76zM483.7 287.4h0.76v0.76h-0.76zM479.3 289.0h0.76v0.76h-0.76zM474.7 298.5h0.76v0.76h-0.76zM486.1 293.4h0.76v0.76h-0.76zM481.5 297.4h0.76v0.76h-0.76zM471.9 291.8h0.76v0.76h-0.76zM470.3 288.4h0.76v0.76h-0.76zM476.9 291.5h0.76v0.76h-0.76zM470.2 290.5h0.76v0.76h-0.76zM469.5 292.9h0.76v0.76h-0.76zM484.5 299.4h0.76v0.76h-0.76zM473.0 292.4h0.76v0.76h-0.76zM483.7 285.2h0.76v0.76h-0.76zM462.2 298.7h0.76v0.76h-0.76zM475.8 293.0h0.76v0.76h-0.76zM470.2 290.1h0.76v0.76h-0.76zM479.8 285.1h0.76v0.76h-0.76zM472.3 296.5h0.76v0.76h-0.76zM465.1 293.1h0.76v0.76h-0.76zM480.6 286.3h0.76v0.76h-0.76zM478.8 292.8h0.76v0.76h-0.76zM473.3 289.4h0.76v0.76h-0.76zM483.0 286.9h0.76v0.76h-0.76zM481.1 291.4h0.76v0.76h-0.76zM480.1 289.4h0.76v0.76h-0.76zM478.3 298.2h0.76v0.76h-0.76zM476.3 298.4h0.76v0.76h-0.76zM466.9 291.7h0.76v0.76h-0.76zM488.8 293.6h0.76v0.76h-0.76zM469.8 297.7h0.76v0.76h-0.76zM478.7 294.5h0.76v0.76h-0.76zM476.1 283.6h0.76v0.76h-0.76zM480.9 297.0h0.76v0.76h-0.76z"/>
<g filter="url(#bl0_7)"><polygon points="460.0,301.0 470.0,295.0 480.0,294.0 484.5,300.0 483.5,309.0 475.0,309.5" fill="#3553bd" fill-opacity="0.88"/><ellipse cx="474.3" cy="302" rx="6" ry="4.5" fill="#2fa8e0" fill-opacity="1" transform="rotate(0 474.3 302)"/><ellipse cx="474.5" cy="302" rx="4.5" ry="3.4" fill="#48c46a" fill-opacity="1" transform="rotate(0 474.5 302)"/><ellipse cx="474.6" cy="301.9" rx="3.0" ry="2.3" fill="#e6e23a" fill-opacity="1" transform="rotate(0 474.6 301.9)"/><ellipse cx="474.7" cy="301.9" rx="2.1" ry="1.7" fill="#f3922a" fill-opacity="1" transform="rotate(0 474.7 301.9)"/><ellipse cx="474.7" cy="301.9" rx="1.4" ry="1.15" fill="#ec2c1c" fill-opacity="1" transform="rotate(0 474.7 301.9)"/></g>
<rect x="431.4" y="247.8" width="69.5" height="69.30000000000001" fill="none" stroke="#222" stroke-width="1.1"/>
<line x1="429.80" y1="255.20" x2="431.40" y2="255.20" stroke="#333" stroke-width="0.8"/>
<text x="428.90" y="257.20" font-size="7.1" text-anchor="end" font-weight="normal" fill="#333">10<tspan font-size="4.3" dy="-2.4">5</tspan></text>
<line x1="429.80" y1="270.60" x2="431.40" y2="270.60" stroke="#333" stroke-width="0.8"/>
<text x="428.90" y="272.60" font-size="7.1" text-anchor="end" font-weight="normal" fill="#333">10<tspan font-size="4.3" dy="-2.4">4</tspan></text>
<line x1="429.80" y1="286.50" x2="431.40" y2="286.50" stroke="#333" stroke-width="0.8"/>
<text x="428.90" y="288.50" font-size="7.1" text-anchor="end" font-weight="normal" fill="#333">10<tspan font-size="4.3" dy="-2.4">3</tspan></text>
<line x1="429.80" y1="304.20" x2="431.40" y2="304.20" stroke="#333" stroke-width="0.8"/>
<text x="428.90" y="306.20" font-size="7.1" text-anchor="end" font-weight="normal" fill="#333">−10<tspan font-size="4.3" dy="-2.4">3</tspan></text>
<line x1="436.30" y1="317.10" x2="436.30" y2="318.70" stroke="#333" stroke-width="0.8"/>
<text x="436.30" y="325.80" font-size="7.1" text-anchor="middle" font-weight="normal" fill="#333">−10<tspan font-size="4.3" dy="-2.4">3</tspan></text>
<line x1="446.50" y1="317.10" x2="446.50" y2="318.70" stroke="#333" stroke-width="0.8"/>
<text x="446.50" y="325.80" font-size="7.1" text-anchor="middle" font-weight="normal" fill="#333">0</text>
<line x1="455.60" y1="317.10" x2="455.60" y2="318.70" stroke="#333" stroke-width="0.8"/>
<text x="455.60" y="325.80" font-size="7.1" text-anchor="middle" font-weight="normal" fill="#333">10<tspan font-size="4.3" dy="-2.4">3</tspan></text>
<line x1="474.80" y1="317.10" x2="474.80" y2="318.70" stroke="#333" stroke-width="0.8"/>
<text x="474.80" y="325.80" font-size="7.1" text-anchor="middle" font-weight="normal" fill="#333">10<tspan font-size="4.3" dy="-2.4">4</tspan></text>
<line x1="491.20" y1="317.10" x2="491.20" y2="318.70" stroke="#333" stroke-width="0.8"/>
<text x="491.20" y="325.80" font-size="7.1" text-anchor="middle" font-weight="normal" fill="#333">10<tspan font-size="4.3" dy="-2.4">5</tspan></text>
<line x1="430.40" y1="259.82" x2="431.40" y2="259.82" stroke="#555" stroke-width="0.6"/>
<line x1="430.40" y1="262.90" x2="431.40" y2="262.90" stroke="#555" stroke-width="0.6"/>
<line x1="430.40" y1="265.21" x2="431.40" y2="265.21" stroke="#555" stroke-width="0.6"/>
<line x1="430.40" y1="267.21" x2="431.40" y2="267.21" stroke="#555" stroke-width="0.6"/>
<line x1="430.40" y1="269.06" x2="431.40" y2="269.06" stroke="#555" stroke-width="0.6"/>
<line x1="430.40" y1="275.37" x2="431.40" y2="275.37" stroke="#555" stroke-width="0.6"/>
<line x1="430.40" y1="278.55" x2="431.40" y2="278.55" stroke="#555" stroke-width="0.6"/>
<line x1="430.40" y1="280.94" x2="431.40" y2="280.94" stroke="#555" stroke-width="0.6"/>
<line x1="430.40" y1="283.00" x2="431.40" y2="283.00" stroke="#555" stroke-width="0.6"/>
<line x1="430.40" y1="284.91" x2="431.40" y2="284.91" stroke="#555" stroke-width="0.6"/>
<line x1="430.40" y1="291.81" x2="431.40" y2="291.81" stroke="#555" stroke-width="0.6"/>
<line x1="430.40" y1="295.35" x2="431.40" y2="295.35" stroke="#555" stroke-width="0.6"/>
<line x1="430.40" y1="298.00" x2="431.40" y2="298.00" stroke="#555" stroke-width="0.6"/>
<line x1="430.40" y1="300.31" x2="431.40" y2="300.31" stroke="#555" stroke-width="0.6"/>
<line x1="430.40" y1="302.43" x2="431.40" y2="302.43" stroke="#555" stroke-width="0.6"/>
<line x1="461.36" y1="317.10" x2="461.36" y2="318.10" stroke="#555" stroke-width="0.6"/>
<line x1="465.20" y1="317.10" x2="465.20" y2="318.10" stroke="#555" stroke-width="0.6"/>
<line x1="468.08" y1="317.10" x2="468.08" y2="318.10" stroke="#555" stroke-width="0.6"/>
<line x1="470.58" y1="317.10" x2="470.58" y2="318.10" stroke="#555" stroke-width="0.6"/>
<line x1="472.88" y1="317.10" x2="472.88" y2="318.10" stroke="#555" stroke-width="0.6"/>
<line x1="479.72" y1="317.10" x2="479.72" y2="318.10" stroke="#555" stroke-width="0.6"/>
<line x1="483.00" y1="317.10" x2="483.00" y2="318.10" stroke="#555" stroke-width="0.6"/>
<line x1="485.46" y1="317.10" x2="485.46" y2="318.10" stroke="#555" stroke-width="0.6"/>
<line x1="487.59" y1="317.10" x2="487.59" y2="318.10" stroke="#555" stroke-width="0.6"/>
<line x1="489.56" y1="317.10" x2="489.56" y2="318.10" stroke="#555" stroke-width="0.6"/>
<polygon points="433.70,271.70 446.80,264.80 453.70,264.30 455.20,280.90 453.70,293.20 449.80,298.60 437.50,299.40 432.90,294.80 431.80,284.80" stroke="#151515" stroke-width="1.3" fill="none" stroke-linejoin="round"/>
<polygon points="456.10,301.00 470.30,290.40 482.90,290.40 489.40,301.00 489.40,305.80 483.30,313.10 471.20,313.10" stroke="#151515" stroke-width="1.3" fill="none" stroke-linejoin="round"/>
<text x="462.50" y="255.50" font-size="6.2" text-anchor="middle" font-weight="normal" fill="#2a2a2a" textLength="9" lengthAdjust="spacingAndGlyphs">CLL</text>
<text x="462.50" y="260.80" font-size="6.2" text-anchor="middle" font-weight="normal" fill="#2a2a2a" textLength="17.5" lengthAdjust="spacingAndGlyphs">6.43E-3</text>
<text x="485.20" y="313.20" font-size="6.2" text-anchor="start" font-weight="normal" fill="#2a2a2a" textLength="13.5" lengthAdjust="spacingAndGlyphs">T cells</text>
<text x="486.00" y="317.60" font-size="6.2" text-anchor="start" font-weight="normal" fill="#2a2a2a" textLength="11" lengthAdjust="spacingAndGlyphs">99.6</text>
<text x="0" y="0" font-size="10.5" text-anchor="start" fill="#111" textLength="28" lengthAdjust="spacingAndGlyphs" transform="translate(415.18 323.20) rotate(-90)">CD19</text>
<line x1="411.40" y1="293.20" x2="411.40" y2="256.80" stroke="#111" stroke-width="1.0"/>
<polygon points="409.20,257.80 411.40,252.30 413.60,257.80" stroke="#111" stroke-width="0.5" fill="#111" stroke-linejoin="round"/>
<text x="418.50" y="335.38" font-size="10.5" text-anchor="start" font-weight="normal" fill="#111" textLength="19.5" lengthAdjust="spacingAndGlyphs">CD3</text>
<line x1="440.40" y1="331.60" x2="497.00" y2="331.60" stroke="#111" stroke-width="1.0"/>
<polygon points="496.00,329.40 501.50,331.60 496.00,333.80" stroke="#111" stroke-width="0.5" fill="#111" stroke-linejoin="round"/>
<path fill="#7d8fd0" fill-opacity="0.55" d="M317.6 379.7h0.76v0.76h-0.76zM315.1 366.7h0.76v0.76h-0.76zM306.5 366.5h0.76v0.76h-0.76zM305.3 381.9h0.76v0.76h-0.76zM319.3 385.8h0.76v0.76h-0.76zM335.6 371.3h0.76v0.76h-0.76zM311.2 371.3h0.76v0.76h-0.76zM305.5 380.6h0.76v0.76h-0.76zM312.1 365.1h0.76v0.76h-0.76zM331.6 368.2h0.76v0.76h-0.76zM310.4 368.1h0.76v0.76h-0.76zM334.6 376.4h0.76v0.76h-0.76zM318.7 372.7h0.76v0.76h-0.76zM307.1 368.2h0.76v0.76h-0.76zM316.4 373.4h0.76v0.76h-0.76zM324.6 378.0h0.76v0.76h-0.76zM339.2 369.6h0.76v0.76h-0.76zM308.2 369.9h0.76v0.76h-0.76zM313.2 378.3h0.76v0.76h-0.76zM323.9 370.5h0.76v0.76h-0.76zM308.2 383.8h0.76v0.76h-0.76zM329.9 379.8h0.76v0.76h-0.76zM305.7 366.4h0.76v0.76h-0.76zM323.7 382.2h0.76v0.76h-0.76zM325.0 376.2h0.76v0.76h-0.76zM316.9 368.1h0.76v0.76h-0.76zM324.8 375.0h0.76v0.76h-0.76zM309.6 379.1h0.76v0.76h-0.76zM313.0 379.9h0.76v0.76h-0.76zM315.7 375.0h0.76v0.76h-0.76zM339.9 370.2h0.76v0.76h-0.76zM326.3 370.4h0.76v0.76h-0.76zM321.1 374.6h0.76v0.76h-0.76zM330.8 376.0h0.76v0.76h-0.76zM331.9 369.5h0.76v0.76h-0.76zM304.9 373.6h0.76v0.76h-0.76zM306.9 368.2h0.76v0.76h-0.76zM328.9 381.9h0.76v0.76h-0.76zM327.1 371.2h0.76v0.76h-0.76zM323.9 369.4h0.76v0.76h-0.76zM308.5 377.1h0.76v0.76h-0.76zM330.2 370.0h0.76v0.76h-0.76zM334.7 376.9h0.76v0.76h-0.76zM317.0 386.9h0.76v0.76h-0.76zM305.2 368.8h0.76v0.76h-0.76zM317.5 381.4h0.76v0.76h-0.76zM308.6 374.5h0.76v0.76h-0.76zM323.6 383.6h0.76v0.76h-0.76zM314.7 365.5h0.76v0.76h-0.76zM320.5 374.4h0.76v0.76h-0.76zM324.8 364.4h0.76v0.76h-0.76zM338.3 362.4h0.76v0.76h-0.76zM307.5 388.7h0.76v0.76h-0.76zM322.9 365.0h0.76v0.76h-0.76zM340.8 366.4h0.76v0.76h-0.76zM310.2 375.4h0.76v0.76h-0.76zM333.1 364.5h0.76v0.76h-0.76zM306.6 387.5h0.76v0.76h-0.76zM308.8 369.0h0.76v0.76h-0.76zM335.3 377.8h0.76v0.76h-0.76zM317.7 388.4h0.76v0.76h-0.76zM344.9 366.3h0.76v0.76h-0.76zM330.3 380.1h0.76v0.76h-0.76zM322.8 386.6h0.76v0.76h-0.76zM306.7 369.4h0.76v0.76h-0.76zM330.7 381.9h0.76v0.76h-0.76zM316.4 379.1h0.76v0.76h-0.76zM313.7 369.3h0.76v0.76h-0.76zM317.5 366.9h0.76v0.76h-0.76zM334.2 375.7h0.76v0.76h-0.76zM307.1 388.2h0.76v0.76h-0.76zM334.9 372.8h0.76v0.76h-0.76zM317.5 377.5h0.76v0.76h-0.76zM326.7 369.8h0.76v0.76h-0.76zM326.9 377.8h0.76v0.76h-0.76zM341.3 368.3h0.76v0.76h-0.76zM330.9 362.6h0.76v0.76h-0.76zM315.8 379.2h0.76v0.76h-0.76zM326.5 367.9h0.76v0.76h-0.76zM321.6 383.8h0.76v0.76h-0.76zM308.1 388.8h0.76v0.76h-0.76zM331.3 376.9h0.76v0.76h-0.76zM312.2 379.9h0.76v0.76h-0.76zM339.3 371.4h0.76v0.76h-0.76zM336.0 375.5h0.76v0.76h-0.76zM327.4 372.5h0.76v0.76h-0.76zM320.3 377.8h0.76v0.76h-0.76zM315.6 388.7h0.76v0.76h-0.76zM323.1 379.1h0.76v0.76h-0.76zM327.9 363.5h0.76v0.76h-0.76zM318.0 384.6h0.76v0.76h-0.76zM328.5 368.1h0.76v0.76h-0.76zM311.1 387.4h0.76v0.76h-0.76zM311.6 377.5h0.76v0.76h-0.76zM322.3 373.7h0.76v0.76h-0.76zM319.1 380.4h0.76v0.76h-0.76zM327.8 362.8h0.76v0.76h-0.76zM305.9 366.0h0.76v0.76h-0.76zM331.9 371.9h0.76v0.76h-0.76zM326.2 380.4h0.76v0.76h-0.76zM314.8 369.0h0.76v0.76h-0.76zM326.7 366.6h0.76v0.76h-0.76zM305.5 380.3h0.76v0.76h-0.76zM306.6 378.2h0.76v0.76h-0.76zM330.8 376.4h0.76v0.76h-0.76zM322.7 373.6h0.76v0.76h-0.76zM313.9 374.4h0.76v0.76h-0.76zM305.6 367.2h0.76v0.76h-0.76zM312.6 381.0h0.76v0.76h-0.76zM338.5 365.3h0.76v0.76h-0.76zM314.4 364.1h0.76v0.76h-0.76zM311.9 373.7h0.76v0.76h-0.76zM327.0 362.6h0.76v0.76h-0.76zM316.8 385.3h0.76v0.76h-0.76zM312.7 374.8h0.76v0.76h-0.76zM307.6 371.5h0.76v0.76h-0.76zM334.9 377.8h0.76v0.76h-0.76zM311.2 369.5h0.76v0.76h-0.76zM319.2 364.1h0.76v0.76h-0.76zM308.0 376.3h0.76v0.76h-0.76zM313.3 372.2h0.76v0.76h-0.76zM329.4 365.2h0.76v0.76h-0.76zM329.1 362.8h0.76v0.76h-0.76zM337.8 367.4h0.76v0.76h-0.76zM319.3 382.2h0.76v0.76h-0.76zM331.4 368.7h0.76v0.76h-0.76zM310.1 384.6h0.76v0.76h-0.76zM334.1 366.5h0.76v0.76h-0.76zM338.0 372.2h0.76v0.76h-0.76zM311.8 365.2h0.76v0.76h-0.76zM322.5 384.9h0.76v0.76h-0.76zM325.7 369.9h0.76v0.76h-0.76zM330.7 361.1h0.76v0.76h-0.76zM323.1 362.6h0.76v0.76h-0.76zM321.0 388.5h0.76v0.76h-0.76zM315.4 387.8h0.76v0.76h-0.76zM313.9 380.6h0.76v0.76h-0.76zM305.6 367.8h0.76v0.76h-0.76zM338.7 365.0h0.76v0.76h-0.76zM330.8 366.6h0.76v0.76h-0.76zM328.2 363.7h0.76v0.76h-0.76zM310.7 368.3h0.76v0.76h-0.76zM320.8 375.0h0.76v0.76h-0.76zM318.1 385.2h0.76v0.76h-0.76zM322.7 370.7h0.76v0.76h-0.76zM313.4 374.7h0.76v0.76h-0.76zM340.7 368.1h0.76v0.76h-0.76zM305.7 371.7h0.76v0.76h-0.76zM318.9 388.4h0.76v0.76h-0.76zM326.3 378.1h0.76v0.76h-0.76zM316.7 373.1h0.76v0.76h-0.76zM325.5 375.8h0.76v0.76h-0.76zM328.9 371.4h0.76v0.76h-0.76zM334.4 365.0h0.76v0.76h-0.76zM309.0 372.6h0.76v0.76h-0.76zM326.1 379.9h0.76v0.76h-0.76zM309.0 380.6h0.76v0.76h-0.76zM342.7 368.1h0.76v0.76h-0.76zM320.5 376.3h0.76v0.76h-0.76zM330.9 378.0h0.76v0.76h-0.76zM312.0 376.7h0.76v0.76h-0.76zM309.7 387.0h0.76v0.76h-0.76zM315.1 365.3h0.76v0.76h-0.76zM335.7 374.0h0.76v0.76h-0.76zM309.3 380.7h0.76v0.76h-0.76zM321.1 371.3h0.76v0.76h-0.76zM335.0 374.2h0.76v0.76h-0.76zM334.3 378.6h0.76v0.76h-0.76zM338.2 373.9h0.76v0.76h-0.76zM317.1 372.1h0.76v0.76h-0.76zM327.1 382.6h0.76v0.76h-0.76zM328.6 362.1h0.76v0.76h-0.76zM308.8 384.6h0.76v0.76h-0.76zM329.4 372.5h0.76v0.76h-0.76zM308.0 388.9h0.76v0.76h-0.76zM305.4 372.0h0.76v0.76h-0.76zM310.4 372.4h0.76v0.76h-0.76zM313.7 370.6h0.76v0.76h-0.76zM320.5 367.5h0.76v0.76h-0.76zM335.5 377.6h0.76v0.76h-0.76zM322.2 380.4h0.76v0.76h-0.76zM330.8 376.3h0.76v0.76h-0.76zM324.9 367.3h0.76v0.76h-0.76zM311.4 382.9h0.76v0.76h-0.76zM323.0 371.5h0.76v0.76h-0.76zM324.6 366.3h0.76v0.76h-0.76zM307.0 369.2h0.76v0.76h-0.76zM324.7 375.8h0.76v0.76h-0.76zM336.8 370.6h0.76v0.76h-0.76zM332.1 369.4h0.76v0.76h-0.76zM323.6 372.8h0.76v0.76h-0.76zM327.4 365.6h0.76v0.76h-0.76zM336.7 365.3h0.76v0.76h-0.76zM331.7 366.5h0.76v0.76h-0.76zM337.8 372.5h0.76v0.76h-0.76zM322.9 373.4h0.76v0.76h-0.76zM314.5 389.7h0.76v0.76h-0.76zM341.7 370.3h0.76v0.76h-0.76zM318.8 363.6h0.76v0.76h-0.76zM305.8 374.0h0.76v0.76h-0.76zM320.6 387.3h0.76v0.76h-0.76zM311.4 385.9h0.76v0.76h-0.76zM321.7 377.3h0.76v0.76h-0.76zM338.1 364.1h0.76v0.76h-0.76zM329.0 376.7h0.76v0.76h-0.76zM324.9 367.6h0.76v0.76h-0.76zM327.3 367.3h0.76v0.76h-0.76zM309.7 371.2h0.76v0.76h-0.76zM310.4 367.4h0.76v0.76h-0.76zM323.1 371.7h0.76v0.76h-0.76zM311.9 385.2h0.76v0.76h-0.76zM317.1 384.5h0.76v0.76h-0.76zM311.4 378.4h0.76v0.76h-0.76zM306.9 371.7h0.76v0.76h-0.76zM336.5 374.9h0.76v0.76h-0.76zM307.4 377.6h0.76v0.76h-0.76zM311.0 387.1h0.76v0.76h-0.76zM326.1 376.5h0.76v0.76h-0.76zM317.9 382.7h0.76v0.76h-0.76zM311.5 389.3h0.76v0.76h-0.76zM340.4 366.0h0.76v0.76h-0.76zM334.0 361.9h0.76v0.76h-0.76zM332.0 380.3h0.76v0.76h-0.76zM316.2 390.1h0.76v0.76h-0.76zM313.8 378.5h0.76v0.76h-0.76zM319.4 384.3h0.76v0.76h-0.76zM335.3 364.0h0.76v0.76h-0.76zM342.4 362.9h0.76v0.76h-0.76zM325.0 385.2h0.76v0.76h-0.76zM316.4 367.8h0.76v0.76h-0.76zM329.3 380.8h0.76v0.76h-0.76zM330.9 361.0h0.76v0.76h-0.76zM327.3 373.3h0.76v0.76h-0.76zM318.5 369.4h0.76v0.76h-0.76zM320.0 377.5h0.76v0.76h-0.76zM327.1 365.0h0.76v0.76h-0.76zM308.9 383.6h0.76v0.76h-0.76zM318.6 385.7h0.76v0.76h-0.76zM317.6 374.2h0.76v0.76h-0.76zM333.1 371.5h0.76v0.76h-0.76zM307.3 381.8h0.76v0.76h-0.76zM318.5 374.8h0.76v0.76h-0.76zM331.4 368.0h0.76v0.76h-0.76zM315.0 372.4h0.76v0.76h-0.76zM318.2 374.9h0.76v0.76h-0.76zM323.2 381.6h0.76v0.76h-0.76zM336.3 362.4h0.76v0.76h-0.76zM334.8 374.1h0.76v0.76h-0.76zM326.3 382.6h0.76v0.76h-0.76zM324.6 367.3h0.76v0.76h-0.76zM328.0 369.7h0.76v0.76h-0.76zM320.5 379.5h0.76v0.76h-0.76zM326.1 366.2h0.76v0.76h-0.76zM332.4 366.7h0.76v0.76h-0.76zM327.9 380.8h0.76v0.76h-0.76zM332.6 380.2h0.76v0.76h-0.76zM308.8 387.3h0.76v0.76h-0.76zM340.5 364.7h0.76v0.76h-0.76zM329.9 362.2h0.76v0.76h-0.76zM309.8 380.5h0.76v0.76h-0.76zM331.3 378.5h0.76v0.76h-0.76zM324.8 371.1h0.76v0.76h-0.76zM313.5 388.2h0.76v0.76h-0.76zM344.8 363.6h0.76v0.76h-0.76zM318.5 389.5h0.76v0.76h-0.76zM325.1 383.4h0.76v0.76h-0.76zM310.1 365.1h0.76v0.76h-0.76zM329.3 372.7h0.76v0.76h-0.76zM314.2 364.4h0.76v0.76h-0.76zM333.2 377.9h0.76v0.76h-0.76zM312.8 389.2h0.76v0.76h-0.76zM337.0 373.7h0.76v0.76h-0.76zM342.3 366.4h0.76v0.76h-0.76zM334.3 375.7h0.76v0.76h-0.76zM328.9 382.2h0.76v0.76h-0.76zM341.2 364.9h0.76v0.76h-0.76zM335.2 367.5h0.76v0.76h-0.76zM308.7 374.8h0.76v0.76h-0.76zM328.0 380.2h0.76v0.76h-0.76zM318.0 380.4h0.76v0.76h-0.76zM312.1 389.1h0.76v0.76h-0.76zM330.9 378.3h0.76v0.76h-0.76zM323.8 374.0h0.76v0.76h-0.76zM315.6 387.5h0.76v0.76h-0.76zM306.1 366.1h0.76v0.76h-0.76zM323.6 379.3h0.76v0.76h-0.76zM332.2 377.5h0.76v0.76h-0.76zM331.9 366.8h0.76v0.76h-0.76zM328.8 377.6h0.76v0.76h-0.76zM339.3 370.6h0.76v0.76h-0.76zM325.5 369.8h0.76v0.76h-0.76zM310.3 386.1h0.76v0.76h-0.76zM330.7 371.0h0.76v0.76h-0.76zM306.0 368.2h0.76v0.76h-0.76zM323.0 381.7h0.76v0.76h-0.76zM318.1 382.5h0.76v0.76h-0.76zM323.8 370.3h0.76v0.76h-0.76zM329.3 366.2h0.76v0.76h-0.76zM342.9 365.9h0.76v0.76h-0.76zM305.5 381.2h0.76v0.76h-0.76z"/>
<path fill="#7d8fd0" fill-opacity="0.4" d="M350.6 381.1h0.76v0.76h-0.76zM340.3 382.2h0.76v0.76h-0.76zM344.8 393.6h0.76v0.76h-0.76zM341.5 404.2h0.76v0.76h-0.76zM343.9 381.0h0.76v0.76h-0.76zM336.5 391.7h0.76v0.76h-0.76zM343.7 376.6h0.76v0.76h-0.76zM346.4 384.9h0.76v0.76h-0.76zM345.5 371.8h0.76v0.76h-0.76zM347.4 391.7h0.76v0.76h-0.76zM335.8 386.7h0.76v0.76h-0.76zM332.0 403.0h0.76v0.76h-0.76zM348.6 389.4h0.76v0.76h-0.76zM337.4 382.3h0.76v0.76h-0.76zM347.3 373.9h0.76v0.76h-0.76zM339.0 400.5h0.76v0.76h-0.76zM349.3 377.1h0.76v0.76h-0.76zM345.9 386.8h0.76v0.76h-0.76zM338.2 404.4h0.76v0.76h-0.76zM346.7 378.3h0.76v0.76h-0.76zM347.9 373.9h0.76v0.76h-0.76zM332.4 389.7h0.76v0.76h-0.76zM335.0 391.3h0.76v0.76h-0.76zM343.4 395.9h0.76v0.76h-0.76zM330.5 398.8h0.76v0.76h-0.76z"/>
<path fill="#7d8fd0" fill-opacity="0.3" d="M325.0 370.3h0.76v0.76h-0.76zM344.9 367.5h0.76v0.76h-0.76zM346.5 369.3h0.76v0.76h-0.76zM341.7 349.7h0.76v0.76h-0.76zM313.1 353.4h0.76v0.76h-0.76zM360.0 337.5h0.76v0.76h-0.76zM330.1 364.9h0.76v0.76h-0.76zM344.1 365.6h0.76v0.76h-0.76zM365.3 400.3h0.76v0.76h-0.76zM345.2 349.7h0.76v0.76h-0.76zM366.7 394.7h0.76v0.76h-0.76zM337.9 390.7h0.76v0.76h-0.76zM367.3 401.2h0.76v0.76h-0.76zM321.4 350.8h0.76v0.76h-0.76zM361.6 354.4h0.76v0.76h-0.76zM324.6 339.2h0.76v0.76h-0.76zM358.8 352.1h0.76v0.76h-0.76zM317.3 378.0h0.76v0.76h-0.76zM311.3 389.8h0.76v0.76h-0.76zM311.1 402.7h0.76v0.76h-0.76zM314.6 345.6h0.76v0.76h-0.76zM337.8 388.5h0.76v0.76h-0.76zM339.5 384.6h0.76v0.76h-0.76zM322.3 394.8h0.76v0.76h-0.76zM319.6 364.0h0.76v0.76h-0.76zM361.6 362.8h0.76v0.76h-0.76zM309.5 385.3h0.76v0.76h-0.76zM311.7 364.0h0.76v0.76h-0.76zM329.4 369.5h0.76v0.76h-0.76zM315.0 399.4h0.76v0.76h-0.76z"/>
<rect x="305.4" y="335.8" width="70.0" height="68.80000000000001" fill="none" stroke="#222" stroke-width="1.1"/>
<line x1="303.80" y1="343.30" x2="305.40" y2="343.30" stroke="#333" stroke-width="0.8"/>
<text x="302.90" y="345.30" font-size="7.1" text-anchor="end" font-weight="normal" fill="#333">10<tspan font-size="4.3" dy="-2.4">5</tspan></text>
<line x1="303.80" y1="359.20" x2="305.40" y2="359.20" stroke="#333" stroke-width="0.8"/>
<text x="302.90" y="361.20" font-size="7.1" text-anchor="end" font-weight="normal" fill="#333">10<tspan font-size="4.3" dy="-2.4">4</tspan></text>
<line x1="303.80" y1="376.90" x2="305.40" y2="376.90" stroke="#333" stroke-width="0.8"/>
<text x="302.90" y="378.90" font-size="7.1" text-anchor="end" font-weight="normal" fill="#333">10<tspan font-size="4.3" dy="-2.4">3</tspan></text>
<line x1="303.80" y1="387.50" x2="305.40" y2="387.50" stroke="#333" stroke-width="0.8"/>
<text x="302.90" y="389.50" font-size="7.1" text-anchor="end" font-weight="normal" fill="#333">0</text>
<line x1="303.80" y1="399.00" x2="305.40" y2="399.00" stroke="#333" stroke-width="0.8"/>
<text x="302.90" y="401.00" font-size="7.1" text-anchor="end" font-weight="normal" fill="#333">−10<tspan font-size="4.3" dy="-2.4">3</tspan></text>
<line x1="307.30" y1="404.60" x2="307.30" y2="406.20" stroke="#333" stroke-width="0.8"/>
<text x="307.30" y="412.60" font-size="7.1" text-anchor="middle" font-weight="normal" fill="#333">−10<tspan font-size="4.3" dy="-2.4">3</tspan></text>
<line x1="321.70" y1="404.60" x2="321.70" y2="406.20" stroke="#333" stroke-width="0.8"/>
<text x="321.70" y="412.60" font-size="7.1" text-anchor="middle" font-weight="normal" fill="#333">0</text>
<line x1="330.40" y1="404.60" x2="330.40" y2="406.20" stroke="#333" stroke-width="0.8"/>
<text x="330.40" y="412.60" font-size="7.1" text-anchor="middle" font-weight="normal" fill="#333">10<tspan font-size="4.3" dy="-2.4">3</tspan></text>
<line x1="351.20" y1="404.60" x2="351.20" y2="406.20" stroke="#333" stroke-width="0.8"/>
<text x="351.20" y="412.60" font-size="7.1" text-anchor="middle" font-weight="normal" fill="#333">10<tspan font-size="4.3" dy="-2.4">4</tspan></text>
<line x1="366.90" y1="404.60" x2="366.90" y2="406.20" stroke="#333" stroke-width="0.8"/>
<text x="366.90" y="412.60" font-size="7.1" text-anchor="middle" font-weight="normal" fill="#333">10<tspan font-size="4.3" dy="-2.4">5</tspan></text>
<line x1="304.40" y1="348.07" x2="305.40" y2="348.07" stroke="#555" stroke-width="0.6"/>
<line x1="304.40" y1="351.25" x2="305.40" y2="351.25" stroke="#555" stroke-width="0.6"/>
<line x1="304.40" y1="353.63" x2="305.40" y2="353.63" stroke="#555" stroke-width="0.6"/>
<line x1="304.40" y1="355.70" x2="305.40" y2="355.70" stroke="#555" stroke-width="0.6"/>
<line x1="304.40" y1="357.61" x2="305.40" y2="357.61" stroke="#555" stroke-width="0.6"/>
<line x1="304.40" y1="364.51" x2="305.40" y2="364.51" stroke="#555" stroke-width="0.6"/>
<line x1="304.40" y1="368.05" x2="305.40" y2="368.05" stroke="#555" stroke-width="0.6"/>
<line x1="304.40" y1="370.70" x2="305.40" y2="370.70" stroke="#555" stroke-width="0.6"/>
<line x1="304.40" y1="373.01" x2="305.40" y2="373.01" stroke="#555" stroke-width="0.6"/>
<line x1="304.40" y1="375.13" x2="305.40" y2="375.13" stroke="#555" stroke-width="0.6"/>
<line x1="311.62" y1="404.60" x2="311.62" y2="405.60" stroke="#555" stroke-width="0.6"/>
<line x1="314.50" y1="404.60" x2="314.50" y2="405.60" stroke="#555" stroke-width="0.6"/>
<line x1="316.66" y1="404.60" x2="316.66" y2="405.60" stroke="#555" stroke-width="0.6"/>
<line x1="318.53" y1="404.60" x2="318.53" y2="405.60" stroke="#555" stroke-width="0.6"/>
<line x1="320.26" y1="404.60" x2="320.26" y2="405.60" stroke="#555" stroke-width="0.6"/>
<line x1="336.64" y1="404.60" x2="336.64" y2="405.60" stroke="#555" stroke-width="0.6"/>
<line x1="340.80" y1="404.60" x2="340.80" y2="405.60" stroke="#555" stroke-width="0.6"/>
<line x1="343.92" y1="404.60" x2="343.92" y2="405.60" stroke="#555" stroke-width="0.6"/>
<line x1="346.62" y1="404.60" x2="346.62" y2="405.60" stroke="#555" stroke-width="0.6"/>
<line x1="349.12" y1="404.60" x2="349.12" y2="405.60" stroke="#555" stroke-width="0.6"/>
<line x1="355.91" y1="404.60" x2="355.91" y2="405.60" stroke="#555" stroke-width="0.6"/>
<line x1="359.05" y1="404.60" x2="359.05" y2="405.60" stroke="#555" stroke-width="0.6"/>
<line x1="361.40" y1="404.60" x2="361.40" y2="405.60" stroke="#555" stroke-width="0.6"/>
<line x1="363.45" y1="404.60" x2="363.45" y2="405.60" stroke="#555" stroke-width="0.6"/>
<line x1="365.33" y1="404.60" x2="365.33" y2="405.60" stroke="#555" stroke-width="0.6"/>
<polygon points="305.80,365.70 333.10,360.50 344.60,362.00 345.40,366.20 336.90,377.70 316.90,391.50 306.20,388.50 304.30,380.80 304.60,370.80" stroke="#151515" stroke-width="1.3" fill="none" stroke-linejoin="round"/>
<polygon points="327.70,397.40 342.30,370.80 348.50,368.50 350.80,380.80 348.90,391.50 346.20,403.80 333.10,405.10" stroke="#151515" stroke-width="1.3" fill="none" stroke-linejoin="round"/>
<text x="308.50" y="355.20" font-size="6.2" text-anchor="start" font-weight="normal" fill="#2a2a2a" textLength="10" lengthAdjust="spacingAndGlyphs">CD4</text>
<text x="308.50" y="359.90" font-size="6.2" text-anchor="start" font-weight="normal" fill="#2a2a2a" textLength="10" lengthAdjust="spacingAndGlyphs">90.8</text>
<text x="362.30" y="398.30" font-size="6.2" text-anchor="start" font-weight="normal" fill="#2a2a2a" textLength="10" lengthAdjust="spacingAndGlyphs">CD8</text>
<text x="363.00" y="402.90" font-size="6.2" text-anchor="start" font-weight="normal" fill="#2a2a2a" textLength="8.5" lengthAdjust="spacingAndGlyphs">5.97</text>
<text x="0" y="0" font-size="10.5" text-anchor="start" fill="#111" textLength="21" lengthAdjust="spacingAndGlyphs" transform="translate(290.08 408.30) rotate(-90)">CD4</text>
<line x1="286.30" y1="385.00" x2="286.30" y2="346.10" stroke="#111" stroke-width="1.0"/>
<polygon points="284.10,347.10 286.30,341.60 288.50,347.10" stroke="#111" stroke-width="0.5" fill="#111" stroke-linejoin="round"/>
<text x="292.20" y="425.18" font-size="10.5" text-anchor="start" font-weight="normal" fill="#111" textLength="18.6" lengthAdjust="spacingAndGlyphs">CD8</text>
<line x1="312.50" y1="421.40" x2="370.70" y2="421.40" stroke="#111" stroke-width="1.0"/>
<polygon points="369.70,419.20 375.20,421.40 369.70,423.60" stroke="#111" stroke-width="0.5" fill="#111" stroke-linejoin="round"/>
<path fill="#7d8fd0" fill-opacity="0.35" d="M466.0 368.6h0.76v0.76h-0.76zM469.6 363.8h0.76v0.76h-0.76zM488.7 348.4h0.76v0.76h-0.76zM462.1 389.9h0.76v0.76h-0.76zM472.9 399.7h0.76v0.76h-0.76zM450.9 362.0h0.76v0.76h-0.76zM452.0 346.5h0.76v0.76h-0.76zM436.1 372.8h0.76v0.76h-0.76zM451.5 377.3h0.76v0.76h-0.76zM497.5 405.8h0.76v0.76h-0.76zM484.9 360.2h0.76v0.76h-0.76zM457.5 399.2h0.76v0.76h-0.76zM447.1 394.1h0.76v0.76h-0.76zM447.9 368.2h0.76v0.76h-0.76zM469.5 403.4h0.76v0.76h-0.76zM481.6 395.2h0.76v0.76h-0.76zM455.1 361.4h0.76v0.76h-0.76zM491.2 377.7h0.76v0.76h-0.76zM480.8 344.2h0.76v0.76h-0.76zM435.2 366.8h0.76v0.76h-0.76zM452.2 355.7h0.76v0.76h-0.76zM487.4 400.7h0.76v0.76h-0.76zM446.4 344.3h0.76v0.76h-0.76zM444.0 350.1h0.76v0.76h-0.76zM481.1 363.7h0.76v0.76h-0.76zM498.7 338.7h0.76v0.76h-0.76zM468.0 346.6h0.76v0.76h-0.76zM489.7 363.6h0.76v0.76h-0.76zM447.6 377.5h0.76v0.76h-0.76zM491.4 338.5h0.76v0.76h-0.76zM446.9 399.5h0.76v0.76h-0.76zM460.0 344.0h0.76v0.76h-0.76zM495.4 402.5h0.76v0.76h-0.76zM460.5 350.9h0.76v0.76h-0.76zM432.7 388.5h0.76v0.76h-0.76zM484.4 388.1h0.76v0.76h-0.76zM478.8 361.7h0.76v0.76h-0.76zM450.8 377.0h0.76v0.76h-0.76zM485.9 369.8h0.76v0.76h-0.76zM466.6 364.1h0.76v0.76h-0.76zM487.9 403.2h0.76v0.76h-0.76zM449.9 403.4h0.76v0.76h-0.76zM487.2 365.2h0.76v0.76h-0.76zM448.5 384.5h0.76v0.76h-0.76zM468.5 378.1h0.76v0.76h-0.76zM499.8 404.9h0.76v0.76h-0.76zM479.6 373.1h0.76v0.76h-0.76zM442.4 342.6h0.76v0.76h-0.76zM487.8 355.0h0.76v0.76h-0.76zM478.1 358.3h0.76v0.76h-0.76zM445.8 384.4h0.76v0.76h-0.76zM442.8 342.2h0.76v0.76h-0.76zM499.9 364.9h0.76v0.76h-0.76zM455.9 391.7h0.76v0.76h-0.76zM445.5 392.0h0.76v0.76h-0.76zM447.0 387.4h0.76v0.76h-0.76zM483.0 344.9h0.76v0.76h-0.76zM457.4 395.6h0.76v0.76h-0.76zM464.9 367.1h0.76v0.76h-0.76zM435.5 348.1h0.76v0.76h-0.76zM496.5 405.5h0.76v0.76h-0.76zM466.9 383.0h0.76v0.76h-0.76zM440.1 402.4h0.76v0.76h-0.76zM474.5 387.5h0.76v0.76h-0.76zM490.4 353.9h0.76v0.76h-0.76zM479.3 369.8h0.76v0.76h-0.76zM451.9 349.3h0.76v0.76h-0.76zM480.5 350.4h0.76v0.76h-0.76zM442.4 363.6h0.76v0.76h-0.76zM460.6 367.8h0.76v0.76h-0.76zM446.4 404.5h0.76v0.76h-0.76zM437.7 392.2h0.76v0.76h-0.76zM483.2 368.9h0.76v0.76h-0.76zM451.8 395.4h0.76v0.76h-0.76zM482.7 354.4h0.76v0.76h-0.76zM491.7 381.3h0.76v0.76h-0.76zM442.9 403.2h0.76v0.76h-0.76zM456.2 347.5h0.76v0.76h-0.76zM497.2 389.3h0.76v0.76h-0.76zM463.1 375.3h0.76v0.76h-0.76z"/>
<path fill="#7d8fd0" fill-opacity="0.55" d="M459.3 397.2h0.76v0.76h-0.76zM458.7 371.7h0.76v0.76h-0.76zM446.8 382.7h0.76v0.76h-0.76zM461.8 382.5h0.76v0.76h-0.76zM444.8 385.7h0.76v0.76h-0.76zM441.2 406.0h0.76v0.76h-0.76zM453.9 391.0h0.76v0.76h-0.76zM444.5 396.2h0.76v0.76h-0.76zM435.1 388.6h0.76v0.76h-0.76zM450.3 388.5h0.76v0.76h-0.76zM443.1 394.6h0.76v0.76h-0.76zM433.8 384.9h0.76v0.76h-0.76zM447.0 377.5h0.76v0.76h-0.76zM436.0 397.6h0.76v0.76h-0.76zM465.9 379.8h0.76v0.76h-0.76zM460.8 389.4h0.76v0.76h-0.76zM447.3 394.6h0.76v0.76h-0.76zM456.7 388.2h0.76v0.76h-0.76zM461.1 385.0h0.76v0.76h-0.76zM478.5 391.7h0.76v0.76h-0.76zM456.5 373.9h0.76v0.76h-0.76zM440.2 374.4h0.76v0.76h-0.76zM460.8 394.0h0.76v0.76h-0.76zM439.8 396.4h0.76v0.76h-0.76zM452.8 384.7h0.76v0.76h-0.76zM437.9 393.6h0.76v0.76h-0.76zM437.2 397.6h0.76v0.76h-0.76zM444.1 374.7h0.76v0.76h-0.76zM437.6 387.7h0.76v0.76h-0.76zM473.8 386.7h0.76v0.76h-0.76zM447.2 384.4h0.76v0.76h-0.76zM434.6 397.8h0.76v0.76h-0.76zM455.1 397.8h0.76v0.76h-0.76zM443.5 390.2h0.76v0.76h-0.76zM464.8 370.5h0.76v0.76h-0.76zM448.6 393.8h0.76v0.76h-0.76zM449.1 403.8h0.76v0.76h-0.76zM454.1 404.1h0.76v0.76h-0.76zM454.8 385.7h0.76v0.76h-0.76zM443.0 373.5h0.76v0.76h-0.76zM436.2 378.0h0.76v0.76h-0.76zM448.3 393.3h0.76v0.76h-0.76zM457.1 384.7h0.76v0.76h-0.76zM470.1 378.8h0.76v0.76h-0.76zM438.5 395.4h0.76v0.76h-0.76zM447.8 395.0h0.76v0.76h-0.76zM451.8 384.3h0.76v0.76h-0.76zM439.3 398.5h0.76v0.76h-0.76zM435.4 377.7h0.76v0.76h-0.76zM462.6 373.0h0.76v0.76h-0.76zM447.2 396.9h0.76v0.76h-0.76zM478.4 386.8h0.76v0.76h-0.76zM440.3 391.5h0.76v0.76h-0.76zM431.1 399.6h0.76v0.76h-0.76zM450.5 390.8h0.76v0.76h-0.76zM456.9 392.3h0.76v0.76h-0.76zM455.6 384.3h0.76v0.76h-0.76zM463.8 400.4h0.76v0.76h-0.76zM476.9 370.5h0.76v0.76h-0.76zM473.5 374.2h0.76v0.76h-0.76zM465.4 366.5h0.76v0.76h-0.76zM459.0 391.0h0.76v0.76h-0.76zM462.8 384.2h0.76v0.76h-0.76zM446.6 390.1h0.76v0.76h-0.76zM454.5 382.0h0.76v0.76h-0.76zM463.3 380.2h0.76v0.76h-0.76zM436.3 401.4h0.76v0.76h-0.76zM454.9 405.4h0.76v0.76h-0.76zM458.3 386.1h0.76v0.76h-0.76zM445.0 389.4h0.76v0.76h-0.76zM450.3 398.6h0.76v0.76h-0.76zM435.5 395.7h0.76v0.76h-0.76zM447.5 383.4h0.76v0.76h-0.76zM458.4 390.7h0.76v0.76h-0.76zM458.7 386.2h0.76v0.76h-0.76zM452.2 372.2h0.76v0.76h-0.76zM432.3 405.5h0.76v0.76h-0.76zM462.5 371.6h0.76v0.76h-0.76zM465.0 386.0h0.76v0.76h-0.76zM478.4 393.5h0.76v0.76h-0.76zM457.7 388.9h0.76v0.76h-0.76zM443.6 396.6h0.76v0.76h-0.76zM445.6 386.8h0.76v0.76h-0.76zM452.8 402.6h0.76v0.76h-0.76zM452.6 396.3h0.76v0.76h-0.76zM444.7 376.1h0.76v0.76h-0.76zM466.6 368.8h0.76v0.76h-0.76zM456.0 388.3h0.76v0.76h-0.76zM463.4 387.9h0.76v0.76h-0.76zM445.3 387.7h0.76v0.76h-0.76zM463.2 381.8h0.76v0.76h-0.76zM450.0 386.1h0.76v0.76h-0.76zM468.3 375.8h0.76v0.76h-0.76zM445.3 368.0h0.76v0.76h-0.76zM460.9 386.0h0.76v0.76h-0.76zM457.6 379.3h0.76v0.76h-0.76zM463.6 378.4h0.76v0.76h-0.76zM439.8 374.4h0.76v0.76h-0.76zM452.8 396.0h0.76v0.76h-0.76zM451.0 394.1h0.76v0.76h-0.76zM439.1 404.6h0.76v0.76h-0.76zM447.9 395.2h0.76v0.76h-0.76zM444.7 374.1h0.76v0.76h-0.76zM450.5 375.9h0.76v0.76h-0.76zM463.4 394.5h0.76v0.76h-0.76zM457.3 400.7h0.76v0.76h-0.76zM457.6 382.2h0.76v0.76h-0.76zM462.9 396.3h0.76v0.76h-0.76zM450.9 385.3h0.76v0.76h-0.76zM458.3 366.9h0.76v0.76h-0.76zM458.2 385.1h0.76v0.76h-0.76zM468.9 388.1h0.76v0.76h-0.76zM459.8 402.5h0.76v0.76h-0.76zM465.8 382.9h0.76v0.76h-0.76zM441.8 384.6h0.76v0.76h-0.76zM435.5 371.3h0.76v0.76h-0.76zM463.2 388.3h0.76v0.76h-0.76zM469.7 393.4h0.76v0.76h-0.76zM461.3 374.7h0.76v0.76h-0.76zM465.2 372.7h0.76v0.76h-0.76zM439.6 395.2h0.76v0.76h-0.76zM456.5 387.5h0.76v0.76h-0.76zM467.5 395.9h0.76v0.76h-0.76zM439.5 386.9h0.76v0.76h-0.76zM456.3 392.6h0.76v0.76h-0.76zM444.5 375.6h0.76v0.76h-0.76zM431.0 386.9h0.76v0.76h-0.76zM452.2 385.8h0.76v0.76h-0.76zM453.0 385.0h0.76v0.76h-0.76zM458.9 390.9h0.76v0.76h-0.76zM477.9 379.0h0.76v0.76h-0.76zM435.0 384.3h0.76v0.76h-0.76zM438.5 384.8h0.76v0.76h-0.76zM446.2 385.7h0.76v0.76h-0.76zM432.4 395.6h0.76v0.76h-0.76zM442.1 382.6h0.76v0.76h-0.76zM447.8 380.8h0.76v0.76h-0.76zM450.0 378.5h0.76v0.76h-0.76zM440.5 375.1h0.76v0.76h-0.76zM465.0 400.0h0.76v0.76h-0.76zM440.3 378.6h0.76v0.76h-0.76zM445.0 381.4h0.76v0.76h-0.76zM470.3 383.5h0.76v0.76h-0.76zM447.4 378.1h0.76v0.76h-0.76zM448.7 395.2h0.76v0.76h-0.76zM444.7 373.6h0.76v0.76h-0.76zM467.1 382.9h0.76v0.76h-0.76zM448.4 392.8h0.76v0.76h-0.76zM442.7 381.1h0.76v0.76h-0.76zM457.5 396.7h0.76v0.76h-0.76zM449.7 379.4h0.76v0.76h-0.76zM461.5 379.4h0.76v0.76h-0.76zM458.7 400.3h0.76v0.76h-0.76zM466.5 395.0h0.76v0.76h-0.76zM456.7 391.6h0.76v0.76h-0.76zM455.3 394.8h0.76v0.76h-0.76zM465.4 369.7h0.76v0.76h-0.76zM455.9 375.1h0.76v0.76h-0.76zM463.8 370.1h0.76v0.76h-0.76zM441.5 378.6h0.76v0.76h-0.76zM441.1 379.5h0.76v0.76h-0.76zM436.3 401.4h0.76v0.76h-0.76zM447.7 396.9h0.76v0.76h-0.76zM442.0 396.2h0.76v0.76h-0.76zM469.9 384.9h0.76v0.76h-0.76zM445.3 391.2h0.76v0.76h-0.76zM445.4 382.6h0.76v0.76h-0.76zM439.0 382.5h0.76v0.76h-0.76zM435.3 389.8h0.76v0.76h-0.76zM448.9 403.5h0.76v0.76h-0.76zM432.3 398.8h0.76v0.76h-0.76zM442.4 389.4h0.76v0.76h-0.76zM452.8 371.9h0.76v0.76h-0.76zM442.6 374.4h0.76v0.76h-0.76zM472.0 398.0h0.76v0.76h-0.76zM441.4 399.5h0.76v0.76h-0.76zM446.1 383.9h0.76v0.76h-0.76zM435.9 391.2h0.76v0.76h-0.76zM457.8 395.4h0.76v0.76h-0.76zM448.1 378.9h0.76v0.76h-0.76zM447.9 385.9h0.76v0.76h-0.76zM437.7 389.3h0.76v0.76h-0.76zM456.9 387.1h0.76v0.76h-0.76zM458.0 384.4h0.76v0.76h-0.76zM437.8 389.8h0.76v0.76h-0.76zM452.8 395.7h0.76v0.76h-0.76zM451.4 388.9h0.76v0.76h-0.76zM446.6 382.3h0.76v0.76h-0.76zM452.7 380.9h0.76v0.76h-0.76zM453.2 402.6h0.76v0.76h-0.76zM451.5 396.3h0.76v0.76h-0.76zM440.7 390.2h0.76v0.76h-0.76zM440.0 377.0h0.76v0.76h-0.76zM450.6 385.6h0.76v0.76h-0.76zM455.0 401.5h0.76v0.76h-0.76zM450.4 386.2h0.76v0.76h-0.76zM473.4 386.3h0.76v0.76h-0.76zM455.8 392.0h0.76v0.76h-0.76zM456.7 398.9h0.76v0.76h-0.76zM466.7 395.7h0.76v0.76h-0.76zM441.6 389.0h0.76v0.76h-0.76zM462.3 383.5h0.76v0.76h-0.76zM442.2 382.6h0.76v0.76h-0.76zM469.9 389.5h0.76v0.76h-0.76zM466.8 375.1h0.76v0.76h-0.76zM453.5 383.9h0.76v0.76h-0.76zM444.7 382.9h0.76v0.76h-0.76zM430.9 400.0h0.76v0.76h-0.76zM450.6 393.8h0.76v0.76h-0.76zM457.3 386.2h0.76v0.76h-0.76zM438.7 401.2h0.76v0.76h-0.76zM454.1 377.0h0.76v0.76h-0.76zM456.1 404.8h0.76v0.76h-0.76zM455.5 386.4h0.76v0.76h-0.76zM451.1 390.7h0.76v0.76h-0.76zM452.9 380.3h0.76v0.76h-0.76zM441.6 398.3h0.76v0.76h-0.76zM463.0 379.9h0.76v0.76h-0.76zM440.1 401.7h0.76v0.76h-0.76zM452.8 373.3h0.76v0.76h-0.76zM434.3 402.3h0.76v0.76h-0.76zM439.4 400.7h0.76v0.76h-0.76zM466.5 380.6h0.76v0.76h-0.76zM434.5 390.8h0.76v0.76h-0.76zM436.5 384.7h0.76v0.76h-0.76zM453.7 372.7h0.76v0.76h-0.76zM449.8 379.1h0.76v0.76h-0.76zM455.9 395.4h0.76v0.76h-0.76zM440.6 389.0h0.76v0.76h-0.76zM446.6 397.1h0.76v0.76h-0.76zM442.6 394.7h0.76v0.76h-0.76zM439.2 396.4h0.76v0.76h-0.76zM445.6 379.2h0.76v0.76h-0.76zM446.5 385.0h0.76v0.76h-0.76zM450.3 397.5h0.76v0.76h-0.76zM441.1 393.8h0.76v0.76h-0.76zM448.2 391.4h0.76v0.76h-0.76zM436.4 377.2h0.76v0.76h-0.76zM451.2 390.2h0.76v0.76h-0.76zM456.4 374.8h0.76v0.76h-0.76zM442.9 390.2h0.76v0.76h-0.76zM448.6 398.2h0.76v0.76h-0.76zM448.3 376.0h0.76v0.76h-0.76zM433.2 397.5h0.76v0.76h-0.76zM458.5 399.1h0.76v0.76h-0.76zM445.0 388.6h0.76v0.76h-0.76zM445.6 369.8h0.76v0.76h-0.76zM460.2 388.3h0.76v0.76h-0.76zM432.0 393.2h0.76v0.76h-0.76zM454.5 376.2h0.76v0.76h-0.76zM468.7 380.2h0.76v0.76h-0.76zM454.8 395.7h0.76v0.76h-0.76zM456.7 402.2h0.76v0.76h-0.76zM433.4 399.6h0.76v0.76h-0.76zM453.9 378.8h0.76v0.76h-0.76zM447.4 397.8h0.76v0.76h-0.76zM472.4 392.5h0.76v0.76h-0.76zM435.9 380.8h0.76v0.76h-0.76zM436.2 380.8h0.76v0.76h-0.76zM452.5 383.5h0.76v0.76h-0.76zM470.5 382.1h0.76v0.76h-0.76zM462.2 374.4h0.76v0.76h-0.76zM450.4 382.0h0.76v0.76h-0.76zM461.1 393.2h0.76v0.76h-0.76zM462.8 378.1h0.76v0.76h-0.76zM441.8 388.3h0.76v0.76h-0.76zM446.2 392.3h0.76v0.76h-0.76zM448.1 382.8h0.76v0.76h-0.76zM446.2 378.4h0.76v0.76h-0.76zM452.7 397.8h0.76v0.76h-0.76zM453.5 398.3h0.76v0.76h-0.76zM459.7 403.7h0.76v0.76h-0.76zM455.4 385.0h0.76v0.76h-0.76zM461.9 396.1h0.76v0.76h-0.76zM455.1 385.9h0.76v0.76h-0.76zM458.1 392.6h0.76v0.76h-0.76zM431.1 394.6h0.76v0.76h-0.76zM447.5 385.8h0.76v0.76h-0.76zM458.5 397.5h0.76v0.76h-0.76zM454.0 384.0h0.76v0.76h-0.76zM450.0 396.0h0.76v0.76h-0.76zM432.3 382.5h0.76v0.76h-0.76zM455.6 395.2h0.76v0.76h-0.76zM444.3 403.9h0.76v0.76h-0.76zM449.5 403.2h0.76v0.76h-0.76zM452.7 397.8h0.76v0.76h-0.76zM435.4 389.5h0.76v0.76h-0.76zM454.5 393.1h0.76v0.76h-0.76zM431.2 390.0h0.76v0.76h-0.76zM441.7 398.7h0.76v0.76h-0.76zM455.5 403.4h0.76v0.76h-0.76zM450.9 384.6h0.76v0.76h-0.76zM449.9 395.3h0.76v0.76h-0.76zM465.0 367.3h0.76v0.76h-0.76zM451.6 383.7h0.76v0.76h-0.76zM449.6 382.1h0.76v0.76h-0.76zM436.3 394.8h0.76v0.76h-0.76zM441.4 390.2h0.76v0.76h-0.76zM454.4 381.3h0.76v0.76h-0.76zM444.7 393.7h0.76v0.76h-0.76zM439.4 402.4h0.76v0.76h-0.76zM457.0 384.1h0.76v0.76h-0.76zM445.8 374.8h0.76v0.76h-0.76zM438.6 383.2h0.76v0.76h-0.76zM449.2 382.3h0.76v0.76h-0.76zM452.2 384.1h0.76v0.76h-0.76zM432.4 392.4h0.76v0.76h-0.76zM440.1 393.9h0.76v0.76h-0.76zM452.1 391.2h0.76v0.76h-0.76zM444.8 384.6h0.76v0.76h-0.76zM449.6 393.2h0.76v0.76h-0.76zM454.2 391.5h0.76v0.76h-0.76zM449.2 385.1h0.76v0.76h-0.76zM461.2 388.3h0.76v0.76h-0.76zM436.6 393.4h0.76v0.76h-0.76zM451.6 396.3h0.76v0.76h-0.76zM447.9 388.2h0.76v0.76h-0.76zM453.0 399.1h0.76v0.76h-0.76zM450.2 387.5h0.76v0.76h-0.76zM448.6 387.8h0.76v0.76h-0.76zM465.2 385.4h0.76v0.76h-0.76zM452.1 372.6h0.76v0.76h-0.76zM442.0 391.6h0.76v0.76h-0.76zM456.4 385.5h0.76v0.76h-0.76zM448.5 378.8h0.76v0.76h-0.76zM449.6 377.9h0.76v0.76h-0.76zM463.0 385.6h0.76v0.76h-0.76zM449.9 381.4h0.76v0.76h-0.76zM445.0 389.8h0.76v0.76h-0.76zM463.5 387.6h0.76v0.76h-0.76zM432.3 365.3h0.76v0.76h-0.76zM474.9 381.1h0.76v0.76h-0.76zM453.2 386.8h0.76v0.76h-0.76zM461.7 384.4h0.76v0.76h-0.76zM440.4 397.2h0.76v0.76h-0.76zM455.0 389.5h0.76v0.76h-0.76zM462.2 392.2h0.76v0.76h-0.76zM449.9 377.1h0.76v0.76h-0.76zM439.0 376.1h0.76v0.76h-0.76zM433.2 389.5h0.76v0.76h-0.76zM449.3 389.6h0.76v0.76h-0.76zM449.3 387.7h0.76v0.76h-0.76zM455.5 397.3h0.76v0.76h-0.76zM452.6 386.0h0.76v0.76h-0.76zM435.1 388.7h0.76v0.76h-0.76zM436.4 389.2h0.76v0.76h-0.76zM446.3 373.6h0.76v0.76h-0.76zM464.4 394.4h0.76v0.76h-0.76zM453.4 376.5h0.76v0.76h-0.76zM458.5 391.1h0.76v0.76h-0.76z"/>
<path fill="#3d5cc0" fill-opacity="0.6" d="M469.7 403.1h0.76v0.76h-0.76zM475.8 381.7h0.76v0.76h-0.76zM465.5 396.8h0.76v0.76h-0.76zM466.8 389.9h0.76v0.76h-0.76zM470.3 379.7h0.76v0.76h-0.76zM463.5 402.3h0.76v0.76h-0.76zM469.6 391.9h0.76v0.76h-0.76zM453.5 399.4h0.76v0.76h-0.76zM468.6 389.5h0.76v0.76h-0.76zM469.7 389.8h0.76v0.76h-0.76zM469.6 387.6h0.76v0.76h-0.76zM469.2 392.9h0.76v0.76h-0.76zM467.0 377.1h0.76v0.76h-0.76zM452.9 399.5h0.76v0.76h-0.76zM466.5 403.6h0.76v0.76h-0.76zM467.4 375.5h0.76v0.76h-0.76zM464.9 402.2h0.76v0.76h-0.76zM461.7 392.5h0.76v0.76h-0.76zM460.8 394.2h0.76v0.76h-0.76zM466.8 402.3h0.76v0.76h-0.76zM468.8 381.4h0.76v0.76h-0.76zM461.3 391.5h0.76v0.76h-0.76zM470.1 382.1h0.76v0.76h-0.76zM464.2 384.8h0.76v0.76h-0.76zM472.9 399.7h0.76v0.76h-0.76zM463.2 404.6h0.76v0.76h-0.76zM472.2 386.1h0.76v0.76h-0.76zM471.9 374.8h0.76v0.76h-0.76zM456.7 400.0h0.76v0.76h-0.76zM473.9 385.7h0.76v0.76h-0.76zM473.0 374.2h0.76v0.76h-0.76zM461.1 394.3h0.76v0.76h-0.76zM474.5 390.0h0.76v0.76h-0.76zM459.1 402.7h0.76v0.76h-0.76zM460.5 406.0h0.76v0.76h-0.76zM468.4 403.6h0.76v0.76h-0.76zM461.1 392.1h0.76v0.76h-0.76zM470.7 390.2h0.76v0.76h-0.76zM466.5 392.5h0.76v0.76h-0.76zM463.2 382.2h0.76v0.76h-0.76zM471.1 389.3h0.76v0.76h-0.76zM463.8 384.1h0.76v0.76h-0.76zM455.3 402.3h0.76v0.76h-0.76zM459.9 403.8h0.76v0.76h-0.76zM468.8 404.8h0.76v0.76h-0.76zM468.9 404.2h0.76v0.76h-0.76zM463.7 396.0h0.76v0.76h-0.76zM467.7 405.0h0.76v0.76h-0.76zM463.9 388.8h0.76v0.76h-0.76zM465.4 386.7h0.76v0.76h-0.76zM458.1 404.2h0.76v0.76h-0.76zM460.1 405.1h0.76v0.76h-0.76zM454.5 396.6h0.76v0.76h-0.76zM468.6 390.5h0.76v0.76h-0.76zM459.9 402.9h0.76v0.76h-0.76zM470.3 384.3h0.76v0.76h-0.76zM470.6 374.3h0.76v0.76h-0.76zM466.6 396.4h0.76v0.76h-0.76zM469.7 397.0h0.76v0.76h-0.76zM467.4 376.3h0.76v0.76h-0.76zM474.5 375.9h0.76v0.76h-0.76zM465.8 380.7h0.76v0.76h-0.76zM463.1 389.7h0.76v0.76h-0.76zM462.1 392.0h0.76v0.76h-0.76zM473.5 379.4h0.76v0.76h-0.76zM470.6 373.7h0.76v0.76h-0.76zM467.1 398.1h0.76v0.76h-0.76zM470.0 392.0h0.76v0.76h-0.76zM462.2 403.1h0.76v0.76h-0.76zM466.3 400.3h0.76v0.76h-0.76zM465.0 404.3h0.76v0.76h-0.76zM467.1 387.7h0.76v0.76h-0.76zM466.7 382.1h0.76v0.76h-0.76zM463.1 381.1h0.76v0.76h-0.76zM466.6 387.8h0.76v0.76h-0.76zM469.6 401.2h0.76v0.76h-0.76zM455.6 399.3h0.76v0.76h-0.76zM473.5 390.7h0.76v0.76h-0.76zM456.9 401.8h0.76v0.76h-0.76zM459.9 388.4h0.76v0.76h-0.76zM464.9 398.7h0.76v0.76h-0.76zM465.3 402.9h0.76v0.76h-0.76zM462.0 388.8h0.76v0.76h-0.76zM465.9 389.8h0.76v0.76h-0.76zM468.7 389.2h0.76v0.76h-0.76zM457.2 394.0h0.76v0.76h-0.76zM473.1 391.5h0.76v0.76h-0.76zM473.5 380.6h0.76v0.76h-0.76zM465.6 398.9h0.76v0.76h-0.76zM475.1 386.1h0.76v0.76h-0.76zM472.2 403.6h0.76v0.76h-0.76zM461.6 400.9h0.76v0.76h-0.76zM465.0 389.3h0.76v0.76h-0.76zM458.7 406.0h0.76v0.76h-0.76zM461.6 405.9h0.76v0.76h-0.76zM458.2 395.6h0.76v0.76h-0.76zM470.2 385.3h0.76v0.76h-0.76zM468.1 391.7h0.76v0.76h-0.76zM472.7 381.8h0.76v0.76h-0.76zM470.7 383.3h0.76v0.76h-0.76zM471.6 377.7h0.76v0.76h-0.76zM470.1 385.1h0.76v0.76h-0.76zM461.3 386.2h0.76v0.76h-0.76zM467.7 388.6h0.76v0.76h-0.76zM460.5 396.7h0.76v0.76h-0.76zM461.2 401.5h0.76v0.76h-0.76zM459.5 401.1h0.76v0.76h-0.76zM471.5 383.4h0.76v0.76h-0.76zM474.2 387.2h0.76v0.76h-0.76zM467.3 405.5h0.76v0.76h-0.76zM462.5 387.4h0.76v0.76h-0.76zM461.5 387.7h0.76v0.76h-0.76zM469.7 384.4h0.76v0.76h-0.76zM461.7 391.7h0.76v0.76h-0.76zM474.4 392.4h0.76v0.76h-0.76zM457.4 402.2h0.76v0.76h-0.76zM461.7 389.0h0.76v0.76h-0.76zM467.4 399.1h0.76v0.76h-0.76zM473.1 395.6h0.76v0.76h-0.76zM460.7 388.5h0.76v0.76h-0.76zM467.1 386.7h0.76v0.76h-0.76zM468.1 384.7h0.76v0.76h-0.76zM472.0 385.5h0.76v0.76h-0.76zM468.1 386.0h0.76v0.76h-0.76zM473.2 390.0h0.76v0.76h-0.76zM472.5 388.0h0.76v0.76h-0.76zM472.3 379.4h0.76v0.76h-0.76zM458.3 401.1h0.76v0.76h-0.76zM473.5 374.2h0.76v0.76h-0.76zM458.6 399.9h0.76v0.76h-0.76zM474.9 378.0h0.76v0.76h-0.76zM471.8 392.6h0.76v0.76h-0.76zM468.0 380.5h0.76v0.76h-0.76zM452.8 398.8h0.76v0.76h-0.76zM470.4 392.6h0.76v0.76h-0.76zM465.1 404.6h0.76v0.76h-0.76zM469.1 401.8h0.76v0.76h-0.76zM469.0 403.0h0.76v0.76h-0.76zM457.2 397.0h0.76v0.76h-0.76zM468.5 391.3h0.76v0.76h-0.76zM473.7 396.1h0.76v0.76h-0.76zM468.2 380.1h0.76v0.76h-0.76zM470.5 380.8h0.76v0.76h-0.76zM460.6 401.3h0.76v0.76h-0.76zM466.7 387.7h0.76v0.76h-0.76zM470.8 393.2h0.76v0.76h-0.76zM472.4 402.4h0.76v0.76h-0.76zM468.9 404.0h0.76v0.76h-0.76zM474.1 391.2h0.76v0.76h-0.76zM466.3 396.7h0.76v0.76h-0.76zM472.8 373.4h0.76v0.76h-0.76zM475.2 382.9h0.76v0.76h-0.76zM469.8 404.9h0.76v0.76h-0.76zM467.0 376.1h0.76v0.76h-0.76zM462.5 405.7h0.76v0.76h-0.76zM458.4 406.1h0.76v0.76h-0.76zM462.7 401.4h0.76v0.76h-0.76zM465.4 399.1h0.76v0.76h-0.76zM474.7 383.6h0.76v0.76h-0.76zM464.7 398.2h0.76v0.76h-0.76zM472.9 395.7h0.76v0.76h-0.76zM474.3 377.9h0.76v0.76h-0.76zM461.8 386.4h0.76v0.76h-0.76zM460.1 393.1h0.76v0.76h-0.76zM463.3 386.4h0.76v0.76h-0.76zM463.3 399.5h0.76v0.76h-0.76zM468.9 377.2h0.76v0.76h-0.76zM468.6 399.4h0.76v0.76h-0.76zM473.8 392.2h0.76v0.76h-0.76zM460.7 390.8h0.76v0.76h-0.76zM468.9 387.9h0.76v0.76h-0.76zM462.4 405.7h0.76v0.76h-0.76zM469.2 388.9h0.76v0.76h-0.76zM458.6 391.0h0.76v0.76h-0.76zM463.7 382.0h0.76v0.76h-0.76zM465.6 389.8h0.76v0.76h-0.76zM466.5 383.1h0.76v0.76h-0.76zM469.2 384.0h0.76v0.76h-0.76zM468.7 389.3h0.76v0.76h-0.76zM470.9 383.4h0.76v0.76h-0.76zM454.9 402.3h0.76v0.76h-0.76zM466.9 404.6h0.76v0.76h-0.76zM459.8 392.7h0.76v0.76h-0.76zM472.5 377.9h0.76v0.76h-0.76zM472.4 396.7h0.76v0.76h-0.76zM462.7 394.6h0.76v0.76h-0.76zM472.0 391.6h0.76v0.76h-0.76zM454.9 400.1h0.76v0.76h-0.76zM460.2 399.8h0.76v0.76h-0.76zM459.8 403.0h0.76v0.76h-0.76zM462.0 390.6h0.76v0.76h-0.76zM471.0 402.1h0.76v0.76h-0.76zM458.7 401.9h0.76v0.76h-0.76zM470.3 403.7h0.76v0.76h-0.76zM462.8 394.0h0.76v0.76h-0.76zM475.6 382.5h0.76v0.76h-0.76zM471.4 378.7h0.76v0.76h-0.76zM470.4 389.3h0.76v0.76h-0.76zM471.0 384.7h0.76v0.76h-0.76zM474.0 383.8h0.76v0.76h-0.76zM461.1 385.7h0.76v0.76h-0.76zM469.8 375.6h0.76v0.76h-0.76zM472.2 382.8h0.76v0.76h-0.76zM459.0 394.1h0.76v0.76h-0.76zM458.9 392.7h0.76v0.76h-0.76zM469.2 375.9h0.76v0.76h-0.76zM456.8 398.2h0.76v0.76h-0.76zM470.5 377.9h0.76v0.76h-0.76zM458.5 404.3h0.76v0.76h-0.76zM469.5 376.0h0.76v0.76h-0.76zM454.9 402.0h0.76v0.76h-0.76zM471.4 389.3h0.76v0.76h-0.76zM473.1 394.6h0.76v0.76h-0.76zM468.8 392.6h0.76v0.76h-0.76zM464.6 395.0h0.76v0.76h-0.76zM463.6 395.2h0.76v0.76h-0.76zM469.4 400.2h0.76v0.76h-0.76zM469.7 375.6h0.76v0.76h-0.76zM464.0 398.4h0.76v0.76h-0.76zM472.2 397.0h0.76v0.76h-0.76z"/>
<g filter="url(#bl1_0)"><polygon points="431.0,389.0 442.0,393.0 452.0,386.0 452.0,400.0 440.0,404.0 431.0,404.0" fill="#4a6ac8" fill-opacity="0.35"/><polygon points="454.0,398.0 467.5,374.5 472.0,372.5 474.5,383.0 473.0,395.0 470.5,404.5 457.5,405.0" fill="#3a60c0" fill-opacity="0.72"/><ellipse cx="463" cy="388" rx="4" ry="10" fill="#3f8ad0" fill-opacity="0.5" transform="rotate(25 463 388)"/><polygon points="431.0,368.0 458.6,363.0 468.0,364.5 468.0,368.0 460.0,378.5 441.7,392.0 431.0,389.0" fill="#3555b8" fill-opacity="0.92"/><polygon points="432.5,375.0 452.0,367.5 466.0,365.0 466.0,368.5 457.0,377.0 441.0,389.0 433.0,388.0" fill="#2fa8e0" fill-opacity="0.95"/><polygon points="435.0,379.0 450.0,371.0 463.0,366.5 462.5,370.0 453.0,376.5 440.0,385.5 435.0,384.5" fill="#48c46a" fill-opacity="1"/><polygon points="440.0,379.5 451.0,373.0 462.0,368.0 459.5,371.5 449.0,377.5 441.0,381.5" fill="#e6e23a" fill-opacity="1"/><polygon points="446.0,377.0 454.0,372.5 461.0,369.0 457.5,372.3 449.0,376.5" fill="#f3922a" fill-opacity="1"/><ellipse cx="458.5" cy="370.7" rx="2.2" ry="1.1" fill="#ec2c1c" fill-opacity="1" transform="rotate(-25 458.5 370.7)"/><ellipse cx="449" cy="375" rx="2.4" ry="0.9" fill="#ec4a1c" fill-opacity="0.9" transform="rotate(-25 449 375)"/></g>
<rect x="430.9" y="337.4" width="69.30000000000001" height="68.80000000000001" fill="none" stroke="#222" stroke-width="1.1"/>
<line x1="429.30" y1="344.20" x2="430.90" y2="344.20" stroke="#333" stroke-width="0.8"/>
<text x="428.40" y="346.20" font-size="7.1" text-anchor="end" font-weight="normal" fill="#333">10<tspan font-size="4.3" dy="-2.4">5</tspan></text>
<line x1="429.30" y1="360.60" x2="430.90" y2="360.60" stroke="#333" stroke-width="0.8"/>
<text x="428.40" y="362.60" font-size="7.1" text-anchor="end" font-weight="normal" fill="#333">10<tspan font-size="4.3" dy="-2.4">4</tspan></text>
<line x1="429.30" y1="378.80" x2="430.90" y2="378.80" stroke="#333" stroke-width="0.8"/>
<text x="428.40" y="380.80" font-size="7.1" text-anchor="end" font-weight="normal" fill="#333">10<tspan font-size="4.3" dy="-2.4">3</tspan></text>
<line x1="429.30" y1="391.30" x2="430.90" y2="391.30" stroke="#333" stroke-width="0.8"/>
<text x="428.40" y="393.30" font-size="7.1" text-anchor="end" font-weight="normal" fill="#333">0</text>
<line x1="429.30" y1="401.00" x2="430.90" y2="401.00" stroke="#333" stroke-width="0.8"/>
<text x="428.40" y="403.00" font-size="7.1" text-anchor="end" font-weight="normal" fill="#333">−10<tspan font-size="4.3" dy="-2.4">3</tspan></text>
<line x1="434.40" y1="406.20" x2="434.40" y2="407.80" stroke="#333" stroke-width="0.8"/>
<text x="434.40" y="413.90" font-size="7.1" text-anchor="middle" font-weight="normal" fill="#333">−10<tspan font-size="4.3" dy="-2.4">3</tspan></text>
<line x1="446.90" y1="406.20" x2="446.90" y2="407.80" stroke="#333" stroke-width="0.8"/>
<text x="446.90" y="413.90" font-size="7.1" text-anchor="middle" font-weight="normal" fill="#333">0</text>
<line x1="456.20" y1="406.20" x2="456.20" y2="407.80" stroke="#333" stroke-width="0.8"/>
<text x="456.20" y="413.90" font-size="7.1" text-anchor="middle" font-weight="normal" fill="#333">10<tspan font-size="4.3" dy="-2.4">3</tspan></text>
<line x1="475.80" y1="406.20" x2="475.80" y2="407.80" stroke="#333" stroke-width="0.8"/>
<text x="475.80" y="413.90" font-size="7.1" text-anchor="middle" font-weight="normal" fill="#333">10<tspan font-size="4.3" dy="-2.4">4</tspan></text>
<line x1="491.20" y1="406.20" x2="491.20" y2="407.80" stroke="#333" stroke-width="0.8"/>
<text x="491.20" y="413.90" font-size="7.1" text-anchor="middle" font-weight="normal" fill="#333">10<tspan font-size="4.3" dy="-2.4">5</tspan></text>
<line x1="429.90" y1="349.12" x2="430.90" y2="349.12" stroke="#555" stroke-width="0.6"/>
<line x1="429.90" y1="352.40" x2="430.90" y2="352.40" stroke="#555" stroke-width="0.6"/>
<line x1="429.90" y1="354.86" x2="430.90" y2="354.86" stroke="#555" stroke-width="0.6"/>
<line x1="429.90" y1="356.99" x2="430.90" y2="356.99" stroke="#555" stroke-width="0.6"/>
<line x1="429.90" y1="358.96" x2="430.90" y2="358.96" stroke="#555" stroke-width="0.6"/>
<line x1="429.90" y1="366.06" x2="430.90" y2="366.06" stroke="#555" stroke-width="0.6"/>
<line x1="429.90" y1="369.70" x2="430.90" y2="369.70" stroke="#555" stroke-width="0.6"/>
<line x1="429.90" y1="372.43" x2="430.90" y2="372.43" stroke="#555" stroke-width="0.6"/>
<line x1="429.90" y1="374.80" x2="430.90" y2="374.80" stroke="#555" stroke-width="0.6"/>
<line x1="429.90" y1="376.98" x2="430.90" y2="376.98" stroke="#555" stroke-width="0.6"/>
<line x1="429.90" y1="382.55" x2="430.90" y2="382.55" stroke="#555" stroke-width="0.6"/>
<line x1="429.90" y1="385.05" x2="430.90" y2="385.05" stroke="#555" stroke-width="0.6"/>
<line x1="429.90" y1="386.93" x2="430.90" y2="386.93" stroke="#555" stroke-width="0.6"/>
<line x1="429.90" y1="388.55" x2="430.90" y2="388.55" stroke="#555" stroke-width="0.6"/>
<line x1="429.90" y1="390.05" x2="430.90" y2="390.05" stroke="#555" stroke-width="0.6"/>
<line x1="438.15" y1="406.20" x2="438.15" y2="407.20" stroke="#555" stroke-width="0.6"/>
<line x1="440.65" y1="406.20" x2="440.65" y2="407.20" stroke="#555" stroke-width="0.6"/>
<line x1="442.52" y1="406.20" x2="442.52" y2="407.20" stroke="#555" stroke-width="0.6"/>
<line x1="444.15" y1="406.20" x2="444.15" y2="407.20" stroke="#555" stroke-width="0.6"/>
<line x1="445.65" y1="406.20" x2="445.65" y2="407.20" stroke="#555" stroke-width="0.6"/>
<line x1="462.08" y1="406.20" x2="462.08" y2="407.20" stroke="#555" stroke-width="0.6"/>
<line x1="466.00" y1="406.20" x2="466.00" y2="407.20" stroke="#555" stroke-width="0.6"/>
<line x1="468.94" y1="406.20" x2="468.94" y2="407.20" stroke="#555" stroke-width="0.6"/>
<line x1="471.49" y1="406.20" x2="471.49" y2="407.20" stroke="#555" stroke-width="0.6"/>
<line x1="473.84" y1="406.20" x2="473.84" y2="407.20" stroke="#555" stroke-width="0.6"/>
<line x1="480.42" y1="406.20" x2="480.42" y2="407.20" stroke="#555" stroke-width="0.6"/>
<line x1="483.50" y1="406.20" x2="483.50" y2="407.20" stroke="#555" stroke-width="0.6"/>
<line x1="485.81" y1="406.20" x2="485.81" y2="407.20" stroke="#555" stroke-width="0.6"/>
<line x1="487.81" y1="406.20" x2="487.81" y2="407.20" stroke="#555" stroke-width="0.6"/>
<line x1="489.66" y1="406.20" x2="489.66" y2="407.20" stroke="#555" stroke-width="0.6"/>
<polygon points="430.20,366.90 458.60,362.00 469.40,363.10 469.40,367.70 460.90,379.20 441.70,393.10 430.20,390.00 428.60,380.80 429.40,371.50" stroke="#151515" stroke-width="1.3" fill="none" stroke-linejoin="round"/>
<polygon points="452.50,399.20 467.80,373.10 473.20,370.30 476.00,382.30 474.50,394.60 471.70,405.40 457.10,406.20" stroke="#151515" stroke-width="1.3" fill="none" stroke-linejoin="round"/>
<text x="433.20" y="350.60" font-size="6.2" text-anchor="start" font-weight="normal" fill="#2a2a2a" textLength="10" lengthAdjust="spacingAndGlyphs">CD4</text>
<text x="433.20" y="355.60" font-size="6.2" text-anchor="start" font-weight="normal" fill="#2a2a2a" textLength="10" lengthAdjust="spacingAndGlyphs">83.8</text>
<text x="485.50" y="400.30" font-size="6.2" text-anchor="start" font-weight="normal" fill="#2a2a2a" textLength="10" lengthAdjust="spacingAndGlyphs">CD8</text>
<text x="486.00" y="404.40" font-size="6.2" text-anchor="start" font-weight="normal" fill="#2a2a2a" textLength="9.5" lengthAdjust="spacingAndGlyphs">12.3</text>
<text x="0" y="0" font-size="10.5" text-anchor="start" fill="#111" textLength="21" lengthAdjust="spacingAndGlyphs" transform="translate(414.98 408.30) rotate(-90)">CD4</text>
<line x1="411.20" y1="385.00" x2="411.20" y2="346.10" stroke="#111" stroke-width="1.0"/>
<polygon points="409.00,347.10 411.20,341.60 413.40,347.10" stroke="#111" stroke-width="0.5" fill="#111" stroke-linejoin="round"/>
<text x="418.70" y="425.28" font-size="10.5" text-anchor="start" font-weight="normal" fill="#111" textLength="19.2" lengthAdjust="spacingAndGlyphs">CD8</text>
<line x1="440.40" y1="421.50" x2="496.80" y2="421.50" stroke="#111" stroke-width="1.0"/>
<polygon points="495.80,419.30 501.30,421.50 495.80,423.70" stroke="#111" stroke-width="0.5" fill="#111" stroke-linejoin="round"/>
<rect x="0" y="0" width="520" height="1.6" fill="#000"/><rect x="0" y="0" width="1.6" height="697" fill="#000"/><rect x="518" y="0" width="2" height="697" fill="#000"/><rect x="0" y="694.7" width="520" height="2.3" fill="#000"/>
</svg></body></html>
